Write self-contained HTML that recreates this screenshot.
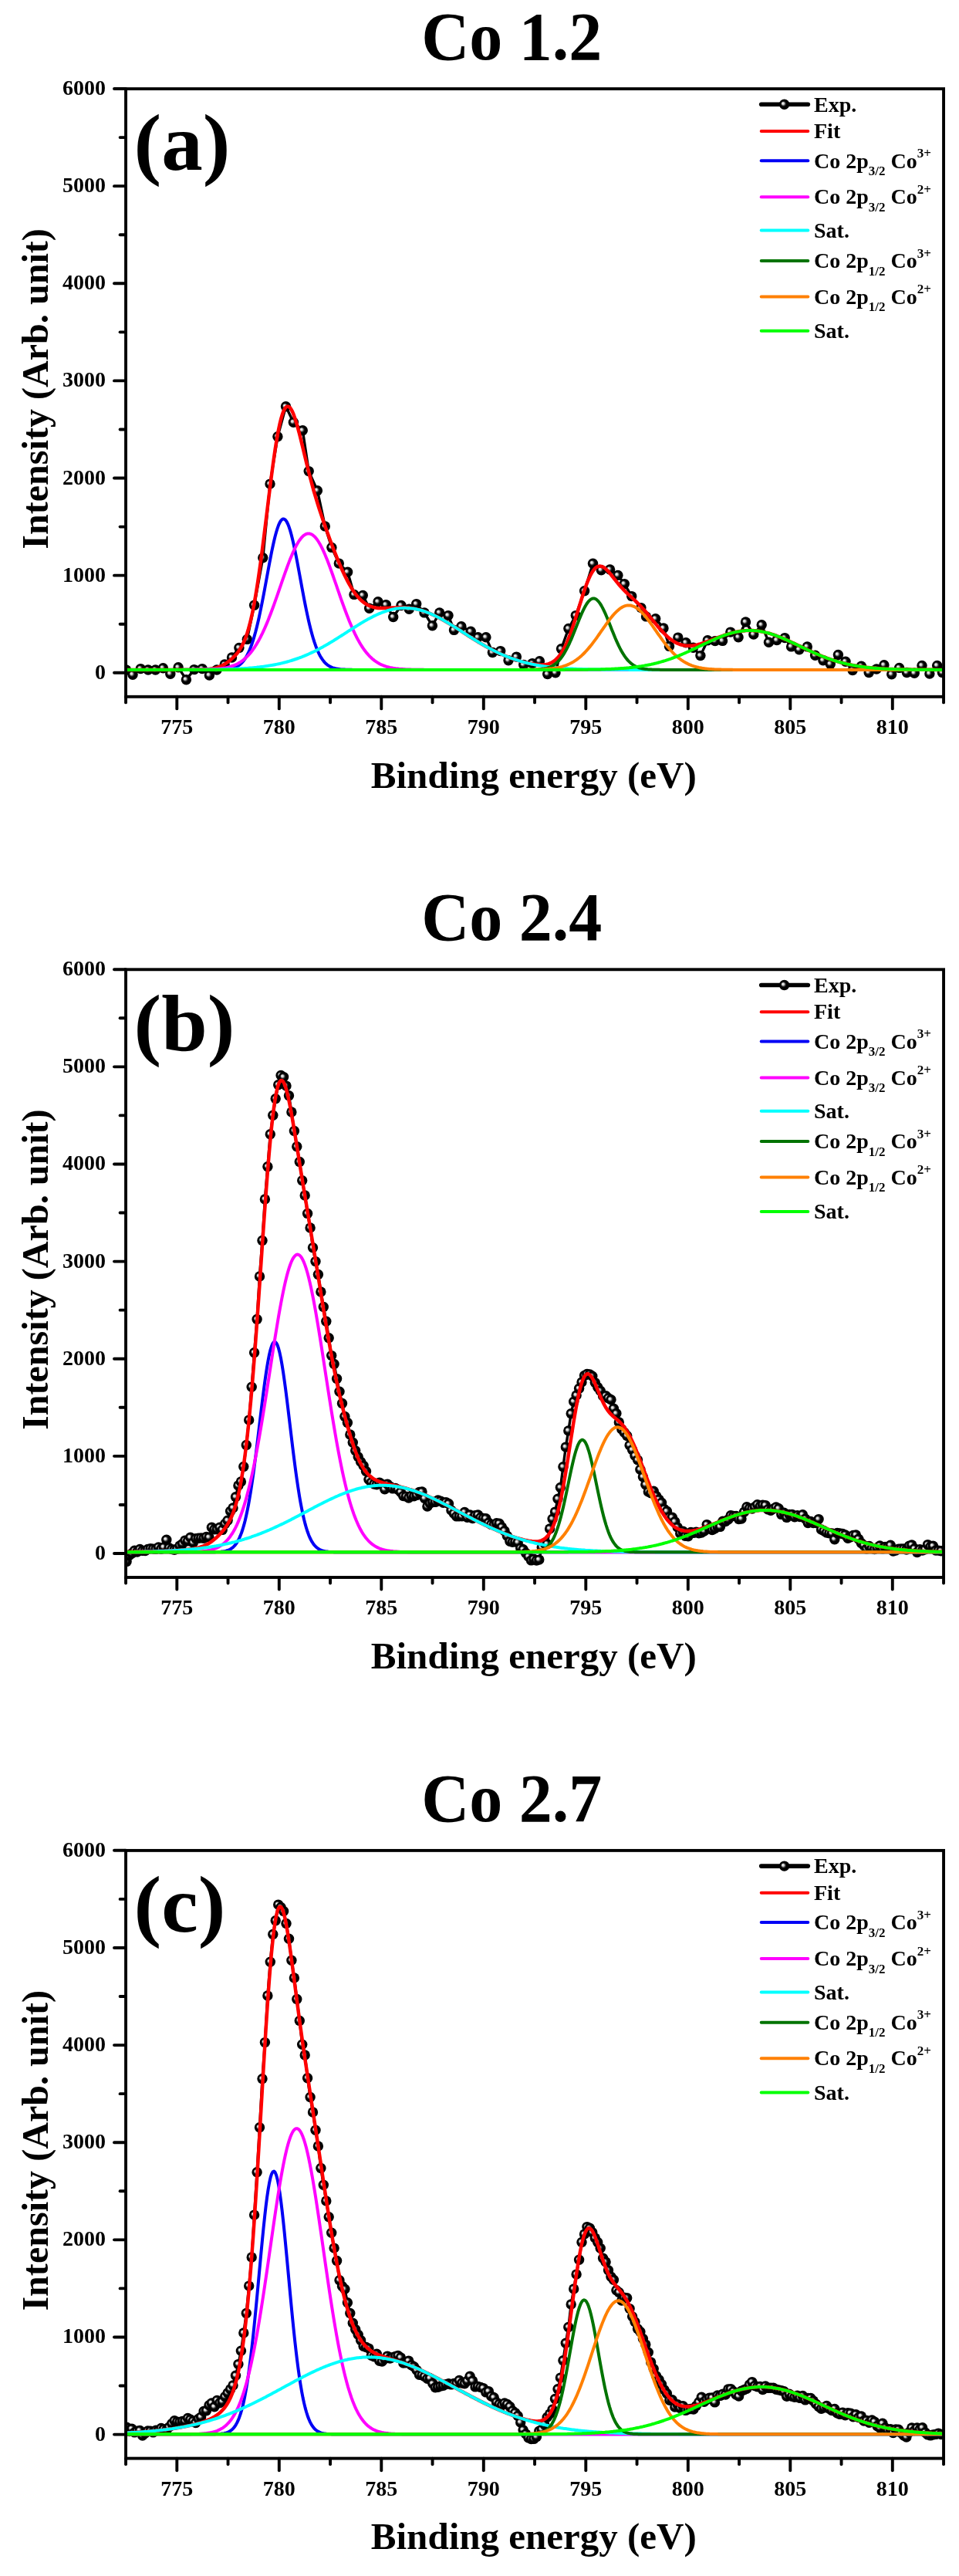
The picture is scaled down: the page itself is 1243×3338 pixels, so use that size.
<!DOCTYPE html><html><head><meta charset="utf-8"><style>html,body{margin:0;padding:0;background:#fff;}svg{display:block;will-change:transform;}</style></head><body>
<svg width="1243" height="3338" viewBox="0 0 1243 3338">
<defs><radialGradient id="sg" cx="0.5" cy="0.5" r="0.5" fx="0.34" fy="0.38"><stop offset="0" stop-color="#ffffff"/><stop offset="0.23" stop-color="#c8c8c8"/><stop offset="0.43" stop-color="#2a2a2a"/><stop offset="0.58" stop-color="#000"/><stop offset="1" stop-color="#000"/></radialGradient>
<circle id="dot" cx="0" cy="0" r="6.7" fill="url(#sg)"/>
<clipPath id="cp"><rect x="163.05" y="115.10" width="1060.00" height="787.70"/></clipPath></defs>
<rect width="1243" height="3338" fill="#fff"/>
<g transform="translate(0,0.0)">
<g clip-path="url(#cp)">
<path d="M163.5,868.0 L172.0,874.2 L182.3,866.6 L192.0,868.0 L201.5,868.0 L211.4,865.7 L220.8,873.2 L231.1,864.8 L241.4,880.7 L251.7,867.6 L262.1,866.6 L271.4,875.1 L281.0,868.0 L291.2,861.0 L300.5,852.0 L309.9,839.4 L320.3,828.4 L329.6,784.2 L340.8,722.8 L350.0,627.1 L359.9,565.7 L370.5,526.8 L380.4,547.2 L392.3,557.8 L400.2,610.6 L411.4,635.7 L421.3,681.9 L429.9,709.4 L439.3,730.1 L450.6,741.3 L459.0,770.4 L470.3,771.4 L478.7,788.3 L490.0,779.8 L500.3,783.6 L509.7,799.5 L520.0,784.5 L530.3,789.2 L539.7,782.6 L550.0,793.9 L560.4,810.8 L569.7,793.9 L581.0,797.6 L588.5,816.4 L597.9,811.7 L610.2,818.3 L619.6,825.8 L629.9,825.8 L638.4,845.5 L648.7,843.6 L659.0,855.8 L669.4,851.1 L678.7,861.4 L690.0,859.6 L699.4,856.7 L709.7,873.6 L720.0,871.8 L727.5,840.8 L736.9,814.5 L746.3,797.6 L757.6,765.7 L768.5,730.2 L779.3,738.8 L790.6,737.9 L800.9,745.4 L809.3,756.6 L818.7,772.6 L830.9,787.6 L837.5,798.9 L849.7,801.7 L860.0,813.9 L867.5,837.4 L878.8,826.1 L889.1,832.7 L898.5,839.2 L907.9,849.6 L917.2,829.8 L926.9,830.6 L936.5,830.4 L946.8,819.1 L957.1,825.7 L966.5,806.0 L976.8,822.0 L987.2,809.8 L996.5,832.3 L1006.9,829.5 L1017.2,826.6 L1025.6,837.9 L1035.9,841.7 L1046.3,837.9 L1056.6,849.2 L1066.9,855.7 L1076.3,860.4 L1086.4,848.5 L1096.0,857.3 L1105.1,868.5 L1116.4,863.2 L1126.2,871.5 L1136.1,867.0 L1145.9,861.7 L1155.7,873.8 L1165.6,865.4 L1175.4,871.5 L1185.2,872.3 L1195.0,862.4 L1204.9,873.0 L1214.7,862.4 L1221.4,871.5" fill="none" stroke="#000" stroke-width="3.4" stroke-linejoin="round"/>
<g><use href="#dot" x="163.5" y="868.0"/><use href="#dot" x="172.0" y="874.2"/><use href="#dot" x="182.3" y="866.6"/><use href="#dot" x="192.0" y="868.0"/><use href="#dot" x="201.5" y="868.0"/><use href="#dot" x="211.4" y="865.7"/><use href="#dot" x="220.8" y="873.2"/><use href="#dot" x="231.1" y="864.8"/><use href="#dot" x="241.4" y="880.7"/><use href="#dot" x="251.7" y="867.6"/><use href="#dot" x="262.1" y="866.6"/><use href="#dot" x="271.4" y="875.1"/><use href="#dot" x="281.0" y="868.0"/><use href="#dot" x="291.2" y="861.0"/><use href="#dot" x="300.5" y="852.0"/><use href="#dot" x="309.9" y="839.4"/><use href="#dot" x="320.3" y="828.4"/><use href="#dot" x="329.6" y="784.2"/><use href="#dot" x="340.8" y="722.8"/><use href="#dot" x="350.0" y="627.1"/><use href="#dot" x="359.9" y="565.7"/><use href="#dot" x="370.5" y="526.8"/><use href="#dot" x="380.4" y="547.2"/><use href="#dot" x="392.3" y="557.8"/><use href="#dot" x="400.2" y="610.6"/><use href="#dot" x="411.4" y="635.7"/><use href="#dot" x="421.3" y="681.9"/><use href="#dot" x="429.9" y="709.4"/><use href="#dot" x="439.3" y="730.1"/><use href="#dot" x="450.6" y="741.3"/><use href="#dot" x="459.0" y="770.4"/><use href="#dot" x="470.3" y="771.4"/><use href="#dot" x="478.7" y="788.3"/><use href="#dot" x="490.0" y="779.8"/><use href="#dot" x="500.3" y="783.6"/><use href="#dot" x="509.7" y="799.5"/><use href="#dot" x="520.0" y="784.5"/><use href="#dot" x="530.3" y="789.2"/><use href="#dot" x="539.7" y="782.6"/><use href="#dot" x="550.0" y="793.9"/><use href="#dot" x="560.4" y="810.8"/><use href="#dot" x="569.7" y="793.9"/><use href="#dot" x="581.0" y="797.6"/><use href="#dot" x="588.5" y="816.4"/><use href="#dot" x="597.9" y="811.7"/><use href="#dot" x="610.2" y="818.3"/><use href="#dot" x="619.6" y="825.8"/><use href="#dot" x="629.9" y="825.8"/><use href="#dot" x="638.4" y="845.5"/><use href="#dot" x="648.7" y="843.6"/><use href="#dot" x="659.0" y="855.8"/><use href="#dot" x="669.4" y="851.1"/><use href="#dot" x="678.7" y="861.4"/><use href="#dot" x="690.0" y="859.6"/><use href="#dot" x="699.4" y="856.7"/><use href="#dot" x="709.7" y="873.6"/><use href="#dot" x="720.0" y="871.8"/><use href="#dot" x="727.5" y="840.8"/><use href="#dot" x="736.9" y="814.5"/><use href="#dot" x="746.3" y="797.6"/><use href="#dot" x="757.6" y="765.7"/><use href="#dot" x="768.5" y="730.2"/><use href="#dot" x="779.3" y="738.8"/><use href="#dot" x="790.6" y="737.9"/><use href="#dot" x="800.9" y="745.4"/><use href="#dot" x="809.3" y="756.6"/><use href="#dot" x="818.7" y="772.6"/><use href="#dot" x="830.9" y="787.6"/><use href="#dot" x="837.5" y="798.9"/><use href="#dot" x="849.7" y="801.7"/><use href="#dot" x="860.0" y="813.9"/><use href="#dot" x="867.5" y="837.4"/><use href="#dot" x="878.8" y="826.1"/><use href="#dot" x="889.1" y="832.7"/><use href="#dot" x="898.5" y="839.2"/><use href="#dot" x="907.9" y="849.6"/><use href="#dot" x="917.2" y="829.8"/><use href="#dot" x="926.9" y="830.6"/><use href="#dot" x="936.5" y="830.4"/><use href="#dot" x="946.8" y="819.1"/><use href="#dot" x="957.1" y="825.7"/><use href="#dot" x="966.5" y="806.0"/><use href="#dot" x="976.8" y="822.0"/><use href="#dot" x="987.2" y="809.8"/><use href="#dot" x="996.5" y="832.3"/><use href="#dot" x="1006.9" y="829.5"/><use href="#dot" x="1017.2" y="826.6"/><use href="#dot" x="1025.6" y="837.9"/><use href="#dot" x="1035.9" y="841.7"/><use href="#dot" x="1046.3" y="837.9"/><use href="#dot" x="1056.6" y="849.2"/><use href="#dot" x="1066.9" y="855.7"/><use href="#dot" x="1076.3" y="860.4"/><use href="#dot" x="1086.4" y="848.5"/><use href="#dot" x="1096.0" y="857.3"/><use href="#dot" x="1105.1" y="868.5"/><use href="#dot" x="1116.4" y="863.2"/><use href="#dot" x="1126.2" y="871.5"/><use href="#dot" x="1136.1" y="867.0"/><use href="#dot" x="1145.9" y="861.7"/><use href="#dot" x="1155.7" y="873.8"/><use href="#dot" x="1165.6" y="865.4"/><use href="#dot" x="1175.4" y="871.5"/><use href="#dot" x="1185.2" y="872.3"/><use href="#dot" x="1195.0" y="862.4"/><use href="#dot" x="1204.9" y="873.0"/><use href="#dot" x="1214.7" y="862.4"/><use href="#dot" x="1221.4" y="871.5"/></g>
<path d="M163.1,867.9 L164.6,867.9 L166.1,867.9 L167.6,867.9 L169.1,867.9 L170.6,867.9 L172.1,867.9 L173.6,867.9 L175.1,867.9 L176.6,867.9 L178.1,867.9 L179.6,867.9 L181.1,867.9 L182.6,867.9 L184.1,867.9 L185.6,867.9 L187.1,867.9 L188.6,867.9 L190.1,867.9 L191.6,867.9 L193.1,867.9 L194.6,867.9 L196.1,867.9 L197.6,867.9 L199.1,867.9 L200.6,867.9 L202.1,867.9 L203.6,867.9 L205.1,867.9 L206.6,867.9 L208.1,867.9 L209.6,867.9 L211.1,867.9 L212.6,867.9 L214.1,867.9 L215.6,867.9 L217.1,867.9 L218.6,867.9 L220.1,867.9 L221.6,867.9 L223.1,867.9 L224.6,867.9 L226.1,867.9 L227.6,867.9 L229.1,867.9 L230.6,867.9 L232.1,867.9 L233.6,867.8 L235.1,867.8 L236.6,867.8 L238.1,867.8 L239.6,867.8 L241.1,867.8 L242.6,867.8 L244.1,867.8 L245.6,867.8 L247.1,867.8 L248.6,867.8 L250.1,867.7 L251.6,867.7 L253.1,867.7 L254.6,867.7 L256.1,867.6 L257.6,867.6 L259.1,867.6 L260.6,867.5 L262.1,867.5 L263.6,867.4 L265.1,867.4 L266.6,867.3 L268.1,867.2 L269.6,867.1 L271.1,867.0 L272.6,866.8 L274.1,866.6 L275.6,866.4 L277.1,866.1 L278.6,865.8 L280.1,865.4 L281.6,865.0 L283.1,864.5 L284.6,864.0 L286.1,863.3 L287.6,862.6 L289.1,861.9 L290.6,861.0 L292.1,860.1 L293.6,859.1 L295.1,858.0 L296.6,856.9 L298.1,855.7 L299.6,854.4 L301.1,853.1 L302.6,851.7 L304.1,850.2 L305.6,848.5 L307.1,846.8 L308.6,844.9 L310.1,842.8 L311.6,840.5 L313.1,837.9 L314.6,835.1 L316.1,831.8 L317.6,828.2 L319.1,824.2 L320.6,819.7 L322.1,814.7 L323.6,809.2 L325.1,803.1 L326.6,796.4 L328.1,789.2 L329.6,781.3 L331.1,772.9 L332.6,763.9 L334.1,754.3 L335.6,744.2 L337.1,733.6 L338.6,722.6 L340.1,711.1 L341.6,699.4 L343.1,687.4 L344.6,675.2 L346.1,663.0 L347.6,650.7 L349.1,638.6 L350.6,626.6 L352.1,615.0 L353.6,603.7 L355.1,592.9 L356.6,582.7 L358.1,573.2 L359.6,564.4 L361.1,556.5 L362.6,549.4 L364.1,543.2 L365.6,538.0 L367.1,533.7 L368.6,530.5 L370.1,528.2 L371.6,526.9 L373.1,526.6 L374.6,527.1 L376.1,528.5 L377.6,530.7 L379.1,533.6 L380.6,537.2 L382.1,541.4 L383.6,546.0 L385.1,551.1 L386.6,556.6 L388.1,562.3 L389.6,568.3 L391.1,574.4 L392.6,580.5 L394.1,586.8 L395.6,593.0 L397.1,599.1 L398.6,605.2 L400.1,611.2 L401.6,617.1 L403.1,622.8 L404.6,628.4 L406.1,633.8 L407.6,639.1 L409.1,644.2 L410.6,649.2 L412.1,654.0 L413.6,658.8 L415.1,663.4 L416.6,667.9 L418.1,672.4 L419.6,676.8 L421.1,681.1 L422.6,685.3 L424.1,689.5 L425.6,693.6 L427.1,697.7 L428.6,701.7 L430.1,705.7 L431.6,709.6 L433.1,713.5 L434.6,717.3 L436.1,721.1 L437.6,724.8 L439.1,728.4 L440.6,731.9 L442.1,735.4 L443.6,738.8 L445.1,742.1 L446.6,745.3 L448.1,748.3 L449.6,751.3 L451.1,754.2 L452.6,756.9 L454.1,759.5 L455.6,762.0 L457.1,764.4 L458.6,766.6 L460.1,768.8 L461.6,770.7 L463.1,772.6 L464.6,774.3 L466.1,775.9 L467.6,777.4 L469.1,778.8 L470.6,780.0 L472.1,781.2 L473.6,782.2 L475.1,783.1 L476.6,784.0 L478.1,784.7 L479.6,785.4 L481.1,785.9 L482.6,786.4 L484.1,786.8 L485.6,787.2 L487.1,787.5 L488.6,787.7 L490.1,787.9 L491.6,788.0 L493.1,788.1 L494.6,788.1 L496.1,788.1 L497.6,788.1 L499.1,788.1 L500.6,788.0 L502.1,788.0 L503.6,787.9 L505.1,787.8 L506.6,787.7 L508.1,787.6 L509.6,787.6 L511.1,787.5 L512.5,787.4 L514.0,787.3 L515.5,787.3 L517.0,787.2 L518.5,787.2 L520.0,787.2 L521.5,787.2 L523.0,787.2 L524.5,787.3 L526.0,787.4 L527.5,787.5 L529.0,787.6 L530.5,787.8 L532.0,787.9 L533.5,788.1 L535.0,788.4 L536.5,788.6 L538.0,788.9 L539.5,789.2 L541.0,789.6 L542.5,789.9 L544.0,790.3 L545.5,790.7 L547.0,791.2 L548.5,791.7 L550.0,792.2 L551.5,792.7 L553.0,793.2 L554.5,793.8 L556.0,794.4 L557.5,795.0 L559.0,795.7 L560.5,796.4 L562.0,797.0 L563.5,797.8 L565.0,798.5 L566.5,799.2 L568.0,800.0 L569.5,800.8 L571.0,801.6 L572.5,802.4 L574.0,803.3 L575.5,804.1 L577.0,805.0 L578.5,805.8 L580.0,806.7 L581.5,807.6 L583.0,808.5 L584.5,809.5 L586.0,810.4 L587.5,811.3 L589.0,812.3 L590.5,813.2 L592.0,814.2 L593.5,815.1 L595.0,816.1 L596.5,817.0 L598.0,818.0 L599.5,819.0 L601.0,819.9 L602.5,820.9 L604.0,821.9 L605.5,822.8 L607.0,823.8 L608.5,824.8 L610.0,825.7 L611.5,826.7 L613.0,827.6 L614.5,828.5 L616.0,829.5 L617.5,830.4 L619.0,831.3 L620.5,832.2 L622.0,833.1 L623.5,834.0 L625.0,834.9 L626.5,835.8 L628.0,836.6 L629.5,837.5 L631.0,838.3 L632.5,839.1 L634.0,839.9 L635.5,840.7 L637.0,841.5 L638.5,842.3 L640.0,843.1 L641.5,843.8 L643.0,844.5 L644.5,845.3 L646.0,846.0 L647.5,846.7 L649.0,847.4 L650.5,848.0 L652.0,848.7 L653.5,849.3 L655.0,849.9 L656.5,850.5 L658.0,851.1 L659.5,851.7 L661.0,852.3 L662.5,852.8 L664.0,853.4 L665.5,853.9 L667.0,854.4 L668.5,854.9 L670.0,855.4 L671.5,855.9 L673.0,856.3 L674.5,856.8 L676.0,857.2 L677.5,857.6 L679.0,858.0 L680.5,858.4 L682.0,858.7 L683.5,859.1 L685.0,859.4 L686.5,859.7 L688.0,860.0 L689.5,860.3 L691.0,860.5 L692.5,860.8 L694.0,861.0 L695.5,861.1 L697.0,861.3 L698.5,861.4 L700.0,861.4 L701.5,861.5 L703.0,861.4 L704.5,861.4 L706.0,861.2 L707.5,861.0 L709.0,860.7 L710.5,860.3 L712.0,859.8 L713.5,859.2 L715.0,858.5 L716.5,857.7 L718.0,856.7 L719.5,855.5 L721.0,854.2 L722.5,852.7 L724.0,851.0 L725.5,849.1 L727.0,847.0 L728.5,844.7 L730.0,842.1 L731.5,839.4 L733.0,836.3 L734.5,833.1 L736.0,829.6 L737.5,825.9 L739.0,822.0 L740.5,817.8 L742.0,813.5 L743.5,809.0 L745.0,804.4 L746.5,799.7 L748.0,794.9 L749.5,790.0 L751.0,785.1 L752.5,780.3 L754.0,775.5 L755.5,770.8 L757.0,766.3 L758.5,761.9 L760.0,757.8 L761.5,753.9 L763.0,750.3 L764.5,747.1 L766.0,744.1 L767.5,741.5 L769.0,739.3 L770.5,737.4 L772.0,735.9 L773.5,734.8 L775.0,734.0 L776.5,733.7 L778.0,733.6 L779.5,733.9 L781.0,734.4 L782.5,735.2 L784.0,736.3 L785.5,737.6 L787.0,739.0 L788.5,740.6 L790.0,742.3 L791.5,744.1 L793.0,746.0 L794.5,747.9 L796.0,749.8 L797.5,751.7 L799.0,753.6 L800.5,755.4 L802.0,757.2 L803.5,759.0 L805.0,760.7 L806.5,762.3 L808.0,763.9 L809.5,765.5 L811.0,767.0 L812.5,768.4 L814.0,769.8 L815.5,771.2 L817.0,772.6 L818.5,774.0 L820.0,775.4 L821.5,776.8 L823.0,778.2 L824.5,779.6 L826.0,781.0 L827.5,782.5 L829.0,784.0 L830.5,785.6 L832.0,787.2 L833.5,788.8 L835.0,790.5 L836.5,792.2 L838.0,794.0 L839.5,795.8 L841.0,797.6 L842.5,799.4 L844.0,801.2 L845.5,803.1 L847.0,804.9 L848.5,806.7 L850.0,808.6 L851.5,810.4 L853.0,812.2 L854.5,813.9 L856.0,815.6 L857.5,817.3 L859.0,818.9 L860.5,820.5 L862.0,822.0 L863.5,823.5 L865.0,824.9 L866.5,826.2 L868.0,827.4 L869.5,828.6 L871.0,829.7 L872.5,830.7 L874.0,831.6 L875.5,832.4 L877.0,833.2 L878.5,833.9 L880.0,834.5 L881.5,835.1 L883.0,835.5 L884.5,835.9 L886.0,836.2 L887.5,836.5 L889.0,836.7 L890.5,836.8 L892.0,836.8 L893.5,836.8 L895.0,836.8 L896.5,836.7 L898.0,836.5 L899.5,836.3 L901.0,836.0 L902.5,835.7 L904.0,835.4 L905.5,835.0 L907.0,834.6 L908.5,834.2 L910.0,833.7 L911.5,833.2 L913.0,832.7 L914.5,832.2 L916.0,831.7 L917.5,831.1 L919.0,830.6 L920.5,830.0 L922.0,829.4 L923.5,828.8 L925.0,828.3 L926.5,827.7 L928.0,827.1 L929.5,826.5 L931.0,825.9 L932.5,825.4 L934.0,824.8 L935.5,824.3 L937.0,823.8 L938.5,823.2 L940.0,822.7 L941.5,822.2 L943.0,821.8 L944.5,821.3 L946.0,820.9 L947.5,820.5 L949.0,820.1 L950.5,819.7 L952.0,819.3 L953.5,819.0 L955.0,818.7 L956.5,818.4 L958.0,818.1 L959.5,817.9 L961.0,817.7 L962.5,817.5 L964.0,817.4 L965.5,817.2 L967.0,817.1 L968.5,817.1 L970.0,817.0 L971.5,817.0 L973.0,817.0 L974.5,817.0 L976.0,817.1 L977.5,817.2 L979.0,817.3 L980.5,817.5 L982.0,817.6 L983.5,817.8 L985.0,818.1 L986.5,818.3 L988.0,818.6 L989.5,818.9 L991.0,819.2 L992.5,819.6 L994.0,819.9 L995.5,820.3 L997.0,820.7 L998.5,821.2 L1000.0,821.7 L1001.5,822.1 L1003.0,822.6 L1004.5,823.2 L1006.0,823.7 L1007.5,824.3 L1009.0,824.8 L1010.5,825.4 L1012.0,826.0 L1013.5,826.6 L1015.0,827.3 L1016.5,827.9 L1018.0,828.6 L1019.5,829.2 L1021.0,829.9 L1022.5,830.6 L1024.0,831.3 L1025.5,832.0 L1027.0,832.7 L1028.5,833.4 L1030.0,834.1 L1031.5,834.8 L1033.0,835.5 L1034.5,836.2 L1036.0,837.0 L1037.5,837.7 L1039.0,838.4 L1040.5,839.1 L1042.0,839.8 L1043.5,840.5 L1045.0,841.3 L1046.5,842.0 L1048.0,842.7 L1049.5,843.4 L1051.0,844.0 L1052.5,844.7 L1054.0,845.4 L1055.5,846.1 L1057.0,846.7 L1058.5,847.4 L1060.0,848.0 L1061.5,848.6 L1063.0,849.3 L1064.5,849.9 L1066.0,850.5 L1067.5,851.1 L1069.0,851.6 L1070.5,852.2 L1072.0,852.8 L1073.5,853.3 L1075.0,853.8 L1076.5,854.4 L1078.0,854.9 L1079.5,855.4 L1081.0,855.9 L1082.5,856.3 L1084.0,856.8 L1085.5,857.2 L1087.0,857.7 L1088.5,858.1 L1090.0,858.5 L1091.5,858.9 L1093.0,859.3 L1094.5,859.6 L1096.0,860.0 L1097.5,860.4 L1099.0,860.7 L1100.5,861.0 L1102.0,861.3 L1103.5,861.6 L1105.0,861.9 L1106.5,862.2 L1108.0,862.5 L1109.5,862.8 L1111.0,863.0 L1112.5,863.2 L1114.0,863.5 L1115.5,863.7 L1117.0,863.9 L1118.5,864.1 L1120.0,864.3 L1121.5,864.5 L1123.0,864.7 L1124.5,864.9 L1126.0,865.0 L1127.5,865.2 L1129.0,865.3 L1130.5,865.5 L1132.0,865.6 L1133.5,865.7 L1135.0,865.9 L1136.5,866.0 L1138.0,866.1 L1139.5,866.2 L1141.0,866.3 L1142.5,866.4 L1144.0,866.5 L1145.5,866.6 L1147.0,866.7 L1148.5,866.7 L1150.0,866.8 L1151.5,866.9 L1153.0,866.9 L1154.5,867.0 L1156.0,867.1 L1157.5,867.1 L1159.0,867.2 L1160.5,867.2 L1162.0,867.3 L1163.5,867.3 L1165.0,867.3 L1166.5,867.4 L1168.0,867.4 L1169.5,867.4 L1171.0,867.5 L1172.5,867.5 L1174.0,867.5 L1175.5,867.6 L1177.0,867.6 L1178.5,867.6 L1180.0,867.6 L1181.5,867.7 L1183.0,867.7 L1184.5,867.7 L1186.0,867.7 L1187.5,867.7 L1189.0,867.7 L1190.5,867.7 L1192.0,867.8 L1193.5,867.8 L1195.0,867.8 L1196.5,867.8 L1198.0,867.8 L1199.5,867.8 L1201.0,867.8 L1202.5,867.8 L1204.0,867.8 L1205.5,867.8 L1207.0,867.8 L1208.5,867.8 L1210.0,867.8 L1211.5,867.9 L1213.0,867.9 L1214.5,867.9 L1216.0,867.9 L1217.5,867.9 L1219.0,867.9 L1220.5,867.9 L1222.0,867.9 L1223.0,867.9" fill="none" stroke="#ff0000" stroke-width="4.5" stroke-linejoin="round"/>
<path d="M163.1,867.9 L164.6,867.9 L166.1,867.9 L167.6,867.9 L169.1,867.9 L170.6,867.9 L172.1,867.9 L173.6,867.9 L175.1,867.9 L176.6,867.9 L178.1,867.9 L179.6,867.9 L181.1,867.9 L182.6,867.9 L184.1,867.9 L185.6,867.9 L187.1,867.9 L188.6,867.9 L190.1,867.9 L191.6,867.9 L193.1,867.9 L194.6,867.9 L196.1,867.9 L197.6,867.9 L199.1,867.9 L200.6,867.9 L202.1,867.9 L203.6,867.9 L205.1,867.9 L206.6,867.9 L208.1,867.9 L209.6,867.9 L211.1,867.9 L212.6,867.9 L214.1,867.9 L215.6,867.9 L217.1,867.9 L218.6,867.9 L220.1,867.9 L221.6,867.9 L223.1,867.9 L224.6,867.9 L226.1,867.9 L227.6,867.9 L229.1,867.9 L230.6,867.9 L232.1,867.9 L233.6,867.9 L235.1,867.9 L236.6,867.9 L238.1,867.9 L239.6,867.9 L241.1,867.9 L242.6,867.9 L244.1,867.9 L245.6,867.9 L247.1,867.9 L248.6,867.9 L250.1,867.9 L251.6,867.9 L253.1,867.9 L254.6,867.9 L256.1,867.9 L257.6,867.9 L259.1,867.9 L260.6,867.9 L262.1,867.9 L263.6,867.9 L265.1,867.9 L266.6,867.9 L268.1,867.9 L269.6,867.9 L271.1,867.9 L272.6,867.9 L274.1,867.9 L275.6,867.9 L277.1,867.9 L278.6,867.9 L280.1,867.8 L281.6,867.8 L283.1,867.8 L284.6,867.8 L286.1,867.7 L287.6,867.7 L289.1,867.6 L290.6,867.5 L292.1,867.4 L293.6,867.3 L295.1,867.1 L296.6,866.9 L298.1,866.7 L299.6,866.4 L301.1,866.0 L302.6,865.6 L304.1,865.1 L305.6,864.4 L307.1,863.7 L308.6,862.8 L310.1,861.8 L311.6,860.6 L313.1,859.2 L314.6,857.6 L316.1,855.7 L317.6,853.6 L319.1,851.2 L320.6,848.5 L322.1,845.5 L323.6,842.1 L325.1,838.3 L326.6,834.2 L328.1,829.6 L329.6,824.6 L331.1,819.3 L332.6,813.5 L334.1,807.3 L335.6,800.7 L337.1,793.7 L338.6,786.4 L340.1,778.9 L341.6,771.1 L343.1,763.1 L344.6,755.0 L346.1,746.8 L347.6,738.7 L349.1,730.6 L350.6,722.8 L352.1,715.2 L353.6,708.0 L355.1,701.3 L356.6,695.0 L358.1,689.5 L359.6,684.6 L361.1,680.4 L362.6,677.1 L364.1,674.6 L365.6,673.1 L367.1,672.4 L368.6,672.7 L370.1,673.9 L371.6,676.0 L373.1,679.0 L374.6,682.8 L376.1,687.4 L377.6,692.7 L379.1,698.7 L380.6,705.2 L382.1,712.3 L383.6,719.7 L385.1,727.4 L386.6,735.4 L388.1,743.5 L389.6,751.7 L391.1,759.8 L392.6,767.9 L394.1,775.8 L395.6,783.5 L397.1,790.9 L398.6,797.9 L400.1,804.7 L401.6,811.0 L403.1,817.0 L404.6,822.5 L406.1,827.7 L407.6,832.4 L409.1,836.7 L410.6,840.6 L412.1,844.2 L413.6,847.4 L415.1,850.2 L416.6,852.7 L418.1,854.9 L419.6,856.9 L421.1,858.6 L422.6,860.1 L424.1,861.3 L425.6,862.4 L427.1,863.4 L428.6,864.1 L430.1,864.8 L431.6,865.4 L433.1,865.8 L434.6,866.2 L436.1,866.6 L437.6,866.8 L439.1,867.0 L440.6,867.2 L442.1,867.4 L443.6,867.5 L445.1,867.6 L446.6,867.6 L448.1,867.7 L449.6,867.7 L451.1,867.8 L452.6,867.8 L454.1,867.8 L455.6,867.8 L457.1,867.9 L458.6,867.9 L460.1,867.9 L461.6,867.9 L463.1,867.9 L464.6,867.9 L466.1,867.9 L467.6,867.9 L469.1,867.9 L470.6,867.9 L472.1,867.9 L473.6,867.9 L475.1,867.9 L476.6,867.9 L478.1,867.9 L479.6,867.9 L481.1,867.9 L482.6,867.9 L484.1,867.9 L485.6,867.9 L487.1,867.9 L488.6,867.9 L490.1,867.9 L491.6,867.9 L493.1,867.9 L494.6,867.9 L496.1,867.9 L497.6,867.9 L499.1,867.9 L500.6,867.9 L502.1,867.9 L503.6,867.9 L505.1,867.9 L506.6,867.9 L508.1,867.9 L509.6,867.9 L511.1,867.9 L512.5,867.9 L514.0,867.9 L515.5,867.9 L517.0,867.9 L518.5,867.9 L520.0,867.9 L521.5,867.9 L523.0,867.9 L524.5,867.9 L526.0,867.9 L527.5,867.9 L529.0,867.9 L530.5,867.9 L532.0,867.9 L533.5,867.9 L535.0,867.9 L536.5,867.9 L538.0,867.9 L539.5,867.9 L541.0,867.9 L542.5,867.9 L544.0,867.9 L545.5,867.9 L547.0,867.9 L548.5,867.9 L550.0,867.9 L551.5,867.9 L553.0,867.9 L554.5,867.9 L556.0,867.9 L557.5,867.9 L559.0,867.9 L560.5,867.9 L562.0,867.9 L563.5,867.9 L565.0,867.9 L566.5,867.9 L568.0,867.9 L569.5,867.9 L571.0,867.9 L572.5,867.9 L574.0,867.9 L575.5,867.9 L577.0,867.9 L578.5,867.9 L580.0,867.9 L581.5,867.9 L583.0,867.9 L584.5,867.9 L586.0,867.9 L587.5,867.9 L589.0,867.9 L590.5,867.9 L592.0,867.9 L593.5,867.9 L595.0,867.9 L596.5,867.9 L598.0,867.9 L599.5,867.9 L601.0,867.9 L602.5,867.9 L604.0,867.9 L605.5,867.9 L607.0,867.9 L608.5,867.9 L610.0,867.9 L611.5,867.9 L613.0,867.9 L614.5,867.9 L616.0,867.9 L617.5,867.9 L619.0,867.9 L620.5,867.9 L622.0,867.9 L623.5,867.9 L625.0,867.9 L626.5,867.9 L628.0,867.9 L629.5,867.9 L631.0,867.9 L632.5,867.9 L634.0,867.9 L635.5,867.9 L637.0,867.9 L638.5,867.9 L640.0,867.9 L641.5,867.9 L643.0,867.9 L644.5,867.9 L646.0,867.9 L647.5,867.9 L649.0,867.9 L650.5,867.9 L652.0,867.9 L653.5,867.9 L655.0,867.9 L656.5,867.9 L658.0,867.9 L659.5,867.9 L661.0,867.9 L662.5,867.9 L664.0,867.9 L665.5,867.9 L667.0,867.9 L668.5,867.9 L670.0,867.9 L671.5,867.9 L673.0,867.9 L674.5,867.9 L676.0,867.9 L677.5,867.9 L679.0,867.9 L680.5,867.9 L682.0,867.9 L683.5,867.9 L685.0,867.9 L686.5,867.9 L688.0,867.9 L689.5,867.9 L691.0,867.9 L692.5,867.9 L694.0,867.9 L695.5,867.9 L697.0,867.9 L698.5,867.9 L700.0,867.9 L701.5,867.9 L703.0,867.9 L704.5,867.9 L706.0,867.9 L707.5,867.9 L709.0,867.9 L710.5,867.9 L712.0,867.9 L713.5,867.9 L715.0,867.9 L716.5,867.9 L718.0,867.9 L719.5,867.9 L721.0,867.9 L722.5,867.9 L724.0,867.9 L725.5,867.9 L727.0,867.9 L728.5,867.9 L730.0,867.9 L731.5,867.9 L733.0,867.9 L734.5,867.9 L736.0,867.9 L737.5,867.9 L739.0,867.9 L740.5,867.9 L742.0,867.9 L743.5,867.9 L745.0,867.9 L746.5,867.9 L748.0,867.9 L749.5,867.9 L751.0,867.9 L752.5,867.9 L754.0,867.9 L755.5,867.9 L757.0,867.9 L758.5,867.9 L760.0,867.9 L761.5,867.9 L763.0,867.9 L764.5,867.9 L766.0,867.9 L767.5,867.9 L769.0,867.9 L770.5,867.9 L772.0,867.9 L773.5,867.9 L775.0,867.9 L776.5,867.9 L778.0,867.9 L779.5,867.9 L781.0,867.9 L782.5,867.9 L784.0,867.9 L785.5,867.9 L787.0,867.9 L788.5,867.9 L790.0,867.9 L791.5,867.9 L793.0,867.9 L794.5,867.9 L796.0,867.9 L797.5,867.9 L799.0,867.9 L800.5,867.9 L802.0,867.9 L803.5,867.9 L805.0,867.9 L806.5,867.9 L808.0,867.9 L809.5,867.9 L811.0,867.9 L812.5,867.9 L814.0,867.9 L815.5,867.9 L817.0,867.9 L818.5,867.9 L820.0,867.9 L821.5,867.9 L823.0,867.9 L824.5,867.9 L826.0,867.9 L827.5,867.9 L829.0,867.9 L830.5,867.9 L832.0,867.9 L833.5,867.9 L835.0,867.9 L836.5,867.9 L838.0,867.9 L839.5,867.9 L841.0,867.9 L842.5,867.9 L844.0,867.9 L845.5,867.9 L847.0,867.9 L848.5,867.9 L850.0,867.9 L851.5,867.9 L853.0,867.9 L854.5,867.9 L856.0,867.9 L857.5,867.9 L859.0,867.9 L860.5,867.9 L862.0,867.9 L863.5,867.9 L865.0,867.9 L866.5,867.9 L868.0,867.9 L869.5,867.9 L871.0,867.9 L872.5,867.9 L874.0,867.9 L875.5,867.9 L877.0,867.9 L878.5,867.9 L880.0,867.9 L881.5,867.9 L883.0,867.9 L884.5,867.9 L886.0,867.9 L887.5,867.9 L889.0,867.9 L890.5,867.9 L892.0,867.9 L893.5,867.9 L895.0,867.9 L896.5,867.9 L898.0,867.9 L899.5,867.9 L901.0,867.9 L902.5,867.9 L904.0,867.9 L905.5,867.9 L907.0,867.9 L908.5,867.9 L910.0,867.9 L911.5,867.9 L913.0,867.9 L914.5,867.9 L916.0,867.9 L917.5,867.9 L919.0,867.9 L920.5,867.9 L922.0,867.9 L923.5,867.9 L925.0,867.9 L926.5,867.9 L928.0,867.9 L929.5,867.9 L931.0,867.9 L932.5,867.9 L934.0,867.9 L935.5,867.9 L937.0,867.9 L938.5,867.9 L940.0,867.9 L941.5,867.9 L943.0,867.9 L944.5,867.9 L946.0,867.9 L947.5,867.9 L949.0,867.9 L950.5,867.9 L952.0,867.9 L953.5,867.9 L955.0,867.9 L956.5,867.9 L958.0,867.9 L959.5,867.9 L961.0,867.9 L962.5,867.9 L964.0,867.9 L965.5,867.9 L967.0,867.9 L968.5,867.9 L970.0,867.9 L971.5,867.9 L973.0,867.9 L974.5,867.9 L976.0,867.9 L977.5,867.9 L979.0,867.9 L980.5,867.9 L982.0,867.9 L983.5,867.9 L985.0,867.9 L986.5,867.9 L988.0,867.9 L989.5,867.9 L991.0,867.9 L992.5,867.9 L994.0,867.9 L995.5,867.9 L997.0,867.9 L998.5,867.9 L1000.0,867.9 L1001.5,867.9 L1003.0,867.9 L1004.5,867.9 L1006.0,867.9 L1007.5,867.9 L1009.0,867.9 L1010.5,867.9 L1012.0,867.9 L1013.5,867.9 L1015.0,867.9 L1016.5,867.9 L1018.0,867.9 L1019.5,867.9 L1021.0,867.9 L1022.5,867.9 L1024.0,867.9 L1025.5,867.9 L1027.0,867.9 L1028.5,867.9 L1030.0,867.9 L1031.5,867.9 L1033.0,867.9 L1034.5,867.9 L1036.0,867.9 L1037.5,867.9 L1039.0,867.9 L1040.5,867.9 L1042.0,867.9 L1043.5,867.9 L1045.0,867.9 L1046.5,867.9 L1048.0,867.9 L1049.5,867.9 L1051.0,867.9 L1052.5,867.9 L1054.0,867.9 L1055.5,867.9 L1057.0,867.9 L1058.5,867.9 L1060.0,867.9 L1061.5,867.9 L1063.0,867.9 L1064.5,867.9 L1066.0,867.9 L1067.5,867.9 L1069.0,867.9 L1070.5,867.9 L1072.0,867.9 L1073.5,867.9 L1075.0,867.9 L1076.5,867.9 L1078.0,867.9 L1079.5,867.9 L1081.0,867.9 L1082.5,867.9 L1084.0,867.9 L1085.5,867.9 L1087.0,867.9 L1088.5,867.9 L1090.0,867.9 L1091.5,867.9 L1093.0,867.9 L1094.5,867.9 L1096.0,867.9 L1097.5,867.9 L1099.0,867.9 L1100.5,867.9 L1102.0,867.9 L1103.5,867.9 L1105.0,867.9 L1106.5,867.9 L1108.0,867.9 L1109.5,867.9 L1111.0,867.9 L1112.5,867.9 L1114.0,867.9 L1115.5,867.9 L1117.0,867.9 L1118.5,867.9 L1120.0,867.9 L1121.5,867.9 L1123.0,867.9 L1124.5,867.9 L1126.0,867.9 L1127.5,867.9 L1129.0,867.9 L1130.5,867.9 L1132.0,867.9 L1133.5,867.9 L1135.0,867.9 L1136.5,867.9 L1138.0,867.9 L1139.5,867.9 L1141.0,867.9 L1142.5,867.9 L1144.0,867.9 L1145.5,867.9 L1147.0,867.9 L1148.5,867.9 L1150.0,867.9 L1151.5,867.9 L1153.0,867.9 L1154.5,867.9 L1156.0,867.9 L1157.5,867.9 L1159.0,867.9 L1160.5,867.9 L1162.0,867.9 L1163.5,867.9 L1165.0,867.9 L1166.5,867.9 L1168.0,867.9 L1169.5,867.9 L1171.0,867.9 L1172.5,867.9 L1174.0,867.9 L1175.5,867.9 L1177.0,867.9 L1178.5,867.9 L1180.0,867.9 L1181.5,867.9 L1183.0,867.9 L1184.5,867.9 L1186.0,867.9 L1187.5,867.9 L1189.0,867.9 L1190.5,867.9 L1192.0,867.9 L1193.5,867.9 L1195.0,867.9 L1196.5,867.9 L1198.0,867.9 L1199.5,867.9 L1201.0,867.9 L1202.5,867.9 L1204.0,867.9 L1205.5,867.9 L1207.0,867.9 L1208.5,867.9 L1210.0,867.9 L1211.5,867.9 L1213.0,867.9 L1214.5,867.9 L1216.0,867.9 L1217.5,867.9 L1219.0,867.9 L1220.5,867.9 L1222.0,867.9 L1223.0,867.9" fill="none" stroke="#0000f5" stroke-width="4" stroke-linejoin="round"/>
<path d="M163.1,867.9 L164.6,867.9 L166.1,867.9 L167.6,867.9 L169.1,867.9 L170.6,867.9 L172.1,867.9 L173.6,867.9 L175.1,867.9 L176.6,867.9 L178.1,867.9 L179.6,867.9 L181.1,867.9 L182.6,867.9 L184.1,867.9 L185.6,867.9 L187.1,867.9 L188.6,867.9 L190.1,867.9 L191.6,867.9 L193.1,867.9 L194.6,867.9 L196.1,867.9 L197.6,867.9 L199.1,867.9 L200.6,867.9 L202.1,867.9 L203.6,867.9 L205.1,867.9 L206.6,867.9 L208.1,867.9 L209.6,867.9 L211.1,867.9 L212.6,867.9 L214.1,867.9 L215.6,867.9 L217.1,867.9 L218.6,867.9 L220.1,867.9 L221.6,867.9 L223.1,867.9 L224.6,867.9 L226.1,867.9 L227.6,867.9 L229.1,867.9 L230.6,867.9 L232.1,867.9 L233.6,867.9 L235.1,867.9 L236.6,867.9 L238.1,867.9 L239.6,867.9 L241.1,867.9 L242.6,867.9 L244.1,867.9 L245.6,867.9 L247.1,867.9 L248.6,867.9 L250.1,867.9 L251.6,867.8 L253.1,867.8 L254.6,867.8 L256.1,867.8 L257.6,867.8 L259.1,867.8 L260.6,867.8 L262.1,867.7 L263.6,867.7 L265.1,867.7 L266.6,867.6 L268.1,867.6 L269.6,867.6 L271.1,867.5 L272.6,867.4 L274.1,867.4 L275.6,867.3 L277.1,867.2 L278.6,867.1 L280.1,867.0 L281.6,866.9 L283.1,866.7 L284.6,866.6 L286.1,866.4 L287.6,866.2 L289.1,866.0 L290.6,865.7 L292.1,865.4 L293.6,865.1 L295.1,864.8 L296.6,864.4 L298.1,864.0 L299.6,863.5 L301.1,863.0 L302.6,862.5 L304.1,861.9 L305.6,861.2 L307.1,860.5 L308.6,859.7 L310.1,858.8 L311.6,857.9 L313.1,856.9 L314.6,855.8 L316.1,854.6 L317.6,853.3 L319.1,851.9 L320.6,850.5 L322.1,848.9 L323.6,847.2 L325.1,845.4 L326.6,843.5 L328.1,841.4 L329.6,839.3 L331.1,837.0 L332.6,834.6 L334.1,832.0 L335.6,829.4 L337.1,826.6 L338.6,823.6 L340.1,820.6 L341.6,817.4 L343.1,814.1 L344.6,810.6 L346.1,807.1 L347.6,803.4 L349.1,799.6 L350.6,795.7 L352.1,791.8 L353.6,787.7 L355.1,783.6 L356.6,779.4 L358.1,775.1 L359.6,770.8 L361.1,766.5 L362.6,762.1 L364.1,757.8 L365.6,753.4 L367.1,749.1 L368.6,744.8 L370.1,740.6 L371.6,736.5 L373.1,732.4 L374.6,728.4 L376.1,724.6 L377.6,720.9 L379.1,717.4 L380.6,714.0 L382.1,710.8 L383.6,707.8 L385.1,705.1 L386.6,702.5 L388.1,700.2 L389.6,698.2 L391.1,696.4 L392.6,694.8 L394.1,693.6 L395.6,692.6 L397.1,691.9 L398.6,691.5 L400.1,691.4 L401.6,691.6 L403.1,692.1 L404.6,692.8 L406.1,693.9 L407.6,695.2 L409.1,696.8 L410.6,698.7 L412.1,700.8 L413.6,703.2 L415.1,705.8 L416.6,708.6 L418.1,711.7 L419.6,714.9 L421.1,718.3 L422.6,721.9 L424.1,725.6 L425.6,729.5 L427.1,733.5 L428.6,737.6 L430.1,741.7 L431.6,746.0 L433.1,750.3 L434.6,754.6 L436.1,758.9 L437.6,763.3 L439.1,767.6 L440.6,772.0 L442.1,776.3 L443.6,780.5 L445.1,784.7 L446.6,788.8 L448.1,792.8 L449.6,796.8 L451.1,800.6 L452.6,804.4 L454.1,808.0 L455.6,811.5 L457.1,815.0 L458.6,818.2 L460.1,821.4 L461.6,824.4 L463.1,827.3 L464.6,830.1 L466.1,832.7 L467.6,835.2 L469.1,837.6 L470.6,839.9 L472.1,842.0 L473.6,844.0 L475.1,845.9 L476.6,847.6 L478.1,849.3 L479.6,850.9 L481.1,852.3 L482.6,853.7 L484.1,854.9 L485.6,856.1 L487.1,857.1 L488.6,858.1 L490.1,859.1 L491.6,859.9 L493.1,860.7 L494.6,861.4 L496.1,862.0 L497.6,862.6 L499.1,863.2 L500.6,863.7 L502.1,864.1 L503.6,864.5 L505.1,864.9 L506.6,865.2 L508.1,865.5 L509.6,865.8 L511.1,866.0 L512.5,866.3 L514.0,866.4 L515.5,866.6 L517.0,866.8 L518.5,866.9 L520.0,867.0 L521.5,867.1 L523.0,867.2 L524.5,867.3 L526.0,867.4 L527.5,867.5 L529.0,867.5 L530.5,867.6 L532.0,867.6 L533.5,867.7 L535.0,867.7 L536.5,867.7 L538.0,867.7 L539.5,867.8 L541.0,867.8 L542.5,867.8 L544.0,867.8 L545.5,867.8 L547.0,867.8 L548.5,867.8 L550.0,867.9 L551.5,867.9 L553.0,867.9 L554.5,867.9 L556.0,867.9 L557.5,867.9 L559.0,867.9 L560.5,867.9 L562.0,867.9 L563.5,867.9 L565.0,867.9 L566.5,867.9 L568.0,867.9 L569.5,867.9 L571.0,867.9 L572.5,867.9 L574.0,867.9 L575.5,867.9 L577.0,867.9 L578.5,867.9 L580.0,867.9 L581.5,867.9 L583.0,867.9 L584.5,867.9 L586.0,867.9 L587.5,867.9 L589.0,867.9 L590.5,867.9 L592.0,867.9 L593.5,867.9 L595.0,867.9 L596.5,867.9 L598.0,867.9 L599.5,867.9 L601.0,867.9 L602.5,867.9 L604.0,867.9 L605.5,867.9 L607.0,867.9 L608.5,867.9 L610.0,867.9 L611.5,867.9 L613.0,867.9 L614.5,867.9 L616.0,867.9 L617.5,867.9 L619.0,867.9 L620.5,867.9 L622.0,867.9 L623.5,867.9 L625.0,867.9 L626.5,867.9 L628.0,867.9 L629.5,867.9 L631.0,867.9 L632.5,867.9 L634.0,867.9 L635.5,867.9 L637.0,867.9 L638.5,867.9 L640.0,867.9 L641.5,867.9 L643.0,867.9 L644.5,867.9 L646.0,867.9 L647.5,867.9 L649.0,867.9 L650.5,867.9 L652.0,867.9 L653.5,867.9 L655.0,867.9 L656.5,867.9 L658.0,867.9 L659.5,867.9 L661.0,867.9 L662.5,867.9 L664.0,867.9 L665.5,867.9 L667.0,867.9 L668.5,867.9 L670.0,867.9 L671.5,867.9 L673.0,867.9 L674.5,867.9 L676.0,867.9 L677.5,867.9 L679.0,867.9 L680.5,867.9 L682.0,867.9 L683.5,867.9 L685.0,867.9 L686.5,867.9 L688.0,867.9 L689.5,867.9 L691.0,867.9 L692.5,867.9 L694.0,867.9 L695.5,867.9 L697.0,867.9 L698.5,867.9 L700.0,867.9 L701.5,867.9 L703.0,867.9 L704.5,867.9 L706.0,867.9 L707.5,867.9 L709.0,867.9 L710.5,867.9 L712.0,867.9 L713.5,867.9 L715.0,867.9 L716.5,867.9 L718.0,867.9 L719.5,867.9 L721.0,867.9 L722.5,867.9 L724.0,867.9 L725.5,867.9 L727.0,867.9 L728.5,867.9 L730.0,867.9 L731.5,867.9 L733.0,867.9 L734.5,867.9 L736.0,867.9 L737.5,867.9 L739.0,867.9 L740.5,867.9 L742.0,867.9 L743.5,867.9 L745.0,867.9 L746.5,867.9 L748.0,867.9 L749.5,867.9 L751.0,867.9 L752.5,867.9 L754.0,867.9 L755.5,867.9 L757.0,867.9 L758.5,867.9 L760.0,867.9 L761.5,867.9 L763.0,867.9 L764.5,867.9 L766.0,867.9 L767.5,867.9 L769.0,867.9 L770.5,867.9 L772.0,867.9 L773.5,867.9 L775.0,867.9 L776.5,867.9 L778.0,867.9 L779.5,867.9 L781.0,867.9 L782.5,867.9 L784.0,867.9 L785.5,867.9 L787.0,867.9 L788.5,867.9 L790.0,867.9 L791.5,867.9 L793.0,867.9 L794.5,867.9 L796.0,867.9 L797.5,867.9 L799.0,867.9 L800.5,867.9 L802.0,867.9 L803.5,867.9 L805.0,867.9 L806.5,867.9 L808.0,867.9 L809.5,867.9 L811.0,867.9 L812.5,867.9 L814.0,867.9 L815.5,867.9 L817.0,867.9 L818.5,867.9 L820.0,867.9 L821.5,867.9 L823.0,867.9 L824.5,867.9 L826.0,867.9 L827.5,867.9 L829.0,867.9 L830.5,867.9 L832.0,867.9 L833.5,867.9 L835.0,867.9 L836.5,867.9 L838.0,867.9 L839.5,867.9 L841.0,867.9 L842.5,867.9 L844.0,867.9 L845.5,867.9 L847.0,867.9 L848.5,867.9 L850.0,867.9 L851.5,867.9 L853.0,867.9 L854.5,867.9 L856.0,867.9 L857.5,867.9 L859.0,867.9 L860.5,867.9 L862.0,867.9 L863.5,867.9 L865.0,867.9 L866.5,867.9 L868.0,867.9 L869.5,867.9 L871.0,867.9 L872.5,867.9 L874.0,867.9 L875.5,867.9 L877.0,867.9 L878.5,867.9 L880.0,867.9 L881.5,867.9 L883.0,867.9 L884.5,867.9 L886.0,867.9 L887.5,867.9 L889.0,867.9 L890.5,867.9 L892.0,867.9 L893.5,867.9 L895.0,867.9 L896.5,867.9 L898.0,867.9 L899.5,867.9 L901.0,867.9 L902.5,867.9 L904.0,867.9 L905.5,867.9 L907.0,867.9 L908.5,867.9 L910.0,867.9 L911.5,867.9 L913.0,867.9 L914.5,867.9 L916.0,867.9 L917.5,867.9 L919.0,867.9 L920.5,867.9 L922.0,867.9 L923.5,867.9 L925.0,867.9 L926.5,867.9 L928.0,867.9 L929.5,867.9 L931.0,867.9 L932.5,867.9 L934.0,867.9 L935.5,867.9 L937.0,867.9 L938.5,867.9 L940.0,867.9 L941.5,867.9 L943.0,867.9 L944.5,867.9 L946.0,867.9 L947.5,867.9 L949.0,867.9 L950.5,867.9 L952.0,867.9 L953.5,867.9 L955.0,867.9 L956.5,867.9 L958.0,867.9 L959.5,867.9 L961.0,867.9 L962.5,867.9 L964.0,867.9 L965.5,867.9 L967.0,867.9 L968.5,867.9 L970.0,867.9 L971.5,867.9 L973.0,867.9 L974.5,867.9 L976.0,867.9 L977.5,867.9 L979.0,867.9 L980.5,867.9 L982.0,867.9 L983.5,867.9 L985.0,867.9 L986.5,867.9 L988.0,867.9 L989.5,867.9 L991.0,867.9 L992.5,867.9 L994.0,867.9 L995.5,867.9 L997.0,867.9 L998.5,867.9 L1000.0,867.9 L1001.5,867.9 L1003.0,867.9 L1004.5,867.9 L1006.0,867.9 L1007.5,867.9 L1009.0,867.9 L1010.5,867.9 L1012.0,867.9 L1013.5,867.9 L1015.0,867.9 L1016.5,867.9 L1018.0,867.9 L1019.5,867.9 L1021.0,867.9 L1022.5,867.9 L1024.0,867.9 L1025.5,867.9 L1027.0,867.9 L1028.5,867.9 L1030.0,867.9 L1031.5,867.9 L1033.0,867.9 L1034.5,867.9 L1036.0,867.9 L1037.5,867.9 L1039.0,867.9 L1040.5,867.9 L1042.0,867.9 L1043.5,867.9 L1045.0,867.9 L1046.5,867.9 L1048.0,867.9 L1049.5,867.9 L1051.0,867.9 L1052.5,867.9 L1054.0,867.9 L1055.5,867.9 L1057.0,867.9 L1058.5,867.9 L1060.0,867.9 L1061.5,867.9 L1063.0,867.9 L1064.5,867.9 L1066.0,867.9 L1067.5,867.9 L1069.0,867.9 L1070.5,867.9 L1072.0,867.9 L1073.5,867.9 L1075.0,867.9 L1076.5,867.9 L1078.0,867.9 L1079.5,867.9 L1081.0,867.9 L1082.5,867.9 L1084.0,867.9 L1085.5,867.9 L1087.0,867.9 L1088.5,867.9 L1090.0,867.9 L1091.5,867.9 L1093.0,867.9 L1094.5,867.9 L1096.0,867.9 L1097.5,867.9 L1099.0,867.9 L1100.5,867.9 L1102.0,867.9 L1103.5,867.9 L1105.0,867.9 L1106.5,867.9 L1108.0,867.9 L1109.5,867.9 L1111.0,867.9 L1112.5,867.9 L1114.0,867.9 L1115.5,867.9 L1117.0,867.9 L1118.5,867.9 L1120.0,867.9 L1121.5,867.9 L1123.0,867.9 L1124.5,867.9 L1126.0,867.9 L1127.5,867.9 L1129.0,867.9 L1130.5,867.9 L1132.0,867.9 L1133.5,867.9 L1135.0,867.9 L1136.5,867.9 L1138.0,867.9 L1139.5,867.9 L1141.0,867.9 L1142.5,867.9 L1144.0,867.9 L1145.5,867.9 L1147.0,867.9 L1148.5,867.9 L1150.0,867.9 L1151.5,867.9 L1153.0,867.9 L1154.5,867.9 L1156.0,867.9 L1157.5,867.9 L1159.0,867.9 L1160.5,867.9 L1162.0,867.9 L1163.5,867.9 L1165.0,867.9 L1166.5,867.9 L1168.0,867.9 L1169.5,867.9 L1171.0,867.9 L1172.5,867.9 L1174.0,867.9 L1175.5,867.9 L1177.0,867.9 L1178.5,867.9 L1180.0,867.9 L1181.5,867.9 L1183.0,867.9 L1184.5,867.9 L1186.0,867.9 L1187.5,867.9 L1189.0,867.9 L1190.5,867.9 L1192.0,867.9 L1193.5,867.9 L1195.0,867.9 L1196.5,867.9 L1198.0,867.9 L1199.5,867.9 L1201.0,867.9 L1202.5,867.9 L1204.0,867.9 L1205.5,867.9 L1207.0,867.9 L1208.5,867.9 L1210.0,867.9 L1211.5,867.9 L1213.0,867.9 L1214.5,867.9 L1216.0,867.9 L1217.5,867.9 L1219.0,867.9 L1220.5,867.9 L1222.0,867.9 L1223.0,867.9" fill="none" stroke="#ff00ff" stroke-width="4" stroke-linejoin="round"/>
<path d="M163.1,867.9 L164.6,867.9 L166.1,867.9 L167.6,867.9 L169.1,867.9 L170.6,867.9 L172.1,867.9 L173.6,867.9 L175.1,867.9 L176.6,867.9 L178.1,867.9 L179.6,867.9 L181.1,867.9 L182.6,867.9 L184.1,867.9 L185.6,867.9 L187.1,867.9 L188.6,867.9 L190.1,867.9 L191.6,867.9 L193.1,867.9 L194.6,867.9 L196.1,867.9 L197.6,867.9 L199.1,867.9 L200.6,867.9 L202.1,867.9 L203.6,867.9 L205.1,867.9 L206.6,867.9 L208.1,867.9 L209.6,867.9 L211.1,867.9 L212.6,867.9 L214.1,867.9 L215.6,867.9 L217.1,867.9 L218.6,867.9 L220.1,867.9 L221.6,867.9 L223.1,867.9 L224.6,867.9 L226.1,867.9 L227.6,867.9 L229.1,867.9 L230.6,867.9 L232.1,867.9 L233.6,867.9 L235.1,867.9 L236.6,867.8 L238.1,867.8 L239.6,867.8 L241.1,867.8 L242.6,867.8 L244.1,867.8 L245.6,867.8 L247.1,867.8 L248.6,867.8 L250.1,867.8 L251.6,867.8 L253.1,867.8 L254.6,867.8 L256.1,867.8 L257.6,867.8 L259.1,867.7 L260.6,867.7 L262.1,867.7 L263.6,867.7 L265.1,867.7 L266.6,867.7 L268.1,867.7 L269.6,867.6 L271.1,867.6 L272.6,867.6 L274.1,867.6 L275.6,867.6 L277.1,867.5 L278.6,867.5 L280.1,867.5 L281.6,867.5 L283.1,867.4 L284.6,867.4 L286.1,867.4 L287.6,867.3 L289.1,867.3 L290.6,867.3 L292.1,867.2 L293.6,867.2 L295.1,867.1 L296.6,867.1 L298.1,867.0 L299.6,867.0 L301.1,866.9 L302.6,866.9 L304.1,866.8 L305.6,866.7 L307.1,866.7 L308.6,866.6 L310.1,866.5 L311.6,866.4 L313.1,866.3 L314.6,866.3 L316.1,866.2 L317.6,866.1 L319.1,866.0 L320.6,865.9 L322.1,865.7 L323.6,865.6 L325.1,865.5 L326.6,865.4 L328.1,865.2 L329.6,865.1 L331.1,864.9 L332.6,864.8 L334.1,864.6 L335.6,864.5 L337.1,864.3 L338.6,864.1 L340.1,863.9 L341.6,863.7 L343.1,863.5 L344.6,863.3 L346.1,863.1 L347.6,862.8 L349.1,862.6 L350.6,862.3 L352.1,862.1 L353.6,861.8 L355.1,861.5 L356.6,861.2 L358.1,860.9 L359.6,860.6 L361.1,860.3 L362.6,860.0 L364.1,859.6 L365.6,859.3 L367.1,858.9 L368.6,858.5 L370.1,858.1 L371.6,857.7 L373.1,857.3 L374.6,856.9 L376.1,856.4 L377.6,856.0 L379.1,855.5 L380.6,855.0 L382.1,854.5 L383.6,854.0 L385.1,853.5 L386.6,853.0 L388.1,852.4 L389.6,851.8 L391.1,851.3 L392.6,850.7 L394.1,850.1 L395.6,849.4 L397.1,848.8 L398.6,848.2 L400.1,847.5 L401.6,846.8 L403.1,846.1 L404.6,845.4 L406.1,844.7 L407.6,844.0 L409.1,843.2 L410.6,842.5 L412.1,841.7 L413.6,840.9 L415.1,840.1 L416.6,839.3 L418.1,838.5 L419.6,837.6 L421.1,836.8 L422.6,835.9 L424.1,835.1 L425.6,834.2 L427.1,833.3 L428.6,832.4 L430.1,831.5 L431.6,830.6 L433.1,829.7 L434.6,828.7 L436.1,827.8 L437.6,826.8 L439.1,825.9 L440.6,824.9 L442.1,824.0 L443.6,823.0 L445.1,822.1 L446.6,821.1 L448.1,820.1 L449.6,819.2 L451.1,818.2 L452.6,817.2 L454.1,816.3 L455.6,815.3 L457.1,814.4 L458.6,813.4 L460.1,812.5 L461.6,811.5 L463.1,810.6 L464.6,809.6 L466.1,808.7 L467.6,807.8 L469.1,806.9 L470.6,806.0 L472.1,805.1 L473.6,804.3 L475.1,803.4 L476.6,802.6 L478.1,801.8 L479.6,801.0 L481.1,800.2 L482.6,799.4 L484.1,798.6 L485.6,797.9 L487.1,797.2 L488.6,796.5 L490.1,795.8 L491.6,795.2 L493.1,794.6 L494.6,794.0 L496.1,793.4 L497.6,792.8 L499.1,792.3 L500.6,791.8 L502.1,791.3 L503.6,790.9 L505.1,790.5 L506.6,790.1 L508.1,789.7 L509.6,789.4 L511.1,789.1 L512.5,788.8 L514.0,788.6 L515.5,788.4 L517.0,788.2 L518.5,788.1 L520.0,788.0 L521.5,787.9 L523.0,787.8 L524.5,787.8 L526.0,787.8 L527.5,787.9 L529.0,787.9 L530.5,788.0 L532.0,788.2 L533.5,788.4 L535.0,788.6 L536.5,788.8 L538.0,789.0 L539.5,789.3 L541.0,789.7 L542.5,790.0 L544.0,790.4 L545.5,790.8 L547.0,791.2 L548.5,791.7 L550.0,792.2 L551.5,792.7 L553.0,793.3 L554.5,793.8 L556.0,794.4 L557.5,795.1 L559.0,795.7 L560.5,796.4 L562.0,797.1 L563.5,797.8 L565.0,798.5 L566.5,799.2 L568.0,800.0 L569.5,800.8 L571.0,801.6 L572.5,802.4 L574.0,803.3 L575.5,804.1 L577.0,805.0 L578.5,805.8 L580.0,806.7 L581.5,807.6 L583.0,808.5 L584.5,809.5 L586.0,810.4 L587.5,811.3 L589.0,812.3 L590.5,813.2 L592.0,814.2 L593.5,815.1 L595.0,816.1 L596.5,817.0 L598.0,818.0 L599.5,819.0 L601.0,819.9 L602.5,820.9 L604.0,821.9 L605.5,822.8 L607.0,823.8 L608.5,824.8 L610.0,825.7 L611.5,826.7 L613.0,827.6 L614.5,828.5 L616.0,829.5 L617.5,830.4 L619.0,831.3 L620.5,832.2 L622.0,833.1 L623.5,834.0 L625.0,834.9 L626.5,835.8 L628.0,836.6 L629.5,837.5 L631.0,838.3 L632.5,839.1 L634.0,839.9 L635.5,840.7 L637.0,841.5 L638.5,842.3 L640.0,843.1 L641.5,843.8 L643.0,844.5 L644.5,845.3 L646.0,846.0 L647.5,846.7 L649.0,847.4 L650.5,848.0 L652.0,848.7 L653.5,849.3 L655.0,849.9 L656.5,850.6 L658.0,851.1 L659.5,851.7 L661.0,852.3 L662.5,852.9 L664.0,853.4 L665.5,853.9 L667.0,854.4 L668.5,854.9 L670.0,855.4 L671.5,855.9 L673.0,856.4 L674.5,856.8 L676.0,857.2 L677.5,857.6 L679.0,858.1 L680.5,858.5 L682.0,858.8 L683.5,859.2 L685.0,859.6 L686.5,859.9 L688.0,860.2 L689.5,860.6 L691.0,860.9 L692.5,861.2 L694.0,861.5 L695.5,861.8 L697.0,862.0 L698.5,862.3 L700.0,862.5 L701.5,862.8 L703.0,863.0 L704.5,863.3 L706.0,863.5 L707.5,863.7 L709.0,863.9 L710.5,864.1 L712.0,864.3 L713.5,864.4 L715.0,864.6 L716.5,864.8 L718.0,864.9 L719.5,865.1 L721.0,865.2 L722.5,865.3 L724.0,865.5 L725.5,865.6 L727.0,865.7 L728.5,865.8 L730.0,865.9 L731.5,866.0 L733.0,866.1 L734.5,866.2 L736.0,866.3 L737.5,866.4 L739.0,866.5 L740.5,866.6 L742.0,866.6 L743.5,866.7 L745.0,866.8 L746.5,866.8 L748.0,866.9 L749.5,867.0 L751.0,867.0 L752.5,867.1 L754.0,867.1 L755.5,867.2 L757.0,867.2 L758.5,867.2 L760.0,867.3 L761.5,867.3 L763.0,867.4 L764.5,867.4 L766.0,867.4 L767.5,867.5 L769.0,867.5 L770.5,867.5 L772.0,867.5 L773.5,867.6 L775.0,867.6 L776.5,867.6 L778.0,867.6 L779.5,867.6 L781.0,867.7 L782.5,867.7 L784.0,867.7 L785.5,867.7 L787.0,867.7 L788.5,867.7 L790.0,867.7 L791.5,867.7 L793.0,867.8 L794.5,867.8 L796.0,867.8 L797.5,867.8 L799.0,867.8 L800.5,867.8 L802.0,867.8 L803.5,867.8 L805.0,867.8 L806.5,867.8 L808.0,867.8 L809.5,867.8 L811.0,867.8 L812.5,867.8 L814.0,867.8 L815.5,867.9 L817.0,867.9 L818.5,867.9 L820.0,867.9 L821.5,867.9 L823.0,867.9 L824.5,867.9 L826.0,867.9 L827.5,867.9 L829.0,867.9 L830.5,867.9 L832.0,867.9 L833.5,867.9 L835.0,867.9 L836.5,867.9 L838.0,867.9 L839.5,867.9 L841.0,867.9 L842.5,867.9 L844.0,867.9 L845.5,867.9 L847.0,867.9 L848.5,867.9 L850.0,867.9 L851.5,867.9 L853.0,867.9 L854.5,867.9 L856.0,867.9 L857.5,867.9 L859.0,867.9 L860.5,867.9 L862.0,867.9 L863.5,867.9 L865.0,867.9 L866.5,867.9 L868.0,867.9 L869.5,867.9 L871.0,867.9 L872.5,867.9 L874.0,867.9 L875.5,867.9 L877.0,867.9 L878.5,867.9 L880.0,867.9 L881.5,867.9 L883.0,867.9 L884.5,867.9 L886.0,867.9 L887.5,867.9 L889.0,867.9 L890.5,867.9 L892.0,867.9 L893.5,867.9 L895.0,867.9 L896.5,867.9 L898.0,867.9 L899.5,867.9 L901.0,867.9 L902.5,867.9 L904.0,867.9 L905.5,867.9 L907.0,867.9 L908.5,867.9 L910.0,867.9 L911.5,867.9 L913.0,867.9 L914.5,867.9 L916.0,867.9 L917.5,867.9 L919.0,867.9 L920.5,867.9 L922.0,867.9 L923.5,867.9 L925.0,867.9 L926.5,867.9 L928.0,867.9 L929.5,867.9 L931.0,867.9 L932.5,867.9 L934.0,867.9 L935.5,867.9 L937.0,867.9 L938.5,867.9 L940.0,867.9 L941.5,867.9 L943.0,867.9 L944.5,867.9 L946.0,867.9 L947.5,867.9 L949.0,867.9 L950.5,867.9 L952.0,867.9 L953.5,867.9 L955.0,867.9 L956.5,867.9 L958.0,867.9 L959.5,867.9 L961.0,867.9 L962.5,867.9 L964.0,867.9 L965.5,867.9 L967.0,867.9 L968.5,867.9 L970.0,867.9 L971.5,867.9 L973.0,867.9 L974.5,867.9 L976.0,867.9 L977.5,867.9 L979.0,867.9 L980.5,867.9 L982.0,867.9 L983.5,867.9 L985.0,867.9 L986.5,867.9 L988.0,867.9 L989.5,867.9 L991.0,867.9 L992.5,867.9 L994.0,867.9 L995.5,867.9 L997.0,867.9 L998.5,867.9 L1000.0,867.9 L1001.5,867.9 L1003.0,867.9 L1004.5,867.9 L1006.0,867.9 L1007.5,867.9 L1009.0,867.9 L1010.5,867.9 L1012.0,867.9 L1013.5,867.9 L1015.0,867.9 L1016.5,867.9 L1018.0,867.9 L1019.5,867.9 L1021.0,867.9 L1022.5,867.9 L1024.0,867.9 L1025.5,867.9 L1027.0,867.9 L1028.5,867.9 L1030.0,867.9 L1031.5,867.9 L1033.0,867.9 L1034.5,867.9 L1036.0,867.9 L1037.5,867.9 L1039.0,867.9 L1040.5,867.9 L1042.0,867.9 L1043.5,867.9 L1045.0,867.9 L1046.5,867.9 L1048.0,867.9 L1049.5,867.9 L1051.0,867.9 L1052.5,867.9 L1054.0,867.9 L1055.5,867.9 L1057.0,867.9 L1058.5,867.9 L1060.0,867.9 L1061.5,867.9 L1063.0,867.9 L1064.5,867.9 L1066.0,867.9 L1067.5,867.9 L1069.0,867.9 L1070.5,867.9 L1072.0,867.9 L1073.5,867.9 L1075.0,867.9 L1076.5,867.9 L1078.0,867.9 L1079.5,867.9 L1081.0,867.9 L1082.5,867.9 L1084.0,867.9 L1085.5,867.9 L1087.0,867.9 L1088.5,867.9 L1090.0,867.9 L1091.5,867.9 L1093.0,867.9 L1094.5,867.9 L1096.0,867.9 L1097.5,867.9 L1099.0,867.9 L1100.5,867.9 L1102.0,867.9 L1103.5,867.9 L1105.0,867.9 L1106.5,867.9 L1108.0,867.9 L1109.5,867.9 L1111.0,867.9 L1112.5,867.9 L1114.0,867.9 L1115.5,867.9 L1117.0,867.9 L1118.5,867.9 L1120.0,867.9 L1121.5,867.9 L1123.0,867.9 L1124.5,867.9 L1126.0,867.9 L1127.5,867.9 L1129.0,867.9 L1130.5,867.9 L1132.0,867.9 L1133.5,867.9 L1135.0,867.9 L1136.5,867.9 L1138.0,867.9 L1139.5,867.9 L1141.0,867.9 L1142.5,867.9 L1144.0,867.9 L1145.5,867.9 L1147.0,867.9 L1148.5,867.9 L1150.0,867.9 L1151.5,867.9 L1153.0,867.9 L1154.5,867.9 L1156.0,867.9 L1157.5,867.9 L1159.0,867.9 L1160.5,867.9 L1162.0,867.9 L1163.5,867.9 L1165.0,867.9 L1166.5,867.9 L1168.0,867.9 L1169.5,867.9 L1171.0,867.9 L1172.5,867.9 L1174.0,867.9 L1175.5,867.9 L1177.0,867.9 L1178.5,867.9 L1180.0,867.9 L1181.5,867.9 L1183.0,867.9 L1184.5,867.9 L1186.0,867.9 L1187.5,867.9 L1189.0,867.9 L1190.5,867.9 L1192.0,867.9 L1193.5,867.9 L1195.0,867.9 L1196.5,867.9 L1198.0,867.9 L1199.5,867.9 L1201.0,867.9 L1202.5,867.9 L1204.0,867.9 L1205.5,867.9 L1207.0,867.9 L1208.5,867.9 L1210.0,867.9 L1211.5,867.9 L1213.0,867.9 L1214.5,867.9 L1216.0,867.9 L1217.5,867.9 L1219.0,867.9 L1220.5,867.9 L1222.0,867.9 L1223.0,867.9" fill="none" stroke="#00ffff" stroke-width="4" stroke-linejoin="round"/>
<path d="M163.1,867.9 L164.6,867.9 L166.1,867.9 L167.6,867.9 L169.1,867.9 L170.6,867.9 L172.1,867.9 L173.6,867.9 L175.1,867.9 L176.6,867.9 L178.1,867.9 L179.6,867.9 L181.1,867.9 L182.6,867.9 L184.1,867.9 L185.6,867.9 L187.1,867.9 L188.6,867.9 L190.1,867.9 L191.6,867.9 L193.1,867.9 L194.6,867.9 L196.1,867.9 L197.6,867.9 L199.1,867.9 L200.6,867.9 L202.1,867.9 L203.6,867.9 L205.1,867.9 L206.6,867.9 L208.1,867.9 L209.6,867.9 L211.1,867.9 L212.6,867.9 L214.1,867.9 L215.6,867.9 L217.1,867.9 L218.6,867.9 L220.1,867.9 L221.6,867.9 L223.1,867.9 L224.6,867.9 L226.1,867.9 L227.6,867.9 L229.1,867.9 L230.6,867.9 L232.1,867.9 L233.6,867.9 L235.1,867.9 L236.6,867.9 L238.1,867.9 L239.6,867.9 L241.1,867.9 L242.6,867.9 L244.1,867.9 L245.6,867.9 L247.1,867.9 L248.6,867.9 L250.1,867.9 L251.6,867.9 L253.1,867.9 L254.6,867.9 L256.1,867.9 L257.6,867.9 L259.1,867.9 L260.6,867.9 L262.1,867.9 L263.6,867.9 L265.1,867.9 L266.6,867.9 L268.1,867.9 L269.6,867.9 L271.1,867.9 L272.6,867.9 L274.1,867.9 L275.6,867.9 L277.1,867.9 L278.6,867.9 L280.1,867.9 L281.6,867.9 L283.1,867.9 L284.6,867.9 L286.1,867.9 L287.6,867.9 L289.1,867.9 L290.6,867.9 L292.1,867.9 L293.6,867.9 L295.1,867.9 L296.6,867.9 L298.1,867.9 L299.6,867.9 L301.1,867.9 L302.6,867.9 L304.1,867.9 L305.6,867.9 L307.1,867.9 L308.6,867.9 L310.1,867.9 L311.6,867.9 L313.1,867.9 L314.6,867.9 L316.1,867.9 L317.6,867.9 L319.1,867.9 L320.6,867.9 L322.1,867.9 L323.6,867.9 L325.1,867.9 L326.6,867.9 L328.1,867.9 L329.6,867.9 L331.1,867.9 L332.6,867.9 L334.1,867.9 L335.6,867.9 L337.1,867.9 L338.6,867.9 L340.1,867.9 L341.6,867.9 L343.1,867.9 L344.6,867.9 L346.1,867.9 L347.6,867.9 L349.1,867.9 L350.6,867.9 L352.1,867.9 L353.6,867.9 L355.1,867.9 L356.6,867.9 L358.1,867.9 L359.6,867.9 L361.1,867.9 L362.6,867.9 L364.1,867.9 L365.6,867.9 L367.1,867.9 L368.6,867.9 L370.1,867.9 L371.6,867.9 L373.1,867.9 L374.6,867.9 L376.1,867.9 L377.6,867.9 L379.1,867.9 L380.6,867.9 L382.1,867.9 L383.6,867.9 L385.1,867.9 L386.6,867.9 L388.1,867.9 L389.6,867.9 L391.1,867.9 L392.6,867.9 L394.1,867.9 L395.6,867.9 L397.1,867.9 L398.6,867.9 L400.1,867.9 L401.6,867.9 L403.1,867.9 L404.6,867.9 L406.1,867.9 L407.6,867.9 L409.1,867.9 L410.6,867.9 L412.1,867.9 L413.6,867.9 L415.1,867.9 L416.6,867.9 L418.1,867.9 L419.6,867.9 L421.1,867.9 L422.6,867.9 L424.1,867.9 L425.6,867.9 L427.1,867.9 L428.6,867.9 L430.1,867.9 L431.6,867.9 L433.1,867.9 L434.6,867.9 L436.1,867.9 L437.6,867.9 L439.1,867.9 L440.6,867.9 L442.1,867.9 L443.6,867.9 L445.1,867.9 L446.6,867.9 L448.1,867.9 L449.6,867.9 L451.1,867.9 L452.6,867.9 L454.1,867.9 L455.6,867.9 L457.1,867.9 L458.6,867.9 L460.1,867.9 L461.6,867.9 L463.1,867.9 L464.6,867.9 L466.1,867.9 L467.6,867.9 L469.1,867.9 L470.6,867.9 L472.1,867.9 L473.6,867.9 L475.1,867.9 L476.6,867.9 L478.1,867.9 L479.6,867.9 L481.1,867.9 L482.6,867.9 L484.1,867.9 L485.6,867.9 L487.1,867.9 L488.6,867.9 L490.1,867.9 L491.6,867.9 L493.1,867.9 L494.6,867.9 L496.1,867.9 L497.6,867.9 L499.1,867.9 L500.6,867.9 L502.1,867.9 L503.6,867.9 L505.1,867.9 L506.6,867.9 L508.1,867.9 L509.6,867.9 L511.1,867.9 L512.5,867.9 L514.0,867.9 L515.5,867.9 L517.0,867.9 L518.5,867.9 L520.0,867.9 L521.5,867.9 L523.0,867.9 L524.5,867.9 L526.0,867.9 L527.5,867.9 L529.0,867.9 L530.5,867.9 L532.0,867.9 L533.5,867.9 L535.0,867.9 L536.5,867.9 L538.0,867.9 L539.5,867.9 L541.0,867.9 L542.5,867.9 L544.0,867.9 L545.5,867.9 L547.0,867.9 L548.5,867.9 L550.0,867.9 L551.5,867.9 L553.0,867.9 L554.5,867.9 L556.0,867.9 L557.5,867.9 L559.0,867.9 L560.5,867.9 L562.0,867.9 L563.5,867.9 L565.0,867.9 L566.5,867.9 L568.0,867.9 L569.5,867.9 L571.0,867.9 L572.5,867.9 L574.0,867.9 L575.5,867.9 L577.0,867.9 L578.5,867.9 L580.0,867.9 L581.5,867.9 L583.0,867.9 L584.5,867.9 L586.0,867.9 L587.5,867.9 L589.0,867.9 L590.5,867.9 L592.0,867.9 L593.5,867.9 L595.0,867.9 L596.5,867.9 L598.0,867.9 L599.5,867.9 L601.0,867.9 L602.5,867.9 L604.0,867.9 L605.5,867.9 L607.0,867.9 L608.5,867.9 L610.0,867.9 L611.5,867.9 L613.0,867.9 L614.5,867.9 L616.0,867.9 L617.5,867.9 L619.0,867.9 L620.5,867.9 L622.0,867.9 L623.5,867.9 L625.0,867.9 L626.5,867.9 L628.0,867.9 L629.5,867.9 L631.0,867.9 L632.5,867.9 L634.0,867.9 L635.5,867.9 L637.0,867.9 L638.5,867.9 L640.0,867.9 L641.5,867.9 L643.0,867.9 L644.5,867.9 L646.0,867.9 L647.5,867.9 L649.0,867.9 L650.5,867.9 L652.0,867.9 L653.5,867.9 L655.0,867.9 L656.5,867.9 L658.0,867.9 L659.5,867.9 L661.0,867.9 L662.5,867.9 L664.0,867.9 L665.5,867.9 L667.0,867.9 L668.5,867.9 L670.0,867.9 L671.5,867.9 L673.0,867.9 L674.5,867.9 L676.0,867.9 L677.5,867.9 L679.0,867.9 L680.5,867.9 L682.0,867.9 L683.5,867.8 L685.0,867.8 L686.5,867.8 L688.0,867.8 L689.5,867.8 L691.0,867.7 L692.5,867.7 L694.0,867.6 L695.5,867.5 L697.0,867.4 L698.5,867.3 L700.0,867.2 L701.5,867.0 L703.0,866.8 L704.5,866.6 L706.0,866.3 L707.5,866.0 L709.0,865.6 L710.5,865.1 L712.0,864.6 L713.5,864.0 L715.0,863.3 L716.5,862.5 L718.0,861.5 L719.5,860.5 L721.0,859.3 L722.5,857.9 L724.0,856.4 L725.5,854.7 L727.0,852.9 L728.5,850.8 L730.0,848.6 L731.5,846.2 L733.0,843.6 L734.5,840.9 L736.0,837.9 L737.5,834.8 L739.0,831.5 L740.5,828.1 L742.0,824.5 L743.5,820.8 L745.0,817.1 L746.5,813.3 L748.0,809.5 L749.5,805.8 L751.0,802.1 L752.5,798.4 L754.0,795.0 L755.5,791.7 L757.0,788.6 L758.5,785.8 L760.0,783.2 L761.5,781.0 L763.0,779.1 L764.5,777.6 L766.0,776.5 L767.5,775.8 L769.0,775.5 L770.5,775.6 L772.0,776.2 L773.5,777.2 L775.0,778.6 L776.5,780.3 L778.0,782.4 L779.5,784.9 L781.0,787.6 L782.5,790.6 L784.0,793.8 L785.5,797.3 L787.0,800.8 L788.5,804.5 L790.0,808.3 L791.5,812.1 L793.0,815.9 L794.5,819.6 L796.0,823.3 L797.5,826.9 L799.0,830.4 L800.5,833.7 L802.0,836.9 L803.5,839.9 L805.0,842.7 L806.5,845.4 L808.0,847.8 L809.5,850.1 L811.0,852.2 L812.5,854.1 L814.0,855.9 L815.5,857.4 L817.0,858.8 L818.5,860.1 L820.0,861.2 L821.5,862.2 L823.0,863.0 L824.5,863.8 L826.0,864.4 L827.5,865.0 L829.0,865.5 L830.5,865.9 L832.0,866.2 L833.5,866.5 L835.0,866.8 L836.5,867.0 L838.0,867.1 L839.5,867.3 L841.0,867.4 L842.5,867.5 L844.0,867.6 L845.5,867.7 L847.0,867.7 L848.5,867.7 L850.0,867.8 L851.5,867.8 L853.0,867.8 L854.5,867.8 L856.0,867.9 L857.5,867.9 L859.0,867.9 L860.5,867.9 L862.0,867.9 L863.5,867.9 L865.0,867.9 L866.5,867.9 L868.0,867.9 L869.5,867.9 L871.0,867.9 L872.5,867.9 L874.0,867.9 L875.5,867.9 L877.0,867.9 L878.5,867.9 L880.0,867.9 L881.5,867.9 L883.0,867.9 L884.5,867.9 L886.0,867.9 L887.5,867.9 L889.0,867.9 L890.5,867.9 L892.0,867.9 L893.5,867.9 L895.0,867.9 L896.5,867.9 L898.0,867.9 L899.5,867.9 L901.0,867.9 L902.5,867.9 L904.0,867.9 L905.5,867.9 L907.0,867.9 L908.5,867.9 L910.0,867.9 L911.5,867.9 L913.0,867.9 L914.5,867.9 L916.0,867.9 L917.5,867.9 L919.0,867.9 L920.5,867.9 L922.0,867.9 L923.5,867.9 L925.0,867.9 L926.5,867.9 L928.0,867.9 L929.5,867.9 L931.0,867.9 L932.5,867.9 L934.0,867.9 L935.5,867.9 L937.0,867.9 L938.5,867.9 L940.0,867.9 L941.5,867.9 L943.0,867.9 L944.5,867.9 L946.0,867.9 L947.5,867.9 L949.0,867.9 L950.5,867.9 L952.0,867.9 L953.5,867.9 L955.0,867.9 L956.5,867.9 L958.0,867.9 L959.5,867.9 L961.0,867.9 L962.5,867.9 L964.0,867.9 L965.5,867.9 L967.0,867.9 L968.5,867.9 L970.0,867.9 L971.5,867.9 L973.0,867.9 L974.5,867.9 L976.0,867.9 L977.5,867.9 L979.0,867.9 L980.5,867.9 L982.0,867.9 L983.5,867.9 L985.0,867.9 L986.5,867.9 L988.0,867.9 L989.5,867.9 L991.0,867.9 L992.5,867.9 L994.0,867.9 L995.5,867.9 L997.0,867.9 L998.5,867.9 L1000.0,867.9 L1001.5,867.9 L1003.0,867.9 L1004.5,867.9 L1006.0,867.9 L1007.5,867.9 L1009.0,867.9 L1010.5,867.9 L1012.0,867.9 L1013.5,867.9 L1015.0,867.9 L1016.5,867.9 L1018.0,867.9 L1019.5,867.9 L1021.0,867.9 L1022.5,867.9 L1024.0,867.9 L1025.5,867.9 L1027.0,867.9 L1028.5,867.9 L1030.0,867.9 L1031.5,867.9 L1033.0,867.9 L1034.5,867.9 L1036.0,867.9 L1037.5,867.9 L1039.0,867.9 L1040.5,867.9 L1042.0,867.9 L1043.5,867.9 L1045.0,867.9 L1046.5,867.9 L1048.0,867.9 L1049.5,867.9 L1051.0,867.9 L1052.5,867.9 L1054.0,867.9 L1055.5,867.9 L1057.0,867.9 L1058.5,867.9 L1060.0,867.9 L1061.5,867.9 L1063.0,867.9 L1064.5,867.9 L1066.0,867.9 L1067.5,867.9 L1069.0,867.9 L1070.5,867.9 L1072.0,867.9 L1073.5,867.9 L1075.0,867.9 L1076.5,867.9 L1078.0,867.9 L1079.5,867.9 L1081.0,867.9 L1082.5,867.9 L1084.0,867.9 L1085.5,867.9 L1087.0,867.9 L1088.5,867.9 L1090.0,867.9 L1091.5,867.9 L1093.0,867.9 L1094.5,867.9 L1096.0,867.9 L1097.5,867.9 L1099.0,867.9 L1100.5,867.9 L1102.0,867.9 L1103.5,867.9 L1105.0,867.9 L1106.5,867.9 L1108.0,867.9 L1109.5,867.9 L1111.0,867.9 L1112.5,867.9 L1114.0,867.9 L1115.5,867.9 L1117.0,867.9 L1118.5,867.9 L1120.0,867.9 L1121.5,867.9 L1123.0,867.9 L1124.5,867.9 L1126.0,867.9 L1127.5,867.9 L1129.0,867.9 L1130.5,867.9 L1132.0,867.9 L1133.5,867.9 L1135.0,867.9 L1136.5,867.9 L1138.0,867.9 L1139.5,867.9 L1141.0,867.9 L1142.5,867.9 L1144.0,867.9 L1145.5,867.9 L1147.0,867.9 L1148.5,867.9 L1150.0,867.9 L1151.5,867.9 L1153.0,867.9 L1154.5,867.9 L1156.0,867.9 L1157.5,867.9 L1159.0,867.9 L1160.5,867.9 L1162.0,867.9 L1163.5,867.9 L1165.0,867.9 L1166.5,867.9 L1168.0,867.9 L1169.5,867.9 L1171.0,867.9 L1172.5,867.9 L1174.0,867.9 L1175.5,867.9 L1177.0,867.9 L1178.5,867.9 L1180.0,867.9 L1181.5,867.9 L1183.0,867.9 L1184.5,867.9 L1186.0,867.9 L1187.5,867.9 L1189.0,867.9 L1190.5,867.9 L1192.0,867.9 L1193.5,867.9 L1195.0,867.9 L1196.5,867.9 L1198.0,867.9 L1199.5,867.9 L1201.0,867.9 L1202.5,867.9 L1204.0,867.9 L1205.5,867.9 L1207.0,867.9 L1208.5,867.9 L1210.0,867.9 L1211.5,867.9 L1213.0,867.9 L1214.5,867.9 L1216.0,867.9 L1217.5,867.9 L1219.0,867.9 L1220.5,867.9 L1222.0,867.9 L1223.0,867.9" fill="none" stroke="#007300" stroke-width="4" stroke-linejoin="round"/>
<path d="M163.1,867.9 L164.6,867.9 L166.1,867.9 L167.6,867.9 L169.1,867.9 L170.6,867.9 L172.1,867.9 L173.6,867.9 L175.1,867.9 L176.6,867.9 L178.1,867.9 L179.6,867.9 L181.1,867.9 L182.6,867.9 L184.1,867.9 L185.6,867.9 L187.1,867.9 L188.6,867.9 L190.1,867.9 L191.6,867.9 L193.1,867.9 L194.6,867.9 L196.1,867.9 L197.6,867.9 L199.1,867.9 L200.6,867.9 L202.1,867.9 L203.6,867.9 L205.1,867.9 L206.6,867.9 L208.1,867.9 L209.6,867.9 L211.1,867.9 L212.6,867.9 L214.1,867.9 L215.6,867.9 L217.1,867.9 L218.6,867.9 L220.1,867.9 L221.6,867.9 L223.1,867.9 L224.6,867.9 L226.1,867.9 L227.6,867.9 L229.1,867.9 L230.6,867.9 L232.1,867.9 L233.6,867.9 L235.1,867.9 L236.6,867.9 L238.1,867.9 L239.6,867.9 L241.1,867.9 L242.6,867.9 L244.1,867.9 L245.6,867.9 L247.1,867.9 L248.6,867.9 L250.1,867.9 L251.6,867.9 L253.1,867.9 L254.6,867.9 L256.1,867.9 L257.6,867.9 L259.1,867.9 L260.6,867.9 L262.1,867.9 L263.6,867.9 L265.1,867.9 L266.6,867.9 L268.1,867.9 L269.6,867.9 L271.1,867.9 L272.6,867.9 L274.1,867.9 L275.6,867.9 L277.1,867.9 L278.6,867.9 L280.1,867.9 L281.6,867.9 L283.1,867.9 L284.6,867.9 L286.1,867.9 L287.6,867.9 L289.1,867.9 L290.6,867.9 L292.1,867.9 L293.6,867.9 L295.1,867.9 L296.6,867.9 L298.1,867.9 L299.6,867.9 L301.1,867.9 L302.6,867.9 L304.1,867.9 L305.6,867.9 L307.1,867.9 L308.6,867.9 L310.1,867.9 L311.6,867.9 L313.1,867.9 L314.6,867.9 L316.1,867.9 L317.6,867.9 L319.1,867.9 L320.6,867.9 L322.1,867.9 L323.6,867.9 L325.1,867.9 L326.6,867.9 L328.1,867.9 L329.6,867.9 L331.1,867.9 L332.6,867.9 L334.1,867.9 L335.6,867.9 L337.1,867.9 L338.6,867.9 L340.1,867.9 L341.6,867.9 L343.1,867.9 L344.6,867.9 L346.1,867.9 L347.6,867.9 L349.1,867.9 L350.6,867.9 L352.1,867.9 L353.6,867.9 L355.1,867.9 L356.6,867.9 L358.1,867.9 L359.6,867.9 L361.1,867.9 L362.6,867.9 L364.1,867.9 L365.6,867.9 L367.1,867.9 L368.6,867.9 L370.1,867.9 L371.6,867.9 L373.1,867.9 L374.6,867.9 L376.1,867.9 L377.6,867.9 L379.1,867.9 L380.6,867.9 L382.1,867.9 L383.6,867.9 L385.1,867.9 L386.6,867.9 L388.1,867.9 L389.6,867.9 L391.1,867.9 L392.6,867.9 L394.1,867.9 L395.6,867.9 L397.1,867.9 L398.6,867.9 L400.1,867.9 L401.6,867.9 L403.1,867.9 L404.6,867.9 L406.1,867.9 L407.6,867.9 L409.1,867.9 L410.6,867.9 L412.1,867.9 L413.6,867.9 L415.1,867.9 L416.6,867.9 L418.1,867.9 L419.6,867.9 L421.1,867.9 L422.6,867.9 L424.1,867.9 L425.6,867.9 L427.1,867.9 L428.6,867.9 L430.1,867.9 L431.6,867.9 L433.1,867.9 L434.6,867.9 L436.1,867.9 L437.6,867.9 L439.1,867.9 L440.6,867.9 L442.1,867.9 L443.6,867.9 L445.1,867.9 L446.6,867.9 L448.1,867.9 L449.6,867.9 L451.1,867.9 L452.6,867.9 L454.1,867.9 L455.6,867.9 L457.1,867.9 L458.6,867.9 L460.1,867.9 L461.6,867.9 L463.1,867.9 L464.6,867.9 L466.1,867.9 L467.6,867.9 L469.1,867.9 L470.6,867.9 L472.1,867.9 L473.6,867.9 L475.1,867.9 L476.6,867.9 L478.1,867.9 L479.6,867.9 L481.1,867.9 L482.6,867.9 L484.1,867.9 L485.6,867.9 L487.1,867.9 L488.6,867.9 L490.1,867.9 L491.6,867.9 L493.1,867.9 L494.6,867.9 L496.1,867.9 L497.6,867.9 L499.1,867.9 L500.6,867.9 L502.1,867.9 L503.6,867.9 L505.1,867.9 L506.6,867.9 L508.1,867.9 L509.6,867.9 L511.1,867.9 L512.5,867.9 L514.0,867.9 L515.5,867.9 L517.0,867.9 L518.5,867.9 L520.0,867.9 L521.5,867.9 L523.0,867.9 L524.5,867.9 L526.0,867.9 L527.5,867.9 L529.0,867.9 L530.5,867.9 L532.0,867.9 L533.5,867.9 L535.0,867.9 L536.5,867.9 L538.0,867.9 L539.5,867.9 L541.0,867.9 L542.5,867.9 L544.0,867.9 L545.5,867.9 L547.0,867.9 L548.5,867.9 L550.0,867.9 L551.5,867.9 L553.0,867.9 L554.5,867.9 L556.0,867.9 L557.5,867.9 L559.0,867.9 L560.5,867.9 L562.0,867.9 L563.5,867.9 L565.0,867.9 L566.5,867.9 L568.0,867.9 L569.5,867.9 L571.0,867.9 L572.5,867.9 L574.0,867.9 L575.5,867.9 L577.0,867.9 L578.5,867.9 L580.0,867.9 L581.5,867.9 L583.0,867.9 L584.5,867.9 L586.0,867.9 L587.5,867.9 L589.0,867.9 L590.5,867.9 L592.0,867.9 L593.5,867.9 L595.0,867.9 L596.5,867.9 L598.0,867.9 L599.5,867.9 L601.0,867.9 L602.5,867.9 L604.0,867.9 L605.5,867.9 L607.0,867.9 L608.5,867.9 L610.0,867.9 L611.5,867.9 L613.0,867.9 L614.5,867.9 L616.0,867.9 L617.5,867.9 L619.0,867.9 L620.5,867.9 L622.0,867.9 L623.5,867.9 L625.0,867.9 L626.5,867.9 L628.0,867.9 L629.5,867.9 L631.0,867.9 L632.5,867.9 L634.0,867.9 L635.5,867.9 L637.0,867.9 L638.5,867.9 L640.0,867.9 L641.5,867.9 L643.0,867.9 L644.5,867.9 L646.0,867.9 L647.5,867.9 L649.0,867.9 L650.5,867.9 L652.0,867.9 L653.5,867.9 L655.0,867.9 L656.5,867.9 L658.0,867.9 L659.5,867.9 L661.0,867.9 L662.5,867.9 L664.0,867.9 L665.5,867.9 L667.0,867.9 L668.5,867.9 L670.0,867.9 L671.5,867.9 L673.0,867.9 L674.5,867.9 L676.0,867.9 L677.5,867.9 L679.0,867.9 L680.5,867.8 L682.0,867.8 L683.5,867.8 L685.0,867.8 L686.5,867.8 L688.0,867.8 L689.5,867.8 L691.0,867.7 L692.5,867.7 L694.0,867.7 L695.5,867.6 L697.0,867.6 L698.5,867.6 L700.0,867.5 L701.5,867.4 L703.0,867.4 L704.5,867.3 L706.0,867.2 L707.5,867.1 L709.0,867.0 L710.5,866.9 L712.0,866.8 L713.5,866.6 L715.0,866.4 L716.5,866.3 L718.0,866.1 L719.5,865.8 L721.0,865.6 L722.5,865.3 L724.0,865.0 L725.5,864.6 L727.0,864.3 L728.5,863.9 L730.0,863.4 L731.5,862.9 L733.0,862.4 L734.5,861.8 L736.0,861.2 L737.5,860.6 L739.0,859.8 L740.5,859.1 L742.0,858.2 L743.5,857.4 L745.0,856.4 L746.5,855.4 L748.0,854.3 L749.5,853.2 L751.0,852.0 L752.5,850.7 L754.0,849.4 L755.5,848.0 L757.0,846.5 L758.5,845.0 L760.0,843.3 L761.5,841.7 L763.0,839.9 L764.5,838.1 L766.0,836.3 L767.5,834.4 L769.0,832.4 L770.5,830.4 L772.0,828.4 L773.5,826.3 L775.0,824.2 L776.5,822.0 L778.0,819.9 L779.5,817.7 L781.0,815.6 L782.5,813.4 L784.0,811.3 L785.5,809.2 L787.0,807.1 L788.5,805.0 L790.0,803.0 L791.5,801.1 L793.0,799.2 L794.5,797.4 L796.0,795.7 L797.5,794.1 L799.0,792.6 L800.5,791.2 L802.0,789.9 L803.5,788.7 L805.0,787.7 L806.5,786.8 L808.0,786.0 L809.5,785.4 L811.0,784.9 L812.5,784.6 L814.0,784.4 L815.5,784.4 L817.0,784.5 L818.5,784.8 L820.0,785.3 L821.5,785.8 L823.0,786.6 L824.5,787.4 L826.0,788.4 L827.5,789.6 L829.0,790.8 L830.5,792.2 L832.0,793.7 L833.5,795.3 L835.0,797.0 L836.5,798.7 L838.0,800.6 L839.5,802.5 L841.0,804.5 L842.5,806.5 L844.0,808.6 L845.5,810.7 L847.0,812.8 L848.5,815.0 L850.0,817.2 L851.5,819.3 L853.0,821.5 L854.5,823.6 L856.0,825.7 L857.5,827.8 L859.0,829.9 L860.5,831.9 L862.0,833.9 L863.5,835.8 L865.0,837.7 L866.5,839.5 L868.0,841.2 L869.5,842.9 L871.0,844.5 L872.5,846.1 L874.0,847.6 L875.5,849.0 L877.0,850.4 L878.5,851.7 L880.0,852.9 L881.5,854.0 L883.0,855.1 L884.5,856.1 L886.0,857.1 L887.5,858.0 L889.0,858.9 L890.5,859.6 L892.0,860.4 L893.5,861.1 L895.0,861.7 L896.5,862.3 L898.0,862.8 L899.5,863.3 L901.0,863.8 L902.5,864.2 L904.0,864.5 L905.5,864.9 L907.0,865.2 L908.5,865.5 L910.0,865.8 L911.5,866.0 L913.0,866.2 L914.5,866.4 L916.0,866.6 L917.5,866.7 L919.0,866.9 L920.5,867.0 L922.0,867.1 L923.5,867.2 L925.0,867.3 L926.5,867.4 L928.0,867.4 L929.5,867.5 L931.0,867.5 L932.5,867.6 L934.0,867.6 L935.5,867.7 L937.0,867.7 L938.5,867.7 L940.0,867.8 L941.5,867.8 L943.0,867.8 L944.5,867.8 L946.0,867.8 L947.5,867.8 L949.0,867.8 L950.5,867.9 L952.0,867.9 L953.5,867.9 L955.0,867.9 L956.5,867.9 L958.0,867.9 L959.5,867.9 L961.0,867.9 L962.5,867.9 L964.0,867.9 L965.5,867.9 L967.0,867.9 L968.5,867.9 L970.0,867.9 L971.5,867.9 L973.0,867.9 L974.5,867.9 L976.0,867.9 L977.5,867.9 L979.0,867.9 L980.5,867.9 L982.0,867.9 L983.5,867.9 L985.0,867.9 L986.5,867.9 L988.0,867.9 L989.5,867.9 L991.0,867.9 L992.5,867.9 L994.0,867.9 L995.5,867.9 L997.0,867.9 L998.5,867.9 L1000.0,867.9 L1001.5,867.9 L1003.0,867.9 L1004.5,867.9 L1006.0,867.9 L1007.5,867.9 L1009.0,867.9 L1010.5,867.9 L1012.0,867.9 L1013.5,867.9 L1015.0,867.9 L1016.5,867.9 L1018.0,867.9 L1019.5,867.9 L1021.0,867.9 L1022.5,867.9 L1024.0,867.9 L1025.5,867.9 L1027.0,867.9 L1028.5,867.9 L1030.0,867.9 L1031.5,867.9 L1033.0,867.9 L1034.5,867.9 L1036.0,867.9 L1037.5,867.9 L1039.0,867.9 L1040.5,867.9 L1042.0,867.9 L1043.5,867.9 L1045.0,867.9 L1046.5,867.9 L1048.0,867.9 L1049.5,867.9 L1051.0,867.9 L1052.5,867.9 L1054.0,867.9 L1055.5,867.9 L1057.0,867.9 L1058.5,867.9 L1060.0,867.9 L1061.5,867.9 L1063.0,867.9 L1064.5,867.9 L1066.0,867.9 L1067.5,867.9 L1069.0,867.9 L1070.5,867.9 L1072.0,867.9 L1073.5,867.9 L1075.0,867.9 L1076.5,867.9 L1078.0,867.9 L1079.5,867.9 L1081.0,867.9 L1082.5,867.9 L1084.0,867.9 L1085.5,867.9 L1087.0,867.9 L1088.5,867.9 L1090.0,867.9 L1091.5,867.9 L1093.0,867.9 L1094.5,867.9 L1096.0,867.9 L1097.5,867.9 L1099.0,867.9 L1100.5,867.9 L1102.0,867.9 L1103.5,867.9 L1105.0,867.9 L1106.5,867.9 L1108.0,867.9 L1109.5,867.9 L1111.0,867.9 L1112.5,867.9 L1114.0,867.9 L1115.5,867.9 L1117.0,867.9 L1118.5,867.9 L1120.0,867.9 L1121.5,867.9 L1123.0,867.9 L1124.5,867.9 L1126.0,867.9 L1127.5,867.9 L1129.0,867.9 L1130.5,867.9 L1132.0,867.9 L1133.5,867.9 L1135.0,867.9 L1136.5,867.9 L1138.0,867.9 L1139.5,867.9 L1141.0,867.9 L1142.5,867.9 L1144.0,867.9 L1145.5,867.9 L1147.0,867.9 L1148.5,867.9 L1150.0,867.9 L1151.5,867.9 L1153.0,867.9 L1154.5,867.9 L1156.0,867.9 L1157.5,867.9 L1159.0,867.9 L1160.5,867.9 L1162.0,867.9 L1163.5,867.9 L1165.0,867.9 L1166.5,867.9 L1168.0,867.9 L1169.5,867.9 L1171.0,867.9 L1172.5,867.9 L1174.0,867.9 L1175.5,867.9 L1177.0,867.9 L1178.5,867.9 L1180.0,867.9 L1181.5,867.9 L1183.0,867.9 L1184.5,867.9 L1186.0,867.9 L1187.5,867.9 L1189.0,867.9 L1190.5,867.9 L1192.0,867.9 L1193.5,867.9 L1195.0,867.9 L1196.5,867.9 L1198.0,867.9 L1199.5,867.9 L1201.0,867.9 L1202.5,867.9 L1204.0,867.9 L1205.5,867.9 L1207.0,867.9 L1208.5,867.9 L1210.0,867.9 L1211.5,867.9 L1213.0,867.9 L1214.5,867.9 L1216.0,867.9 L1217.5,867.9 L1219.0,867.9 L1220.5,867.9 L1222.0,867.9 L1223.0,867.9" fill="none" stroke="#ff8000" stroke-width="4" stroke-linejoin="round"/>
<path d="M163.1,867.9 L164.6,867.9 L166.1,867.9 L167.6,867.9 L169.1,867.9 L170.6,867.9 L172.1,867.9 L173.6,867.9 L175.1,867.9 L176.6,867.9 L178.1,867.9 L179.6,867.9 L181.1,867.9 L182.6,867.9 L184.1,867.9 L185.6,867.9 L187.1,867.9 L188.6,867.9 L190.1,867.9 L191.6,867.9 L193.1,867.9 L194.6,867.9 L196.1,867.9 L197.6,867.9 L199.1,867.9 L200.6,867.9 L202.1,867.9 L203.6,867.9 L205.1,867.9 L206.6,867.9 L208.1,867.9 L209.6,867.9 L211.1,867.9 L212.6,867.9 L214.1,867.9 L215.6,867.9 L217.1,867.9 L218.6,867.9 L220.1,867.9 L221.6,867.9 L223.1,867.9 L224.6,867.9 L226.1,867.9 L227.6,867.9 L229.1,867.9 L230.6,867.9 L232.1,867.9 L233.6,867.9 L235.1,867.9 L236.6,867.9 L238.1,867.9 L239.6,867.9 L241.1,867.9 L242.6,867.9 L244.1,867.9 L245.6,867.9 L247.1,867.9 L248.6,867.9 L250.1,867.9 L251.6,867.9 L253.1,867.9 L254.6,867.9 L256.1,867.9 L257.6,867.9 L259.1,867.9 L260.6,867.9 L262.1,867.9 L263.6,867.9 L265.1,867.9 L266.6,867.9 L268.1,867.9 L269.6,867.9 L271.1,867.9 L272.6,867.9 L274.1,867.9 L275.6,867.9 L277.1,867.9 L278.6,867.9 L280.1,867.9 L281.6,867.9 L283.1,867.9 L284.6,867.9 L286.1,867.9 L287.6,867.9 L289.1,867.9 L290.6,867.9 L292.1,867.9 L293.6,867.9 L295.1,867.9 L296.6,867.9 L298.1,867.9 L299.6,867.9 L301.1,867.9 L302.6,867.9 L304.1,867.9 L305.6,867.9 L307.1,867.9 L308.6,867.9 L310.1,867.9 L311.6,867.9 L313.1,867.9 L314.6,867.9 L316.1,867.9 L317.6,867.9 L319.1,867.9 L320.6,867.9 L322.1,867.9 L323.6,867.9 L325.1,867.9 L326.6,867.9 L328.1,867.9 L329.6,867.9 L331.1,867.9 L332.6,867.9 L334.1,867.9 L335.6,867.9 L337.1,867.9 L338.6,867.9 L340.1,867.9 L341.6,867.9 L343.1,867.9 L344.6,867.9 L346.1,867.9 L347.6,867.9 L349.1,867.9 L350.6,867.9 L352.1,867.9 L353.6,867.9 L355.1,867.9 L356.6,867.9 L358.1,867.9 L359.6,867.9 L361.1,867.9 L362.6,867.9 L364.1,867.9 L365.6,867.9 L367.1,867.9 L368.6,867.9 L370.1,867.9 L371.6,867.9 L373.1,867.9 L374.6,867.9 L376.1,867.9 L377.6,867.9 L379.1,867.9 L380.6,867.9 L382.1,867.9 L383.6,867.9 L385.1,867.9 L386.6,867.9 L388.1,867.9 L389.6,867.9 L391.1,867.9 L392.6,867.9 L394.1,867.9 L395.6,867.9 L397.1,867.9 L398.6,867.9 L400.1,867.9 L401.6,867.9 L403.1,867.9 L404.6,867.9 L406.1,867.9 L407.6,867.9 L409.1,867.9 L410.6,867.9 L412.1,867.9 L413.6,867.9 L415.1,867.9 L416.6,867.9 L418.1,867.9 L419.6,867.9 L421.1,867.9 L422.6,867.9 L424.1,867.9 L425.6,867.9 L427.1,867.9 L428.6,867.9 L430.1,867.9 L431.6,867.9 L433.1,867.9 L434.6,867.9 L436.1,867.9 L437.6,867.9 L439.1,867.9 L440.6,867.9 L442.1,867.9 L443.6,867.9 L445.1,867.9 L446.6,867.9 L448.1,867.9 L449.6,867.9 L451.1,867.9 L452.6,867.9 L454.1,867.9 L455.6,867.9 L457.1,867.9 L458.6,867.9 L460.1,867.9 L461.6,867.9 L463.1,867.9 L464.6,867.9 L466.1,867.9 L467.6,867.9 L469.1,867.9 L470.6,867.9 L472.1,867.9 L473.6,867.9 L475.1,867.9 L476.6,867.9 L478.1,867.9 L479.6,867.9 L481.1,867.9 L482.6,867.9 L484.1,867.9 L485.6,867.9 L487.1,867.9 L488.6,867.9 L490.1,867.9 L491.6,867.9 L493.1,867.9 L494.6,867.9 L496.1,867.9 L497.6,867.9 L499.1,867.9 L500.6,867.9 L502.1,867.9 L503.6,867.9 L505.1,867.9 L506.6,867.9 L508.1,867.9 L509.6,867.9 L511.1,867.9 L512.5,867.9 L514.0,867.9 L515.5,867.9 L517.0,867.9 L518.5,867.9 L520.0,867.9 L521.5,867.9 L523.0,867.9 L524.5,867.9 L526.0,867.9 L527.5,867.9 L529.0,867.9 L530.5,867.9 L532.0,867.9 L533.5,867.9 L535.0,867.9 L536.5,867.9 L538.0,867.9 L539.5,867.9 L541.0,867.9 L542.5,867.9 L544.0,867.9 L545.5,867.9 L547.0,867.9 L548.5,867.9 L550.0,867.9 L551.5,867.9 L553.0,867.9 L554.5,867.9 L556.0,867.9 L557.5,867.9 L559.0,867.9 L560.5,867.9 L562.0,867.9 L563.5,867.9 L565.0,867.9 L566.5,867.9 L568.0,867.9 L569.5,867.9 L571.0,867.9 L572.5,867.9 L574.0,867.9 L575.5,867.9 L577.0,867.9 L578.5,867.9 L580.0,867.9 L581.5,867.9 L583.0,867.9 L584.5,867.9 L586.0,867.9 L587.5,867.9 L589.0,867.9 L590.5,867.9 L592.0,867.9 L593.5,867.9 L595.0,867.9 L596.5,867.9 L598.0,867.9 L599.5,867.9 L601.0,867.9 L602.5,867.9 L604.0,867.9 L605.5,867.9 L607.0,867.9 L608.5,867.9 L610.0,867.9 L611.5,867.9 L613.0,867.9 L614.5,867.9 L616.0,867.9 L617.5,867.9 L619.0,867.9 L620.5,867.9 L622.0,867.9 L623.5,867.9 L625.0,867.9 L626.5,867.9 L628.0,867.9 L629.5,867.9 L631.0,867.9 L632.5,867.9 L634.0,867.9 L635.5,867.9 L637.0,867.9 L638.5,867.9 L640.0,867.9 L641.5,867.9 L643.0,867.9 L644.5,867.9 L646.0,867.9 L647.5,867.9 L649.0,867.9 L650.5,867.9 L652.0,867.9 L653.5,867.9 L655.0,867.9 L656.5,867.9 L658.0,867.9 L659.5,867.9 L661.0,867.9 L662.5,867.9 L664.0,867.9 L665.5,867.9 L667.0,867.9 L668.5,867.9 L670.0,867.9 L671.5,867.9 L673.0,867.9 L674.5,867.9 L676.0,867.9 L677.5,867.9 L679.0,867.9 L680.5,867.9 L682.0,867.9 L683.5,867.9 L685.0,867.9 L686.5,867.9 L688.0,867.9 L689.5,867.9 L691.0,867.9 L692.5,867.9 L694.0,867.9 L695.5,867.9 L697.0,867.9 L698.5,867.9 L700.0,867.9 L701.5,867.9 L703.0,867.9 L704.5,867.9 L706.0,867.9 L707.5,867.9 L709.0,867.9 L710.5,867.9 L712.0,867.9 L713.5,867.9 L715.0,867.9 L716.5,867.9 L718.0,867.9 L719.5,867.9 L721.0,867.9 L722.5,867.9 L724.0,867.9 L725.5,867.9 L727.0,867.9 L728.5,867.9 L730.0,867.9 L731.5,867.9 L733.0,867.8 L734.5,867.8 L736.0,867.8 L737.5,867.8 L739.0,867.8 L740.5,867.8 L742.0,867.8 L743.5,867.8 L745.0,867.8 L746.5,867.8 L748.0,867.8 L749.5,867.8 L751.0,867.8 L752.5,867.7 L754.0,867.7 L755.5,867.7 L757.0,867.7 L758.5,867.7 L760.0,867.7 L761.5,867.7 L763.0,867.6 L764.5,867.6 L766.0,867.6 L767.5,867.6 L769.0,867.5 L770.5,867.5 L772.0,867.5 L773.5,867.5 L775.0,867.4 L776.5,867.4 L778.0,867.4 L779.5,867.3 L781.0,867.3 L782.5,867.2 L784.0,867.2 L785.5,867.1 L787.0,867.1 L788.5,867.0 L790.0,867.0 L791.5,866.9 L793.0,866.8 L794.5,866.8 L796.0,866.7 L797.5,866.6 L799.0,866.5 L800.5,866.4 L802.0,866.3 L803.5,866.2 L805.0,866.1 L806.5,866.0 L808.0,865.9 L809.5,865.8 L811.0,865.7 L812.5,865.5 L814.0,865.4 L815.5,865.3 L817.0,865.1 L818.5,864.9 L820.0,864.8 L821.5,864.6 L823.0,864.4 L824.5,864.2 L826.0,864.0 L827.5,863.8 L829.0,863.6 L830.5,863.4 L832.0,863.1 L833.5,862.9 L835.0,862.6 L836.5,862.3 L838.0,862.1 L839.5,861.8 L841.0,861.5 L842.5,861.2 L844.0,860.9 L845.5,860.5 L847.0,860.2 L848.5,859.8 L850.0,859.5 L851.5,859.1 L853.0,858.7 L854.5,858.3 L856.0,857.9 L857.5,857.4 L859.0,857.0 L860.5,856.5 L862.0,856.1 L863.5,855.6 L865.0,855.1 L866.5,854.6 L868.0,854.1 L869.5,853.6 L871.0,853.0 L872.5,852.5 L874.0,851.9 L875.5,851.3 L877.0,850.8 L878.5,850.2 L880.0,849.6 L881.5,848.9 L883.0,848.3 L884.5,847.7 L886.0,847.0 L887.5,846.4 L889.0,845.7 L890.5,845.0 L892.0,844.4 L893.5,843.7 L895.0,843.0 L896.5,842.3 L898.0,841.6 L899.5,840.9 L901.0,840.2 L902.5,839.5 L904.0,838.7 L905.5,838.0 L907.0,837.3 L908.5,836.6 L910.0,835.9 L911.5,835.1 L913.0,834.4 L914.5,833.7 L916.0,833.0 L917.5,832.3 L919.0,831.6 L920.5,830.9 L922.0,830.2 L923.5,829.5 L925.0,828.9 L926.5,828.2 L928.0,827.6 L929.5,826.9 L931.0,826.3 L932.5,825.7 L934.0,825.1 L935.5,824.5 L937.0,824.0 L938.5,823.4 L940.0,822.9 L941.5,822.4 L943.0,821.9 L944.5,821.4 L946.0,821.0 L947.5,820.5 L949.0,820.1 L950.5,819.7 L952.0,819.4 L953.5,819.0 L955.0,818.7 L956.5,818.4 L958.0,818.2 L959.5,817.9 L961.0,817.7 L962.5,817.5 L964.0,817.4 L965.5,817.2 L967.0,817.1 L968.5,817.1 L970.0,817.0 L971.5,817.0 L973.0,817.0 L974.5,817.0 L976.0,817.1 L977.5,817.2 L979.0,817.3 L980.5,817.5 L982.0,817.6 L983.5,817.8 L985.0,818.1 L986.5,818.3 L988.0,818.6 L989.5,818.9 L991.0,819.2 L992.5,819.6 L994.0,819.9 L995.5,820.3 L997.0,820.7 L998.5,821.2 L1000.0,821.7 L1001.5,822.1 L1003.0,822.6 L1004.5,823.2 L1006.0,823.7 L1007.5,824.3 L1009.0,824.8 L1010.5,825.4 L1012.0,826.0 L1013.5,826.6 L1015.0,827.3 L1016.5,827.9 L1018.0,828.6 L1019.5,829.2 L1021.0,829.9 L1022.5,830.6 L1024.0,831.3 L1025.5,832.0 L1027.0,832.7 L1028.5,833.4 L1030.0,834.1 L1031.5,834.8 L1033.0,835.5 L1034.5,836.2 L1036.0,837.0 L1037.5,837.7 L1039.0,838.4 L1040.5,839.1 L1042.0,839.8 L1043.5,840.5 L1045.0,841.3 L1046.5,842.0 L1048.0,842.7 L1049.5,843.4 L1051.0,844.0 L1052.5,844.7 L1054.0,845.4 L1055.5,846.1 L1057.0,846.7 L1058.5,847.4 L1060.0,848.0 L1061.5,848.6 L1063.0,849.3 L1064.5,849.9 L1066.0,850.5 L1067.5,851.1 L1069.0,851.6 L1070.5,852.2 L1072.0,852.8 L1073.5,853.3 L1075.0,853.8 L1076.5,854.4 L1078.0,854.9 L1079.5,855.4 L1081.0,855.9 L1082.5,856.3 L1084.0,856.8 L1085.5,857.2 L1087.0,857.7 L1088.5,858.1 L1090.0,858.5 L1091.5,858.9 L1093.0,859.3 L1094.5,859.6 L1096.0,860.0 L1097.5,860.4 L1099.0,860.7 L1100.5,861.0 L1102.0,861.3 L1103.5,861.6 L1105.0,861.9 L1106.5,862.2 L1108.0,862.5 L1109.5,862.8 L1111.0,863.0 L1112.5,863.2 L1114.0,863.5 L1115.5,863.7 L1117.0,863.9 L1118.5,864.1 L1120.0,864.3 L1121.5,864.5 L1123.0,864.7 L1124.5,864.9 L1126.0,865.0 L1127.5,865.2 L1129.0,865.3 L1130.5,865.5 L1132.0,865.6 L1133.5,865.7 L1135.0,865.9 L1136.5,866.0 L1138.0,866.1 L1139.5,866.2 L1141.0,866.3 L1142.5,866.4 L1144.0,866.5 L1145.5,866.6 L1147.0,866.7 L1148.5,866.7 L1150.0,866.8 L1151.5,866.9 L1153.0,866.9 L1154.5,867.0 L1156.0,867.1 L1157.5,867.1 L1159.0,867.2 L1160.5,867.2 L1162.0,867.3 L1163.5,867.3 L1165.0,867.3 L1166.5,867.4 L1168.0,867.4 L1169.5,867.4 L1171.0,867.5 L1172.5,867.5 L1174.0,867.5 L1175.5,867.6 L1177.0,867.6 L1178.5,867.6 L1180.0,867.6 L1181.5,867.7 L1183.0,867.7 L1184.5,867.7 L1186.0,867.7 L1187.5,867.7 L1189.0,867.7 L1190.5,867.7 L1192.0,867.8 L1193.5,867.8 L1195.0,867.8 L1196.5,867.8 L1198.0,867.8 L1199.5,867.8 L1201.0,867.8 L1202.5,867.8 L1204.0,867.8 L1205.5,867.8 L1207.0,867.8 L1208.5,867.8 L1210.0,867.8 L1211.5,867.9 L1213.0,867.9 L1214.5,867.9 L1216.0,867.9 L1217.5,867.9 L1219.0,867.9 L1220.5,867.9 L1222.0,867.9 L1223.0,867.9" fill="none" stroke="#00ff00" stroke-width="4" stroke-linejoin="round"/>
</g>
<rect x="163.05" y="115.10" width="1060.00" height="787.70" fill="none" stroke="#000" stroke-width="3.9"/>
<line x1="148.0" y1="871.80" x2="163.05" y2="871.80" stroke="#000" stroke-width="3.9" stroke-linecap="round"/>
<text x="137.0" y="879.8" text-anchor="end" style="font-family:'Liberation Serif',serif;font-weight:bold;font-size:28px">0</text>
<line x1="155.6" y1="808.73" x2="163.05" y2="808.73" stroke="#000" stroke-width="3.9" stroke-linecap="round"/>
<line x1="148.0" y1="745.67" x2="163.05" y2="745.67" stroke="#000" stroke-width="3.9" stroke-linecap="round"/>
<text x="137.0" y="753.7" text-anchor="end" style="font-family:'Liberation Serif',serif;font-weight:bold;font-size:28px">1000</text>
<line x1="155.6" y1="682.61" x2="163.05" y2="682.61" stroke="#000" stroke-width="3.9" stroke-linecap="round"/>
<line x1="148.0" y1="619.54" x2="163.05" y2="619.54" stroke="#000" stroke-width="3.9" stroke-linecap="round"/>
<text x="137.0" y="627.5" text-anchor="end" style="font-family:'Liberation Serif',serif;font-weight:bold;font-size:28px">2000</text>
<line x1="155.6" y1="556.47" x2="163.05" y2="556.47" stroke="#000" stroke-width="3.9" stroke-linecap="round"/>
<line x1="148.0" y1="493.41" x2="163.05" y2="493.41" stroke="#000" stroke-width="3.9" stroke-linecap="round"/>
<text x="137.0" y="501.4" text-anchor="end" style="font-family:'Liberation Serif',serif;font-weight:bold;font-size:28px">3000</text>
<line x1="155.6" y1="430.34" x2="163.05" y2="430.34" stroke="#000" stroke-width="3.9" stroke-linecap="round"/>
<line x1="148.0" y1="367.28" x2="163.05" y2="367.28" stroke="#000" stroke-width="3.9" stroke-linecap="round"/>
<text x="137.0" y="375.3" text-anchor="end" style="font-family:'Liberation Serif',serif;font-weight:bold;font-size:28px">4000</text>
<line x1="155.6" y1="304.22" x2="163.05" y2="304.22" stroke="#000" stroke-width="3.9" stroke-linecap="round"/>
<line x1="148.0" y1="241.15" x2="163.05" y2="241.15" stroke="#000" stroke-width="3.9" stroke-linecap="round"/>
<text x="137.0" y="249.1" text-anchor="end" style="font-family:'Liberation Serif',serif;font-weight:bold;font-size:28px">5000</text>
<line x1="155.6" y1="178.09" x2="163.05" y2="178.09" stroke="#000" stroke-width="3.9" stroke-linecap="round"/>
<line x1="148.0" y1="115.02" x2="163.05" y2="115.02" stroke="#000" stroke-width="3.9" stroke-linecap="round"/>
<text x="137.0" y="123.0" text-anchor="end" style="font-family:'Liberation Serif',serif;font-weight:bold;font-size:28px">6000</text>
<line x1="163.05" y1="902.8" x2="163.05" y2="910.4" stroke="#000" stroke-width="3.9" stroke-linecap="round"/>
<line x1="229.30" y1="902.8" x2="229.30" y2="918.4" stroke="#000" stroke-width="3.9" stroke-linecap="round"/>
<text x="229.30" y="951.0" text-anchor="middle" style="font-family:'Liberation Serif',serif;font-weight:bold;font-size:28px">775</text>
<line x1="295.55" y1="902.8" x2="295.55" y2="910.4" stroke="#000" stroke-width="3.9" stroke-linecap="round"/>
<line x1="361.80" y1="902.8" x2="361.80" y2="918.4" stroke="#000" stroke-width="3.9" stroke-linecap="round"/>
<text x="361.80" y="951.0" text-anchor="middle" style="font-family:'Liberation Serif',serif;font-weight:bold;font-size:28px">780</text>
<line x1="428.05" y1="902.8" x2="428.05" y2="910.4" stroke="#000" stroke-width="3.9" stroke-linecap="round"/>
<line x1="494.30" y1="902.8" x2="494.30" y2="918.4" stroke="#000" stroke-width="3.9" stroke-linecap="round"/>
<text x="494.30" y="951.0" text-anchor="middle" style="font-family:'Liberation Serif',serif;font-weight:bold;font-size:28px">785</text>
<line x1="560.55" y1="902.8" x2="560.55" y2="910.4" stroke="#000" stroke-width="3.9" stroke-linecap="round"/>
<line x1="626.80" y1="902.8" x2="626.80" y2="918.4" stroke="#000" stroke-width="3.9" stroke-linecap="round"/>
<text x="626.80" y="951.0" text-anchor="middle" style="font-family:'Liberation Serif',serif;font-weight:bold;font-size:28px">790</text>
<line x1="693.05" y1="902.8" x2="693.05" y2="910.4" stroke="#000" stroke-width="3.9" stroke-linecap="round"/>
<line x1="759.30" y1="902.8" x2="759.30" y2="918.4" stroke="#000" stroke-width="3.9" stroke-linecap="round"/>
<text x="759.30" y="951.0" text-anchor="middle" style="font-family:'Liberation Serif',serif;font-weight:bold;font-size:28px">795</text>
<line x1="825.55" y1="902.8" x2="825.55" y2="910.4" stroke="#000" stroke-width="3.9" stroke-linecap="round"/>
<line x1="891.80" y1="902.8" x2="891.80" y2="918.4" stroke="#000" stroke-width="3.9" stroke-linecap="round"/>
<text x="891.80" y="951.0" text-anchor="middle" style="font-family:'Liberation Serif',serif;font-weight:bold;font-size:28px">800</text>
<line x1="958.05" y1="902.8" x2="958.05" y2="910.4" stroke="#000" stroke-width="3.9" stroke-linecap="round"/>
<line x1="1024.30" y1="902.8" x2="1024.30" y2="918.4" stroke="#000" stroke-width="3.9" stroke-linecap="round"/>
<text x="1024.30" y="951.0" text-anchor="middle" style="font-family:'Liberation Serif',serif;font-weight:bold;font-size:28px">805</text>
<line x1="1090.55" y1="902.8" x2="1090.55" y2="910.4" stroke="#000" stroke-width="3.9" stroke-linecap="round"/>
<line x1="1156.80" y1="902.8" x2="1156.80" y2="918.4" stroke="#000" stroke-width="3.9" stroke-linecap="round"/>
<text x="1156.80" y="951.0" text-anchor="middle" style="font-family:'Liberation Serif',serif;font-weight:bold;font-size:28px">810</text>
<line x1="1223.05" y1="902.8" x2="1223.05" y2="910.4" stroke="#000" stroke-width="3.9" stroke-linecap="round"/>
<text x="691.8" y="1020.6" text-anchor="middle" style="font-family:'Liberation Serif',serif;font-weight:bold;font-size:49px">Binding energy (eV)</text>
<text transform="translate(61.6,504.0) rotate(-90) scale(0.982,1)" text-anchor="middle" style="font-family:'Liberation Serif',serif;font-weight:bold;font-size:49px">Intensity (Arb. unit)</text>
<text transform="translate(546.2,76.8) scale(1,1.03)" style="font-family:'Liberation Serif',serif;font-weight:bold;font-size:86px">Co 1.2</text>
<text transform="translate(173.6,220.0) scale(1.04,1.005)" style="font-family:'Liberation Serif',serif;font-weight:bold;font-size:103px">(a)</text>
<line x1="986.7" y1="135.3" x2="1047.3" y2="135.3" stroke="#000" stroke-width="5.6" stroke-linecap="round"/>
<use href="#dot" x="1016.6" y="135.3"/>
<text x="1055.0" y="144.5" style="font-family:'Liberation Serif',serif;font-weight:bold;font-size:28px">Exp.</text>
<line x1="986.7" y1="170.0" x2="1047.3" y2="170.0" stroke="#ff0000" stroke-width="4" stroke-linecap="round"/>
<text x="1055.0" y="179.2" style="font-family:'Liberation Serif',serif;font-weight:bold;font-size:28px">Fit</text>
<line x1="986.7" y1="208.3" x2="1047.3" y2="208.3" stroke="#0000f5" stroke-width="4" stroke-linecap="round"/>
<text x="1055.0" y="217.5" style="font-family:'Liberation Serif',serif;font-weight:bold;font-size:28px">Co 2p<tspan dy="9.4" style="font-size:17px">3/2</tspan><tspan dy="-9.4"> Co</tspan><tspan dy="-13.5" style="font-size:17px">3+</tspan></text>
<line x1="986.7" y1="255.2" x2="1047.3" y2="255.2" stroke="#ff00ff" stroke-width="4" stroke-linecap="round"/>
<text x="1055.0" y="264.4" style="font-family:'Liberation Serif',serif;font-weight:bold;font-size:28px">Co 2p<tspan dy="9.4" style="font-size:17px">3/2</tspan><tspan dy="-9.4"> Co</tspan><tspan dy="-13.5" style="font-size:17px">2+</tspan></text>
<line x1="986.7" y1="298.6" x2="1047.3" y2="298.6" stroke="#00ffff" stroke-width="4" stroke-linecap="round"/>
<text x="1055.0" y="307.8" style="font-family:'Liberation Serif',serif;font-weight:bold;font-size:28px">Sat.</text>
<line x1="986.7" y1="337.9" x2="1047.3" y2="337.9" stroke="#007300" stroke-width="4" stroke-linecap="round"/>
<text x="1055.0" y="347.1" style="font-family:'Liberation Serif',serif;font-weight:bold;font-size:28px">Co 2p<tspan dy="9.4" style="font-size:17px">1/2</tspan><tspan dy="-9.4"> Co</tspan><tspan dy="-13.5" style="font-size:17px">3+</tspan></text>
<line x1="986.7" y1="384.4" x2="1047.3" y2="384.4" stroke="#ff8000" stroke-width="4" stroke-linecap="round"/>
<text x="1055.0" y="393.6" style="font-family:'Liberation Serif',serif;font-weight:bold;font-size:28px">Co 2p<tspan dy="9.4" style="font-size:17px">1/2</tspan><tspan dy="-9.4"> Co</tspan><tspan dy="-13.5" style="font-size:17px">2+</tspan></text>
<line x1="986.7" y1="428.8" x2="1047.3" y2="428.8" stroke="#00ff00" stroke-width="4" stroke-linecap="round"/>
<text x="1055.0" y="438.0" style="font-family:'Liberation Serif',serif;font-weight:bold;font-size:28px">Sat.</text>
</g>
<g transform="translate(0,1141.2)">
<g clip-path="url(#cp)">
<path d="M164.1,882.4 L167.5,874.3 L170.9,871.7 L174.4,868.1 L177.8,869.9 L181.3,866.3 L184.7,868.2 L188.2,868.3 L191.6,866.2 L195.1,865.4 L198.5,865.9 L202.0,866.2 L205.4,863.7 L208.9,866.0 L212.3,863.7 L215.8,854.0 L219.2,864.5 L222.7,866.4 L226.1,867.1 L229.6,865.9 L233.0,861.7 L236.5,859.3 L239.9,854.9 L243.4,855.7 L246.8,851.1 L250.3,857.8 L253.7,852.4 L257.2,852.0 L260.6,851.7 L264.1,852.1 L267.5,850.2 L271.0,850.9 L274.4,838.1 L277.9,840.6 L281.3,840.5 L284.8,838.0 L288.2,841.2 L291.7,833.3 L295.1,829.0 L298.6,817.0 L302.0,812.7 L305.5,798.6 L308.9,783.8 L312.4,778.7 L315.8,759.2 L319.3,731.2 L322.7,698.9 L326.2,656.0 L329.6,611.5 L333.1,568.3 L336.5,512.7 L340.0,466.2 L343.4,412.8 L346.9,370.5 L350.3,328.5 L353.8,304.0 L357.2,282.6 L360.7,264.5 L364.1,252.3 L367.6,254.4 L371.0,265.9 L374.5,278.6 L377.9,299.8 L381.4,324.2 L384.8,344.6 L388.3,364.3 L391.7,388.5 L395.2,407.8 L398.6,431.2 L402.1,449.8 L405.5,475.6 L409.0,493.4 L412.4,510.3 L415.9,532.7 L419.3,552.2 L422.8,571.0 L426.2,592.6 L429.7,615.4 L433.1,626.2 L436.6,645.4 L440.0,662.1 L443.5,677.3 L446.9,694.3 L450.4,702.3 L453.8,717.8 L457.3,728.1 L460.7,738.6 L464.2,746.6 L467.6,753.1 L471.1,758.0 L474.5,765.2 L478.0,776.0 L481.4,779.7 L484.9,781.8 L488.3,782.5 L491.8,779.9 L495.2,782.2 L498.7,788.6 L502.1,781.9 L505.6,785.0 L509.0,787.7 L512.5,787.3 L515.9,789.0 L519.4,792.3 L522.8,797.4 L526.3,797.9 L529.7,799.8 L533.2,797.1 L536.6,797.6 L540.1,796.2 L543.5,792.2 L547.0,791.8 L550.4,800.4 L553.9,810.9 L557.3,806.9 L560.8,805.3 L564.2,805.2 L567.7,802.7 L571.1,803.9 L574.6,806.1 L578.0,805.4 L581.5,807.3 L584.9,815.9 L588.4,820.0 L591.8,823.7 L595.3,823.6 L598.8,823.6 L602.2,818.3 L605.7,825.0 L609.1,821.7 L612.6,826.4 L616.0,822.4 L619.5,821.8 L622.9,825.3 L626.4,826.2 L629.8,826.6 L633.3,832.1 L636.7,834.2 L640.2,834.7 L643.6,832.6 L647.1,833.0 L650.5,837.7 L654.0,842.5 L657.4,849.1 L660.9,856.0 L664.3,857.1 L667.8,856.5 L671.2,857.5 L674.7,864.9 L678.1,866.6 L681.6,871.2 L685.0,875.9 L688.5,880.7 L691.9,879.1 L695.4,880.9 L698.8,879.9 L702.3,864.0 L705.7,858.4 L709.2,859.5 L712.6,839.8 L716.1,827.1 L719.5,817.9 L723.0,801.0 L726.4,786.3 L729.9,759.5 L733.3,733.9 L736.8,712.7 L740.2,690.5 L743.7,675.0 L747.1,666.9 L750.6,658.1 L754.0,649.9 L757.5,641.3 L760.9,639.2 L764.4,639.7 L767.8,642.1 L771.3,650.4 L774.7,656.3 L778.2,661.0 L781.6,667.9 L785.1,667.4 L788.5,670.5 L792.0,672.6 L795.4,684.0 L798.9,690.4 L802.3,701.8 L805.8,710.9 L809.2,715.0 L812.7,719.3 L816.1,731.6 L819.6,737.5 L823.0,745.1 L826.5,750.6 L829.9,763.0 L833.4,772.6 L836.8,782.6 L840.3,791.7 L843.7,793.5 L847.2,791.1 L850.6,797.3 L854.1,801.9 L857.5,806.0 L861.0,814.2 L864.4,817.1 L867.9,824.6 L871.3,825.1 L874.8,830.6 L878.2,837.9 L881.7,845.7 L885.1,842.9 L888.6,849.2 L892.0,849.5 L895.5,844.2 L898.9,845.2 L902.4,844.0 L905.8,845.6 L909.3,844.8 L912.7,842.7 L916.2,834.4 L919.6,839.5 L923.1,841.3 L926.5,839.5 L930.0,836.9 L933.4,837.2 L936.9,830.1 L940.3,830.4 L943.8,827.9 L947.2,822.6 L950.7,823.3 L954.1,823.3 L957.6,827.3 L961.0,826.8 L964.5,818.1 L967.9,811.5 L971.4,813.3 L974.8,813.8 L978.3,811.6 L981.7,808.5 L985.2,810.7 L988.6,808.9 L992.1,809.4 L995.5,814.7 L999.0,816.1 L1002.4,813.9 L1005.9,811.7 L1009.3,813.6 L1012.8,821.2 L1016.2,819.0 L1019.7,825.2 L1023.1,821.3 L1026.6,821.3 L1030.0,824.6 L1033.5,822.5 L1036.9,824.4 L1040.4,821.5 L1043.8,826.9 L1047.3,832.3 L1050.7,830.3 L1054.2,832.4 L1057.6,832.4 L1061.1,827.4 L1064.5,840.7 L1068.0,842.5 L1071.4,844.9 L1074.9,845.5 L1078.3,845.8 L1081.8,853.5 L1085.2,845.3 L1088.7,845.8 L1092.1,846.3 L1095.6,847.7 L1099.0,852.0 L1102.5,850.5 L1105.9,848.2 L1109.4,847.8 L1112.8,853.1 L1116.3,858.2 L1119.7,861.2 L1123.2,865.9 L1126.6,862.3 L1130.1,865.3 L1133.5,866.3 L1137.0,864.5 L1140.4,861.8 L1143.9,865.7 L1147.3,863.2 L1150.8,863.2 L1154.2,861.1 L1157.7,868.8 L1161.1,867.8 L1164.6,865.9 L1168.0,865.7 L1171.5,865.8 L1174.9,866.9 L1178.4,862.0 L1181.8,860.8 L1185.3,865.6 L1188.7,870.3 L1192.2,866.5 L1195.6,867.9 L1199.1,866.6 L1202.5,860.4 L1206.0,863.0 L1209.4,862.1 L1212.9,867.9 L1216.3,867.9 L1219.8,868.5" fill="none" stroke="#000" stroke-width="3.4" stroke-linejoin="round"/>
<g><use href="#dot" x="164.1" y="882.4"/><use href="#dot" x="167.5" y="874.3"/><use href="#dot" x="170.9" y="871.7"/><use href="#dot" x="174.4" y="868.1"/><use href="#dot" x="177.8" y="869.9"/><use href="#dot" x="181.3" y="866.3"/><use href="#dot" x="184.7" y="868.2"/><use href="#dot" x="188.2" y="868.3"/><use href="#dot" x="191.6" y="866.2"/><use href="#dot" x="195.1" y="865.4"/><use href="#dot" x="198.5" y="865.9"/><use href="#dot" x="202.0" y="866.2"/><use href="#dot" x="205.4" y="863.7"/><use href="#dot" x="208.9" y="866.0"/><use href="#dot" x="212.3" y="863.7"/><use href="#dot" x="215.8" y="854.0"/><use href="#dot" x="219.2" y="864.5"/><use href="#dot" x="222.7" y="866.4"/><use href="#dot" x="226.1" y="867.1"/><use href="#dot" x="229.6" y="865.9"/><use href="#dot" x="233.0" y="861.7"/><use href="#dot" x="236.5" y="859.3"/><use href="#dot" x="239.9" y="854.9"/><use href="#dot" x="243.4" y="855.7"/><use href="#dot" x="246.8" y="851.1"/><use href="#dot" x="250.3" y="857.8"/><use href="#dot" x="253.7" y="852.4"/><use href="#dot" x="257.2" y="852.0"/><use href="#dot" x="260.6" y="851.7"/><use href="#dot" x="264.1" y="852.1"/><use href="#dot" x="267.5" y="850.2"/><use href="#dot" x="271.0" y="850.9"/><use href="#dot" x="274.4" y="838.1"/><use href="#dot" x="277.9" y="840.6"/><use href="#dot" x="281.3" y="840.5"/><use href="#dot" x="284.8" y="838.0"/><use href="#dot" x="288.2" y="841.2"/><use href="#dot" x="291.7" y="833.3"/><use href="#dot" x="295.1" y="829.0"/><use href="#dot" x="298.6" y="817.0"/><use href="#dot" x="302.0" y="812.7"/><use href="#dot" x="305.5" y="798.6"/><use href="#dot" x="308.9" y="783.8"/><use href="#dot" x="312.4" y="778.7"/><use href="#dot" x="315.8" y="759.2"/><use href="#dot" x="319.3" y="731.2"/><use href="#dot" x="322.7" y="698.9"/><use href="#dot" x="326.2" y="656.0"/><use href="#dot" x="329.6" y="611.5"/><use href="#dot" x="333.1" y="568.3"/><use href="#dot" x="336.5" y="512.7"/><use href="#dot" x="340.0" y="466.2"/><use href="#dot" x="343.4" y="412.8"/><use href="#dot" x="346.9" y="370.5"/><use href="#dot" x="350.3" y="328.5"/><use href="#dot" x="353.8" y="304.0"/><use href="#dot" x="357.2" y="282.6"/><use href="#dot" x="360.7" y="264.5"/><use href="#dot" x="364.1" y="252.3"/><use href="#dot" x="367.6" y="254.4"/><use href="#dot" x="371.0" y="265.9"/><use href="#dot" x="374.5" y="278.6"/><use href="#dot" x="377.9" y="299.8"/><use href="#dot" x="381.4" y="324.2"/><use href="#dot" x="384.8" y="344.6"/><use href="#dot" x="388.3" y="364.3"/><use href="#dot" x="391.7" y="388.5"/><use href="#dot" x="395.2" y="407.8"/><use href="#dot" x="398.6" y="431.2"/><use href="#dot" x="402.1" y="449.8"/><use href="#dot" x="405.5" y="475.6"/><use href="#dot" x="409.0" y="493.4"/><use href="#dot" x="412.4" y="510.3"/><use href="#dot" x="415.9" y="532.7"/><use href="#dot" x="419.3" y="552.2"/><use href="#dot" x="422.8" y="571.0"/><use href="#dot" x="426.2" y="592.6"/><use href="#dot" x="429.7" y="615.4"/><use href="#dot" x="433.1" y="626.2"/><use href="#dot" x="436.6" y="645.4"/><use href="#dot" x="440.0" y="662.1"/><use href="#dot" x="443.5" y="677.3"/><use href="#dot" x="446.9" y="694.3"/><use href="#dot" x="450.4" y="702.3"/><use href="#dot" x="453.8" y="717.8"/><use href="#dot" x="457.3" y="728.1"/><use href="#dot" x="460.7" y="738.6"/><use href="#dot" x="464.2" y="746.6"/><use href="#dot" x="467.6" y="753.1"/><use href="#dot" x="471.1" y="758.0"/><use href="#dot" x="474.5" y="765.2"/><use href="#dot" x="478.0" y="776.0"/><use href="#dot" x="481.4" y="779.7"/><use href="#dot" x="484.9" y="781.8"/><use href="#dot" x="488.3" y="782.5"/><use href="#dot" x="491.8" y="779.9"/><use href="#dot" x="495.2" y="782.2"/><use href="#dot" x="498.7" y="788.6"/><use href="#dot" x="502.1" y="781.9"/><use href="#dot" x="505.6" y="785.0"/><use href="#dot" x="509.0" y="787.7"/><use href="#dot" x="512.5" y="787.3"/><use href="#dot" x="515.9" y="789.0"/><use href="#dot" x="519.4" y="792.3"/><use href="#dot" x="522.8" y="797.4"/><use href="#dot" x="526.3" y="797.9"/><use href="#dot" x="529.7" y="799.8"/><use href="#dot" x="533.2" y="797.1"/><use href="#dot" x="536.6" y="797.6"/><use href="#dot" x="540.1" y="796.2"/><use href="#dot" x="543.5" y="792.2"/><use href="#dot" x="547.0" y="791.8"/><use href="#dot" x="550.4" y="800.4"/><use href="#dot" x="553.9" y="810.9"/><use href="#dot" x="557.3" y="806.9"/><use href="#dot" x="560.8" y="805.3"/><use href="#dot" x="564.2" y="805.2"/><use href="#dot" x="567.7" y="802.7"/><use href="#dot" x="571.1" y="803.9"/><use href="#dot" x="574.6" y="806.1"/><use href="#dot" x="578.0" y="805.4"/><use href="#dot" x="581.5" y="807.3"/><use href="#dot" x="584.9" y="815.9"/><use href="#dot" x="588.4" y="820.0"/><use href="#dot" x="591.8" y="823.7"/><use href="#dot" x="595.3" y="823.6"/><use href="#dot" x="598.8" y="823.6"/><use href="#dot" x="602.2" y="818.3"/><use href="#dot" x="605.7" y="825.0"/><use href="#dot" x="609.1" y="821.7"/><use href="#dot" x="612.6" y="826.4"/><use href="#dot" x="616.0" y="822.4"/><use href="#dot" x="619.5" y="821.8"/><use href="#dot" x="622.9" y="825.3"/><use href="#dot" x="626.4" y="826.2"/><use href="#dot" x="629.8" y="826.6"/><use href="#dot" x="633.3" y="832.1"/><use href="#dot" x="636.7" y="834.2"/><use href="#dot" x="640.2" y="834.7"/><use href="#dot" x="643.6" y="832.6"/><use href="#dot" x="647.1" y="833.0"/><use href="#dot" x="650.5" y="837.7"/><use href="#dot" x="654.0" y="842.5"/><use href="#dot" x="657.4" y="849.1"/><use href="#dot" x="660.9" y="856.0"/><use href="#dot" x="664.3" y="857.1"/><use href="#dot" x="667.8" y="856.5"/><use href="#dot" x="671.2" y="857.5"/><use href="#dot" x="674.7" y="864.9"/><use href="#dot" x="678.1" y="866.6"/><use href="#dot" x="681.6" y="871.2"/><use href="#dot" x="685.0" y="875.9"/><use href="#dot" x="688.5" y="880.7"/><use href="#dot" x="691.9" y="879.1"/><use href="#dot" x="695.4" y="880.9"/><use href="#dot" x="698.8" y="879.9"/><use href="#dot" x="702.3" y="864.0"/><use href="#dot" x="705.7" y="858.4"/><use href="#dot" x="709.2" y="859.5"/><use href="#dot" x="712.6" y="839.8"/><use href="#dot" x="716.1" y="827.1"/><use href="#dot" x="719.5" y="817.9"/><use href="#dot" x="723.0" y="801.0"/><use href="#dot" x="726.4" y="786.3"/><use href="#dot" x="729.9" y="759.5"/><use href="#dot" x="733.3" y="733.9"/><use href="#dot" x="736.8" y="712.7"/><use href="#dot" x="740.2" y="690.5"/><use href="#dot" x="743.7" y="675.0"/><use href="#dot" x="747.1" y="666.9"/><use href="#dot" x="750.6" y="658.1"/><use href="#dot" x="754.0" y="649.9"/><use href="#dot" x="757.5" y="641.3"/><use href="#dot" x="760.9" y="639.2"/><use href="#dot" x="764.4" y="639.7"/><use href="#dot" x="767.8" y="642.1"/><use href="#dot" x="771.3" y="650.4"/><use href="#dot" x="774.7" y="656.3"/><use href="#dot" x="778.2" y="661.0"/><use href="#dot" x="781.6" y="667.9"/><use href="#dot" x="785.1" y="667.4"/><use href="#dot" x="788.5" y="670.5"/><use href="#dot" x="792.0" y="672.6"/><use href="#dot" x="795.4" y="684.0"/><use href="#dot" x="798.9" y="690.4"/><use href="#dot" x="802.3" y="701.8"/><use href="#dot" x="805.8" y="710.9"/><use href="#dot" x="809.2" y="715.0"/><use href="#dot" x="812.7" y="719.3"/><use href="#dot" x="816.1" y="731.6"/><use href="#dot" x="819.6" y="737.5"/><use href="#dot" x="823.0" y="745.1"/><use href="#dot" x="826.5" y="750.6"/><use href="#dot" x="829.9" y="763.0"/><use href="#dot" x="833.4" y="772.6"/><use href="#dot" x="836.8" y="782.6"/><use href="#dot" x="840.3" y="791.7"/><use href="#dot" x="843.7" y="793.5"/><use href="#dot" x="847.2" y="791.1"/><use href="#dot" x="850.6" y="797.3"/><use href="#dot" x="854.1" y="801.9"/><use href="#dot" x="857.5" y="806.0"/><use href="#dot" x="861.0" y="814.2"/><use href="#dot" x="864.4" y="817.1"/><use href="#dot" x="867.9" y="824.6"/><use href="#dot" x="871.3" y="825.1"/><use href="#dot" x="874.8" y="830.6"/><use href="#dot" x="878.2" y="837.9"/><use href="#dot" x="881.7" y="845.7"/><use href="#dot" x="885.1" y="842.9"/><use href="#dot" x="888.6" y="849.2"/><use href="#dot" x="892.0" y="849.5"/><use href="#dot" x="895.5" y="844.2"/><use href="#dot" x="898.9" y="845.2"/><use href="#dot" x="902.4" y="844.0"/><use href="#dot" x="905.8" y="845.6"/><use href="#dot" x="909.3" y="844.8"/><use href="#dot" x="912.7" y="842.7"/><use href="#dot" x="916.2" y="834.4"/><use href="#dot" x="919.6" y="839.5"/><use href="#dot" x="923.1" y="841.3"/><use href="#dot" x="926.5" y="839.5"/><use href="#dot" x="930.0" y="836.9"/><use href="#dot" x="933.4" y="837.2"/><use href="#dot" x="936.9" y="830.1"/><use href="#dot" x="940.3" y="830.4"/><use href="#dot" x="943.8" y="827.9"/><use href="#dot" x="947.2" y="822.6"/><use href="#dot" x="950.7" y="823.3"/><use href="#dot" x="954.1" y="823.3"/><use href="#dot" x="957.6" y="827.3"/><use href="#dot" x="961.0" y="826.8"/><use href="#dot" x="964.5" y="818.1"/><use href="#dot" x="967.9" y="811.5"/><use href="#dot" x="971.4" y="813.3"/><use href="#dot" x="974.8" y="813.8"/><use href="#dot" x="978.3" y="811.6"/><use href="#dot" x="981.7" y="808.5"/><use href="#dot" x="985.2" y="810.7"/><use href="#dot" x="988.6" y="808.9"/><use href="#dot" x="992.1" y="809.4"/><use href="#dot" x="995.5" y="814.7"/><use href="#dot" x="999.0" y="816.1"/><use href="#dot" x="1002.4" y="813.9"/><use href="#dot" x="1005.9" y="811.7"/><use href="#dot" x="1009.3" y="813.6"/><use href="#dot" x="1012.8" y="821.2"/><use href="#dot" x="1016.2" y="819.0"/><use href="#dot" x="1019.7" y="825.2"/><use href="#dot" x="1023.1" y="821.3"/><use href="#dot" x="1026.6" y="821.3"/><use href="#dot" x="1030.0" y="824.6"/><use href="#dot" x="1033.5" y="822.5"/><use href="#dot" x="1036.9" y="824.4"/><use href="#dot" x="1040.4" y="821.5"/><use href="#dot" x="1043.8" y="826.9"/><use href="#dot" x="1047.3" y="832.3"/><use href="#dot" x="1050.7" y="830.3"/><use href="#dot" x="1054.2" y="832.4"/><use href="#dot" x="1057.6" y="832.4"/><use href="#dot" x="1061.1" y="827.4"/><use href="#dot" x="1064.5" y="840.7"/><use href="#dot" x="1068.0" y="842.5"/><use href="#dot" x="1071.4" y="844.9"/><use href="#dot" x="1074.9" y="845.5"/><use href="#dot" x="1078.3" y="845.8"/><use href="#dot" x="1081.8" y="853.5"/><use href="#dot" x="1085.2" y="845.3"/><use href="#dot" x="1088.7" y="845.8"/><use href="#dot" x="1092.1" y="846.3"/><use href="#dot" x="1095.6" y="847.7"/><use href="#dot" x="1099.0" y="852.0"/><use href="#dot" x="1102.5" y="850.5"/><use href="#dot" x="1105.9" y="848.2"/><use href="#dot" x="1109.4" y="847.8"/><use href="#dot" x="1112.8" y="853.1"/><use href="#dot" x="1116.3" y="858.2"/><use href="#dot" x="1119.7" y="861.2"/><use href="#dot" x="1123.2" y="865.9"/><use href="#dot" x="1126.6" y="862.3"/><use href="#dot" x="1130.1" y="865.3"/><use href="#dot" x="1133.5" y="866.3"/><use href="#dot" x="1137.0" y="864.5"/><use href="#dot" x="1140.4" y="861.8"/><use href="#dot" x="1143.9" y="865.7"/><use href="#dot" x="1147.3" y="863.2"/><use href="#dot" x="1150.8" y="863.2"/><use href="#dot" x="1154.2" y="861.1"/><use href="#dot" x="1157.7" y="868.8"/><use href="#dot" x="1161.1" y="867.8"/><use href="#dot" x="1164.6" y="865.9"/><use href="#dot" x="1168.0" y="865.7"/><use href="#dot" x="1171.5" y="865.8"/><use href="#dot" x="1174.9" y="866.9"/><use href="#dot" x="1178.4" y="862.0"/><use href="#dot" x="1181.8" y="860.8"/><use href="#dot" x="1185.3" y="865.6"/><use href="#dot" x="1188.7" y="870.3"/><use href="#dot" x="1192.2" y="866.5"/><use href="#dot" x="1195.6" y="867.9"/><use href="#dot" x="1199.1" y="866.6"/><use href="#dot" x="1202.5" y="860.4"/><use href="#dot" x="1206.0" y="863.0"/><use href="#dot" x="1209.4" y="862.1"/><use href="#dot" x="1212.9" y="867.9"/><use href="#dot" x="1216.3" y="867.9"/><use href="#dot" x="1219.8" y="868.5"/></g>
<path d="M163.1,869.8 L164.6,869.8 L166.1,869.8 L167.6,869.7 L169.1,869.7 L170.6,869.7 L172.1,869.7 L173.6,869.7 L175.1,869.6 L176.6,869.6 L178.1,869.6 L179.6,869.6 L181.1,869.6 L182.6,869.5 L184.1,869.5 L185.6,869.5 L187.1,869.4 L188.6,869.4 L190.1,869.4 L191.6,869.3 L193.1,869.3 L194.6,869.3 L196.1,869.2 L197.6,869.2 L199.1,869.1 L200.6,869.1 L202.1,869.0 L203.6,869.0 L205.1,868.9 L206.6,868.9 L208.1,868.8 L209.6,868.8 L211.1,868.7 L212.6,868.7 L214.1,868.6 L215.6,868.5 L217.1,868.5 L218.6,868.4 L220.1,868.3 L221.6,868.2 L223.1,868.1 L224.6,868.1 L226.1,868.0 L227.6,867.9 L229.1,867.8 L230.6,867.7 L232.1,867.6 L233.6,867.5 L235.1,867.3 L236.6,867.2 L238.1,867.1 L239.6,867.0 L241.1,866.8 L242.6,866.6 L244.1,866.5 L245.6,866.3 L247.1,866.1 L248.6,865.9 L250.1,865.7 L251.6,865.4 L253.1,865.1 L254.6,864.8 L256.1,864.5 L257.6,864.1 L259.1,863.7 L260.6,863.2 L262.1,862.7 L263.6,862.2 L265.1,861.5 L266.6,860.8 L268.1,860.1 L269.6,859.3 L271.1,858.4 L272.6,857.4 L274.1,856.4 L275.6,855.3 L277.1,854.1 L278.6,852.9 L280.1,851.6 L281.6,850.2 L283.1,848.8 L284.6,847.3 L286.1,845.7 L287.6,844.0 L289.1,842.3 L290.6,840.4 L292.1,838.4 L293.6,836.2 L295.1,833.8 L296.6,831.2 L298.1,828.4 L299.6,825.3 L301.1,821.8 L302.6,817.9 L304.1,813.6 L305.6,808.7 L307.1,803.3 L308.6,797.2 L310.1,790.5 L311.6,783.0 L313.1,774.7 L314.6,765.5 L316.1,755.4 L317.6,744.3 L319.1,732.3 L320.6,719.2 L322.1,705.1 L323.6,689.9 L325.1,673.8 L326.6,656.6 L328.1,638.4 L329.6,619.4 L331.1,599.6 L332.6,579.0 L334.1,557.9 L335.6,536.3 L337.1,514.4 L338.6,492.4 L340.1,470.5 L341.6,448.7 L343.1,427.4 L344.6,406.7 L346.1,386.8 L347.6,367.9 L349.1,350.1 L350.6,333.7 L352.1,318.7 L353.6,305.2 L355.1,293.4 L356.6,283.3 L358.1,275.0 L359.6,268.4 L361.1,263.5 L362.6,260.4 L364.1,258.9 L365.6,259.0 L367.1,260.5 L368.6,263.3 L370.1,267.3 L371.6,272.5 L373.1,278.5 L374.6,285.4 L376.1,292.9 L377.6,301.0 L379.1,309.5 L380.6,318.3 L382.1,327.4 L383.6,336.6 L385.1,346.0 L386.6,355.3 L388.1,364.6 L389.6,374.0 L391.1,383.2 L392.6,392.4 L394.1,401.6 L395.6,410.7 L397.1,419.7 L398.6,428.8 L400.1,437.8 L401.6,446.8 L403.1,455.8 L404.6,464.9 L406.1,474.0 L407.6,483.1 L409.1,492.3 L410.6,501.5 L412.1,510.8 L413.6,520.1 L415.1,529.3 L416.6,538.6 L418.1,547.9 L419.6,557.1 L421.1,566.2 L422.6,575.2 L424.1,584.1 L425.6,592.8 L427.1,601.3 L428.6,609.7 L430.1,617.8 L431.6,625.7 L433.1,633.4 L434.6,640.8 L436.1,648.0 L437.6,655.0 L439.1,661.7 L440.6,668.3 L442.1,674.6 L443.6,680.8 L445.1,686.8 L446.6,692.6 L448.1,698.3 L449.6,703.8 L451.1,709.2 L452.6,714.4 L454.1,719.5 L455.6,724.3 L457.1,729.0 L458.6,733.5 L460.1,737.8 L461.6,741.8 L463.1,745.6 L464.6,749.1 L466.1,752.4 L467.6,755.4 L469.1,758.2 L470.6,760.8 L472.1,763.1 L473.6,765.2 L475.1,767.1 L476.6,768.8 L478.1,770.3 L479.6,771.6 L481.1,772.9 L482.6,774.0 L484.1,775.0 L485.6,775.8 L487.1,776.6 L488.6,777.4 L490.1,778.0 L491.6,778.6 L493.1,779.1 L494.6,779.6 L496.1,780.1 L497.6,780.5 L499.1,780.9 L500.6,781.3 L502.1,781.7 L503.6,782.0 L505.1,782.4 L506.6,782.7 L508.1,783.0 L509.6,783.3 L511.1,783.7 L512.5,784.0 L514.0,784.3 L515.5,784.7 L517.0,785.0 L518.5,785.4 L520.0,785.7 L521.5,786.1 L523.0,786.5 L524.5,786.9 L526.0,787.3 L527.5,787.7 L529.0,788.1 L530.5,788.6 L532.0,789.0 L533.5,789.5 L535.0,790.0 L536.5,790.5 L538.0,791.0 L539.5,791.5 L541.0,792.1 L542.5,792.6 L544.0,793.2 L545.5,793.8 L547.0,794.4 L548.5,795.0 L550.0,795.6 L551.5,796.2 L553.0,796.8 L554.5,797.5 L556.0,798.1 L557.5,798.8 L559.0,799.5 L560.5,800.2 L562.0,800.9 L563.5,801.6 L565.0,802.3 L566.5,803.0 L568.0,803.8 L569.5,804.5 L571.0,805.2 L572.5,806.0 L574.0,806.8 L575.5,807.5 L577.0,808.3 L578.5,809.1 L580.0,809.8 L581.5,810.6 L583.0,811.4 L584.5,812.2 L586.0,813.0 L587.5,813.8 L589.0,814.6 L590.5,815.3 L592.0,816.1 L593.5,816.9 L595.0,817.7 L596.5,818.5 L598.0,819.3 L599.5,820.1 L601.0,820.9 L602.5,821.7 L604.0,822.5 L605.5,823.3 L607.0,824.1 L608.5,824.9 L610.0,825.6 L611.5,826.4 L613.0,827.2 L614.5,828.0 L616.0,828.7 L617.5,829.5 L619.0,830.2 L620.5,831.0 L622.0,831.7 L623.5,832.5 L625.0,833.2 L626.5,833.9 L628.0,834.7 L629.5,835.4 L631.0,836.1 L632.5,836.8 L634.0,837.5 L635.5,838.2 L637.0,838.8 L638.5,839.5 L640.0,840.2 L641.5,840.8 L643.0,841.5 L644.5,842.1 L646.0,842.7 L647.5,843.4 L649.0,844.0 L650.5,844.6 L652.0,845.2 L653.5,845.8 L655.0,846.4 L656.5,846.9 L658.0,847.5 L659.5,848.0 L661.0,848.6 L662.5,849.1 L664.0,849.6 L665.5,850.1 L667.0,850.6 L668.5,851.1 L670.0,851.6 L671.5,852.0 L673.0,852.5 L674.5,852.9 L676.0,853.3 L677.5,853.7 L679.0,854.1 L680.5,854.5 L682.0,854.8 L683.5,855.1 L685.0,855.4 L686.5,855.7 L688.0,855.9 L689.5,856.1 L691.0,856.2 L692.5,856.3 L694.0,856.3 L695.5,856.3 L697.0,856.2 L698.5,855.9 L700.0,855.6 L701.5,855.1 L703.0,854.5 L704.5,853.7 L706.0,852.7 L707.5,851.5 L709.0,850.0 L710.5,848.3 L712.0,846.2 L713.5,843.7 L715.0,840.9 L716.5,837.6 L718.0,833.9 L719.5,829.7 L721.0,825.0 L722.5,819.7 L724.0,813.9 L725.5,807.6 L727.0,800.7 L728.5,793.3 L730.0,785.3 L731.5,777.0 L733.0,768.2 L734.5,759.0 L736.0,749.6 L737.5,739.9 L739.0,730.2 L740.5,720.5 L742.0,710.9 L743.5,701.5 L745.0,692.5 L746.5,683.9 L748.0,675.8 L749.5,668.4 L751.0,661.7 L752.5,655.8 L754.0,650.7 L755.5,646.6 L757.0,643.3 L758.5,641.0 L760.0,639.6 L761.5,639.0 L763.0,639.3 L764.5,640.3 L766.0,642.0 L767.5,644.2 L769.0,646.9 L770.5,650.0 L772.0,653.4 L773.5,657.0 L775.0,660.7 L776.5,664.3 L778.0,667.9 L779.5,671.4 L781.0,674.6 L782.5,677.7 L784.0,680.5 L785.5,683.1 L787.0,685.4 L788.5,687.4 L790.0,689.3 L791.5,691.0 L793.0,692.5 L794.5,693.9 L796.0,695.2 L797.5,696.4 L799.0,697.7 L800.5,698.9 L802.0,700.3 L803.5,701.7 L805.0,703.2 L806.5,704.9 L808.0,706.7 L809.5,708.7 L811.0,710.8 L812.5,713.2 L814.0,715.7 L815.5,718.4 L817.0,721.2 L818.5,724.3 L820.0,727.5 L821.5,730.8 L823.0,734.3 L824.5,737.9 L826.0,741.6 L827.5,745.4 L829.0,749.2 L830.5,753.1 L832.0,757.1 L833.5,761.1 L835.0,765.1 L836.5,769.1 L838.0,773.0 L839.5,777.0 L841.0,780.8 L842.5,784.6 L844.0,788.4 L845.5,792.0 L847.0,795.6 L848.5,799.0 L850.0,802.3 L851.5,805.6 L853.0,808.6 L854.5,811.6 L856.0,814.4 L857.5,817.1 L859.0,819.6 L860.5,822.0 L862.0,824.2 L863.5,826.3 L865.0,828.3 L866.5,830.1 L868.0,831.7 L869.5,833.3 L871.0,834.7 L872.5,836.0 L874.0,837.1 L875.5,838.1 L877.0,839.0 L878.5,839.8 L880.0,840.5 L881.5,841.1 L883.0,841.6 L884.5,842.0 L886.0,842.3 L887.5,842.6 L889.0,842.7 L890.5,842.8 L892.0,842.8 L893.5,842.8 L895.0,842.7 L896.5,842.5 L898.0,842.3 L899.5,842.0 L901.0,841.7 L902.5,841.4 L904.0,841.0 L905.5,840.6 L907.0,840.1 L908.5,839.7 L910.0,839.2 L911.5,838.7 L913.0,838.1 L914.5,837.6 L916.0,837.0 L917.5,836.4 L919.0,835.9 L920.5,835.3 L922.0,834.7 L923.5,834.0 L925.0,833.4 L926.5,832.8 L928.0,832.2 L929.5,831.6 L931.0,831.0 L932.5,830.3 L934.0,829.7 L935.5,829.1 L937.0,828.5 L938.5,827.9 L940.0,827.3 L941.5,826.7 L943.0,826.2 L944.5,825.6 L946.0,825.0 L947.5,824.5 L949.0,823.9 L950.5,823.4 L952.0,822.9 L953.5,822.4 L955.0,821.9 L956.5,821.4 L958.0,821.0 L959.5,820.6 L961.0,820.1 L962.5,819.7 L964.0,819.3 L965.5,819.0 L967.0,818.6 L968.5,818.3 L970.0,818.0 L971.5,817.7 L973.0,817.4 L974.5,817.1 L976.0,816.9 L977.5,816.7 L979.0,816.5 L980.5,816.3 L982.0,816.2 L983.5,816.0 L985.0,815.9 L986.5,815.8 L988.0,815.8 L989.5,815.7 L991.0,815.7 L992.5,815.7 L994.0,815.7 L995.5,815.8 L997.0,815.8 L998.5,815.9 L1000.0,816.0 L1001.5,816.2 L1003.0,816.3 L1004.5,816.5 L1006.0,816.7 L1007.5,816.9 L1009.0,817.2 L1010.5,817.4 L1012.0,817.7 L1013.5,818.0 L1015.0,818.3 L1016.5,818.7 L1018.0,819.0 L1019.5,819.4 L1021.0,819.8 L1022.5,820.2 L1024.0,820.6 L1025.5,821.1 L1027.0,821.5 L1028.5,822.0 L1030.0,822.5 L1031.5,823.0 L1033.0,823.5 L1034.5,824.0 L1036.0,824.6 L1037.5,825.1 L1039.0,825.7 L1040.5,826.3 L1042.0,826.9 L1043.5,827.5 L1045.0,828.1 L1046.5,828.7 L1048.0,829.3 L1049.5,829.9 L1051.0,830.6 L1052.5,831.2 L1054.0,831.8 L1055.5,832.5 L1057.0,833.1 L1058.5,833.8 L1060.0,834.5 L1061.5,835.1 L1063.0,835.8 L1064.5,836.5 L1066.0,837.1 L1067.5,837.8 L1069.0,838.5 L1070.5,839.1 L1072.0,839.8 L1073.5,840.4 L1075.0,841.1 L1076.5,841.8 L1078.0,842.4 L1079.5,843.1 L1081.0,843.7 L1082.5,844.3 L1084.0,845.0 L1085.5,845.6 L1087.0,846.2 L1088.5,846.8 L1090.0,847.4 L1091.5,848.0 L1093.0,848.6 L1094.5,849.2 L1096.0,849.8 L1097.5,850.4 L1099.0,850.9 L1100.5,851.5 L1102.0,852.0 L1103.5,852.6 L1105.0,853.1 L1106.5,853.6 L1108.0,854.1 L1109.5,854.6 L1111.0,855.1 L1112.5,855.6 L1114.0,856.1 L1115.5,856.5 L1117.0,857.0 L1118.5,857.4 L1120.0,857.9 L1121.5,858.3 L1123.0,858.7 L1124.5,859.1 L1126.0,859.5 L1127.5,859.9 L1129.0,860.2 L1130.5,860.6 L1132.0,861.0 L1133.5,861.3 L1135.0,861.6 L1136.5,862.0 L1138.0,862.3 L1139.5,862.6 L1141.0,862.9 L1142.5,863.2 L1144.0,863.4 L1145.5,863.7 L1147.0,864.0 L1148.5,864.2 L1150.0,864.5 L1151.5,864.7 L1153.0,864.9 L1154.5,865.2 L1156.0,865.4 L1157.5,865.6 L1159.0,865.8 L1160.5,866.0 L1162.0,866.2 L1163.5,866.3 L1165.0,866.5 L1166.5,866.7 L1168.0,866.8 L1169.5,867.0 L1171.0,867.1 L1172.5,867.3 L1174.0,867.4 L1175.5,867.5 L1177.0,867.7 L1178.5,867.8 L1180.0,867.9 L1181.5,868.0 L1183.0,868.1 L1184.5,868.2 L1186.0,868.3 L1187.5,868.4 L1189.0,868.5 L1190.5,868.6 L1192.0,868.7 L1193.5,868.7 L1195.0,868.8 L1196.5,868.9 L1198.0,868.9 L1199.5,869.0 L1201.0,869.1 L1202.5,869.1 L1204.0,869.2 L1205.5,869.2 L1207.0,869.3 L1208.5,869.3 L1210.0,869.4 L1211.5,869.4 L1213.0,869.5 L1214.5,869.5 L1216.0,869.5 L1217.5,869.6 L1219.0,869.6 L1220.5,869.6 L1222.0,869.7 L1223.0,869.7" fill="none" stroke="#ff0000" stroke-width="4.5" stroke-linejoin="round"/>
<path d="M163.1,870.1 L164.6,870.1 L166.1,870.1 L167.6,870.1 L169.1,870.1 L170.6,870.1 L172.1,870.1 L173.6,870.1 L175.1,870.1 L176.6,870.1 L178.1,870.1 L179.6,870.1 L181.1,870.1 L182.6,870.1 L184.1,870.1 L185.6,870.1 L187.1,870.1 L188.6,870.1 L190.1,870.1 L191.6,870.1 L193.1,870.1 L194.6,870.1 L196.1,870.1 L197.6,870.1 L199.1,870.1 L200.6,870.1 L202.1,870.1 L203.6,870.1 L205.1,870.1 L206.6,870.1 L208.1,870.1 L209.6,870.1 L211.1,870.1 L212.6,870.1 L214.1,870.1 L215.6,870.1 L217.1,870.1 L218.6,870.1 L220.1,870.1 L221.6,870.1 L223.1,870.1 L224.6,870.1 L226.1,870.1 L227.6,870.1 L229.1,870.1 L230.6,870.1 L232.1,870.1 L233.6,870.1 L235.1,870.1 L236.6,870.1 L238.1,870.1 L239.6,870.1 L241.1,870.1 L242.6,870.1 L244.1,870.1 L245.6,870.1 L247.1,870.1 L248.6,870.1 L250.1,870.1 L251.6,870.1 L253.1,870.1 L254.6,870.1 L256.1,870.1 L257.6,870.1 L259.1,870.1 L260.6,870.1 L262.1,870.1 L263.6,870.1 L265.1,870.1 L266.6,870.1 L268.1,870.1 L269.6,870.1 L271.1,870.1 L272.6,870.1 L274.1,870.1 L275.6,870.0 L277.1,870.0 L278.6,870.0 L280.1,869.9 L281.6,869.9 L283.1,869.8 L284.6,869.7 L286.1,869.6 L287.6,869.4 L289.1,869.3 L290.6,869.0 L292.1,868.7 L293.6,868.3 L295.1,867.8 L296.6,867.2 L298.1,866.5 L299.6,865.6 L301.1,864.5 L302.6,863.2 L304.1,861.7 L305.6,859.8 L307.1,857.6 L308.6,855.1 L310.1,852.1 L311.6,848.7 L313.1,844.8 L314.6,840.3 L316.1,835.2 L317.6,829.5 L319.1,823.1 L320.6,816.0 L322.1,808.3 L323.6,799.8 L325.1,790.7 L326.6,780.8 L328.1,770.4 L329.6,759.3 L331.1,747.8 L332.6,735.8 L334.1,723.5 L335.6,711.0 L337.1,698.4 L338.6,685.9 L340.1,673.6 L341.6,661.7 L343.1,650.4 L344.6,639.8 L346.1,630.0 L347.6,621.4 L349.1,613.8 L350.6,607.6 L352.1,602.8 L353.6,599.5 L355.1,597.7 L356.6,597.5 L358.1,598.9 L359.6,601.8 L361.1,606.2 L362.6,612.1 L364.1,619.2 L365.6,627.6 L367.1,637.1 L368.6,647.5 L370.1,658.6 L371.6,670.4 L373.1,682.6 L374.6,695.0 L376.1,707.6 L377.6,720.1 L379.1,732.5 L380.6,744.6 L382.1,756.3 L383.6,767.5 L385.1,778.1 L386.6,788.1 L388.1,797.5 L389.6,806.1 L391.1,814.0 L392.6,821.3 L394.1,827.8 L395.6,833.7 L397.1,839.0 L398.6,843.6 L400.1,847.7 L401.6,851.3 L403.1,854.3 L404.6,857.0 L406.1,859.3 L407.6,861.2 L409.1,862.8 L410.6,864.2 L412.1,865.3 L413.6,866.3 L415.1,867.0 L416.6,867.7 L418.1,868.2 L419.6,868.6 L421.1,868.9 L422.6,869.2 L424.1,869.4 L425.6,869.6 L427.1,869.7 L428.6,869.8 L430.1,869.9 L431.6,869.9 L433.1,870.0 L434.6,870.0 L436.1,870.0 L437.6,870.0 L439.1,870.1 L440.6,870.1 L442.1,870.1 L443.6,870.1 L445.1,870.1 L446.6,870.1 L448.1,870.1 L449.6,870.1 L451.1,870.1 L452.6,870.1 L454.1,870.1 L455.6,870.1 L457.1,870.1 L458.6,870.1 L460.1,870.1 L461.6,870.1 L463.1,870.1 L464.6,870.1 L466.1,870.1 L467.6,870.1 L469.1,870.1 L470.6,870.1 L472.1,870.1 L473.6,870.1 L475.1,870.1 L476.6,870.1 L478.1,870.1 L479.6,870.1 L481.1,870.1 L482.6,870.1 L484.1,870.1 L485.6,870.1 L487.1,870.1 L488.6,870.1 L490.1,870.1 L491.6,870.1 L493.1,870.1 L494.6,870.1 L496.1,870.1 L497.6,870.1 L499.1,870.1 L500.6,870.1 L502.1,870.1 L503.6,870.1 L505.1,870.1 L506.6,870.1 L508.1,870.1 L509.6,870.1 L511.1,870.1 L512.5,870.1 L514.0,870.1 L515.5,870.1 L517.0,870.1 L518.5,870.1 L520.0,870.1 L521.5,870.1 L523.0,870.1 L524.5,870.1 L526.0,870.1 L527.5,870.1 L529.0,870.1 L530.5,870.1 L532.0,870.1 L533.5,870.1 L535.0,870.1 L536.5,870.1 L538.0,870.1 L539.5,870.1 L541.0,870.1 L542.5,870.1 L544.0,870.1 L545.5,870.1 L547.0,870.1 L548.5,870.1 L550.0,870.1 L551.5,870.1 L553.0,870.1 L554.5,870.1 L556.0,870.1 L557.5,870.1 L559.0,870.1 L560.5,870.1 L562.0,870.1 L563.5,870.1 L565.0,870.1 L566.5,870.1 L568.0,870.1 L569.5,870.1 L571.0,870.1 L572.5,870.1 L574.0,870.1 L575.5,870.1 L577.0,870.1 L578.5,870.1 L580.0,870.1 L581.5,870.1 L583.0,870.1 L584.5,870.1 L586.0,870.1 L587.5,870.1 L589.0,870.1 L590.5,870.1 L592.0,870.1 L593.5,870.1 L595.0,870.1 L596.5,870.1 L598.0,870.1 L599.5,870.1 L601.0,870.1 L602.5,870.1 L604.0,870.1 L605.5,870.1 L607.0,870.1 L608.5,870.1 L610.0,870.1 L611.5,870.1 L613.0,870.1 L614.5,870.1 L616.0,870.1 L617.5,870.1 L619.0,870.1 L620.5,870.1 L622.0,870.1 L623.5,870.1 L625.0,870.1 L626.5,870.1 L628.0,870.1 L629.5,870.1 L631.0,870.1 L632.5,870.1 L634.0,870.1 L635.5,870.1 L637.0,870.1 L638.5,870.1 L640.0,870.1 L641.5,870.1 L643.0,870.1 L644.5,870.1 L646.0,870.1 L647.5,870.1 L649.0,870.1 L650.5,870.1 L652.0,870.1 L653.5,870.1 L655.0,870.1 L656.5,870.1 L658.0,870.1 L659.5,870.1 L661.0,870.1 L662.5,870.1 L664.0,870.1 L665.5,870.1 L667.0,870.1 L668.5,870.1 L670.0,870.1 L671.5,870.1 L673.0,870.1 L674.5,870.1 L676.0,870.1 L677.5,870.1 L679.0,870.1 L680.5,870.1 L682.0,870.1 L683.5,870.1 L685.0,870.1 L686.5,870.1 L688.0,870.1 L689.5,870.1 L691.0,870.1 L692.5,870.1 L694.0,870.1 L695.5,870.1 L697.0,870.1 L698.5,870.1 L700.0,870.1 L701.5,870.1 L703.0,870.1 L704.5,870.1 L706.0,870.1 L707.5,870.1 L709.0,870.1 L710.5,870.1 L712.0,870.1 L713.5,870.1 L715.0,870.1 L716.5,870.1 L718.0,870.1 L719.5,870.1 L721.0,870.1 L722.5,870.1 L724.0,870.1 L725.5,870.1 L727.0,870.1 L728.5,870.1 L730.0,870.1 L731.5,870.1 L733.0,870.1 L734.5,870.1 L736.0,870.1 L737.5,870.1 L739.0,870.1 L740.5,870.1 L742.0,870.1 L743.5,870.1 L745.0,870.1 L746.5,870.1 L748.0,870.1 L749.5,870.1 L751.0,870.1 L752.5,870.1 L754.0,870.1 L755.5,870.1 L757.0,870.1 L758.5,870.1 L760.0,870.1 L761.5,870.1 L763.0,870.1 L764.5,870.1 L766.0,870.1 L767.5,870.1 L769.0,870.1 L770.5,870.1 L772.0,870.1 L773.5,870.1 L775.0,870.1 L776.5,870.1 L778.0,870.1 L779.5,870.1 L781.0,870.1 L782.5,870.1 L784.0,870.1 L785.5,870.1 L787.0,870.1 L788.5,870.1 L790.0,870.1 L791.5,870.1 L793.0,870.1 L794.5,870.1 L796.0,870.1 L797.5,870.1 L799.0,870.1 L800.5,870.1 L802.0,870.1 L803.5,870.1 L805.0,870.1 L806.5,870.1 L808.0,870.1 L809.5,870.1 L811.0,870.1 L812.5,870.1 L814.0,870.1 L815.5,870.1 L817.0,870.1 L818.5,870.1 L820.0,870.1 L821.5,870.1 L823.0,870.1 L824.5,870.1 L826.0,870.1 L827.5,870.1 L829.0,870.1 L830.5,870.1 L832.0,870.1 L833.5,870.1 L835.0,870.1 L836.5,870.1 L838.0,870.1 L839.5,870.1 L841.0,870.1 L842.5,870.1 L844.0,870.1 L845.5,870.1 L847.0,870.1 L848.5,870.1 L850.0,870.1 L851.5,870.1 L853.0,870.1 L854.5,870.1 L856.0,870.1 L857.5,870.1 L859.0,870.1 L860.5,870.1 L862.0,870.1 L863.5,870.1 L865.0,870.1 L866.5,870.1 L868.0,870.1 L869.5,870.1 L871.0,870.1 L872.5,870.1 L874.0,870.1 L875.5,870.1 L877.0,870.1 L878.5,870.1 L880.0,870.1 L881.5,870.1 L883.0,870.1 L884.5,870.1 L886.0,870.1 L887.5,870.1 L889.0,870.1 L890.5,870.1 L892.0,870.1 L893.5,870.1 L895.0,870.1 L896.5,870.1 L898.0,870.1 L899.5,870.1 L901.0,870.1 L902.5,870.1 L904.0,870.1 L905.5,870.1 L907.0,870.1 L908.5,870.1 L910.0,870.1 L911.5,870.1 L913.0,870.1 L914.5,870.1 L916.0,870.1 L917.5,870.1 L919.0,870.1 L920.5,870.1 L922.0,870.1 L923.5,870.1 L925.0,870.1 L926.5,870.1 L928.0,870.1 L929.5,870.1 L931.0,870.1 L932.5,870.1 L934.0,870.1 L935.5,870.1 L937.0,870.1 L938.5,870.1 L940.0,870.1 L941.5,870.1 L943.0,870.1 L944.5,870.1 L946.0,870.1 L947.5,870.1 L949.0,870.1 L950.5,870.1 L952.0,870.1 L953.5,870.1 L955.0,870.1 L956.5,870.1 L958.0,870.1 L959.5,870.1 L961.0,870.1 L962.5,870.1 L964.0,870.1 L965.5,870.1 L967.0,870.1 L968.5,870.1 L970.0,870.1 L971.5,870.1 L973.0,870.1 L974.5,870.1 L976.0,870.1 L977.5,870.1 L979.0,870.1 L980.5,870.1 L982.0,870.1 L983.5,870.1 L985.0,870.1 L986.5,870.1 L988.0,870.1 L989.5,870.1 L991.0,870.1 L992.5,870.1 L994.0,870.1 L995.5,870.1 L997.0,870.1 L998.5,870.1 L1000.0,870.1 L1001.5,870.1 L1003.0,870.1 L1004.5,870.1 L1006.0,870.1 L1007.5,870.1 L1009.0,870.1 L1010.5,870.1 L1012.0,870.1 L1013.5,870.1 L1015.0,870.1 L1016.5,870.1 L1018.0,870.1 L1019.5,870.1 L1021.0,870.1 L1022.5,870.1 L1024.0,870.1 L1025.5,870.1 L1027.0,870.1 L1028.5,870.1 L1030.0,870.1 L1031.5,870.1 L1033.0,870.1 L1034.5,870.1 L1036.0,870.1 L1037.5,870.1 L1039.0,870.1 L1040.5,870.1 L1042.0,870.1 L1043.5,870.1 L1045.0,870.1 L1046.5,870.1 L1048.0,870.1 L1049.5,870.1 L1051.0,870.1 L1052.5,870.1 L1054.0,870.1 L1055.5,870.1 L1057.0,870.1 L1058.5,870.1 L1060.0,870.1 L1061.5,870.1 L1063.0,870.1 L1064.5,870.1 L1066.0,870.1 L1067.5,870.1 L1069.0,870.1 L1070.5,870.1 L1072.0,870.1 L1073.5,870.1 L1075.0,870.1 L1076.5,870.1 L1078.0,870.1 L1079.5,870.1 L1081.0,870.1 L1082.5,870.1 L1084.0,870.1 L1085.5,870.1 L1087.0,870.1 L1088.5,870.1 L1090.0,870.1 L1091.5,870.1 L1093.0,870.1 L1094.5,870.1 L1096.0,870.1 L1097.5,870.1 L1099.0,870.1 L1100.5,870.1 L1102.0,870.1 L1103.5,870.1 L1105.0,870.1 L1106.5,870.1 L1108.0,870.1 L1109.5,870.1 L1111.0,870.1 L1112.5,870.1 L1114.0,870.1 L1115.5,870.1 L1117.0,870.1 L1118.5,870.1 L1120.0,870.1 L1121.5,870.1 L1123.0,870.1 L1124.5,870.1 L1126.0,870.1 L1127.5,870.1 L1129.0,870.1 L1130.5,870.1 L1132.0,870.1 L1133.5,870.1 L1135.0,870.1 L1136.5,870.1 L1138.0,870.1 L1139.5,870.1 L1141.0,870.1 L1142.5,870.1 L1144.0,870.1 L1145.5,870.1 L1147.0,870.1 L1148.5,870.1 L1150.0,870.1 L1151.5,870.1 L1153.0,870.1 L1154.5,870.1 L1156.0,870.1 L1157.5,870.1 L1159.0,870.1 L1160.5,870.1 L1162.0,870.1 L1163.5,870.1 L1165.0,870.1 L1166.5,870.1 L1168.0,870.1 L1169.5,870.1 L1171.0,870.1 L1172.5,870.1 L1174.0,870.1 L1175.5,870.1 L1177.0,870.1 L1178.5,870.1 L1180.0,870.1 L1181.5,870.1 L1183.0,870.1 L1184.5,870.1 L1186.0,870.1 L1187.5,870.1 L1189.0,870.1 L1190.5,870.1 L1192.0,870.1 L1193.5,870.1 L1195.0,870.1 L1196.5,870.1 L1198.0,870.1 L1199.5,870.1 L1201.0,870.1 L1202.5,870.1 L1204.0,870.1 L1205.5,870.1 L1207.0,870.1 L1208.5,870.1 L1210.0,870.1 L1211.5,870.1 L1213.0,870.1 L1214.5,870.1 L1216.0,870.1 L1217.5,870.1 L1219.0,870.1 L1220.5,870.1 L1222.0,870.1 L1223.0,870.1" fill="none" stroke="#0000f5" stroke-width="4" stroke-linejoin="round"/>
<path d="M163.1,870.1 L164.6,870.1 L166.1,870.1 L167.6,870.1 L169.1,870.1 L170.6,870.1 L172.1,870.1 L173.6,870.1 L175.1,870.1 L176.6,870.1 L178.1,870.1 L179.6,870.1 L181.1,870.1 L182.6,870.1 L184.1,870.1 L185.6,870.1 L187.1,870.1 L188.6,870.1 L190.1,870.1 L191.6,870.1 L193.1,870.1 L194.6,870.1 L196.1,870.1 L197.6,870.1 L199.1,870.1 L200.6,870.1 L202.1,870.1 L203.6,870.1 L205.1,870.1 L206.6,870.1 L208.1,870.1 L209.6,870.1 L211.1,870.1 L212.6,870.1 L214.1,870.1 L215.6,870.1 L217.1,870.1 L218.6,870.1 L220.1,870.1 L221.6,870.1 L223.1,870.1 L224.6,870.1 L226.1,870.1 L227.6,870.1 L229.1,870.1 L230.6,870.1 L232.1,870.1 L233.6,870.0 L235.1,870.0 L236.6,870.0 L238.1,870.0 L239.6,870.0 L241.1,870.0 L242.6,870.0 L244.1,869.9 L245.6,869.9 L247.1,869.9 L248.6,869.8 L250.1,869.8 L251.6,869.7 L253.1,869.7 L254.6,869.6 L256.1,869.5 L257.6,869.4 L259.1,869.3 L260.6,869.2 L262.1,869.0 L263.6,868.9 L265.1,868.7 L266.6,868.5 L268.1,868.3 L269.6,868.0 L271.1,867.7 L272.6,867.3 L274.1,867.0 L275.6,866.5 L277.1,866.0 L278.6,865.5 L280.1,864.9 L281.6,864.2 L283.1,863.5 L284.6,862.6 L286.1,861.7 L287.6,860.7 L289.1,859.6 L290.6,858.4 L292.1,857.0 L293.6,855.5 L295.1,853.9 L296.6,852.1 L298.1,850.2 L299.6,848.0 L301.1,845.8 L302.6,843.3 L304.1,840.6 L305.6,837.7 L307.1,834.6 L308.6,831.2 L310.1,827.6 L311.6,823.8 L313.1,819.7 L314.6,815.3 L316.1,810.6 L317.6,805.7 L319.1,800.5 L320.6,794.9 L322.1,789.1 L323.6,783.0 L325.1,776.6 L326.6,769.9 L328.1,762.9 L329.6,755.6 L331.1,748.0 L332.6,740.1 L334.1,732.0 L335.6,723.6 L337.1,715.0 L338.6,706.2 L340.1,697.1 L341.6,687.9 L343.1,678.5 L344.6,669.0 L346.1,659.4 L347.6,649.7 L349.1,639.9 L350.6,630.2 L352.1,620.5 L353.6,610.8 L355.1,601.2 L356.6,591.7 L358.1,582.5 L359.6,573.4 L361.1,564.5 L362.6,556.0 L364.1,547.8 L365.6,539.9 L367.1,532.4 L368.6,525.4 L370.1,518.8 L371.6,512.7 L373.1,507.2 L374.6,502.2 L376.1,497.8 L377.6,493.9 L379.1,490.7 L380.6,488.2 L382.1,486.3 L383.6,485.0 L385.1,484.4 L386.6,484.5 L388.1,485.3 L389.6,486.7 L391.1,488.8 L392.6,491.5 L394.1,494.9 L395.6,498.9 L397.1,503.5 L398.6,508.6 L400.1,514.3 L401.6,520.5 L403.1,527.2 L404.6,534.4 L406.1,542.0 L407.6,549.9 L409.1,558.2 L410.6,566.9 L412.1,575.8 L413.6,584.9 L415.1,594.2 L416.6,603.7 L418.1,613.3 L419.6,623.0 L421.1,632.8 L422.6,642.5 L424.1,652.3 L425.6,662.0 L427.1,671.5 L428.6,681.0 L430.1,690.4 L431.6,699.5 L433.1,708.5 L434.6,717.3 L436.1,725.9 L437.6,734.2 L439.1,742.2 L440.6,750.0 L442.1,757.5 L443.6,764.8 L445.1,771.7 L446.6,778.3 L448.1,784.7 L449.6,790.7 L451.1,796.4 L452.6,801.9 L454.1,807.0 L455.6,811.9 L457.1,816.5 L458.6,820.8 L460.1,824.8 L461.6,828.6 L463.1,832.1 L464.6,835.4 L466.1,838.5 L467.6,841.3 L469.1,844.0 L470.6,846.4 L472.1,848.6 L473.6,850.7 L475.1,852.6 L476.6,854.3 L478.1,855.9 L479.6,857.4 L481.1,858.7 L482.6,859.9 L484.1,861.0 L485.6,862.0 L487.1,862.9 L488.6,863.7 L490.1,864.4 L491.6,865.1 L493.1,865.6 L494.6,866.2 L496.1,866.6 L497.6,867.1 L499.1,867.4 L500.6,867.8 L502.1,868.1 L503.6,868.3 L505.1,868.5 L506.6,868.7 L508.1,868.9 L509.6,869.1 L511.1,869.2 L512.5,869.3 L514.0,869.4 L515.5,869.5 L517.0,869.6 L518.5,869.7 L520.0,869.7 L521.5,869.8 L523.0,869.8 L524.5,869.9 L526.0,869.9 L527.5,869.9 L529.0,870.0 L530.5,870.0 L532.0,870.0 L533.5,870.0 L535.0,870.0 L536.5,870.0 L538.0,870.1 L539.5,870.1 L541.0,870.1 L542.5,870.1 L544.0,870.1 L545.5,870.1 L547.0,870.1 L548.5,870.1 L550.0,870.1 L551.5,870.1 L553.0,870.1 L554.5,870.1 L556.0,870.1 L557.5,870.1 L559.0,870.1 L560.5,870.1 L562.0,870.1 L563.5,870.1 L565.0,870.1 L566.5,870.1 L568.0,870.1 L569.5,870.1 L571.0,870.1 L572.5,870.1 L574.0,870.1 L575.5,870.1 L577.0,870.1 L578.5,870.1 L580.0,870.1 L581.5,870.1 L583.0,870.1 L584.5,870.1 L586.0,870.1 L587.5,870.1 L589.0,870.1 L590.5,870.1 L592.0,870.1 L593.5,870.1 L595.0,870.1 L596.5,870.1 L598.0,870.1 L599.5,870.1 L601.0,870.1 L602.5,870.1 L604.0,870.1 L605.5,870.1 L607.0,870.1 L608.5,870.1 L610.0,870.1 L611.5,870.1 L613.0,870.1 L614.5,870.1 L616.0,870.1 L617.5,870.1 L619.0,870.1 L620.5,870.1 L622.0,870.1 L623.5,870.1 L625.0,870.1 L626.5,870.1 L628.0,870.1 L629.5,870.1 L631.0,870.1 L632.5,870.1 L634.0,870.1 L635.5,870.1 L637.0,870.1 L638.5,870.1 L640.0,870.1 L641.5,870.1 L643.0,870.1 L644.5,870.1 L646.0,870.1 L647.5,870.1 L649.0,870.1 L650.5,870.1 L652.0,870.1 L653.5,870.1 L655.0,870.1 L656.5,870.1 L658.0,870.1 L659.5,870.1 L661.0,870.1 L662.5,870.1 L664.0,870.1 L665.5,870.1 L667.0,870.1 L668.5,870.1 L670.0,870.1 L671.5,870.1 L673.0,870.1 L674.5,870.1 L676.0,870.1 L677.5,870.1 L679.0,870.1 L680.5,870.1 L682.0,870.1 L683.5,870.1 L685.0,870.1 L686.5,870.1 L688.0,870.1 L689.5,870.1 L691.0,870.1 L692.5,870.1 L694.0,870.1 L695.5,870.1 L697.0,870.1 L698.5,870.1 L700.0,870.1 L701.5,870.1 L703.0,870.1 L704.5,870.1 L706.0,870.1 L707.5,870.1 L709.0,870.1 L710.5,870.1 L712.0,870.1 L713.5,870.1 L715.0,870.1 L716.5,870.1 L718.0,870.1 L719.5,870.1 L721.0,870.1 L722.5,870.1 L724.0,870.1 L725.5,870.1 L727.0,870.1 L728.5,870.1 L730.0,870.1 L731.5,870.1 L733.0,870.1 L734.5,870.1 L736.0,870.1 L737.5,870.1 L739.0,870.1 L740.5,870.1 L742.0,870.1 L743.5,870.1 L745.0,870.1 L746.5,870.1 L748.0,870.1 L749.5,870.1 L751.0,870.1 L752.5,870.1 L754.0,870.1 L755.5,870.1 L757.0,870.1 L758.5,870.1 L760.0,870.1 L761.5,870.1 L763.0,870.1 L764.5,870.1 L766.0,870.1 L767.5,870.1 L769.0,870.1 L770.5,870.1 L772.0,870.1 L773.5,870.1 L775.0,870.1 L776.5,870.1 L778.0,870.1 L779.5,870.1 L781.0,870.1 L782.5,870.1 L784.0,870.1 L785.5,870.1 L787.0,870.1 L788.5,870.1 L790.0,870.1 L791.5,870.1 L793.0,870.1 L794.5,870.1 L796.0,870.1 L797.5,870.1 L799.0,870.1 L800.5,870.1 L802.0,870.1 L803.5,870.1 L805.0,870.1 L806.5,870.1 L808.0,870.1 L809.5,870.1 L811.0,870.1 L812.5,870.1 L814.0,870.1 L815.5,870.1 L817.0,870.1 L818.5,870.1 L820.0,870.1 L821.5,870.1 L823.0,870.1 L824.5,870.1 L826.0,870.1 L827.5,870.1 L829.0,870.1 L830.5,870.1 L832.0,870.1 L833.5,870.1 L835.0,870.1 L836.5,870.1 L838.0,870.1 L839.5,870.1 L841.0,870.1 L842.5,870.1 L844.0,870.1 L845.5,870.1 L847.0,870.1 L848.5,870.1 L850.0,870.1 L851.5,870.1 L853.0,870.1 L854.5,870.1 L856.0,870.1 L857.5,870.1 L859.0,870.1 L860.5,870.1 L862.0,870.1 L863.5,870.1 L865.0,870.1 L866.5,870.1 L868.0,870.1 L869.5,870.1 L871.0,870.1 L872.5,870.1 L874.0,870.1 L875.5,870.1 L877.0,870.1 L878.5,870.1 L880.0,870.1 L881.5,870.1 L883.0,870.1 L884.5,870.1 L886.0,870.1 L887.5,870.1 L889.0,870.1 L890.5,870.1 L892.0,870.1 L893.5,870.1 L895.0,870.1 L896.5,870.1 L898.0,870.1 L899.5,870.1 L901.0,870.1 L902.5,870.1 L904.0,870.1 L905.5,870.1 L907.0,870.1 L908.5,870.1 L910.0,870.1 L911.5,870.1 L913.0,870.1 L914.5,870.1 L916.0,870.1 L917.5,870.1 L919.0,870.1 L920.5,870.1 L922.0,870.1 L923.5,870.1 L925.0,870.1 L926.5,870.1 L928.0,870.1 L929.5,870.1 L931.0,870.1 L932.5,870.1 L934.0,870.1 L935.5,870.1 L937.0,870.1 L938.5,870.1 L940.0,870.1 L941.5,870.1 L943.0,870.1 L944.5,870.1 L946.0,870.1 L947.5,870.1 L949.0,870.1 L950.5,870.1 L952.0,870.1 L953.5,870.1 L955.0,870.1 L956.5,870.1 L958.0,870.1 L959.5,870.1 L961.0,870.1 L962.5,870.1 L964.0,870.1 L965.5,870.1 L967.0,870.1 L968.5,870.1 L970.0,870.1 L971.5,870.1 L973.0,870.1 L974.5,870.1 L976.0,870.1 L977.5,870.1 L979.0,870.1 L980.5,870.1 L982.0,870.1 L983.5,870.1 L985.0,870.1 L986.5,870.1 L988.0,870.1 L989.5,870.1 L991.0,870.1 L992.5,870.1 L994.0,870.1 L995.5,870.1 L997.0,870.1 L998.5,870.1 L1000.0,870.1 L1001.5,870.1 L1003.0,870.1 L1004.5,870.1 L1006.0,870.1 L1007.5,870.1 L1009.0,870.1 L1010.5,870.1 L1012.0,870.1 L1013.5,870.1 L1015.0,870.1 L1016.5,870.1 L1018.0,870.1 L1019.5,870.1 L1021.0,870.1 L1022.5,870.1 L1024.0,870.1 L1025.5,870.1 L1027.0,870.1 L1028.5,870.1 L1030.0,870.1 L1031.5,870.1 L1033.0,870.1 L1034.5,870.1 L1036.0,870.1 L1037.5,870.1 L1039.0,870.1 L1040.5,870.1 L1042.0,870.1 L1043.5,870.1 L1045.0,870.1 L1046.5,870.1 L1048.0,870.1 L1049.5,870.1 L1051.0,870.1 L1052.5,870.1 L1054.0,870.1 L1055.5,870.1 L1057.0,870.1 L1058.5,870.1 L1060.0,870.1 L1061.5,870.1 L1063.0,870.1 L1064.5,870.1 L1066.0,870.1 L1067.5,870.1 L1069.0,870.1 L1070.5,870.1 L1072.0,870.1 L1073.5,870.1 L1075.0,870.1 L1076.5,870.1 L1078.0,870.1 L1079.5,870.1 L1081.0,870.1 L1082.5,870.1 L1084.0,870.1 L1085.5,870.1 L1087.0,870.1 L1088.5,870.1 L1090.0,870.1 L1091.5,870.1 L1093.0,870.1 L1094.5,870.1 L1096.0,870.1 L1097.5,870.1 L1099.0,870.1 L1100.5,870.1 L1102.0,870.1 L1103.5,870.1 L1105.0,870.1 L1106.5,870.1 L1108.0,870.1 L1109.5,870.1 L1111.0,870.1 L1112.5,870.1 L1114.0,870.1 L1115.5,870.1 L1117.0,870.1 L1118.5,870.1 L1120.0,870.1 L1121.5,870.1 L1123.0,870.1 L1124.5,870.1 L1126.0,870.1 L1127.5,870.1 L1129.0,870.1 L1130.5,870.1 L1132.0,870.1 L1133.5,870.1 L1135.0,870.1 L1136.5,870.1 L1138.0,870.1 L1139.5,870.1 L1141.0,870.1 L1142.5,870.1 L1144.0,870.1 L1145.5,870.1 L1147.0,870.1 L1148.5,870.1 L1150.0,870.1 L1151.5,870.1 L1153.0,870.1 L1154.5,870.1 L1156.0,870.1 L1157.5,870.1 L1159.0,870.1 L1160.5,870.1 L1162.0,870.1 L1163.5,870.1 L1165.0,870.1 L1166.5,870.1 L1168.0,870.1 L1169.5,870.1 L1171.0,870.1 L1172.5,870.1 L1174.0,870.1 L1175.5,870.1 L1177.0,870.1 L1178.5,870.1 L1180.0,870.1 L1181.5,870.1 L1183.0,870.1 L1184.5,870.1 L1186.0,870.1 L1187.5,870.1 L1189.0,870.1 L1190.5,870.1 L1192.0,870.1 L1193.5,870.1 L1195.0,870.1 L1196.5,870.1 L1198.0,870.1 L1199.5,870.1 L1201.0,870.1 L1202.5,870.1 L1204.0,870.1 L1205.5,870.1 L1207.0,870.1 L1208.5,870.1 L1210.0,870.1 L1211.5,870.1 L1213.0,870.1 L1214.5,870.1 L1216.0,870.1 L1217.5,870.1 L1219.0,870.1 L1220.5,870.1 L1222.0,870.1 L1223.0,870.1" fill="none" stroke="#ff00ff" stroke-width="4" stroke-linejoin="round"/>
<path d="M163.1,869.8 L164.6,869.8 L166.1,869.8 L167.6,869.7 L169.1,869.7 L170.6,869.7 L172.1,869.7 L173.6,869.7 L175.1,869.6 L176.6,869.6 L178.1,869.6 L179.6,869.6 L181.1,869.6 L182.6,869.5 L184.1,869.5 L185.6,869.5 L187.1,869.4 L188.6,869.4 L190.1,869.4 L191.6,869.3 L193.1,869.3 L194.6,869.3 L196.1,869.2 L197.6,869.2 L199.1,869.1 L200.6,869.1 L202.1,869.0 L203.6,869.0 L205.1,868.9 L206.6,868.9 L208.1,868.8 L209.6,868.8 L211.1,868.7 L212.6,868.7 L214.1,868.6 L215.6,868.5 L217.1,868.5 L218.6,868.4 L220.1,868.3 L221.6,868.2 L223.1,868.2 L224.6,868.1 L226.1,868.0 L227.6,867.9 L229.1,867.8 L230.6,867.7 L232.1,867.6 L233.6,867.5 L235.1,867.4 L236.6,867.3 L238.1,867.2 L239.6,867.1 L241.1,867.0 L242.6,866.8 L244.1,866.7 L245.6,866.6 L247.1,866.4 L248.6,866.3 L250.1,866.1 L251.6,866.0 L253.1,865.8 L254.6,865.7 L256.1,865.5 L257.6,865.3 L259.1,865.2 L260.6,865.0 L262.1,864.8 L263.6,864.6 L265.1,864.4 L266.6,864.2 L268.1,864.0 L269.6,863.8 L271.1,863.5 L272.6,863.3 L274.1,863.1 L275.6,862.8 L277.1,862.6 L278.6,862.3 L280.1,862.1 L281.6,861.8 L283.1,861.5 L284.6,861.2 L286.1,860.9 L287.6,860.6 L289.1,860.3 L290.6,860.0 L292.1,859.7 L293.6,859.4 L295.1,859.0 L296.6,858.7 L298.1,858.3 L299.6,858.0 L301.1,857.6 L302.6,857.2 L304.1,856.9 L305.6,856.5 L307.1,856.1 L308.6,855.7 L310.1,855.2 L311.6,854.8 L313.1,854.4 L314.6,853.9 L316.1,853.5 L317.6,853.0 L319.1,852.5 L320.6,852.1 L322.1,851.6 L323.6,851.1 L325.1,850.6 L326.6,850.0 L328.1,849.5 L329.6,849.0 L331.1,848.4 L332.6,847.9 L334.1,847.3 L335.6,846.8 L337.1,846.2 L338.6,845.6 L340.1,845.0 L341.6,844.4 L343.1,843.8 L344.6,843.2 L346.1,842.5 L347.6,841.9 L349.1,841.3 L350.6,840.6 L352.1,840.0 L353.6,839.3 L355.1,838.6 L356.6,837.9 L358.1,837.2 L359.6,836.5 L361.1,835.8 L362.6,835.1 L364.1,834.4 L365.6,833.7 L367.1,833.0 L368.6,832.2 L370.1,831.5 L371.6,830.7 L373.1,830.0 L374.6,829.2 L376.1,828.5 L377.6,827.7 L379.1,826.9 L380.6,826.2 L382.1,825.4 L383.6,824.6 L385.1,823.8 L386.6,823.0 L388.1,822.2 L389.6,821.4 L391.1,820.7 L392.6,819.9 L394.1,819.1 L395.6,818.3 L397.1,817.5 L398.6,816.7 L400.1,815.9 L401.6,815.1 L403.1,814.3 L404.6,813.5 L406.1,812.7 L407.6,811.9 L409.1,811.1 L410.6,810.4 L412.1,809.6 L413.6,808.8 L415.1,808.0 L416.6,807.3 L418.1,806.5 L419.6,805.7 L421.1,805.0 L422.6,804.3 L424.1,803.5 L425.6,802.8 L427.1,802.1 L428.6,801.4 L430.1,800.7 L431.6,800.0 L433.1,799.3 L434.6,798.6 L436.1,797.9 L437.6,797.3 L439.1,796.6 L440.6,796.0 L442.1,795.4 L443.6,794.8 L445.1,794.2 L446.6,793.6 L448.1,793.0 L449.6,792.5 L451.1,791.9 L452.6,791.4 L454.1,790.9 L455.6,790.4 L457.1,789.9 L458.6,789.4 L460.1,789.0 L461.6,788.5 L463.1,788.1 L464.6,787.7 L466.1,787.3 L467.6,787.0 L469.1,786.6 L470.6,786.3 L472.1,786.0 L473.6,785.7 L475.1,785.4 L476.6,785.1 L478.1,784.9 L479.6,784.7 L481.1,784.5 L482.6,784.3 L484.1,784.1 L485.6,784.0 L487.1,783.8 L488.6,783.7 L490.1,783.6 L491.6,783.6 L493.1,783.5 L494.6,783.5 L496.1,783.5 L497.6,783.5 L499.1,783.5 L500.6,783.6 L502.1,783.7 L503.6,783.8 L505.1,783.9 L506.6,784.0 L508.1,784.2 L509.6,784.3 L511.1,784.5 L512.5,784.7 L514.0,785.0 L515.5,785.2 L517.0,785.5 L518.5,785.8 L520.0,786.1 L521.5,786.4 L523.0,786.7 L524.5,787.1 L526.0,787.5 L527.5,787.8 L529.0,788.3 L530.5,788.7 L532.0,789.1 L533.5,789.6 L535.0,790.1 L536.5,790.5 L538.0,791.0 L539.5,791.6 L541.0,792.1 L542.5,792.6 L544.0,793.2 L545.5,793.8 L547.0,794.4 L548.5,795.0 L550.0,795.6 L551.5,796.2 L553.0,796.8 L554.5,797.5 L556.0,798.2 L557.5,798.8 L559.0,799.5 L560.5,800.2 L562.0,800.9 L563.5,801.6 L565.0,802.3 L566.5,803.0 L568.0,803.8 L569.5,804.5 L571.0,805.2 L572.5,806.0 L574.0,806.8 L575.5,807.5 L577.0,808.3 L578.5,809.1 L580.0,809.8 L581.5,810.6 L583.0,811.4 L584.5,812.2 L586.0,813.0 L587.5,813.8 L589.0,814.6 L590.5,815.3 L592.0,816.1 L593.5,816.9 L595.0,817.7 L596.5,818.5 L598.0,819.3 L599.5,820.1 L601.0,820.9 L602.5,821.7 L604.0,822.5 L605.5,823.3 L607.0,824.1 L608.5,824.9 L610.0,825.6 L611.5,826.4 L613.0,827.2 L614.5,828.0 L616.0,828.7 L617.5,829.5 L619.0,830.2 L620.5,831.0 L622.0,831.7 L623.5,832.5 L625.0,833.2 L626.5,833.9 L628.0,834.7 L629.5,835.4 L631.0,836.1 L632.5,836.8 L634.0,837.5 L635.5,838.2 L637.0,838.8 L638.5,839.5 L640.0,840.2 L641.5,840.8 L643.0,841.5 L644.5,842.1 L646.0,842.8 L647.5,843.4 L649.0,844.0 L650.5,844.6 L652.0,845.2 L653.5,845.8 L655.0,846.4 L656.5,847.0 L658.0,847.5 L659.5,848.1 L661.0,848.6 L662.5,849.2 L664.0,849.7 L665.5,850.2 L667.0,850.7 L668.5,851.2 L670.0,851.7 L671.5,852.2 L673.0,852.7 L674.5,853.2 L676.0,853.6 L677.5,854.1 L679.0,854.5 L680.5,854.9 L682.0,855.4 L683.5,855.8 L685.0,856.2 L686.5,856.6 L688.0,857.0 L689.5,857.4 L691.0,857.7 L692.5,858.1 L694.0,858.5 L695.5,858.8 L697.0,859.2 L698.5,859.5 L700.0,859.8 L701.5,860.1 L703.0,860.4 L704.5,860.7 L706.0,861.0 L707.5,861.3 L709.0,861.6 L710.5,861.9 L712.0,862.2 L713.5,862.4 L715.0,862.7 L716.5,862.9 L718.0,863.2 L719.5,863.4 L721.0,863.6 L722.5,863.8 L724.0,864.0 L725.5,864.3 L727.0,864.5 L728.5,864.7 L730.0,864.8 L731.5,865.0 L733.0,865.2 L734.5,865.4 L736.0,865.6 L737.5,865.7 L739.0,865.9 L740.5,866.0 L742.0,866.2 L743.5,866.3 L745.0,866.5 L746.5,866.6 L748.0,866.7 L749.5,866.9 L751.0,867.0 L752.5,867.1 L754.0,867.2 L755.5,867.3 L757.0,867.4 L758.5,867.6 L760.0,867.7 L761.5,867.7 L763.0,867.8 L764.5,867.9 L766.0,868.0 L767.5,868.1 L769.0,868.2 L770.5,868.3 L772.0,868.3 L773.5,868.4 L775.0,868.5 L776.5,868.6 L778.0,868.6 L779.5,868.7 L781.0,868.7 L782.5,868.8 L784.0,868.9 L785.5,868.9 L787.0,869.0 L788.5,869.0 L790.0,869.1 L791.5,869.1 L793.0,869.1 L794.5,869.2 L796.0,869.2 L797.5,869.3 L799.0,869.3 L800.5,869.3 L802.0,869.4 L803.5,869.4 L805.0,869.4 L806.5,869.5 L808.0,869.5 L809.5,869.5 L811.0,869.6 L812.5,869.6 L814.0,869.6 L815.5,869.6 L817.0,869.7 L818.5,869.7 L820.0,869.7 L821.5,869.7 L823.0,869.7 L824.5,869.8 L826.0,869.8 L827.5,869.8 L829.0,869.8 L830.5,869.8 L832.0,869.8 L833.5,869.8 L835.0,869.9 L836.5,869.9 L838.0,869.9 L839.5,869.9 L841.0,869.9 L842.5,869.9 L844.0,869.9 L845.5,869.9 L847.0,869.9 L848.5,869.9 L850.0,870.0 L851.5,870.0 L853.0,870.0 L854.5,870.0 L856.0,870.0 L857.5,870.0 L859.0,870.0 L860.5,870.0 L862.0,870.0 L863.5,870.0 L865.0,870.0 L866.5,870.0 L868.0,870.0 L869.5,870.0 L871.0,870.0 L872.5,870.0 L874.0,870.0 L875.5,870.0 L877.0,870.0 L878.5,870.1 L880.0,870.1 L881.5,870.1 L883.0,870.1 L884.5,870.1 L886.0,870.1 L887.5,870.1 L889.0,870.1 L890.5,870.1 L892.0,870.1 L893.5,870.1 L895.0,870.1 L896.5,870.1 L898.0,870.1 L899.5,870.1 L901.0,870.1 L902.5,870.1 L904.0,870.1 L905.5,870.1 L907.0,870.1 L908.5,870.1 L910.0,870.1 L911.5,870.1 L913.0,870.1 L914.5,870.1 L916.0,870.1 L917.5,870.1 L919.0,870.1 L920.5,870.1 L922.0,870.1 L923.5,870.1 L925.0,870.1 L926.5,870.1 L928.0,870.1 L929.5,870.1 L931.0,870.1 L932.5,870.1 L934.0,870.1 L935.5,870.1 L937.0,870.1 L938.5,870.1 L940.0,870.1 L941.5,870.1 L943.0,870.1 L944.5,870.1 L946.0,870.1 L947.5,870.1 L949.0,870.1 L950.5,870.1 L952.0,870.1 L953.5,870.1 L955.0,870.1 L956.5,870.1 L958.0,870.1 L959.5,870.1 L961.0,870.1 L962.5,870.1 L964.0,870.1 L965.5,870.1 L967.0,870.1 L968.5,870.1 L970.0,870.1 L971.5,870.1 L973.0,870.1 L974.5,870.1 L976.0,870.1 L977.5,870.1 L979.0,870.1 L980.5,870.1 L982.0,870.1 L983.5,870.1 L985.0,870.1 L986.5,870.1 L988.0,870.1 L989.5,870.1 L991.0,870.1 L992.5,870.1 L994.0,870.1 L995.5,870.1 L997.0,870.1 L998.5,870.1 L1000.0,870.1 L1001.5,870.1 L1003.0,870.1 L1004.5,870.1 L1006.0,870.1 L1007.5,870.1 L1009.0,870.1 L1010.5,870.1 L1012.0,870.1 L1013.5,870.1 L1015.0,870.1 L1016.5,870.1 L1018.0,870.1 L1019.5,870.1 L1021.0,870.1 L1022.5,870.1 L1024.0,870.1 L1025.5,870.1 L1027.0,870.1 L1028.5,870.1 L1030.0,870.1 L1031.5,870.1 L1033.0,870.1 L1034.5,870.1 L1036.0,870.1 L1037.5,870.1 L1039.0,870.1 L1040.5,870.1 L1042.0,870.1 L1043.5,870.1 L1045.0,870.1 L1046.5,870.1 L1048.0,870.1 L1049.5,870.1 L1051.0,870.1 L1052.5,870.1 L1054.0,870.1 L1055.5,870.1 L1057.0,870.1 L1058.5,870.1 L1060.0,870.1 L1061.5,870.1 L1063.0,870.1 L1064.5,870.1 L1066.0,870.1 L1067.5,870.1 L1069.0,870.1 L1070.5,870.1 L1072.0,870.1 L1073.5,870.1 L1075.0,870.1 L1076.5,870.1 L1078.0,870.1 L1079.5,870.1 L1081.0,870.1 L1082.5,870.1 L1084.0,870.1 L1085.5,870.1 L1087.0,870.1 L1088.5,870.1 L1090.0,870.1 L1091.5,870.1 L1093.0,870.1 L1094.5,870.1 L1096.0,870.1 L1097.5,870.1 L1099.0,870.1 L1100.5,870.1 L1102.0,870.1 L1103.5,870.1 L1105.0,870.1 L1106.5,870.1 L1108.0,870.1 L1109.5,870.1 L1111.0,870.1 L1112.5,870.1 L1114.0,870.1 L1115.5,870.1 L1117.0,870.1 L1118.5,870.1 L1120.0,870.1 L1121.5,870.1 L1123.0,870.1 L1124.5,870.1 L1126.0,870.1 L1127.5,870.1 L1129.0,870.1 L1130.5,870.1 L1132.0,870.1 L1133.5,870.1 L1135.0,870.1 L1136.5,870.1 L1138.0,870.1 L1139.5,870.1 L1141.0,870.1 L1142.5,870.1 L1144.0,870.1 L1145.5,870.1 L1147.0,870.1 L1148.5,870.1 L1150.0,870.1 L1151.5,870.1 L1153.0,870.1 L1154.5,870.1 L1156.0,870.1 L1157.5,870.1 L1159.0,870.1 L1160.5,870.1 L1162.0,870.1 L1163.5,870.1 L1165.0,870.1 L1166.5,870.1 L1168.0,870.1 L1169.5,870.1 L1171.0,870.1 L1172.5,870.1 L1174.0,870.1 L1175.5,870.1 L1177.0,870.1 L1178.5,870.1 L1180.0,870.1 L1181.5,870.1 L1183.0,870.1 L1184.5,870.1 L1186.0,870.1 L1187.5,870.1 L1189.0,870.1 L1190.5,870.1 L1192.0,870.1 L1193.5,870.1 L1195.0,870.1 L1196.5,870.1 L1198.0,870.1 L1199.5,870.1 L1201.0,870.1 L1202.5,870.1 L1204.0,870.1 L1205.5,870.1 L1207.0,870.1 L1208.5,870.1 L1210.0,870.1 L1211.5,870.1 L1213.0,870.1 L1214.5,870.1 L1216.0,870.1 L1217.5,870.1 L1219.0,870.1 L1220.5,870.1 L1222.0,870.1 L1223.0,870.1" fill="none" stroke="#00ffff" stroke-width="4" stroke-linejoin="round"/>
<path d="M163.1,870.1 L164.6,870.1 L166.1,870.1 L167.6,870.1 L169.1,870.1 L170.6,870.1 L172.1,870.1 L173.6,870.1 L175.1,870.1 L176.6,870.1 L178.1,870.1 L179.6,870.1 L181.1,870.1 L182.6,870.1 L184.1,870.1 L185.6,870.1 L187.1,870.1 L188.6,870.1 L190.1,870.1 L191.6,870.1 L193.1,870.1 L194.6,870.1 L196.1,870.1 L197.6,870.1 L199.1,870.1 L200.6,870.1 L202.1,870.1 L203.6,870.1 L205.1,870.1 L206.6,870.1 L208.1,870.1 L209.6,870.1 L211.1,870.1 L212.6,870.1 L214.1,870.1 L215.6,870.1 L217.1,870.1 L218.6,870.1 L220.1,870.1 L221.6,870.1 L223.1,870.1 L224.6,870.1 L226.1,870.1 L227.6,870.1 L229.1,870.1 L230.6,870.1 L232.1,870.1 L233.6,870.1 L235.1,870.1 L236.6,870.1 L238.1,870.1 L239.6,870.1 L241.1,870.1 L242.6,870.1 L244.1,870.1 L245.6,870.1 L247.1,870.1 L248.6,870.1 L250.1,870.1 L251.6,870.1 L253.1,870.1 L254.6,870.1 L256.1,870.1 L257.6,870.1 L259.1,870.1 L260.6,870.1 L262.1,870.1 L263.6,870.1 L265.1,870.1 L266.6,870.1 L268.1,870.1 L269.6,870.1 L271.1,870.1 L272.6,870.1 L274.1,870.1 L275.6,870.1 L277.1,870.1 L278.6,870.1 L280.1,870.1 L281.6,870.1 L283.1,870.1 L284.6,870.1 L286.1,870.1 L287.6,870.1 L289.1,870.1 L290.6,870.1 L292.1,870.1 L293.6,870.1 L295.1,870.1 L296.6,870.1 L298.1,870.1 L299.6,870.1 L301.1,870.1 L302.6,870.1 L304.1,870.1 L305.6,870.1 L307.1,870.1 L308.6,870.1 L310.1,870.1 L311.6,870.1 L313.1,870.1 L314.6,870.1 L316.1,870.1 L317.6,870.1 L319.1,870.1 L320.6,870.1 L322.1,870.1 L323.6,870.1 L325.1,870.1 L326.6,870.1 L328.1,870.1 L329.6,870.1 L331.1,870.1 L332.6,870.1 L334.1,870.1 L335.6,870.1 L337.1,870.1 L338.6,870.1 L340.1,870.1 L341.6,870.1 L343.1,870.1 L344.6,870.1 L346.1,870.1 L347.6,870.1 L349.1,870.1 L350.6,870.1 L352.1,870.1 L353.6,870.1 L355.1,870.1 L356.6,870.1 L358.1,870.1 L359.6,870.1 L361.1,870.1 L362.6,870.1 L364.1,870.1 L365.6,870.1 L367.1,870.1 L368.6,870.1 L370.1,870.1 L371.6,870.1 L373.1,870.1 L374.6,870.1 L376.1,870.1 L377.6,870.1 L379.1,870.1 L380.6,870.1 L382.1,870.1 L383.6,870.1 L385.1,870.1 L386.6,870.1 L388.1,870.1 L389.6,870.1 L391.1,870.1 L392.6,870.1 L394.1,870.1 L395.6,870.1 L397.1,870.1 L398.6,870.1 L400.1,870.1 L401.6,870.1 L403.1,870.1 L404.6,870.1 L406.1,870.1 L407.6,870.1 L409.1,870.1 L410.6,870.1 L412.1,870.1 L413.6,870.1 L415.1,870.1 L416.6,870.1 L418.1,870.1 L419.6,870.1 L421.1,870.1 L422.6,870.1 L424.1,870.1 L425.6,870.1 L427.1,870.1 L428.6,870.1 L430.1,870.1 L431.6,870.1 L433.1,870.1 L434.6,870.1 L436.1,870.1 L437.6,870.1 L439.1,870.1 L440.6,870.1 L442.1,870.1 L443.6,870.1 L445.1,870.1 L446.6,870.1 L448.1,870.1 L449.6,870.1 L451.1,870.1 L452.6,870.1 L454.1,870.1 L455.6,870.1 L457.1,870.1 L458.6,870.1 L460.1,870.1 L461.6,870.1 L463.1,870.1 L464.6,870.1 L466.1,870.1 L467.6,870.1 L469.1,870.1 L470.6,870.1 L472.1,870.1 L473.6,870.1 L475.1,870.1 L476.6,870.1 L478.1,870.1 L479.6,870.1 L481.1,870.1 L482.6,870.1 L484.1,870.1 L485.6,870.1 L487.1,870.1 L488.6,870.1 L490.1,870.1 L491.6,870.1 L493.1,870.1 L494.6,870.1 L496.1,870.1 L497.6,870.1 L499.1,870.1 L500.6,870.1 L502.1,870.1 L503.6,870.1 L505.1,870.1 L506.6,870.1 L508.1,870.1 L509.6,870.1 L511.1,870.1 L512.5,870.1 L514.0,870.1 L515.5,870.1 L517.0,870.1 L518.5,870.1 L520.0,870.1 L521.5,870.1 L523.0,870.1 L524.5,870.1 L526.0,870.1 L527.5,870.1 L529.0,870.1 L530.5,870.1 L532.0,870.1 L533.5,870.1 L535.0,870.1 L536.5,870.1 L538.0,870.1 L539.5,870.1 L541.0,870.1 L542.5,870.1 L544.0,870.1 L545.5,870.1 L547.0,870.1 L548.5,870.1 L550.0,870.1 L551.5,870.1 L553.0,870.1 L554.5,870.1 L556.0,870.1 L557.5,870.1 L559.0,870.1 L560.5,870.1 L562.0,870.1 L563.5,870.1 L565.0,870.1 L566.5,870.1 L568.0,870.1 L569.5,870.1 L571.0,870.1 L572.5,870.1 L574.0,870.1 L575.5,870.1 L577.0,870.1 L578.5,870.1 L580.0,870.1 L581.5,870.1 L583.0,870.1 L584.5,870.1 L586.0,870.1 L587.5,870.1 L589.0,870.1 L590.5,870.1 L592.0,870.1 L593.5,870.1 L595.0,870.1 L596.5,870.1 L598.0,870.1 L599.5,870.1 L601.0,870.1 L602.5,870.1 L604.0,870.1 L605.5,870.1 L607.0,870.1 L608.5,870.1 L610.0,870.1 L611.5,870.1 L613.0,870.1 L614.5,870.1 L616.0,870.1 L617.5,870.1 L619.0,870.1 L620.5,870.1 L622.0,870.1 L623.5,870.1 L625.0,870.1 L626.5,870.1 L628.0,870.1 L629.5,870.1 L631.0,870.1 L632.5,870.1 L634.0,870.1 L635.5,870.1 L637.0,870.1 L638.5,870.1 L640.0,870.1 L641.5,870.1 L643.0,870.1 L644.5,870.1 L646.0,870.1 L647.5,870.1 L649.0,870.1 L650.5,870.1 L652.0,870.1 L653.5,870.1 L655.0,870.1 L656.5,870.1 L658.0,870.1 L659.5,870.1 L661.0,870.1 L662.5,870.1 L664.0,870.1 L665.5,870.1 L667.0,870.1 L668.5,870.1 L670.0,870.1 L671.5,870.1 L673.0,870.1 L674.5,870.1 L676.0,870.1 L677.5,870.1 L679.0,870.1 L680.5,870.1 L682.0,870.0 L683.5,870.0 L685.0,870.0 L686.5,870.0 L688.0,869.9 L689.5,869.9 L691.0,869.8 L692.5,869.7 L694.0,869.5 L695.5,869.3 L697.0,869.1 L698.5,868.8 L700.0,868.5 L701.5,868.0 L703.0,867.5 L704.5,866.8 L706.0,866.0 L707.5,865.0 L709.0,863.8 L710.5,862.4 L712.0,860.7 L713.5,858.7 L715.0,856.5 L716.5,853.9 L718.0,850.9 L719.5,847.5 L721.0,843.7 L722.5,839.5 L724.0,834.8 L725.5,829.7 L727.0,824.2 L728.5,818.3 L730.0,812.0 L731.5,805.4 L733.0,798.5 L734.5,791.4 L736.0,784.2 L737.5,776.9 L739.0,769.7 L740.5,762.7 L742.0,756.0 L743.5,749.7 L745.0,743.8 L746.5,738.6 L748.0,734.1 L749.5,730.4 L751.0,727.5 L752.5,725.6 L754.0,724.6 L755.5,724.6 L757.0,725.6 L758.5,727.5 L760.0,730.4 L761.5,734.1 L763.0,738.6 L764.5,743.8 L766.0,749.7 L767.5,756.0 L769.0,762.7 L770.5,769.7 L772.0,776.9 L773.5,784.2 L775.0,791.4 L776.5,798.5 L778.0,805.4 L779.5,812.0 L781.0,818.3 L782.5,824.2 L784.0,829.7 L785.5,834.8 L787.0,839.5 L788.5,843.7 L790.0,847.5 L791.5,850.9 L793.0,853.9 L794.5,856.5 L796.0,858.7 L797.5,860.7 L799.0,862.4 L800.5,863.8 L802.0,865.0 L803.5,866.0 L805.0,866.8 L806.5,867.5 L808.0,868.0 L809.5,868.5 L811.0,868.8 L812.5,869.1 L814.0,869.3 L815.5,869.5 L817.0,869.7 L818.5,869.8 L820.0,869.9 L821.5,869.9 L823.0,870.0 L824.5,870.0 L826.0,870.0 L827.5,870.0 L829.0,870.1 L830.5,870.1 L832.0,870.1 L833.5,870.1 L835.0,870.1 L836.5,870.1 L838.0,870.1 L839.5,870.1 L841.0,870.1 L842.5,870.1 L844.0,870.1 L845.5,870.1 L847.0,870.1 L848.5,870.1 L850.0,870.1 L851.5,870.1 L853.0,870.1 L854.5,870.1 L856.0,870.1 L857.5,870.1 L859.0,870.1 L860.5,870.1 L862.0,870.1 L863.5,870.1 L865.0,870.1 L866.5,870.1 L868.0,870.1 L869.5,870.1 L871.0,870.1 L872.5,870.1 L874.0,870.1 L875.5,870.1 L877.0,870.1 L878.5,870.1 L880.0,870.1 L881.5,870.1 L883.0,870.1 L884.5,870.1 L886.0,870.1 L887.5,870.1 L889.0,870.1 L890.5,870.1 L892.0,870.1 L893.5,870.1 L895.0,870.1 L896.5,870.1 L898.0,870.1 L899.5,870.1 L901.0,870.1 L902.5,870.1 L904.0,870.1 L905.5,870.1 L907.0,870.1 L908.5,870.1 L910.0,870.1 L911.5,870.1 L913.0,870.1 L914.5,870.1 L916.0,870.1 L917.5,870.1 L919.0,870.1 L920.5,870.1 L922.0,870.1 L923.5,870.1 L925.0,870.1 L926.5,870.1 L928.0,870.1 L929.5,870.1 L931.0,870.1 L932.5,870.1 L934.0,870.1 L935.5,870.1 L937.0,870.1 L938.5,870.1 L940.0,870.1 L941.5,870.1 L943.0,870.1 L944.5,870.1 L946.0,870.1 L947.5,870.1 L949.0,870.1 L950.5,870.1 L952.0,870.1 L953.5,870.1 L955.0,870.1 L956.5,870.1 L958.0,870.1 L959.5,870.1 L961.0,870.1 L962.5,870.1 L964.0,870.1 L965.5,870.1 L967.0,870.1 L968.5,870.1 L970.0,870.1 L971.5,870.1 L973.0,870.1 L974.5,870.1 L976.0,870.1 L977.5,870.1 L979.0,870.1 L980.5,870.1 L982.0,870.1 L983.5,870.1 L985.0,870.1 L986.5,870.1 L988.0,870.1 L989.5,870.1 L991.0,870.1 L992.5,870.1 L994.0,870.1 L995.5,870.1 L997.0,870.1 L998.5,870.1 L1000.0,870.1 L1001.5,870.1 L1003.0,870.1 L1004.5,870.1 L1006.0,870.1 L1007.5,870.1 L1009.0,870.1 L1010.5,870.1 L1012.0,870.1 L1013.5,870.1 L1015.0,870.1 L1016.5,870.1 L1018.0,870.1 L1019.5,870.1 L1021.0,870.1 L1022.5,870.1 L1024.0,870.1 L1025.5,870.1 L1027.0,870.1 L1028.5,870.1 L1030.0,870.1 L1031.5,870.1 L1033.0,870.1 L1034.5,870.1 L1036.0,870.1 L1037.5,870.1 L1039.0,870.1 L1040.5,870.1 L1042.0,870.1 L1043.5,870.1 L1045.0,870.1 L1046.5,870.1 L1048.0,870.1 L1049.5,870.1 L1051.0,870.1 L1052.5,870.1 L1054.0,870.1 L1055.5,870.1 L1057.0,870.1 L1058.5,870.1 L1060.0,870.1 L1061.5,870.1 L1063.0,870.1 L1064.5,870.1 L1066.0,870.1 L1067.5,870.1 L1069.0,870.1 L1070.5,870.1 L1072.0,870.1 L1073.5,870.1 L1075.0,870.1 L1076.5,870.1 L1078.0,870.1 L1079.5,870.1 L1081.0,870.1 L1082.5,870.1 L1084.0,870.1 L1085.5,870.1 L1087.0,870.1 L1088.5,870.1 L1090.0,870.1 L1091.5,870.1 L1093.0,870.1 L1094.5,870.1 L1096.0,870.1 L1097.5,870.1 L1099.0,870.1 L1100.5,870.1 L1102.0,870.1 L1103.5,870.1 L1105.0,870.1 L1106.5,870.1 L1108.0,870.1 L1109.5,870.1 L1111.0,870.1 L1112.5,870.1 L1114.0,870.1 L1115.5,870.1 L1117.0,870.1 L1118.5,870.1 L1120.0,870.1 L1121.5,870.1 L1123.0,870.1 L1124.5,870.1 L1126.0,870.1 L1127.5,870.1 L1129.0,870.1 L1130.5,870.1 L1132.0,870.1 L1133.5,870.1 L1135.0,870.1 L1136.5,870.1 L1138.0,870.1 L1139.5,870.1 L1141.0,870.1 L1142.5,870.1 L1144.0,870.1 L1145.5,870.1 L1147.0,870.1 L1148.5,870.1 L1150.0,870.1 L1151.5,870.1 L1153.0,870.1 L1154.5,870.1 L1156.0,870.1 L1157.5,870.1 L1159.0,870.1 L1160.5,870.1 L1162.0,870.1 L1163.5,870.1 L1165.0,870.1 L1166.5,870.1 L1168.0,870.1 L1169.5,870.1 L1171.0,870.1 L1172.5,870.1 L1174.0,870.1 L1175.5,870.1 L1177.0,870.1 L1178.5,870.1 L1180.0,870.1 L1181.5,870.1 L1183.0,870.1 L1184.5,870.1 L1186.0,870.1 L1187.5,870.1 L1189.0,870.1 L1190.5,870.1 L1192.0,870.1 L1193.5,870.1 L1195.0,870.1 L1196.5,870.1 L1198.0,870.1 L1199.5,870.1 L1201.0,870.1 L1202.5,870.1 L1204.0,870.1 L1205.5,870.1 L1207.0,870.1 L1208.5,870.1 L1210.0,870.1 L1211.5,870.1 L1213.0,870.1 L1214.5,870.1 L1216.0,870.1 L1217.5,870.1 L1219.0,870.1 L1220.5,870.1 L1222.0,870.1 L1223.0,870.1" fill="none" stroke="#007300" stroke-width="4" stroke-linejoin="round"/>
<path d="M163.1,870.1 L164.6,870.1 L166.1,870.1 L167.6,870.1 L169.1,870.1 L170.6,870.1 L172.1,870.1 L173.6,870.1 L175.1,870.1 L176.6,870.1 L178.1,870.1 L179.6,870.1 L181.1,870.1 L182.6,870.1 L184.1,870.1 L185.6,870.1 L187.1,870.1 L188.6,870.1 L190.1,870.1 L191.6,870.1 L193.1,870.1 L194.6,870.1 L196.1,870.1 L197.6,870.1 L199.1,870.1 L200.6,870.1 L202.1,870.1 L203.6,870.1 L205.1,870.1 L206.6,870.1 L208.1,870.1 L209.6,870.1 L211.1,870.1 L212.6,870.1 L214.1,870.1 L215.6,870.1 L217.1,870.1 L218.6,870.1 L220.1,870.1 L221.6,870.1 L223.1,870.1 L224.6,870.1 L226.1,870.1 L227.6,870.1 L229.1,870.1 L230.6,870.1 L232.1,870.1 L233.6,870.1 L235.1,870.1 L236.6,870.1 L238.1,870.1 L239.6,870.1 L241.1,870.1 L242.6,870.1 L244.1,870.1 L245.6,870.1 L247.1,870.1 L248.6,870.1 L250.1,870.1 L251.6,870.1 L253.1,870.1 L254.6,870.1 L256.1,870.1 L257.6,870.1 L259.1,870.1 L260.6,870.1 L262.1,870.1 L263.6,870.1 L265.1,870.1 L266.6,870.1 L268.1,870.1 L269.6,870.1 L271.1,870.1 L272.6,870.1 L274.1,870.1 L275.6,870.1 L277.1,870.1 L278.6,870.1 L280.1,870.1 L281.6,870.1 L283.1,870.1 L284.6,870.1 L286.1,870.1 L287.6,870.1 L289.1,870.1 L290.6,870.1 L292.1,870.1 L293.6,870.1 L295.1,870.1 L296.6,870.1 L298.1,870.1 L299.6,870.1 L301.1,870.1 L302.6,870.1 L304.1,870.1 L305.6,870.1 L307.1,870.1 L308.6,870.1 L310.1,870.1 L311.6,870.1 L313.1,870.1 L314.6,870.1 L316.1,870.1 L317.6,870.1 L319.1,870.1 L320.6,870.1 L322.1,870.1 L323.6,870.1 L325.1,870.1 L326.6,870.1 L328.1,870.1 L329.6,870.1 L331.1,870.1 L332.6,870.1 L334.1,870.1 L335.6,870.1 L337.1,870.1 L338.6,870.1 L340.1,870.1 L341.6,870.1 L343.1,870.1 L344.6,870.1 L346.1,870.1 L347.6,870.1 L349.1,870.1 L350.6,870.1 L352.1,870.1 L353.6,870.1 L355.1,870.1 L356.6,870.1 L358.1,870.1 L359.6,870.1 L361.1,870.1 L362.6,870.1 L364.1,870.1 L365.6,870.1 L367.1,870.1 L368.6,870.1 L370.1,870.1 L371.6,870.1 L373.1,870.1 L374.6,870.1 L376.1,870.1 L377.6,870.1 L379.1,870.1 L380.6,870.1 L382.1,870.1 L383.6,870.1 L385.1,870.1 L386.6,870.1 L388.1,870.1 L389.6,870.1 L391.1,870.1 L392.6,870.1 L394.1,870.1 L395.6,870.1 L397.1,870.1 L398.6,870.1 L400.1,870.1 L401.6,870.1 L403.1,870.1 L404.6,870.1 L406.1,870.1 L407.6,870.1 L409.1,870.1 L410.6,870.1 L412.1,870.1 L413.6,870.1 L415.1,870.1 L416.6,870.1 L418.1,870.1 L419.6,870.1 L421.1,870.1 L422.6,870.1 L424.1,870.1 L425.6,870.1 L427.1,870.1 L428.6,870.1 L430.1,870.1 L431.6,870.1 L433.1,870.1 L434.6,870.1 L436.1,870.1 L437.6,870.1 L439.1,870.1 L440.6,870.1 L442.1,870.1 L443.6,870.1 L445.1,870.1 L446.6,870.1 L448.1,870.1 L449.6,870.1 L451.1,870.1 L452.6,870.1 L454.1,870.1 L455.6,870.1 L457.1,870.1 L458.6,870.1 L460.1,870.1 L461.6,870.1 L463.1,870.1 L464.6,870.1 L466.1,870.1 L467.6,870.1 L469.1,870.1 L470.6,870.1 L472.1,870.1 L473.6,870.1 L475.1,870.1 L476.6,870.1 L478.1,870.1 L479.6,870.1 L481.1,870.1 L482.6,870.1 L484.1,870.1 L485.6,870.1 L487.1,870.1 L488.6,870.1 L490.1,870.1 L491.6,870.1 L493.1,870.1 L494.6,870.1 L496.1,870.1 L497.6,870.1 L499.1,870.1 L500.6,870.1 L502.1,870.1 L503.6,870.1 L505.1,870.1 L506.6,870.1 L508.1,870.1 L509.6,870.1 L511.1,870.1 L512.5,870.1 L514.0,870.1 L515.5,870.1 L517.0,870.1 L518.5,870.1 L520.0,870.1 L521.5,870.1 L523.0,870.1 L524.5,870.1 L526.0,870.1 L527.5,870.1 L529.0,870.1 L530.5,870.1 L532.0,870.1 L533.5,870.1 L535.0,870.1 L536.5,870.1 L538.0,870.1 L539.5,870.1 L541.0,870.1 L542.5,870.1 L544.0,870.1 L545.5,870.1 L547.0,870.1 L548.5,870.1 L550.0,870.1 L551.5,870.1 L553.0,870.1 L554.5,870.1 L556.0,870.1 L557.5,870.1 L559.0,870.1 L560.5,870.1 L562.0,870.1 L563.5,870.1 L565.0,870.1 L566.5,870.1 L568.0,870.1 L569.5,870.1 L571.0,870.1 L572.5,870.1 L574.0,870.1 L575.5,870.1 L577.0,870.1 L578.5,870.1 L580.0,870.1 L581.5,870.1 L583.0,870.1 L584.5,870.1 L586.0,870.1 L587.5,870.1 L589.0,870.1 L590.5,870.1 L592.0,870.1 L593.5,870.1 L595.0,870.1 L596.5,870.1 L598.0,870.1 L599.5,870.1 L601.0,870.1 L602.5,870.1 L604.0,870.1 L605.5,870.1 L607.0,870.1 L608.5,870.1 L610.0,870.1 L611.5,870.1 L613.0,870.1 L614.5,870.1 L616.0,870.1 L617.5,870.1 L619.0,870.1 L620.5,870.1 L622.0,870.1 L623.5,870.1 L625.0,870.1 L626.5,870.1 L628.0,870.1 L629.5,870.1 L631.0,870.1 L632.5,870.1 L634.0,870.1 L635.5,870.1 L637.0,870.1 L638.5,870.1 L640.0,870.1 L641.5,870.1 L643.0,870.1 L644.5,870.1 L646.0,870.1 L647.5,870.1 L649.0,870.1 L650.5,870.1 L652.0,870.1 L653.5,870.1 L655.0,870.1 L656.5,870.1 L658.0,870.1 L659.5,870.1 L661.0,870.0 L662.5,870.0 L664.0,870.0 L665.5,870.0 L667.0,870.0 L668.5,870.0 L670.0,870.0 L671.5,869.9 L673.0,869.9 L674.5,869.9 L676.0,869.8 L677.5,869.8 L679.0,869.7 L680.5,869.7 L682.0,869.6 L683.5,869.5 L685.0,869.4 L686.5,869.3 L688.0,869.2 L689.5,869.1 L691.0,868.9 L692.5,868.7 L694.0,868.6 L695.5,868.3 L697.0,868.1 L698.5,867.8 L700.0,867.5 L701.5,867.2 L703.0,866.8 L704.5,866.4 L706.0,865.9 L707.5,865.4 L709.0,864.9 L710.5,864.2 L712.0,863.6 L713.5,862.8 L715.0,862.0 L716.5,861.1 L718.0,860.1 L719.5,859.1 L721.0,857.9 L722.5,856.7 L724.0,855.4 L725.5,853.9 L727.0,852.4 L728.5,850.7 L730.0,848.9 L731.5,847.0 L733.0,845.0 L734.5,842.9 L736.0,840.6 L737.5,838.2 L739.0,835.7 L740.5,833.0 L742.0,830.2 L743.5,827.2 L745.0,824.2 L746.5,821.0 L748.0,817.6 L749.5,814.2 L751.0,810.6 L752.5,806.9 L754.0,803.2 L755.5,799.3 L757.0,795.3 L758.5,791.3 L760.0,787.2 L761.5,783.0 L763.0,778.8 L764.5,774.6 L766.0,770.4 L767.5,766.2 L769.0,762.0 L770.5,757.8 L772.0,753.7 L773.5,749.7 L775.0,745.7 L776.5,741.9 L778.0,738.2 L779.5,734.6 L781.0,731.2 L782.5,728.0 L784.0,725.0 L785.5,722.1 L787.0,719.6 L788.5,717.2 L790.0,715.1 L791.5,713.2 L793.0,711.7 L794.5,710.4 L796.0,709.4 L797.5,708.6 L799.0,708.2 L800.5,708.1 L802.0,708.3 L803.5,708.8 L805.0,709.5 L806.5,710.6 L808.0,712.0 L809.5,713.6 L811.0,715.5 L812.5,717.6 L814.0,720.1 L815.5,722.7 L817.0,725.6 L818.5,728.6 L820.0,731.9 L821.5,735.3 L823.0,738.9 L824.5,742.7 L826.0,746.5 L827.5,750.5 L829.0,754.5 L830.5,758.6 L832.0,762.8 L833.5,767.0 L835.0,771.2 L836.5,775.5 L838.0,779.7 L839.5,783.9 L841.0,788.0 L842.5,792.1 L844.0,796.1 L845.5,800.1 L847.0,803.9 L848.5,807.7 L850.0,811.3 L851.5,814.9 L853.0,818.3 L854.5,821.6 L856.0,824.8 L857.5,827.8 L859.0,830.7 L860.5,833.5 L862.0,836.2 L863.5,838.7 L865.0,841.1 L866.5,843.3 L868.0,845.4 L869.5,847.4 L871.0,849.3 L872.5,851.1 L874.0,852.7 L875.5,854.2 L877.0,855.6 L878.5,857.0 L880.0,858.2 L881.5,859.3 L883.0,860.3 L884.5,861.3 L886.0,862.2 L887.5,863.0 L889.0,863.7 L890.5,864.4 L892.0,865.0 L893.5,865.5 L895.0,866.0 L896.5,866.5 L898.0,866.9 L899.5,867.3 L901.0,867.6 L902.5,867.9 L904.0,868.1 L905.5,868.4 L907.0,868.6 L908.5,868.8 L910.0,868.9 L911.5,869.1 L913.0,869.2 L914.5,869.3 L916.0,869.4 L917.5,869.5 L919.0,869.6 L920.5,869.7 L922.0,869.7 L923.5,869.8 L925.0,869.8 L926.5,869.9 L928.0,869.9 L929.5,869.9 L931.0,870.0 L932.5,870.0 L934.0,870.0 L935.5,870.0 L937.0,870.0 L938.5,870.0 L940.0,870.0 L941.5,870.1 L943.0,870.1 L944.5,870.1 L946.0,870.1 L947.5,870.1 L949.0,870.1 L950.5,870.1 L952.0,870.1 L953.5,870.1 L955.0,870.1 L956.5,870.1 L958.0,870.1 L959.5,870.1 L961.0,870.1 L962.5,870.1 L964.0,870.1 L965.5,870.1 L967.0,870.1 L968.5,870.1 L970.0,870.1 L971.5,870.1 L973.0,870.1 L974.5,870.1 L976.0,870.1 L977.5,870.1 L979.0,870.1 L980.5,870.1 L982.0,870.1 L983.5,870.1 L985.0,870.1 L986.5,870.1 L988.0,870.1 L989.5,870.1 L991.0,870.1 L992.5,870.1 L994.0,870.1 L995.5,870.1 L997.0,870.1 L998.5,870.1 L1000.0,870.1 L1001.5,870.1 L1003.0,870.1 L1004.5,870.1 L1006.0,870.1 L1007.5,870.1 L1009.0,870.1 L1010.5,870.1 L1012.0,870.1 L1013.5,870.1 L1015.0,870.1 L1016.5,870.1 L1018.0,870.1 L1019.5,870.1 L1021.0,870.1 L1022.5,870.1 L1024.0,870.1 L1025.5,870.1 L1027.0,870.1 L1028.5,870.1 L1030.0,870.1 L1031.5,870.1 L1033.0,870.1 L1034.5,870.1 L1036.0,870.1 L1037.5,870.1 L1039.0,870.1 L1040.5,870.1 L1042.0,870.1 L1043.5,870.1 L1045.0,870.1 L1046.5,870.1 L1048.0,870.1 L1049.5,870.1 L1051.0,870.1 L1052.5,870.1 L1054.0,870.1 L1055.5,870.1 L1057.0,870.1 L1058.5,870.1 L1060.0,870.1 L1061.5,870.1 L1063.0,870.1 L1064.5,870.1 L1066.0,870.1 L1067.5,870.1 L1069.0,870.1 L1070.5,870.1 L1072.0,870.1 L1073.5,870.1 L1075.0,870.1 L1076.5,870.1 L1078.0,870.1 L1079.5,870.1 L1081.0,870.1 L1082.5,870.1 L1084.0,870.1 L1085.5,870.1 L1087.0,870.1 L1088.5,870.1 L1090.0,870.1 L1091.5,870.1 L1093.0,870.1 L1094.5,870.1 L1096.0,870.1 L1097.5,870.1 L1099.0,870.1 L1100.5,870.1 L1102.0,870.1 L1103.5,870.1 L1105.0,870.1 L1106.5,870.1 L1108.0,870.1 L1109.5,870.1 L1111.0,870.1 L1112.5,870.1 L1114.0,870.1 L1115.5,870.1 L1117.0,870.1 L1118.5,870.1 L1120.0,870.1 L1121.5,870.1 L1123.0,870.1 L1124.5,870.1 L1126.0,870.1 L1127.5,870.1 L1129.0,870.1 L1130.5,870.1 L1132.0,870.1 L1133.5,870.1 L1135.0,870.1 L1136.5,870.1 L1138.0,870.1 L1139.5,870.1 L1141.0,870.1 L1142.5,870.1 L1144.0,870.1 L1145.5,870.1 L1147.0,870.1 L1148.5,870.1 L1150.0,870.1 L1151.5,870.1 L1153.0,870.1 L1154.5,870.1 L1156.0,870.1 L1157.5,870.1 L1159.0,870.1 L1160.5,870.1 L1162.0,870.1 L1163.5,870.1 L1165.0,870.1 L1166.5,870.1 L1168.0,870.1 L1169.5,870.1 L1171.0,870.1 L1172.5,870.1 L1174.0,870.1 L1175.5,870.1 L1177.0,870.1 L1178.5,870.1 L1180.0,870.1 L1181.5,870.1 L1183.0,870.1 L1184.5,870.1 L1186.0,870.1 L1187.5,870.1 L1189.0,870.1 L1190.5,870.1 L1192.0,870.1 L1193.5,870.1 L1195.0,870.1 L1196.5,870.1 L1198.0,870.1 L1199.5,870.1 L1201.0,870.1 L1202.5,870.1 L1204.0,870.1 L1205.5,870.1 L1207.0,870.1 L1208.5,870.1 L1210.0,870.1 L1211.5,870.1 L1213.0,870.1 L1214.5,870.1 L1216.0,870.1 L1217.5,870.1 L1219.0,870.1 L1220.5,870.1 L1222.0,870.1 L1223.0,870.1" fill="none" stroke="#ff8000" stroke-width="4" stroke-linejoin="round"/>
<path d="M163.1,870.1 L164.6,870.1 L166.1,870.1 L167.6,870.1 L169.1,870.1 L170.6,870.1 L172.1,870.1 L173.6,870.1 L175.1,870.1 L176.6,870.1 L178.1,870.1 L179.6,870.1 L181.1,870.1 L182.6,870.1 L184.1,870.1 L185.6,870.1 L187.1,870.1 L188.6,870.1 L190.1,870.1 L191.6,870.1 L193.1,870.1 L194.6,870.1 L196.1,870.1 L197.6,870.1 L199.1,870.1 L200.6,870.1 L202.1,870.1 L203.6,870.1 L205.1,870.1 L206.6,870.1 L208.1,870.1 L209.6,870.1 L211.1,870.1 L212.6,870.1 L214.1,870.1 L215.6,870.1 L217.1,870.1 L218.6,870.1 L220.1,870.1 L221.6,870.1 L223.1,870.1 L224.6,870.1 L226.1,870.1 L227.6,870.1 L229.1,870.1 L230.6,870.1 L232.1,870.1 L233.6,870.1 L235.1,870.1 L236.6,870.1 L238.1,870.1 L239.6,870.1 L241.1,870.1 L242.6,870.1 L244.1,870.1 L245.6,870.1 L247.1,870.1 L248.6,870.1 L250.1,870.1 L251.6,870.1 L253.1,870.1 L254.6,870.1 L256.1,870.1 L257.6,870.1 L259.1,870.1 L260.6,870.1 L262.1,870.1 L263.6,870.1 L265.1,870.1 L266.6,870.1 L268.1,870.1 L269.6,870.1 L271.1,870.1 L272.6,870.1 L274.1,870.1 L275.6,870.1 L277.1,870.1 L278.6,870.1 L280.1,870.1 L281.6,870.1 L283.1,870.1 L284.6,870.1 L286.1,870.1 L287.6,870.1 L289.1,870.1 L290.6,870.1 L292.1,870.1 L293.6,870.1 L295.1,870.1 L296.6,870.1 L298.1,870.1 L299.6,870.1 L301.1,870.1 L302.6,870.1 L304.1,870.1 L305.6,870.1 L307.1,870.1 L308.6,870.1 L310.1,870.1 L311.6,870.1 L313.1,870.1 L314.6,870.1 L316.1,870.1 L317.6,870.1 L319.1,870.1 L320.6,870.1 L322.1,870.1 L323.6,870.1 L325.1,870.1 L326.6,870.1 L328.1,870.1 L329.6,870.1 L331.1,870.1 L332.6,870.1 L334.1,870.1 L335.6,870.1 L337.1,870.1 L338.6,870.1 L340.1,870.1 L341.6,870.1 L343.1,870.1 L344.6,870.1 L346.1,870.1 L347.6,870.1 L349.1,870.1 L350.6,870.1 L352.1,870.1 L353.6,870.1 L355.1,870.1 L356.6,870.1 L358.1,870.1 L359.6,870.1 L361.1,870.1 L362.6,870.1 L364.1,870.1 L365.6,870.1 L367.1,870.1 L368.6,870.1 L370.1,870.1 L371.6,870.1 L373.1,870.1 L374.6,870.1 L376.1,870.1 L377.6,870.1 L379.1,870.1 L380.6,870.1 L382.1,870.1 L383.6,870.1 L385.1,870.1 L386.6,870.1 L388.1,870.1 L389.6,870.1 L391.1,870.1 L392.6,870.1 L394.1,870.1 L395.6,870.1 L397.1,870.1 L398.6,870.1 L400.1,870.1 L401.6,870.1 L403.1,870.1 L404.6,870.1 L406.1,870.1 L407.6,870.1 L409.1,870.1 L410.6,870.1 L412.1,870.1 L413.6,870.1 L415.1,870.1 L416.6,870.1 L418.1,870.1 L419.6,870.1 L421.1,870.1 L422.6,870.1 L424.1,870.1 L425.6,870.1 L427.1,870.1 L428.6,870.1 L430.1,870.1 L431.6,870.1 L433.1,870.1 L434.6,870.1 L436.1,870.1 L437.6,870.1 L439.1,870.1 L440.6,870.1 L442.1,870.1 L443.6,870.1 L445.1,870.1 L446.6,870.1 L448.1,870.1 L449.6,870.1 L451.1,870.1 L452.6,870.1 L454.1,870.1 L455.6,870.1 L457.1,870.1 L458.6,870.1 L460.1,870.1 L461.6,870.1 L463.1,870.1 L464.6,870.1 L466.1,870.1 L467.6,870.1 L469.1,870.1 L470.6,870.1 L472.1,870.1 L473.6,870.1 L475.1,870.1 L476.6,870.1 L478.1,870.1 L479.6,870.1 L481.1,870.1 L482.6,870.1 L484.1,870.1 L485.6,870.1 L487.1,870.1 L488.6,870.1 L490.1,870.1 L491.6,870.1 L493.1,870.1 L494.6,870.1 L496.1,870.1 L497.6,870.1 L499.1,870.1 L500.6,870.1 L502.1,870.1 L503.6,870.1 L505.1,870.1 L506.6,870.1 L508.1,870.1 L509.6,870.1 L511.1,870.1 L512.5,870.1 L514.0,870.1 L515.5,870.1 L517.0,870.1 L518.5,870.1 L520.0,870.1 L521.5,870.1 L523.0,870.1 L524.5,870.1 L526.0,870.1 L527.5,870.1 L529.0,870.1 L530.5,870.1 L532.0,870.1 L533.5,870.1 L535.0,870.1 L536.5,870.1 L538.0,870.1 L539.5,870.1 L541.0,870.1 L542.5,870.1 L544.0,870.1 L545.5,870.1 L547.0,870.1 L548.5,870.1 L550.0,870.1 L551.5,870.1 L553.0,870.1 L554.5,870.1 L556.0,870.1 L557.5,870.1 L559.0,870.1 L560.5,870.1 L562.0,870.1 L563.5,870.1 L565.0,870.1 L566.5,870.1 L568.0,870.1 L569.5,870.1 L571.0,870.1 L572.5,870.1 L574.0,870.1 L575.5,870.1 L577.0,870.1 L578.5,870.1 L580.0,870.1 L581.5,870.1 L583.0,870.1 L584.5,870.1 L586.0,870.1 L587.5,870.1 L589.0,870.1 L590.5,870.1 L592.0,870.1 L593.5,870.1 L595.0,870.1 L596.5,870.1 L598.0,870.1 L599.5,870.1 L601.0,870.1 L602.5,870.1 L604.0,870.1 L605.5,870.1 L607.0,870.1 L608.5,870.1 L610.0,870.1 L611.5,870.1 L613.0,870.1 L614.5,870.1 L616.0,870.1 L617.5,870.1 L619.0,870.1 L620.5,870.1 L622.0,870.1 L623.5,870.1 L625.0,870.1 L626.5,870.1 L628.0,870.1 L629.5,870.1 L631.0,870.1 L632.5,870.1 L634.0,870.1 L635.5,870.1 L637.0,870.1 L638.5,870.1 L640.0,870.1 L641.5,870.1 L643.0,870.1 L644.5,870.1 L646.0,870.1 L647.5,870.1 L649.0,870.1 L650.5,870.1 L652.0,870.1 L653.5,870.1 L655.0,870.1 L656.5,870.1 L658.0,870.1 L659.5,870.1 L661.0,870.1 L662.5,870.1 L664.0,870.1 L665.5,870.1 L667.0,870.1 L668.5,870.1 L670.0,870.1 L671.5,870.1 L673.0,870.1 L674.5,870.1 L676.0,870.1 L677.5,870.1 L679.0,870.1 L680.5,870.1 L682.0,870.1 L683.5,870.1 L685.0,870.1 L686.5,870.1 L688.0,870.1 L689.5,870.1 L691.0,870.1 L692.5,870.1 L694.0,870.1 L695.5,870.1 L697.0,870.1 L698.5,870.1 L700.0,870.1 L701.5,870.1 L703.0,870.1 L704.5,870.1 L706.0,870.1 L707.5,870.1 L709.0,870.1 L710.5,870.1 L712.0,870.1 L713.5,870.1 L715.0,870.0 L716.5,870.0 L718.0,870.0 L719.5,870.0 L721.0,870.0 L722.5,870.0 L724.0,870.0 L725.5,870.0 L727.0,870.0 L728.5,870.0 L730.0,870.0 L731.5,870.0 L733.0,870.0 L734.5,870.0 L736.0,870.0 L737.5,869.9 L739.0,869.9 L740.5,869.9 L742.0,869.9 L743.5,869.9 L745.0,869.9 L746.5,869.9 L748.0,869.8 L749.5,869.8 L751.0,869.8 L752.5,869.8 L754.0,869.8 L755.5,869.8 L757.0,869.7 L758.5,869.7 L760.0,869.7 L761.5,869.7 L763.0,869.6 L764.5,869.6 L766.0,869.6 L767.5,869.5 L769.0,869.5 L770.5,869.5 L772.0,869.4 L773.5,869.4 L775.0,869.3 L776.5,869.3 L778.0,869.2 L779.5,869.2 L781.0,869.1 L782.5,869.1 L784.0,869.0 L785.5,868.9 L787.0,868.9 L788.5,868.8 L790.0,868.7 L791.5,868.7 L793.0,868.6 L794.5,868.5 L796.0,868.4 L797.5,868.3 L799.0,868.2 L800.5,868.1 L802.0,868.0 L803.5,867.9 L805.0,867.8 L806.5,867.7 L808.0,867.5 L809.5,867.4 L811.0,867.3 L812.5,867.1 L814.0,867.0 L815.5,866.8 L817.0,866.7 L818.5,866.5 L820.0,866.3 L821.5,866.1 L823.0,866.0 L824.5,865.8 L826.0,865.6 L827.5,865.4 L829.0,865.1 L830.5,864.9 L832.0,864.7 L833.5,864.4 L835.0,864.2 L836.5,863.9 L838.0,863.7 L839.5,863.4 L841.0,863.1 L842.5,862.8 L844.0,862.5 L845.5,862.2 L847.0,861.9 L848.5,861.6 L850.0,861.3 L851.5,860.9 L853.0,860.6 L854.5,860.2 L856.0,859.8 L857.5,859.4 L859.0,859.0 L860.5,858.6 L862.0,858.2 L863.5,857.8 L865.0,857.4 L866.5,856.9 L868.0,856.5 L869.5,856.0 L871.0,855.5 L872.5,855.1 L874.0,854.6 L875.5,854.1 L877.0,853.6 L878.5,853.0 L880.0,852.5 L881.5,852.0 L883.0,851.4 L884.5,850.9 L886.0,850.3 L887.5,849.7 L889.0,849.1 L890.5,848.6 L892.0,848.0 L893.5,847.4 L895.0,846.7 L896.5,846.1 L898.0,845.5 L899.5,844.9 L901.0,844.2 L902.5,843.6 L904.0,843.0 L905.5,842.3 L907.0,841.7 L908.5,841.0 L910.0,840.4 L911.5,839.7 L913.0,839.0 L914.5,838.4 L916.0,837.7 L917.5,837.0 L919.0,836.4 L920.5,835.7 L922.0,835.0 L923.5,834.4 L925.0,833.7 L926.5,833.1 L928.0,832.4 L929.5,831.8 L931.0,831.1 L932.5,830.5 L934.0,829.8 L935.5,829.2 L937.0,828.6 L938.5,828.0 L940.0,827.4 L941.5,826.8 L943.0,826.2 L944.5,825.6 L946.0,825.1 L947.5,824.5 L949.0,824.0 L950.5,823.4 L952.0,822.9 L953.5,822.4 L955.0,821.9 L956.5,821.5 L958.0,821.0 L959.5,820.6 L961.0,820.1 L962.5,819.7 L964.0,819.3 L965.5,819.0 L967.0,818.6 L968.5,818.3 L970.0,818.0 L971.5,817.7 L973.0,817.4 L974.5,817.1 L976.0,816.9 L977.5,816.7 L979.0,816.5 L980.5,816.3 L982.0,816.2 L983.5,816.0 L985.0,815.9 L986.5,815.8 L988.0,815.8 L989.5,815.7 L991.0,815.7 L992.5,815.7 L994.0,815.7 L995.5,815.8 L997.0,815.8 L998.5,815.9 L1000.0,816.0 L1001.5,816.2 L1003.0,816.3 L1004.5,816.5 L1006.0,816.7 L1007.5,816.9 L1009.0,817.2 L1010.5,817.4 L1012.0,817.7 L1013.5,818.0 L1015.0,818.3 L1016.5,818.7 L1018.0,819.0 L1019.5,819.4 L1021.0,819.8 L1022.5,820.2 L1024.0,820.6 L1025.5,821.1 L1027.0,821.5 L1028.5,822.0 L1030.0,822.5 L1031.5,823.0 L1033.0,823.5 L1034.5,824.0 L1036.0,824.6 L1037.5,825.1 L1039.0,825.7 L1040.5,826.3 L1042.0,826.9 L1043.5,827.5 L1045.0,828.1 L1046.5,828.7 L1048.0,829.3 L1049.5,829.9 L1051.0,830.6 L1052.5,831.2 L1054.0,831.8 L1055.5,832.5 L1057.0,833.1 L1058.5,833.8 L1060.0,834.5 L1061.5,835.1 L1063.0,835.8 L1064.5,836.5 L1066.0,837.1 L1067.5,837.8 L1069.0,838.5 L1070.5,839.1 L1072.0,839.8 L1073.5,840.4 L1075.0,841.1 L1076.5,841.8 L1078.0,842.4 L1079.5,843.1 L1081.0,843.7 L1082.5,844.3 L1084.0,845.0 L1085.5,845.6 L1087.0,846.2 L1088.5,846.8 L1090.0,847.4 L1091.5,848.0 L1093.0,848.6 L1094.5,849.2 L1096.0,849.8 L1097.5,850.4 L1099.0,850.9 L1100.5,851.5 L1102.0,852.0 L1103.5,852.6 L1105.0,853.1 L1106.5,853.6 L1108.0,854.1 L1109.5,854.6 L1111.0,855.1 L1112.5,855.6 L1114.0,856.1 L1115.5,856.5 L1117.0,857.0 L1118.5,857.4 L1120.0,857.9 L1121.5,858.3 L1123.0,858.7 L1124.5,859.1 L1126.0,859.5 L1127.5,859.9 L1129.0,860.2 L1130.5,860.6 L1132.0,861.0 L1133.5,861.3 L1135.0,861.6 L1136.5,862.0 L1138.0,862.3 L1139.5,862.6 L1141.0,862.9 L1142.5,863.2 L1144.0,863.4 L1145.5,863.7 L1147.0,864.0 L1148.5,864.2 L1150.0,864.5 L1151.5,864.7 L1153.0,864.9 L1154.5,865.2 L1156.0,865.4 L1157.5,865.6 L1159.0,865.8 L1160.5,866.0 L1162.0,866.2 L1163.5,866.3 L1165.0,866.5 L1166.5,866.7 L1168.0,866.8 L1169.5,867.0 L1171.0,867.1 L1172.5,867.3 L1174.0,867.4 L1175.5,867.5 L1177.0,867.7 L1178.5,867.8 L1180.0,867.9 L1181.5,868.0 L1183.0,868.1 L1184.5,868.2 L1186.0,868.3 L1187.5,868.4 L1189.0,868.5 L1190.5,868.6 L1192.0,868.7 L1193.5,868.7 L1195.0,868.8 L1196.5,868.9 L1198.0,868.9 L1199.5,869.0 L1201.0,869.1 L1202.5,869.1 L1204.0,869.2 L1205.5,869.2 L1207.0,869.3 L1208.5,869.3 L1210.0,869.4 L1211.5,869.4 L1213.0,869.5 L1214.5,869.5 L1216.0,869.5 L1217.5,869.6 L1219.0,869.6 L1220.5,869.6 L1222.0,869.7 L1223.0,869.7" fill="none" stroke="#00ff00" stroke-width="4" stroke-linejoin="round"/>
</g>
<rect x="163.05" y="115.10" width="1060.00" height="787.70" fill="none" stroke="#000" stroke-width="3.9"/>
<line x1="148.0" y1="871.80" x2="163.05" y2="871.80" stroke="#000" stroke-width="3.9" stroke-linecap="round"/>
<text x="137.0" y="879.8" text-anchor="end" style="font-family:'Liberation Serif',serif;font-weight:bold;font-size:28px">0</text>
<line x1="155.6" y1="808.73" x2="163.05" y2="808.73" stroke="#000" stroke-width="3.9" stroke-linecap="round"/>
<line x1="148.0" y1="745.67" x2="163.05" y2="745.67" stroke="#000" stroke-width="3.9" stroke-linecap="round"/>
<text x="137.0" y="753.7" text-anchor="end" style="font-family:'Liberation Serif',serif;font-weight:bold;font-size:28px">1000</text>
<line x1="155.6" y1="682.61" x2="163.05" y2="682.61" stroke="#000" stroke-width="3.9" stroke-linecap="round"/>
<line x1="148.0" y1="619.54" x2="163.05" y2="619.54" stroke="#000" stroke-width="3.9" stroke-linecap="round"/>
<text x="137.0" y="627.5" text-anchor="end" style="font-family:'Liberation Serif',serif;font-weight:bold;font-size:28px">2000</text>
<line x1="155.6" y1="556.47" x2="163.05" y2="556.47" stroke="#000" stroke-width="3.9" stroke-linecap="round"/>
<line x1="148.0" y1="493.41" x2="163.05" y2="493.41" stroke="#000" stroke-width="3.9" stroke-linecap="round"/>
<text x="137.0" y="501.4" text-anchor="end" style="font-family:'Liberation Serif',serif;font-weight:bold;font-size:28px">3000</text>
<line x1="155.6" y1="430.34" x2="163.05" y2="430.34" stroke="#000" stroke-width="3.9" stroke-linecap="round"/>
<line x1="148.0" y1="367.28" x2="163.05" y2="367.28" stroke="#000" stroke-width="3.9" stroke-linecap="round"/>
<text x="137.0" y="375.3" text-anchor="end" style="font-family:'Liberation Serif',serif;font-weight:bold;font-size:28px">4000</text>
<line x1="155.6" y1="304.22" x2="163.05" y2="304.22" stroke="#000" stroke-width="3.9" stroke-linecap="round"/>
<line x1="148.0" y1="241.15" x2="163.05" y2="241.15" stroke="#000" stroke-width="3.9" stroke-linecap="round"/>
<text x="137.0" y="249.1" text-anchor="end" style="font-family:'Liberation Serif',serif;font-weight:bold;font-size:28px">5000</text>
<line x1="155.6" y1="178.09" x2="163.05" y2="178.09" stroke="#000" stroke-width="3.9" stroke-linecap="round"/>
<line x1="148.0" y1="115.02" x2="163.05" y2="115.02" stroke="#000" stroke-width="3.9" stroke-linecap="round"/>
<text x="137.0" y="123.0" text-anchor="end" style="font-family:'Liberation Serif',serif;font-weight:bold;font-size:28px">6000</text>
<line x1="163.05" y1="902.8" x2="163.05" y2="910.4" stroke="#000" stroke-width="3.9" stroke-linecap="round"/>
<line x1="229.30" y1="902.8" x2="229.30" y2="918.4" stroke="#000" stroke-width="3.9" stroke-linecap="round"/>
<text x="229.30" y="951.0" text-anchor="middle" style="font-family:'Liberation Serif',serif;font-weight:bold;font-size:28px">775</text>
<line x1="295.55" y1="902.8" x2="295.55" y2="910.4" stroke="#000" stroke-width="3.9" stroke-linecap="round"/>
<line x1="361.80" y1="902.8" x2="361.80" y2="918.4" stroke="#000" stroke-width="3.9" stroke-linecap="round"/>
<text x="361.80" y="951.0" text-anchor="middle" style="font-family:'Liberation Serif',serif;font-weight:bold;font-size:28px">780</text>
<line x1="428.05" y1="902.8" x2="428.05" y2="910.4" stroke="#000" stroke-width="3.9" stroke-linecap="round"/>
<line x1="494.30" y1="902.8" x2="494.30" y2="918.4" stroke="#000" stroke-width="3.9" stroke-linecap="round"/>
<text x="494.30" y="951.0" text-anchor="middle" style="font-family:'Liberation Serif',serif;font-weight:bold;font-size:28px">785</text>
<line x1="560.55" y1="902.8" x2="560.55" y2="910.4" stroke="#000" stroke-width="3.9" stroke-linecap="round"/>
<line x1="626.80" y1="902.8" x2="626.80" y2="918.4" stroke="#000" stroke-width="3.9" stroke-linecap="round"/>
<text x="626.80" y="951.0" text-anchor="middle" style="font-family:'Liberation Serif',serif;font-weight:bold;font-size:28px">790</text>
<line x1="693.05" y1="902.8" x2="693.05" y2="910.4" stroke="#000" stroke-width="3.9" stroke-linecap="round"/>
<line x1="759.30" y1="902.8" x2="759.30" y2="918.4" stroke="#000" stroke-width="3.9" stroke-linecap="round"/>
<text x="759.30" y="951.0" text-anchor="middle" style="font-family:'Liberation Serif',serif;font-weight:bold;font-size:28px">795</text>
<line x1="825.55" y1="902.8" x2="825.55" y2="910.4" stroke="#000" stroke-width="3.9" stroke-linecap="round"/>
<line x1="891.80" y1="902.8" x2="891.80" y2="918.4" stroke="#000" stroke-width="3.9" stroke-linecap="round"/>
<text x="891.80" y="951.0" text-anchor="middle" style="font-family:'Liberation Serif',serif;font-weight:bold;font-size:28px">800</text>
<line x1="958.05" y1="902.8" x2="958.05" y2="910.4" stroke="#000" stroke-width="3.9" stroke-linecap="round"/>
<line x1="1024.30" y1="902.8" x2="1024.30" y2="918.4" stroke="#000" stroke-width="3.9" stroke-linecap="round"/>
<text x="1024.30" y="951.0" text-anchor="middle" style="font-family:'Liberation Serif',serif;font-weight:bold;font-size:28px">805</text>
<line x1="1090.55" y1="902.8" x2="1090.55" y2="910.4" stroke="#000" stroke-width="3.9" stroke-linecap="round"/>
<line x1="1156.80" y1="902.8" x2="1156.80" y2="918.4" stroke="#000" stroke-width="3.9" stroke-linecap="round"/>
<text x="1156.80" y="951.0" text-anchor="middle" style="font-family:'Liberation Serif',serif;font-weight:bold;font-size:28px">810</text>
<line x1="1223.05" y1="902.8" x2="1223.05" y2="910.4" stroke="#000" stroke-width="3.9" stroke-linecap="round"/>
<text x="691.8" y="1020.6" text-anchor="middle" style="font-family:'Liberation Serif',serif;font-weight:bold;font-size:49px">Binding energy (eV)</text>
<text transform="translate(61.6,504.0) rotate(-90) scale(0.982,1)" text-anchor="middle" style="font-family:'Liberation Serif',serif;font-weight:bold;font-size:49px">Intensity (Arb. unit)</text>
<text transform="translate(546.2,76.8) scale(1,1.03)" style="font-family:'Liberation Serif',serif;font-weight:bold;font-size:86px">Co 2.4</text>
<text transform="translate(173.6,220.0) scale(1.04,1.005)" style="font-family:'Liberation Serif',serif;font-weight:bold;font-size:103px">(b)</text>
<line x1="986.7" y1="135.3" x2="1047.3" y2="135.3" stroke="#000" stroke-width="5.6" stroke-linecap="round"/>
<use href="#dot" x="1016.6" y="135.3"/>
<text x="1055.0" y="144.5" style="font-family:'Liberation Serif',serif;font-weight:bold;font-size:28px">Exp.</text>
<line x1="986.7" y1="170.0" x2="1047.3" y2="170.0" stroke="#ff0000" stroke-width="4" stroke-linecap="round"/>
<text x="1055.0" y="179.2" style="font-family:'Liberation Serif',serif;font-weight:bold;font-size:28px">Fit</text>
<line x1="986.7" y1="208.3" x2="1047.3" y2="208.3" stroke="#0000f5" stroke-width="4" stroke-linecap="round"/>
<text x="1055.0" y="217.5" style="font-family:'Liberation Serif',serif;font-weight:bold;font-size:28px">Co 2p<tspan dy="9.4" style="font-size:17px">3/2</tspan><tspan dy="-9.4"> Co</tspan><tspan dy="-13.5" style="font-size:17px">3+</tspan></text>
<line x1="986.7" y1="255.2" x2="1047.3" y2="255.2" stroke="#ff00ff" stroke-width="4" stroke-linecap="round"/>
<text x="1055.0" y="264.4" style="font-family:'Liberation Serif',serif;font-weight:bold;font-size:28px">Co 2p<tspan dy="9.4" style="font-size:17px">3/2</tspan><tspan dy="-9.4"> Co</tspan><tspan dy="-13.5" style="font-size:17px">2+</tspan></text>
<line x1="986.7" y1="298.6" x2="1047.3" y2="298.6" stroke="#00ffff" stroke-width="4" stroke-linecap="round"/>
<text x="1055.0" y="307.8" style="font-family:'Liberation Serif',serif;font-weight:bold;font-size:28px">Sat.</text>
<line x1="986.7" y1="337.9" x2="1047.3" y2="337.9" stroke="#007300" stroke-width="4" stroke-linecap="round"/>
<text x="1055.0" y="347.1" style="font-family:'Liberation Serif',serif;font-weight:bold;font-size:28px">Co 2p<tspan dy="9.4" style="font-size:17px">1/2</tspan><tspan dy="-9.4"> Co</tspan><tspan dy="-13.5" style="font-size:17px">3+</tspan></text>
<line x1="986.7" y1="384.4" x2="1047.3" y2="384.4" stroke="#ff8000" stroke-width="4" stroke-linecap="round"/>
<text x="1055.0" y="393.6" style="font-family:'Liberation Serif',serif;font-weight:bold;font-size:28px">Co 2p<tspan dy="9.4" style="font-size:17px">1/2</tspan><tspan dy="-9.4"> Co</tspan><tspan dy="-13.5" style="font-size:17px">2+</tspan></text>
<line x1="986.7" y1="428.8" x2="1047.3" y2="428.8" stroke="#00ff00" stroke-width="4" stroke-linecap="round"/>
<text x="1055.0" y="438.0" style="font-family:'Liberation Serif',serif;font-weight:bold;font-size:28px">Sat.</text>
</g>
<g transform="translate(0,2282.8)">
<g clip-path="url(#cp)">
<path d="M164.1,862.5 L167.5,867.7 L170.9,864.5 L174.4,869.1 L177.8,867.5 L181.3,866.7 L184.7,873.3 L188.2,870.3 L191.6,867.2 L195.1,867.3 L198.5,869.1 L202.0,866.4 L205.4,866.5 L208.9,863.6 L212.3,864.8 L215.8,866.1 L219.2,862.3 L222.7,857.8 L226.1,853.9 L229.6,855.3 L233.0,855.6 L236.5,854.6 L239.9,854.4 L243.4,850.7 L246.8,852.5 L250.3,854.4 L253.7,856.7 L257.2,851.6 L260.6,849.2 L264.1,841.7 L267.5,841.0 L271.0,834.0 L274.4,831.1 L277.9,836.0 L281.3,827.6 L284.8,830.9 L288.2,829.2 L291.7,822.8 L295.1,818.0 L298.6,813.2 L302.0,808.1 L305.5,795.5 L308.9,780.8 L312.4,763.4 L315.8,740.2 L319.3,714.7 L322.7,679.3 L326.2,642.2 L329.6,587.3 L333.1,532.0 L336.5,474.0 L340.0,411.0 L343.4,363.8 L346.9,303.1 L350.3,259.4 L353.8,223.7 L357.2,206.0 L360.7,185.3 L364.1,188.6 L367.6,193.8 L371.0,209.7 L374.5,229.5 L377.9,257.5 L381.4,280.1 L384.8,307.7 L388.3,335.6 L391.7,366.4 L395.2,380.2 L398.6,409.9 L402.1,434.7 L405.5,454.1 L409.0,477.4 L412.4,498.2 L415.9,526.7 L419.3,548.5 L422.8,569.1 L426.2,589.9 L429.7,610.5 L433.1,630.3 L436.6,646.7 L440.0,671.9 L443.5,679.7 L446.9,683.5 L450.4,701.0 L453.8,714.7 L457.3,727.4 L460.7,735.6 L464.2,742.5 L467.6,749.8 L471.1,757.5 L474.5,758.6 L478.0,760.3 L481.4,769.4 L484.9,770.9 L488.3,767.5 L491.8,776.5 L495.2,777.3 L498.7,773.8 L502.1,770.3 L505.6,773.2 L509.0,771.8 L512.5,770.7 L515.9,769.7 L519.4,772.1 L522.8,779.2 L526.3,779.0 L529.7,776.3 L533.2,781.9 L536.6,784.0 L540.1,788.4 L543.5,794.5 L547.0,795.0 L550.4,796.8 L553.9,799.5 L557.3,799.0 L560.8,805.8 L564.2,811.0 L567.7,810.4 L571.1,809.1 L574.6,808.5 L578.0,806.8 L581.5,806.0 L584.9,807.1 L588.4,805.7 L591.8,805.6 L595.3,801.7 L598.8,805.2 L602.2,806.0 L605.7,802.4 L609.1,796.4 L612.6,802.3 L616.0,810.1 L619.5,809.6 L622.9,810.7 L626.4,811.8 L629.8,817.1 L633.3,815.8 L636.7,822.1 L640.2,823.9 L643.6,830.2 L647.1,832.4 L650.5,833.9 L654.0,831.1 L657.4,832.6 L660.9,835.6 L664.3,841.1 L667.8,843.8 L671.2,847.6 L674.7,856.2 L678.1,865.9 L681.6,871.2 L685.0,876.1 L688.5,877.7 L691.9,877.6 L695.4,875.0 L698.8,867.5 L702.3,865.4 L705.7,858.9 L709.2,849.5 L712.6,845.2 L716.1,839.4 L719.5,825.7 L723.0,813.0 L726.4,798.3 L729.9,776.0 L733.3,753.5 L736.8,732.7 L740.2,703.2 L743.7,683.1 L747.1,664.3 L750.6,645.5 L754.0,622.6 L757.5,612.2 L760.9,602.8 L764.4,604.5 L767.8,610.0 L771.3,617.2 L774.7,622.6 L778.2,630.5 L781.6,643.4 L785.1,648.2 L788.5,659.0 L792.0,667.4 L795.4,671.5 L798.9,685.0 L802.3,687.6 L805.8,698.3 L809.2,694.5 L812.7,694.9 L816.1,708.8 L819.6,719.0 L823.0,725.9 L826.5,735.0 L829.9,738.7 L833.4,747.6 L836.8,755.1 L840.3,765.4 L843.7,778.1 L847.2,786.6 L850.6,796.0 L854.1,800.8 L857.5,806.8 L861.0,814.0 L864.4,818.6 L867.9,827.5 L871.3,827.0 L874.8,836.2 L878.2,832.9 L881.7,837.7 L885.1,834.8 L888.6,840.6 L892.0,839.1 L895.5,838.7 L898.9,839.2 L902.4,834.6 L905.8,830.0 L909.3,823.5 L912.7,829.5 L916.2,826.4 L919.6,824.3 L923.1,824.2 L926.5,830.1 L930.0,821.1 L933.4,821.6 L936.9,819.3 L940.3,820.3 L943.8,813.1 L947.2,812.8 L950.7,816.1 L954.1,820.1 L957.6,822.3 L961.0,815.5 L964.5,814.0 L967.9,812.4 L971.4,807.3 L974.8,803.8 L978.3,808.7 L981.7,810.0 L985.2,809.6 L988.6,813.7 L992.1,809.2 L995.5,811.6 L999.0,811.5 L1002.4,811.5 L1005.9,813.5 L1009.3,814.1 L1012.8,815.0 L1016.2,816.0 L1019.7,822.4 L1023.1,819.5 L1026.6,822.4 L1030.0,823.4 L1033.5,821.5 L1036.9,824.6 L1040.4,821.7 L1043.8,827.1 L1047.3,824.6 L1050.7,824.7 L1054.2,828.1 L1057.6,832.3 L1061.1,835.8 L1064.5,838.4 L1068.0,837.1 L1071.4,834.6 L1074.9,838.5 L1078.3,840.7 L1081.8,838.6 L1085.2,844.1 L1088.7,845.6 L1092.1,843.3 L1095.6,847.0 L1099.0,844.0 L1102.5,844.3 L1105.9,849.0 L1109.4,846.0 L1112.8,849.8 L1116.3,848.1 L1119.7,854.2 L1123.2,853.6 L1126.6,856.5 L1130.1,853.2 L1133.5,855.3 L1137.0,861.0 L1140.4,863.2 L1143.9,857.4 L1147.3,863.1 L1150.8,866.6 L1154.2,864.9 L1157.7,869.8 L1161.1,865.1 L1164.6,865.5 L1168.0,869.8 L1171.5,873.2 L1174.9,875.2 L1178.4,869.0 L1181.8,863.2 L1185.3,866.8 L1188.7,863.2 L1192.2,865.3 L1195.6,863.0 L1199.1,869.2 L1202.5,872.1 L1206.0,873.1 L1209.4,872.1 L1212.9,871.6 L1216.3,870.3 L1219.8,871.7" fill="none" stroke="#000" stroke-width="3.4" stroke-linejoin="round"/>
<g><use href="#dot" x="164.1" y="862.5"/><use href="#dot" x="167.5" y="867.7"/><use href="#dot" x="170.9" y="864.5"/><use href="#dot" x="174.4" y="869.1"/><use href="#dot" x="177.8" y="867.5"/><use href="#dot" x="181.3" y="866.7"/><use href="#dot" x="184.7" y="873.3"/><use href="#dot" x="188.2" y="870.3"/><use href="#dot" x="191.6" y="867.2"/><use href="#dot" x="195.1" y="867.3"/><use href="#dot" x="198.5" y="869.1"/><use href="#dot" x="202.0" y="866.4"/><use href="#dot" x="205.4" y="866.5"/><use href="#dot" x="208.9" y="863.6"/><use href="#dot" x="212.3" y="864.8"/><use href="#dot" x="215.8" y="866.1"/><use href="#dot" x="219.2" y="862.3"/><use href="#dot" x="222.7" y="857.8"/><use href="#dot" x="226.1" y="853.9"/><use href="#dot" x="229.6" y="855.3"/><use href="#dot" x="233.0" y="855.6"/><use href="#dot" x="236.5" y="854.6"/><use href="#dot" x="239.9" y="854.4"/><use href="#dot" x="243.4" y="850.7"/><use href="#dot" x="246.8" y="852.5"/><use href="#dot" x="250.3" y="854.4"/><use href="#dot" x="253.7" y="856.7"/><use href="#dot" x="257.2" y="851.6"/><use href="#dot" x="260.6" y="849.2"/><use href="#dot" x="264.1" y="841.7"/><use href="#dot" x="267.5" y="841.0"/><use href="#dot" x="271.0" y="834.0"/><use href="#dot" x="274.4" y="831.1"/><use href="#dot" x="277.9" y="836.0"/><use href="#dot" x="281.3" y="827.6"/><use href="#dot" x="284.8" y="830.9"/><use href="#dot" x="288.2" y="829.2"/><use href="#dot" x="291.7" y="822.8"/><use href="#dot" x="295.1" y="818.0"/><use href="#dot" x="298.6" y="813.2"/><use href="#dot" x="302.0" y="808.1"/><use href="#dot" x="305.5" y="795.5"/><use href="#dot" x="308.9" y="780.8"/><use href="#dot" x="312.4" y="763.4"/><use href="#dot" x="315.8" y="740.2"/><use href="#dot" x="319.3" y="714.7"/><use href="#dot" x="322.7" y="679.3"/><use href="#dot" x="326.2" y="642.2"/><use href="#dot" x="329.6" y="587.3"/><use href="#dot" x="333.1" y="532.0"/><use href="#dot" x="336.5" y="474.0"/><use href="#dot" x="340.0" y="411.0"/><use href="#dot" x="343.4" y="363.8"/><use href="#dot" x="346.9" y="303.1"/><use href="#dot" x="350.3" y="259.4"/><use href="#dot" x="353.8" y="223.7"/><use href="#dot" x="357.2" y="206.0"/><use href="#dot" x="360.7" y="185.3"/><use href="#dot" x="364.1" y="188.6"/><use href="#dot" x="367.6" y="193.8"/><use href="#dot" x="371.0" y="209.7"/><use href="#dot" x="374.5" y="229.5"/><use href="#dot" x="377.9" y="257.5"/><use href="#dot" x="381.4" y="280.1"/><use href="#dot" x="384.8" y="307.7"/><use href="#dot" x="388.3" y="335.6"/><use href="#dot" x="391.7" y="366.4"/><use href="#dot" x="395.2" y="380.2"/><use href="#dot" x="398.6" y="409.9"/><use href="#dot" x="402.1" y="434.7"/><use href="#dot" x="405.5" y="454.1"/><use href="#dot" x="409.0" y="477.4"/><use href="#dot" x="412.4" y="498.2"/><use href="#dot" x="415.9" y="526.7"/><use href="#dot" x="419.3" y="548.5"/><use href="#dot" x="422.8" y="569.1"/><use href="#dot" x="426.2" y="589.9"/><use href="#dot" x="429.7" y="610.5"/><use href="#dot" x="433.1" y="630.3"/><use href="#dot" x="436.6" y="646.7"/><use href="#dot" x="440.0" y="671.9"/><use href="#dot" x="443.5" y="679.7"/><use href="#dot" x="446.9" y="683.5"/><use href="#dot" x="450.4" y="701.0"/><use href="#dot" x="453.8" y="714.7"/><use href="#dot" x="457.3" y="727.4"/><use href="#dot" x="460.7" y="735.6"/><use href="#dot" x="464.2" y="742.5"/><use href="#dot" x="467.6" y="749.8"/><use href="#dot" x="471.1" y="757.5"/><use href="#dot" x="474.5" y="758.6"/><use href="#dot" x="478.0" y="760.3"/><use href="#dot" x="481.4" y="769.4"/><use href="#dot" x="484.9" y="770.9"/><use href="#dot" x="488.3" y="767.5"/><use href="#dot" x="491.8" y="776.5"/><use href="#dot" x="495.2" y="777.3"/><use href="#dot" x="498.7" y="773.8"/><use href="#dot" x="502.1" y="770.3"/><use href="#dot" x="505.6" y="773.2"/><use href="#dot" x="509.0" y="771.8"/><use href="#dot" x="512.5" y="770.7"/><use href="#dot" x="515.9" y="769.7"/><use href="#dot" x="519.4" y="772.1"/><use href="#dot" x="522.8" y="779.2"/><use href="#dot" x="526.3" y="779.0"/><use href="#dot" x="529.7" y="776.3"/><use href="#dot" x="533.2" y="781.9"/><use href="#dot" x="536.6" y="784.0"/><use href="#dot" x="540.1" y="788.4"/><use href="#dot" x="543.5" y="794.5"/><use href="#dot" x="547.0" y="795.0"/><use href="#dot" x="550.4" y="796.8"/><use href="#dot" x="553.9" y="799.5"/><use href="#dot" x="557.3" y="799.0"/><use href="#dot" x="560.8" y="805.8"/><use href="#dot" x="564.2" y="811.0"/><use href="#dot" x="567.7" y="810.4"/><use href="#dot" x="571.1" y="809.1"/><use href="#dot" x="574.6" y="808.5"/><use href="#dot" x="578.0" y="806.8"/><use href="#dot" x="581.5" y="806.0"/><use href="#dot" x="584.9" y="807.1"/><use href="#dot" x="588.4" y="805.7"/><use href="#dot" x="591.8" y="805.6"/><use href="#dot" x="595.3" y="801.7"/><use href="#dot" x="598.8" y="805.2"/><use href="#dot" x="602.2" y="806.0"/><use href="#dot" x="605.7" y="802.4"/><use href="#dot" x="609.1" y="796.4"/><use href="#dot" x="612.6" y="802.3"/><use href="#dot" x="616.0" y="810.1"/><use href="#dot" x="619.5" y="809.6"/><use href="#dot" x="622.9" y="810.7"/><use href="#dot" x="626.4" y="811.8"/><use href="#dot" x="629.8" y="817.1"/><use href="#dot" x="633.3" y="815.8"/><use href="#dot" x="636.7" y="822.1"/><use href="#dot" x="640.2" y="823.9"/><use href="#dot" x="643.6" y="830.2"/><use href="#dot" x="647.1" y="832.4"/><use href="#dot" x="650.5" y="833.9"/><use href="#dot" x="654.0" y="831.1"/><use href="#dot" x="657.4" y="832.6"/><use href="#dot" x="660.9" y="835.6"/><use href="#dot" x="664.3" y="841.1"/><use href="#dot" x="667.8" y="843.8"/><use href="#dot" x="671.2" y="847.6"/><use href="#dot" x="674.7" y="856.2"/><use href="#dot" x="678.1" y="865.9"/><use href="#dot" x="681.6" y="871.2"/><use href="#dot" x="685.0" y="876.1"/><use href="#dot" x="688.5" y="877.7"/><use href="#dot" x="691.9" y="877.6"/><use href="#dot" x="695.4" y="875.0"/><use href="#dot" x="698.8" y="867.5"/><use href="#dot" x="702.3" y="865.4"/><use href="#dot" x="705.7" y="858.9"/><use href="#dot" x="709.2" y="849.5"/><use href="#dot" x="712.6" y="845.2"/><use href="#dot" x="716.1" y="839.4"/><use href="#dot" x="719.5" y="825.7"/><use href="#dot" x="723.0" y="813.0"/><use href="#dot" x="726.4" y="798.3"/><use href="#dot" x="729.9" y="776.0"/><use href="#dot" x="733.3" y="753.5"/><use href="#dot" x="736.8" y="732.7"/><use href="#dot" x="740.2" y="703.2"/><use href="#dot" x="743.7" y="683.1"/><use href="#dot" x="747.1" y="664.3"/><use href="#dot" x="750.6" y="645.5"/><use href="#dot" x="754.0" y="622.6"/><use href="#dot" x="757.5" y="612.2"/><use href="#dot" x="760.9" y="602.8"/><use href="#dot" x="764.4" y="604.5"/><use href="#dot" x="767.8" y="610.0"/><use href="#dot" x="771.3" y="617.2"/><use href="#dot" x="774.7" y="622.6"/><use href="#dot" x="778.2" y="630.5"/><use href="#dot" x="781.6" y="643.4"/><use href="#dot" x="785.1" y="648.2"/><use href="#dot" x="788.5" y="659.0"/><use href="#dot" x="792.0" y="667.4"/><use href="#dot" x="795.4" y="671.5"/><use href="#dot" x="798.9" y="685.0"/><use href="#dot" x="802.3" y="687.6"/><use href="#dot" x="805.8" y="698.3"/><use href="#dot" x="809.2" y="694.5"/><use href="#dot" x="812.7" y="694.9"/><use href="#dot" x="816.1" y="708.8"/><use href="#dot" x="819.6" y="719.0"/><use href="#dot" x="823.0" y="725.9"/><use href="#dot" x="826.5" y="735.0"/><use href="#dot" x="829.9" y="738.7"/><use href="#dot" x="833.4" y="747.6"/><use href="#dot" x="836.8" y="755.1"/><use href="#dot" x="840.3" y="765.4"/><use href="#dot" x="843.7" y="778.1"/><use href="#dot" x="847.2" y="786.6"/><use href="#dot" x="850.6" y="796.0"/><use href="#dot" x="854.1" y="800.8"/><use href="#dot" x="857.5" y="806.8"/><use href="#dot" x="861.0" y="814.0"/><use href="#dot" x="864.4" y="818.6"/><use href="#dot" x="867.9" y="827.5"/><use href="#dot" x="871.3" y="827.0"/><use href="#dot" x="874.8" y="836.2"/><use href="#dot" x="878.2" y="832.9"/><use href="#dot" x="881.7" y="837.7"/><use href="#dot" x="885.1" y="834.8"/><use href="#dot" x="888.6" y="840.6"/><use href="#dot" x="892.0" y="839.1"/><use href="#dot" x="895.5" y="838.7"/><use href="#dot" x="898.9" y="839.2"/><use href="#dot" x="902.4" y="834.6"/><use href="#dot" x="905.8" y="830.0"/><use href="#dot" x="909.3" y="823.5"/><use href="#dot" x="912.7" y="829.5"/><use href="#dot" x="916.2" y="826.4"/><use href="#dot" x="919.6" y="824.3"/><use href="#dot" x="923.1" y="824.2"/><use href="#dot" x="926.5" y="830.1"/><use href="#dot" x="930.0" y="821.1"/><use href="#dot" x="933.4" y="821.6"/><use href="#dot" x="936.9" y="819.3"/><use href="#dot" x="940.3" y="820.3"/><use href="#dot" x="943.8" y="813.1"/><use href="#dot" x="947.2" y="812.8"/><use href="#dot" x="950.7" y="816.1"/><use href="#dot" x="954.1" y="820.1"/><use href="#dot" x="957.6" y="822.3"/><use href="#dot" x="961.0" y="815.5"/><use href="#dot" x="964.5" y="814.0"/><use href="#dot" x="967.9" y="812.4"/><use href="#dot" x="971.4" y="807.3"/><use href="#dot" x="974.8" y="803.8"/><use href="#dot" x="978.3" y="808.7"/><use href="#dot" x="981.7" y="810.0"/><use href="#dot" x="985.2" y="809.6"/><use href="#dot" x="988.6" y="813.7"/><use href="#dot" x="992.1" y="809.2"/><use href="#dot" x="995.5" y="811.6"/><use href="#dot" x="999.0" y="811.5"/><use href="#dot" x="1002.4" y="811.5"/><use href="#dot" x="1005.9" y="813.5"/><use href="#dot" x="1009.3" y="814.1"/><use href="#dot" x="1012.8" y="815.0"/><use href="#dot" x="1016.2" y="816.0"/><use href="#dot" x="1019.7" y="822.4"/><use href="#dot" x="1023.1" y="819.5"/><use href="#dot" x="1026.6" y="822.4"/><use href="#dot" x="1030.0" y="823.4"/><use href="#dot" x="1033.5" y="821.5"/><use href="#dot" x="1036.9" y="824.6"/><use href="#dot" x="1040.4" y="821.7"/><use href="#dot" x="1043.8" y="827.1"/><use href="#dot" x="1047.3" y="824.6"/><use href="#dot" x="1050.7" y="824.7"/><use href="#dot" x="1054.2" y="828.1"/><use href="#dot" x="1057.6" y="832.3"/><use href="#dot" x="1061.1" y="835.8"/><use href="#dot" x="1064.5" y="838.4"/><use href="#dot" x="1068.0" y="837.1"/><use href="#dot" x="1071.4" y="834.6"/><use href="#dot" x="1074.9" y="838.5"/><use href="#dot" x="1078.3" y="840.7"/><use href="#dot" x="1081.8" y="838.6"/><use href="#dot" x="1085.2" y="844.1"/><use href="#dot" x="1088.7" y="845.6"/><use href="#dot" x="1092.1" y="843.3"/><use href="#dot" x="1095.6" y="847.0"/><use href="#dot" x="1099.0" y="844.0"/><use href="#dot" x="1102.5" y="844.3"/><use href="#dot" x="1105.9" y="849.0"/><use href="#dot" x="1109.4" y="846.0"/><use href="#dot" x="1112.8" y="849.8"/><use href="#dot" x="1116.3" y="848.1"/><use href="#dot" x="1119.7" y="854.2"/><use href="#dot" x="1123.2" y="853.6"/><use href="#dot" x="1126.6" y="856.5"/><use href="#dot" x="1130.1" y="853.2"/><use href="#dot" x="1133.5" y="855.3"/><use href="#dot" x="1137.0" y="861.0"/><use href="#dot" x="1140.4" y="863.2"/><use href="#dot" x="1143.9" y="857.4"/><use href="#dot" x="1147.3" y="863.1"/><use href="#dot" x="1150.8" y="866.6"/><use href="#dot" x="1154.2" y="864.9"/><use href="#dot" x="1157.7" y="869.8"/><use href="#dot" x="1161.1" y="865.1"/><use href="#dot" x="1164.6" y="865.5"/><use href="#dot" x="1168.0" y="869.8"/><use href="#dot" x="1171.5" y="873.2"/><use href="#dot" x="1174.9" y="875.2"/><use href="#dot" x="1178.4" y="869.0"/><use href="#dot" x="1181.8" y="863.2"/><use href="#dot" x="1185.3" y="866.8"/><use href="#dot" x="1188.7" y="863.2"/><use href="#dot" x="1192.2" y="865.3"/><use href="#dot" x="1195.6" y="863.0"/><use href="#dot" x="1199.1" y="869.2"/><use href="#dot" x="1202.5" y="872.1"/><use href="#dot" x="1206.0" y="873.1"/><use href="#dot" x="1209.4" y="872.1"/><use href="#dot" x="1212.9" y="871.6"/><use href="#dot" x="1216.3" y="870.3"/><use href="#dot" x="1219.8" y="871.7"/></g>
<path d="M163.1,869.7 L164.6,869.6 L166.1,869.6 L167.6,869.5 L169.1,869.4 L170.6,869.3 L172.1,869.3 L173.6,869.2 L175.1,869.1 L176.6,869.0 L178.1,868.9 L179.6,868.8 L181.1,868.7 L182.6,868.6 L184.1,868.5 L185.6,868.4 L187.1,868.3 L188.6,868.2 L190.1,868.1 L191.6,867.9 L193.1,867.8 L194.6,867.7 L196.1,867.5 L197.6,867.4 L199.1,867.3 L200.6,867.1 L202.1,867.0 L203.6,866.8 L205.1,866.6 L206.6,866.5 L208.1,866.3 L209.6,866.1 L211.1,866.0 L212.6,865.8 L214.1,865.6 L215.6,865.4 L217.1,865.2 L218.6,865.0 L220.1,864.8 L221.6,864.6 L223.1,864.4 L224.6,864.1 L226.1,863.9 L227.6,863.7 L229.1,863.4 L230.6,863.2 L232.1,862.9 L233.6,862.7 L235.1,862.4 L236.6,862.1 L238.1,861.8 L239.6,861.5 L241.1,861.2 L242.6,860.9 L244.1,860.6 L245.6,860.3 L247.1,859.9 L248.6,859.6 L250.1,859.2 L251.6,858.8 L253.1,858.5 L254.6,858.1 L256.1,857.7 L257.6,857.2 L259.1,856.8 L260.6,856.3 L262.1,855.8 L263.6,855.3 L265.1,854.8 L266.6,854.2 L268.1,853.6 L269.6,853.0 L271.1,852.4 L272.6,851.7 L274.1,850.9 L275.6,850.1 L277.1,849.3 L278.6,848.4 L280.1,847.4 L281.6,846.3 L283.1,845.2 L284.6,844.0 L286.1,842.6 L287.6,841.1 L289.1,839.5 L290.6,837.7 L292.1,835.8 L293.6,833.6 L295.1,831.2 L296.6,828.5 L298.1,825.5 L299.6,822.2 L301.1,818.5 L302.6,814.3 L304.1,809.6 L305.6,804.4 L307.1,798.6 L308.6,792.1 L310.1,784.8 L311.6,776.7 L313.1,767.7 L314.6,757.8 L316.1,746.8 L317.6,734.7 L319.1,721.4 L320.6,707.0 L322.1,691.3 L323.6,674.3 L325.1,656.1 L326.6,636.6 L328.1,616.0 L329.6,594.2 L331.1,571.4 L332.6,547.7 L334.1,523.2 L335.6,498.1 L337.1,472.6 L338.6,446.8 L340.1,421.2 L341.6,395.7 L343.1,370.8 L344.6,346.7 L346.1,323.6 L347.6,301.8 L349.1,281.4 L350.6,262.7 L352.1,245.9 L353.6,231.1 L355.1,218.4 L356.6,207.9 L358.1,199.6 L359.6,193.5 L361.1,189.6 L362.6,187.9 L364.1,188.1 L365.6,190.2 L367.1,194.1 L368.6,199.5 L370.1,206.3 L371.6,214.3 L373.1,223.3 L374.6,233.1 L376.1,243.5 L377.6,254.4 L379.1,265.7 L380.6,277.1 L382.1,288.6 L383.6,300.2 L385.1,311.6 L386.6,322.9 L388.1,334.0 L389.6,345.0 L391.1,355.7 L392.6,366.3 L394.1,376.6 L395.6,386.9 L397.1,396.9 L398.6,406.9 L400.1,416.8 L401.6,426.7 L403.1,436.5 L404.6,446.4 L406.1,456.2 L407.6,466.1 L409.1,476.1 L410.6,486.0 L412.1,496.0 L413.6,506.0 L415.1,516.1 L416.6,526.1 L418.1,536.2 L419.6,546.2 L421.1,556.1 L422.6,565.9 L424.1,575.7 L425.6,585.3 L427.1,594.8 L428.6,604.1 L430.1,613.1 L431.6,622.0 L433.1,630.6 L434.6,639.0 L436.1,647.1 L437.6,655.0 L439.1,662.5 L440.6,669.7 L442.1,676.6 L443.6,683.3 L445.1,689.6 L446.6,695.6 L448.1,701.2 L449.6,706.6 L451.1,711.7 L452.6,716.4 L454.1,720.9 L455.6,725.1 L457.1,729.0 L458.6,732.6 L460.1,736.0 L461.6,739.2 L463.1,742.1 L464.6,744.8 L466.1,747.3 L467.6,749.6 L469.1,751.7 L470.6,753.7 L472.1,755.4 L473.6,757.1 L475.1,758.6 L476.6,760.0 L478.1,761.2 L479.6,762.4 L481.1,763.5 L482.6,764.5 L484.1,765.4 L485.6,766.2 L487.1,767.0 L488.6,767.7 L490.1,768.4 L491.6,769.0 L493.1,769.6 L494.6,770.1 L496.1,770.7 L497.6,771.2 L499.1,771.7 L500.6,772.2 L502.1,772.6 L503.6,773.1 L505.1,773.6 L506.6,774.0 L508.1,774.5 L509.6,774.9 L511.1,775.4 L512.5,775.8 L514.0,776.3 L515.5,776.8 L517.0,777.3 L518.5,777.8 L520.0,778.3 L521.5,778.8 L523.0,779.3 L524.5,779.8 L526.0,780.4 L527.5,780.9 L529.0,781.5 L530.5,782.1 L532.0,782.6 L533.5,783.2 L535.0,783.8 L536.5,784.5 L538.0,785.1 L539.5,785.7 L541.0,786.4 L542.5,787.0 L544.0,787.7 L545.5,788.4 L547.0,789.1 L548.5,789.8 L550.0,790.5 L551.5,791.2 L553.0,791.9 L554.5,792.6 L556.0,793.4 L557.5,794.1 L559.0,794.9 L560.5,795.6 L562.0,796.4 L563.5,797.1 L565.0,797.9 L566.5,798.7 L568.0,799.5 L569.5,800.3 L571.0,801.1 L572.5,801.9 L574.0,802.7 L575.5,803.5 L577.0,804.3 L578.5,805.1 L580.0,805.9 L581.5,806.7 L583.0,807.5 L584.5,808.3 L586.0,809.2 L587.5,810.0 L589.0,810.8 L590.5,811.6 L592.0,812.4 L593.5,813.3 L595.0,814.1 L596.5,814.9 L598.0,815.7 L599.5,816.5 L601.0,817.3 L602.5,818.1 L604.0,818.9 L605.5,819.7 L607.0,820.5 L608.5,821.3 L610.0,822.1 L611.5,822.9 L613.0,823.7 L614.5,824.5 L616.0,825.3 L617.5,826.0 L619.0,826.8 L620.5,827.6 L622.0,828.3 L623.5,829.1 L625.0,829.8 L626.5,830.6 L628.0,831.3 L629.5,832.0 L631.0,832.8 L632.5,833.5 L634.0,834.2 L635.5,834.9 L637.0,835.6 L638.5,836.3 L640.0,837.0 L641.5,837.6 L643.0,838.3 L644.5,839.0 L646.0,839.6 L647.5,840.3 L649.0,840.9 L650.5,841.5 L652.0,842.1 L653.5,842.8 L655.0,843.4 L656.5,844.0 L658.0,844.5 L659.5,845.1 L661.0,845.7 L662.5,846.3 L664.0,846.8 L665.5,847.3 L667.0,847.9 L668.5,848.4 L670.0,848.9 L671.5,849.4 L673.0,849.9 L674.5,850.4 L676.0,850.8 L677.5,851.3 L679.0,851.7 L680.5,852.1 L682.0,852.5 L683.5,852.9 L685.0,853.2 L686.5,853.5 L688.0,853.8 L689.5,854.1 L691.0,854.3 L692.5,854.4 L694.0,854.6 L695.5,854.6 L697.0,854.6 L698.5,854.4 L700.0,854.2 L701.5,853.9 L703.0,853.4 L704.5,852.7 L706.0,851.9 L707.5,850.8 L709.0,849.5 L710.5,847.9 L712.0,846.0 L713.5,843.7 L715.0,841.0 L716.5,837.9 L718.0,834.3 L719.5,830.2 L721.0,825.5 L722.5,820.3 L724.0,814.4 L725.5,807.9 L727.0,800.8 L728.5,793.1 L730.0,784.7 L731.5,775.8 L733.0,766.3 L734.5,756.2 L736.0,745.8 L737.5,735.0 L739.0,723.9 L740.5,712.7 L742.0,701.5 L743.5,690.3 L745.0,679.4 L746.5,668.8 L748.0,658.7 L749.5,649.1 L751.0,640.3 L752.5,632.3 L754.0,625.2 L755.5,619.1 L757.0,614.1 L758.5,610.1 L760.0,607.1 L761.5,605.3 L763.0,604.5 L764.5,604.7 L766.0,605.8 L767.5,607.7 L769.0,610.4 L770.5,613.7 L772.0,617.5 L773.5,621.6 L775.0,626.1 L776.5,630.6 L778.0,635.3 L779.5,639.9 L781.0,644.4 L782.5,648.7 L784.0,652.8 L785.5,656.6 L787.0,660.2 L788.5,663.5 L790.0,666.5 L791.5,669.2 L793.0,671.7 L794.5,674.0 L796.0,676.1 L797.5,678.0 L799.0,679.9 L800.5,681.7 L802.0,683.5 L803.5,685.4 L805.0,687.3 L806.5,689.2 L808.0,691.3 L809.5,693.5 L811.0,695.9 L812.5,698.4 L814.0,701.1 L815.5,704.0 L817.0,707.0 L818.5,710.2 L820.0,713.6 L821.5,717.1 L823.0,720.8 L824.5,724.6 L826.0,728.5 L827.5,732.6 L829.0,736.7 L830.5,740.8 L832.0,745.1 L833.5,749.3 L835.0,753.6 L836.5,757.9 L838.0,762.1 L839.5,766.3 L841.0,770.4 L842.5,774.5 L844.0,778.5 L845.5,782.4 L847.0,786.2 L848.5,789.9 L850.0,793.5 L851.5,796.9 L853.0,800.2 L854.5,803.3 L856.0,806.3 L857.5,809.1 L859.0,811.8 L860.5,814.3 L862.0,816.7 L863.5,818.9 L865.0,821.0 L866.5,822.9 L868.0,824.6 L869.5,826.2 L871.0,827.7 L872.5,829.0 L874.0,830.2 L875.5,831.2 L877.0,832.1 L878.5,832.9 L880.0,833.6 L881.5,834.2 L883.0,834.6 L884.5,835.0 L886.0,835.3 L887.5,835.5 L889.0,835.6 L890.5,835.7 L892.0,835.6 L893.5,835.5 L895.0,835.4 L896.5,835.2 L898.0,834.9 L899.5,834.6 L901.0,834.3 L902.5,833.9 L904.0,833.5 L905.5,833.0 L907.0,832.6 L908.5,832.1 L910.0,831.5 L911.5,831.0 L913.0,830.4 L914.5,829.9 L916.0,829.3 L917.5,828.7 L919.0,828.1 L920.5,827.5 L922.0,826.9 L923.5,826.3 L925.0,825.7 L926.5,825.1 L928.0,824.4 L929.5,823.8 L931.0,823.2 L932.5,822.6 L934.0,822.0 L935.5,821.5 L937.0,820.9 L938.5,820.3 L940.0,819.8 L941.5,819.2 L943.0,818.7 L944.5,818.1 L946.0,817.6 L947.5,817.1 L949.0,816.6 L950.5,816.2 L952.0,815.7 L953.5,815.3 L955.0,814.9 L956.5,814.4 L958.0,814.0 L959.5,813.7 L961.0,813.3 L962.5,813.0 L964.0,812.7 L965.5,812.3 L967.0,812.1 L968.5,811.8 L970.0,811.6 L971.5,811.3 L973.0,811.1 L974.5,810.9 L976.0,810.8 L977.5,810.6 L979.0,810.5 L980.5,810.4 L982.0,810.3 L983.5,810.3 L985.0,810.2 L986.5,810.2 L988.0,810.2 L989.5,810.2 L991.0,810.3 L992.5,810.3 L994.0,810.4 L995.5,810.5 L997.0,810.7 L998.5,810.8 L1000.0,811.0 L1001.5,811.2 L1003.0,811.4 L1004.5,811.6 L1006.0,811.9 L1007.5,812.1 L1009.0,812.4 L1010.5,812.7 L1012.0,813.1 L1013.5,813.4 L1015.0,813.8 L1016.5,814.2 L1018.0,814.6 L1019.5,815.0 L1021.0,815.4 L1022.5,815.9 L1024.0,816.3 L1025.5,816.8 L1027.0,817.3 L1028.5,817.8 L1030.0,818.3 L1031.5,818.9 L1033.0,819.4 L1034.5,820.0 L1036.0,820.5 L1037.5,821.1 L1039.0,821.7 L1040.5,822.3 L1042.0,822.9 L1043.5,823.6 L1045.0,824.2 L1046.5,824.8 L1048.0,825.5 L1049.5,826.1 L1051.0,826.8 L1052.5,827.4 L1054.0,828.1 L1055.5,828.8 L1057.0,829.5 L1058.5,830.2 L1060.0,830.8 L1061.5,831.5 L1063.0,832.2 L1064.5,832.9 L1066.0,833.6 L1067.5,834.3 L1069.0,835.0 L1070.5,835.7 L1072.0,836.4 L1073.5,837.1 L1075.0,837.7 L1076.5,838.4 L1078.0,839.1 L1079.5,839.8 L1081.0,840.5 L1082.5,841.1 L1084.0,841.8 L1085.5,842.5 L1087.0,843.1 L1088.5,843.8 L1090.0,844.4 L1091.5,845.1 L1093.0,845.7 L1094.5,846.3 L1096.0,847.0 L1097.5,847.6 L1099.0,848.2 L1100.5,848.8 L1102.0,849.4 L1103.5,850.0 L1105.0,850.5 L1106.5,851.1 L1108.0,851.7 L1109.5,852.2 L1111.0,852.8 L1112.5,853.3 L1114.0,853.8 L1115.5,854.3 L1117.0,854.8 L1118.5,855.3 L1120.0,855.8 L1121.5,856.3 L1123.0,856.8 L1124.5,857.2 L1126.0,857.7 L1127.5,858.1 L1129.0,858.5 L1130.5,859.0 L1132.0,859.4 L1133.5,859.8 L1135.0,860.2 L1136.5,860.6 L1138.0,860.9 L1139.5,861.3 L1141.0,861.6 L1142.5,862.0 L1144.0,862.3 L1145.5,862.7 L1147.0,863.0 L1148.5,863.3 L1150.0,863.6 L1151.5,863.9 L1153.0,864.2 L1154.5,864.4 L1156.0,864.7 L1157.5,865.0 L1159.0,865.2 L1160.5,865.5 L1162.0,865.7 L1163.5,865.9 L1165.0,866.2 L1166.5,866.4 L1168.0,866.6 L1169.5,866.8 L1171.0,867.0 L1172.5,867.2 L1174.0,867.4 L1175.5,867.5 L1177.0,867.7 L1178.5,867.9 L1180.0,868.0 L1181.5,868.2 L1183.0,868.3 L1184.5,868.5 L1186.0,868.6 L1187.5,868.7 L1189.0,868.9 L1190.5,869.0 L1192.0,869.1 L1193.5,869.2 L1195.0,869.3 L1196.5,869.4 L1198.0,869.5 L1199.5,869.6 L1201.0,869.7 L1202.5,869.8 L1204.0,869.9 L1205.5,870.0 L1207.0,870.0 L1208.5,870.1 L1210.0,870.2 L1211.5,870.2 L1213.0,870.3 L1214.5,870.4 L1216.0,870.4 L1217.5,870.5 L1219.0,870.5 L1220.5,870.6 L1222.0,870.6 L1223.0,870.7" fill="none" stroke="#ff0000" stroke-width="4.5" stroke-linejoin="round"/>
<path d="M163.1,871.5 L164.6,871.5 L166.1,871.5 L167.6,871.5 L169.1,871.5 L170.6,871.5 L172.1,871.5 L173.6,871.5 L175.1,871.5 L176.6,871.5 L178.1,871.5 L179.6,871.5 L181.1,871.5 L182.6,871.5 L184.1,871.5 L185.6,871.5 L187.1,871.5 L188.6,871.5 L190.1,871.5 L191.6,871.5 L193.1,871.5 L194.6,871.5 L196.1,871.5 L197.6,871.5 L199.1,871.5 L200.6,871.5 L202.1,871.5 L203.6,871.5 L205.1,871.5 L206.6,871.5 L208.1,871.5 L209.6,871.5 L211.1,871.5 L212.6,871.5 L214.1,871.5 L215.6,871.5 L217.1,871.5 L218.6,871.5 L220.1,871.5 L221.6,871.5 L223.1,871.5 L224.6,871.5 L226.1,871.5 L227.6,871.5 L229.1,871.5 L230.6,871.5 L232.1,871.5 L233.6,871.5 L235.1,871.5 L236.6,871.5 L238.1,871.5 L239.6,871.5 L241.1,871.5 L242.6,871.5 L244.1,871.5 L245.6,871.5 L247.1,871.5 L248.6,871.5 L250.1,871.5 L251.6,871.5 L253.1,871.5 L254.6,871.5 L256.1,871.5 L257.6,871.5 L259.1,871.5 L260.6,871.5 L262.1,871.5 L263.6,871.5 L265.1,871.5 L266.6,871.5 L268.1,871.5 L269.6,871.5 L271.1,871.5 L272.6,871.5 L274.1,871.5 L275.6,871.4 L277.1,871.4 L278.6,871.4 L280.1,871.3 L281.6,871.3 L283.1,871.2 L284.6,871.1 L286.1,871.0 L287.6,870.8 L289.1,870.6 L290.6,870.4 L292.1,870.0 L293.6,869.6 L295.1,869.0 L296.6,868.3 L298.1,867.5 L299.6,866.4 L301.1,865.2 L302.6,863.6 L304.1,861.7 L305.6,859.5 L307.1,856.8 L308.6,853.6 L310.1,849.9 L311.6,845.6 L313.1,840.6 L314.6,834.9 L316.1,828.5 L317.6,821.1 L319.1,812.9 L320.6,803.8 L322.1,793.7 L323.6,782.7 L325.1,770.7 L326.6,757.9 L328.1,744.2 L329.6,729.8 L331.1,714.6 L332.6,699.0 L334.1,682.9 L335.6,666.7 L337.1,650.4 L338.6,634.3 L340.1,618.7 L341.6,603.6 L343.1,589.4 L344.6,576.3 L346.1,564.5 L347.6,554.3 L349.1,545.7 L350.6,538.9 L352.1,534.1 L353.6,531.4 L355.1,530.7 L356.6,532.2 L358.1,535.8 L359.6,541.4 L361.1,548.9 L362.6,558.2 L364.1,569.1 L365.6,581.4 L367.1,595.0 L368.6,609.5 L370.1,624.9 L371.6,640.7 L373.1,656.9 L374.6,673.2 L376.1,689.4 L377.6,705.3 L379.1,720.8 L380.6,735.6 L382.1,749.8 L383.6,763.1 L385.1,775.6 L386.6,787.2 L388.1,797.8 L389.6,807.5 L391.1,816.3 L392.6,824.2 L394.1,831.1 L395.6,837.3 L397.1,842.7 L398.6,847.4 L400.1,851.5 L401.6,855.0 L403.1,857.9 L404.6,860.4 L406.1,862.5 L407.6,864.3 L409.1,865.7 L410.6,866.9 L412.1,867.8 L413.6,868.6 L415.1,869.3 L416.6,869.8 L418.1,870.2 L419.6,870.5 L421.1,870.7 L422.6,870.9 L424.1,871.1 L425.6,871.2 L427.1,871.3 L428.6,871.3 L430.1,871.4 L431.6,871.4 L433.1,871.4 L434.6,871.4 L436.1,871.5 L437.6,871.5 L439.1,871.5 L440.6,871.5 L442.1,871.5 L443.6,871.5 L445.1,871.5 L446.6,871.5 L448.1,871.5 L449.6,871.5 L451.1,871.5 L452.6,871.5 L454.1,871.5 L455.6,871.5 L457.1,871.5 L458.6,871.5 L460.1,871.5 L461.6,871.5 L463.1,871.5 L464.6,871.5 L466.1,871.5 L467.6,871.5 L469.1,871.5 L470.6,871.5 L472.1,871.5 L473.6,871.5 L475.1,871.5 L476.6,871.5 L478.1,871.5 L479.6,871.5 L481.1,871.5 L482.6,871.5 L484.1,871.5 L485.6,871.5 L487.1,871.5 L488.6,871.5 L490.1,871.5 L491.6,871.5 L493.1,871.5 L494.6,871.5 L496.1,871.5 L497.6,871.5 L499.1,871.5 L500.6,871.5 L502.1,871.5 L503.6,871.5 L505.1,871.5 L506.6,871.5 L508.1,871.5 L509.6,871.5 L511.1,871.5 L512.5,871.5 L514.0,871.5 L515.5,871.5 L517.0,871.5 L518.5,871.5 L520.0,871.5 L521.5,871.5 L523.0,871.5 L524.5,871.5 L526.0,871.5 L527.5,871.5 L529.0,871.5 L530.5,871.5 L532.0,871.5 L533.5,871.5 L535.0,871.5 L536.5,871.5 L538.0,871.5 L539.5,871.5 L541.0,871.5 L542.5,871.5 L544.0,871.5 L545.5,871.5 L547.0,871.5 L548.5,871.5 L550.0,871.5 L551.5,871.5 L553.0,871.5 L554.5,871.5 L556.0,871.5 L557.5,871.5 L559.0,871.5 L560.5,871.5 L562.0,871.5 L563.5,871.5 L565.0,871.5 L566.5,871.5 L568.0,871.5 L569.5,871.5 L571.0,871.5 L572.5,871.5 L574.0,871.5 L575.5,871.5 L577.0,871.5 L578.5,871.5 L580.0,871.5 L581.5,871.5 L583.0,871.5 L584.5,871.5 L586.0,871.5 L587.5,871.5 L589.0,871.5 L590.5,871.5 L592.0,871.5 L593.5,871.5 L595.0,871.5 L596.5,871.5 L598.0,871.5 L599.5,871.5 L601.0,871.5 L602.5,871.5 L604.0,871.5 L605.5,871.5 L607.0,871.5 L608.5,871.5 L610.0,871.5 L611.5,871.5 L613.0,871.5 L614.5,871.5 L616.0,871.5 L617.5,871.5 L619.0,871.5 L620.5,871.5 L622.0,871.5 L623.5,871.5 L625.0,871.5 L626.5,871.5 L628.0,871.5 L629.5,871.5 L631.0,871.5 L632.5,871.5 L634.0,871.5 L635.5,871.5 L637.0,871.5 L638.5,871.5 L640.0,871.5 L641.5,871.5 L643.0,871.5 L644.5,871.5 L646.0,871.5 L647.5,871.5 L649.0,871.5 L650.5,871.5 L652.0,871.5 L653.5,871.5 L655.0,871.5 L656.5,871.5 L658.0,871.5 L659.5,871.5 L661.0,871.5 L662.5,871.5 L664.0,871.5 L665.5,871.5 L667.0,871.5 L668.5,871.5 L670.0,871.5 L671.5,871.5 L673.0,871.5 L674.5,871.5 L676.0,871.5 L677.5,871.5 L679.0,871.5 L680.5,871.5 L682.0,871.5 L683.5,871.5 L685.0,871.5 L686.5,871.5 L688.0,871.5 L689.5,871.5 L691.0,871.5 L692.5,871.5 L694.0,871.5 L695.5,871.5 L697.0,871.5 L698.5,871.5 L700.0,871.5 L701.5,871.5 L703.0,871.5 L704.5,871.5 L706.0,871.5 L707.5,871.5 L709.0,871.5 L710.5,871.5 L712.0,871.5 L713.5,871.5 L715.0,871.5 L716.5,871.5 L718.0,871.5 L719.5,871.5 L721.0,871.5 L722.5,871.5 L724.0,871.5 L725.5,871.5 L727.0,871.5 L728.5,871.5 L730.0,871.5 L731.5,871.5 L733.0,871.5 L734.5,871.5 L736.0,871.5 L737.5,871.5 L739.0,871.5 L740.5,871.5 L742.0,871.5 L743.5,871.5 L745.0,871.5 L746.5,871.5 L748.0,871.5 L749.5,871.5 L751.0,871.5 L752.5,871.5 L754.0,871.5 L755.5,871.5 L757.0,871.5 L758.5,871.5 L760.0,871.5 L761.5,871.5 L763.0,871.5 L764.5,871.5 L766.0,871.5 L767.5,871.5 L769.0,871.5 L770.5,871.5 L772.0,871.5 L773.5,871.5 L775.0,871.5 L776.5,871.5 L778.0,871.5 L779.5,871.5 L781.0,871.5 L782.5,871.5 L784.0,871.5 L785.5,871.5 L787.0,871.5 L788.5,871.5 L790.0,871.5 L791.5,871.5 L793.0,871.5 L794.5,871.5 L796.0,871.5 L797.5,871.5 L799.0,871.5 L800.5,871.5 L802.0,871.5 L803.5,871.5 L805.0,871.5 L806.5,871.5 L808.0,871.5 L809.5,871.5 L811.0,871.5 L812.5,871.5 L814.0,871.5 L815.5,871.5 L817.0,871.5 L818.5,871.5 L820.0,871.5 L821.5,871.5 L823.0,871.5 L824.5,871.5 L826.0,871.5 L827.5,871.5 L829.0,871.5 L830.5,871.5 L832.0,871.5 L833.5,871.5 L835.0,871.5 L836.5,871.5 L838.0,871.5 L839.5,871.5 L841.0,871.5 L842.5,871.5 L844.0,871.5 L845.5,871.5 L847.0,871.5 L848.5,871.5 L850.0,871.5 L851.5,871.5 L853.0,871.5 L854.5,871.5 L856.0,871.5 L857.5,871.5 L859.0,871.5 L860.5,871.5 L862.0,871.5 L863.5,871.5 L865.0,871.5 L866.5,871.5 L868.0,871.5 L869.5,871.5 L871.0,871.5 L872.5,871.5 L874.0,871.5 L875.5,871.5 L877.0,871.5 L878.5,871.5 L880.0,871.5 L881.5,871.5 L883.0,871.5 L884.5,871.5 L886.0,871.5 L887.5,871.5 L889.0,871.5 L890.5,871.5 L892.0,871.5 L893.5,871.5 L895.0,871.5 L896.5,871.5 L898.0,871.5 L899.5,871.5 L901.0,871.5 L902.5,871.5 L904.0,871.5 L905.5,871.5 L907.0,871.5 L908.5,871.5 L910.0,871.5 L911.5,871.5 L913.0,871.5 L914.5,871.5 L916.0,871.5 L917.5,871.5 L919.0,871.5 L920.5,871.5 L922.0,871.5 L923.5,871.5 L925.0,871.5 L926.5,871.5 L928.0,871.5 L929.5,871.5 L931.0,871.5 L932.5,871.5 L934.0,871.5 L935.5,871.5 L937.0,871.5 L938.5,871.5 L940.0,871.5 L941.5,871.5 L943.0,871.5 L944.5,871.5 L946.0,871.5 L947.5,871.5 L949.0,871.5 L950.5,871.5 L952.0,871.5 L953.5,871.5 L955.0,871.5 L956.5,871.5 L958.0,871.5 L959.5,871.5 L961.0,871.5 L962.5,871.5 L964.0,871.5 L965.5,871.5 L967.0,871.5 L968.5,871.5 L970.0,871.5 L971.5,871.5 L973.0,871.5 L974.5,871.5 L976.0,871.5 L977.5,871.5 L979.0,871.5 L980.5,871.5 L982.0,871.5 L983.5,871.5 L985.0,871.5 L986.5,871.5 L988.0,871.5 L989.5,871.5 L991.0,871.5 L992.5,871.5 L994.0,871.5 L995.5,871.5 L997.0,871.5 L998.5,871.5 L1000.0,871.5 L1001.5,871.5 L1003.0,871.5 L1004.5,871.5 L1006.0,871.5 L1007.5,871.5 L1009.0,871.5 L1010.5,871.5 L1012.0,871.5 L1013.5,871.5 L1015.0,871.5 L1016.5,871.5 L1018.0,871.5 L1019.5,871.5 L1021.0,871.5 L1022.5,871.5 L1024.0,871.5 L1025.5,871.5 L1027.0,871.5 L1028.5,871.5 L1030.0,871.5 L1031.5,871.5 L1033.0,871.5 L1034.5,871.5 L1036.0,871.5 L1037.5,871.5 L1039.0,871.5 L1040.5,871.5 L1042.0,871.5 L1043.5,871.5 L1045.0,871.5 L1046.5,871.5 L1048.0,871.5 L1049.5,871.5 L1051.0,871.5 L1052.5,871.5 L1054.0,871.5 L1055.5,871.5 L1057.0,871.5 L1058.5,871.5 L1060.0,871.5 L1061.5,871.5 L1063.0,871.5 L1064.5,871.5 L1066.0,871.5 L1067.5,871.5 L1069.0,871.5 L1070.5,871.5 L1072.0,871.5 L1073.5,871.5 L1075.0,871.5 L1076.5,871.5 L1078.0,871.5 L1079.5,871.5 L1081.0,871.5 L1082.5,871.5 L1084.0,871.5 L1085.5,871.5 L1087.0,871.5 L1088.5,871.5 L1090.0,871.5 L1091.5,871.5 L1093.0,871.5 L1094.5,871.5 L1096.0,871.5 L1097.5,871.5 L1099.0,871.5 L1100.5,871.5 L1102.0,871.5 L1103.5,871.5 L1105.0,871.5 L1106.5,871.5 L1108.0,871.5 L1109.5,871.5 L1111.0,871.5 L1112.5,871.5 L1114.0,871.5 L1115.5,871.5 L1117.0,871.5 L1118.5,871.5 L1120.0,871.5 L1121.5,871.5 L1123.0,871.5 L1124.5,871.5 L1126.0,871.5 L1127.5,871.5 L1129.0,871.5 L1130.5,871.5 L1132.0,871.5 L1133.5,871.5 L1135.0,871.5 L1136.5,871.5 L1138.0,871.5 L1139.5,871.5 L1141.0,871.5 L1142.5,871.5 L1144.0,871.5 L1145.5,871.5 L1147.0,871.5 L1148.5,871.5 L1150.0,871.5 L1151.5,871.5 L1153.0,871.5 L1154.5,871.5 L1156.0,871.5 L1157.5,871.5 L1159.0,871.5 L1160.5,871.5 L1162.0,871.5 L1163.5,871.5 L1165.0,871.5 L1166.5,871.5 L1168.0,871.5 L1169.5,871.5 L1171.0,871.5 L1172.5,871.5 L1174.0,871.5 L1175.5,871.5 L1177.0,871.5 L1178.5,871.5 L1180.0,871.5 L1181.5,871.5 L1183.0,871.5 L1184.5,871.5 L1186.0,871.5 L1187.5,871.5 L1189.0,871.5 L1190.5,871.5 L1192.0,871.5 L1193.5,871.5 L1195.0,871.5 L1196.5,871.5 L1198.0,871.5 L1199.5,871.5 L1201.0,871.5 L1202.5,871.5 L1204.0,871.5 L1205.5,871.5 L1207.0,871.5 L1208.5,871.5 L1210.0,871.5 L1211.5,871.5 L1213.0,871.5 L1214.5,871.5 L1216.0,871.5 L1217.5,871.5 L1219.0,871.5 L1220.5,871.5 L1222.0,871.5 L1223.0,871.5" fill="none" stroke="#0000f5" stroke-width="4" stroke-linejoin="round"/>
<path d="M163.1,871.5 L164.6,871.5 L166.1,871.5 L167.6,871.5 L169.1,871.5 L170.6,871.5 L172.1,871.5 L173.6,871.5 L175.1,871.5 L176.6,871.5 L178.1,871.5 L179.6,871.5 L181.1,871.5 L182.6,871.5 L184.1,871.5 L185.6,871.5 L187.1,871.5 L188.6,871.5 L190.1,871.5 L191.6,871.5 L193.1,871.5 L194.6,871.5 L196.1,871.5 L197.6,871.5 L199.1,871.5 L200.6,871.5 L202.1,871.5 L203.6,871.5 L205.1,871.5 L206.6,871.5 L208.1,871.5 L209.6,871.5 L211.1,871.5 L212.6,871.5 L214.1,871.5 L215.6,871.5 L217.1,871.5 L218.6,871.5 L220.1,871.5 L221.6,871.5 L223.1,871.5 L224.6,871.5 L226.1,871.5 L227.6,871.5 L229.1,871.5 L230.6,871.5 L232.1,871.5 L233.6,871.5 L235.1,871.5 L236.6,871.5 L238.1,871.5 L239.6,871.4 L241.1,871.4 L242.6,871.4 L244.1,871.4 L245.6,871.4 L247.1,871.4 L248.6,871.3 L250.1,871.3 L251.6,871.3 L253.1,871.2 L254.6,871.2 L256.1,871.1 L257.6,871.1 L259.1,871.0 L260.6,870.9 L262.1,870.8 L263.6,870.7 L265.1,870.5 L266.6,870.4 L268.1,870.2 L269.6,870.0 L271.1,869.8 L272.6,869.5 L274.1,869.2 L275.6,868.8 L277.1,868.5 L278.6,868.0 L280.1,867.5 L281.6,867.0 L283.1,866.3 L284.6,865.6 L286.1,864.8 L287.6,864.0 L289.1,863.0 L290.6,861.9 L292.1,860.7 L293.6,859.4 L295.1,857.9 L296.6,856.3 L298.1,854.5 L299.6,852.6 L301.1,850.5 L302.6,848.1 L304.1,845.6 L305.6,842.9 L307.1,839.9 L308.6,836.7 L310.1,833.2 L311.6,829.5 L313.1,825.4 L314.6,821.1 L316.1,816.5 L317.6,811.6 L319.1,806.4 L320.6,800.8 L322.1,795.0 L323.6,788.7 L325.1,782.2 L326.6,775.3 L328.1,768.1 L329.6,760.6 L331.1,752.7 L332.6,744.5 L334.1,736.0 L335.6,727.2 L337.1,718.1 L338.6,708.8 L340.1,699.2 L341.6,689.4 L343.1,679.5 L344.6,669.3 L346.1,659.1 L347.6,648.7 L349.1,638.2 L350.6,627.8 L352.1,617.3 L353.6,606.9 L355.1,596.6 L356.6,586.5 L358.1,576.5 L359.6,566.7 L361.1,557.3 L362.6,548.1 L364.1,539.3 L365.6,531.0 L367.1,523.0 L368.6,515.6 L370.1,508.7 L371.6,502.3 L373.1,496.6 L374.6,491.5 L376.1,487.0 L377.6,483.3 L379.1,480.2 L380.6,477.9 L382.1,476.3 L383.6,475.5 L385.1,475.4 L386.6,476.0 L388.1,477.4 L389.6,479.5 L391.1,482.4 L392.6,486.0 L394.1,490.2 L395.6,495.2 L397.1,500.8 L398.6,506.9 L400.1,513.7 L401.6,521.0 L403.1,528.8 L404.6,537.1 L406.1,545.7 L407.6,554.8 L409.1,564.2 L410.6,573.9 L412.1,583.8 L413.6,593.9 L415.1,604.2 L416.6,614.5 L418.1,625.0 L419.6,635.4 L421.1,645.9 L422.6,656.3 L424.1,666.6 L425.6,676.8 L427.1,686.8 L428.6,696.6 L430.1,706.3 L431.6,715.7 L433.1,724.8 L434.6,733.7 L436.1,742.3 L437.6,750.5 L439.1,758.5 L440.6,766.1 L442.1,773.4 L443.6,780.4 L445.1,787.0 L446.6,793.3 L448.1,799.3 L449.6,804.9 L451.1,810.3 L452.6,815.2 L454.1,819.9 L455.6,824.3 L457.1,828.4 L458.6,832.2 L460.1,835.8 L461.6,839.1 L463.1,842.1 L464.6,844.9 L466.1,847.5 L467.6,849.9 L469.1,852.0 L470.6,854.0 L472.1,855.8 L473.6,857.5 L475.1,859.0 L476.6,860.4 L478.1,861.6 L479.6,862.7 L481.1,863.7 L482.6,864.6 L484.1,865.4 L485.6,866.1 L487.1,866.8 L488.6,867.4 L490.1,867.9 L491.6,868.3 L493.1,868.7 L494.6,869.1 L496.1,869.4 L497.6,869.7 L499.1,869.9 L500.6,870.1 L502.1,870.3 L503.6,870.5 L505.1,870.6 L506.6,870.8 L508.1,870.9 L509.6,871.0 L511.1,871.0 L512.5,871.1 L514.0,871.2 L515.5,871.2 L517.0,871.3 L518.5,871.3 L520.0,871.3 L521.5,871.4 L523.0,871.4 L524.5,871.4 L526.0,871.4 L527.5,871.4 L529.0,871.4 L530.5,871.5 L532.0,871.5 L533.5,871.5 L535.0,871.5 L536.5,871.5 L538.0,871.5 L539.5,871.5 L541.0,871.5 L542.5,871.5 L544.0,871.5 L545.5,871.5 L547.0,871.5 L548.5,871.5 L550.0,871.5 L551.5,871.5 L553.0,871.5 L554.5,871.5 L556.0,871.5 L557.5,871.5 L559.0,871.5 L560.5,871.5 L562.0,871.5 L563.5,871.5 L565.0,871.5 L566.5,871.5 L568.0,871.5 L569.5,871.5 L571.0,871.5 L572.5,871.5 L574.0,871.5 L575.5,871.5 L577.0,871.5 L578.5,871.5 L580.0,871.5 L581.5,871.5 L583.0,871.5 L584.5,871.5 L586.0,871.5 L587.5,871.5 L589.0,871.5 L590.5,871.5 L592.0,871.5 L593.5,871.5 L595.0,871.5 L596.5,871.5 L598.0,871.5 L599.5,871.5 L601.0,871.5 L602.5,871.5 L604.0,871.5 L605.5,871.5 L607.0,871.5 L608.5,871.5 L610.0,871.5 L611.5,871.5 L613.0,871.5 L614.5,871.5 L616.0,871.5 L617.5,871.5 L619.0,871.5 L620.5,871.5 L622.0,871.5 L623.5,871.5 L625.0,871.5 L626.5,871.5 L628.0,871.5 L629.5,871.5 L631.0,871.5 L632.5,871.5 L634.0,871.5 L635.5,871.5 L637.0,871.5 L638.5,871.5 L640.0,871.5 L641.5,871.5 L643.0,871.5 L644.5,871.5 L646.0,871.5 L647.5,871.5 L649.0,871.5 L650.5,871.5 L652.0,871.5 L653.5,871.5 L655.0,871.5 L656.5,871.5 L658.0,871.5 L659.5,871.5 L661.0,871.5 L662.5,871.5 L664.0,871.5 L665.5,871.5 L667.0,871.5 L668.5,871.5 L670.0,871.5 L671.5,871.5 L673.0,871.5 L674.5,871.5 L676.0,871.5 L677.5,871.5 L679.0,871.5 L680.5,871.5 L682.0,871.5 L683.5,871.5 L685.0,871.5 L686.5,871.5 L688.0,871.5 L689.5,871.5 L691.0,871.5 L692.5,871.5 L694.0,871.5 L695.5,871.5 L697.0,871.5 L698.5,871.5 L700.0,871.5 L701.5,871.5 L703.0,871.5 L704.5,871.5 L706.0,871.5 L707.5,871.5 L709.0,871.5 L710.5,871.5 L712.0,871.5 L713.5,871.5 L715.0,871.5 L716.5,871.5 L718.0,871.5 L719.5,871.5 L721.0,871.5 L722.5,871.5 L724.0,871.5 L725.5,871.5 L727.0,871.5 L728.5,871.5 L730.0,871.5 L731.5,871.5 L733.0,871.5 L734.5,871.5 L736.0,871.5 L737.5,871.5 L739.0,871.5 L740.5,871.5 L742.0,871.5 L743.5,871.5 L745.0,871.5 L746.5,871.5 L748.0,871.5 L749.5,871.5 L751.0,871.5 L752.5,871.5 L754.0,871.5 L755.5,871.5 L757.0,871.5 L758.5,871.5 L760.0,871.5 L761.5,871.5 L763.0,871.5 L764.5,871.5 L766.0,871.5 L767.5,871.5 L769.0,871.5 L770.5,871.5 L772.0,871.5 L773.5,871.5 L775.0,871.5 L776.5,871.5 L778.0,871.5 L779.5,871.5 L781.0,871.5 L782.5,871.5 L784.0,871.5 L785.5,871.5 L787.0,871.5 L788.5,871.5 L790.0,871.5 L791.5,871.5 L793.0,871.5 L794.5,871.5 L796.0,871.5 L797.5,871.5 L799.0,871.5 L800.5,871.5 L802.0,871.5 L803.5,871.5 L805.0,871.5 L806.5,871.5 L808.0,871.5 L809.5,871.5 L811.0,871.5 L812.5,871.5 L814.0,871.5 L815.5,871.5 L817.0,871.5 L818.5,871.5 L820.0,871.5 L821.5,871.5 L823.0,871.5 L824.5,871.5 L826.0,871.5 L827.5,871.5 L829.0,871.5 L830.5,871.5 L832.0,871.5 L833.5,871.5 L835.0,871.5 L836.5,871.5 L838.0,871.5 L839.5,871.5 L841.0,871.5 L842.5,871.5 L844.0,871.5 L845.5,871.5 L847.0,871.5 L848.5,871.5 L850.0,871.5 L851.5,871.5 L853.0,871.5 L854.5,871.5 L856.0,871.5 L857.5,871.5 L859.0,871.5 L860.5,871.5 L862.0,871.5 L863.5,871.5 L865.0,871.5 L866.5,871.5 L868.0,871.5 L869.5,871.5 L871.0,871.5 L872.5,871.5 L874.0,871.5 L875.5,871.5 L877.0,871.5 L878.5,871.5 L880.0,871.5 L881.5,871.5 L883.0,871.5 L884.5,871.5 L886.0,871.5 L887.5,871.5 L889.0,871.5 L890.5,871.5 L892.0,871.5 L893.5,871.5 L895.0,871.5 L896.5,871.5 L898.0,871.5 L899.5,871.5 L901.0,871.5 L902.5,871.5 L904.0,871.5 L905.5,871.5 L907.0,871.5 L908.5,871.5 L910.0,871.5 L911.5,871.5 L913.0,871.5 L914.5,871.5 L916.0,871.5 L917.5,871.5 L919.0,871.5 L920.5,871.5 L922.0,871.5 L923.5,871.5 L925.0,871.5 L926.5,871.5 L928.0,871.5 L929.5,871.5 L931.0,871.5 L932.5,871.5 L934.0,871.5 L935.5,871.5 L937.0,871.5 L938.5,871.5 L940.0,871.5 L941.5,871.5 L943.0,871.5 L944.5,871.5 L946.0,871.5 L947.5,871.5 L949.0,871.5 L950.5,871.5 L952.0,871.5 L953.5,871.5 L955.0,871.5 L956.5,871.5 L958.0,871.5 L959.5,871.5 L961.0,871.5 L962.5,871.5 L964.0,871.5 L965.5,871.5 L967.0,871.5 L968.5,871.5 L970.0,871.5 L971.5,871.5 L973.0,871.5 L974.5,871.5 L976.0,871.5 L977.5,871.5 L979.0,871.5 L980.5,871.5 L982.0,871.5 L983.5,871.5 L985.0,871.5 L986.5,871.5 L988.0,871.5 L989.5,871.5 L991.0,871.5 L992.5,871.5 L994.0,871.5 L995.5,871.5 L997.0,871.5 L998.5,871.5 L1000.0,871.5 L1001.5,871.5 L1003.0,871.5 L1004.5,871.5 L1006.0,871.5 L1007.5,871.5 L1009.0,871.5 L1010.5,871.5 L1012.0,871.5 L1013.5,871.5 L1015.0,871.5 L1016.5,871.5 L1018.0,871.5 L1019.5,871.5 L1021.0,871.5 L1022.5,871.5 L1024.0,871.5 L1025.5,871.5 L1027.0,871.5 L1028.5,871.5 L1030.0,871.5 L1031.5,871.5 L1033.0,871.5 L1034.5,871.5 L1036.0,871.5 L1037.5,871.5 L1039.0,871.5 L1040.5,871.5 L1042.0,871.5 L1043.5,871.5 L1045.0,871.5 L1046.5,871.5 L1048.0,871.5 L1049.5,871.5 L1051.0,871.5 L1052.5,871.5 L1054.0,871.5 L1055.5,871.5 L1057.0,871.5 L1058.5,871.5 L1060.0,871.5 L1061.5,871.5 L1063.0,871.5 L1064.5,871.5 L1066.0,871.5 L1067.5,871.5 L1069.0,871.5 L1070.5,871.5 L1072.0,871.5 L1073.5,871.5 L1075.0,871.5 L1076.5,871.5 L1078.0,871.5 L1079.5,871.5 L1081.0,871.5 L1082.5,871.5 L1084.0,871.5 L1085.5,871.5 L1087.0,871.5 L1088.5,871.5 L1090.0,871.5 L1091.5,871.5 L1093.0,871.5 L1094.5,871.5 L1096.0,871.5 L1097.5,871.5 L1099.0,871.5 L1100.5,871.5 L1102.0,871.5 L1103.5,871.5 L1105.0,871.5 L1106.5,871.5 L1108.0,871.5 L1109.5,871.5 L1111.0,871.5 L1112.5,871.5 L1114.0,871.5 L1115.5,871.5 L1117.0,871.5 L1118.5,871.5 L1120.0,871.5 L1121.5,871.5 L1123.0,871.5 L1124.5,871.5 L1126.0,871.5 L1127.5,871.5 L1129.0,871.5 L1130.5,871.5 L1132.0,871.5 L1133.5,871.5 L1135.0,871.5 L1136.5,871.5 L1138.0,871.5 L1139.5,871.5 L1141.0,871.5 L1142.5,871.5 L1144.0,871.5 L1145.5,871.5 L1147.0,871.5 L1148.5,871.5 L1150.0,871.5 L1151.5,871.5 L1153.0,871.5 L1154.5,871.5 L1156.0,871.5 L1157.5,871.5 L1159.0,871.5 L1160.5,871.5 L1162.0,871.5 L1163.5,871.5 L1165.0,871.5 L1166.5,871.5 L1168.0,871.5 L1169.5,871.5 L1171.0,871.5 L1172.5,871.5 L1174.0,871.5 L1175.5,871.5 L1177.0,871.5 L1178.5,871.5 L1180.0,871.5 L1181.5,871.5 L1183.0,871.5 L1184.5,871.5 L1186.0,871.5 L1187.5,871.5 L1189.0,871.5 L1190.5,871.5 L1192.0,871.5 L1193.5,871.5 L1195.0,871.5 L1196.5,871.5 L1198.0,871.5 L1199.5,871.5 L1201.0,871.5 L1202.5,871.5 L1204.0,871.5 L1205.5,871.5 L1207.0,871.5 L1208.5,871.5 L1210.0,871.5 L1211.5,871.5 L1213.0,871.5 L1214.5,871.5 L1216.0,871.5 L1217.5,871.5 L1219.0,871.5 L1220.5,871.5 L1222.0,871.5 L1223.0,871.5" fill="none" stroke="#ff00ff" stroke-width="4" stroke-linejoin="round"/>
<path d="M163.1,869.7 L164.6,869.6 L166.1,869.6 L167.6,869.5 L169.1,869.4 L170.6,869.3 L172.1,869.3 L173.6,869.2 L175.1,869.1 L176.6,869.0 L178.1,868.9 L179.6,868.8 L181.1,868.7 L182.6,868.6 L184.1,868.5 L185.6,868.4 L187.1,868.3 L188.6,868.2 L190.1,868.1 L191.6,867.9 L193.1,867.8 L194.6,867.7 L196.1,867.5 L197.6,867.4 L199.1,867.3 L200.6,867.1 L202.1,867.0 L203.6,866.8 L205.1,866.6 L206.6,866.5 L208.1,866.3 L209.6,866.1 L211.1,866.0 L212.6,865.8 L214.1,865.6 L215.6,865.4 L217.1,865.2 L218.6,865.0 L220.1,864.8 L221.6,864.6 L223.1,864.4 L224.6,864.1 L226.1,863.9 L227.6,863.7 L229.1,863.4 L230.6,863.2 L232.1,862.9 L233.6,862.7 L235.1,862.4 L236.6,862.1 L238.1,861.9 L239.6,861.6 L241.1,861.3 L242.6,861.0 L244.1,860.7 L245.6,860.4 L247.1,860.1 L248.6,859.7 L250.1,859.4 L251.6,859.1 L253.1,858.7 L254.6,858.4 L256.1,858.0 L257.6,857.6 L259.1,857.2 L260.6,856.9 L262.1,856.5 L263.6,856.1 L265.1,855.7 L266.6,855.3 L268.1,854.8 L269.6,854.4 L271.1,854.0 L272.6,853.5 L274.1,853.1 L275.6,852.6 L277.1,852.1 L278.6,851.7 L280.1,851.2 L281.6,850.7 L283.1,850.2 L284.6,849.7 L286.1,849.1 L287.6,848.6 L289.1,848.1 L290.6,847.5 L292.1,847.0 L293.6,846.4 L295.1,845.9 L296.6,845.3 L298.1,844.7 L299.6,844.1 L301.1,843.5 L302.6,842.9 L304.1,842.3 L305.6,841.7 L307.1,841.0 L308.6,840.4 L310.1,839.8 L311.6,839.1 L313.1,838.4 L314.6,837.8 L316.1,837.1 L317.6,836.4 L319.1,835.7 L320.6,835.0 L322.1,834.3 L323.6,833.6 L325.1,832.9 L326.6,832.2 L328.1,831.5 L329.6,830.7 L331.1,830.0 L332.6,829.2 L334.1,828.5 L335.6,827.7 L337.1,827.0 L338.6,826.2 L340.1,825.4 L341.6,824.6 L343.1,823.9 L344.6,823.1 L346.1,822.3 L347.6,821.5 L349.1,820.7 L350.6,819.9 L352.1,819.1 L353.6,818.3 L355.1,817.5 L356.6,816.7 L358.1,815.9 L359.6,815.0 L361.1,814.2 L362.6,813.4 L364.1,812.6 L365.6,811.8 L367.1,811.0 L368.6,810.1 L370.1,809.3 L371.6,808.5 L373.1,807.7 L374.6,806.9 L376.1,806.1 L377.6,805.3 L379.1,804.4 L380.6,803.6 L382.1,802.8 L383.6,802.0 L385.1,801.2 L386.6,800.4 L388.1,799.6 L389.6,798.9 L391.1,798.1 L392.6,797.3 L394.1,796.5 L395.6,795.8 L397.1,795.0 L398.6,794.3 L400.1,793.5 L401.6,792.8 L403.1,792.0 L404.6,791.3 L406.1,790.6 L407.6,789.9 L409.1,789.2 L410.6,788.5 L412.1,787.8 L413.6,787.2 L415.1,786.5 L416.6,785.9 L418.1,785.2 L419.6,784.6 L421.1,784.0 L422.6,783.4 L424.1,782.8 L425.6,782.2 L427.1,781.7 L428.6,781.1 L430.1,780.6 L431.6,780.0 L433.1,779.5 L434.6,779.0 L436.1,778.5 L437.6,778.1 L439.1,777.6 L440.6,777.2 L442.1,776.8 L443.6,776.3 L445.1,776.0 L446.6,775.6 L448.1,775.2 L449.6,774.9 L451.1,774.5 L452.6,774.2 L454.1,773.9 L455.6,773.7 L457.1,773.4 L458.6,773.2 L460.1,772.9 L461.6,772.7 L463.1,772.5 L464.6,772.4 L466.1,772.2 L467.6,772.1 L469.1,771.9 L470.6,771.8 L472.1,771.8 L473.6,771.7 L475.1,771.6 L476.6,771.6 L478.1,771.6 L479.6,771.6 L481.1,771.6 L482.6,771.7 L484.1,771.7 L485.6,771.8 L487.1,771.9 L488.6,772.0 L490.1,772.2 L491.6,772.3 L493.1,772.5 L494.6,772.7 L496.1,772.9 L497.6,773.1 L499.1,773.3 L500.6,773.6 L502.1,773.9 L503.6,774.2 L505.1,774.5 L506.6,774.8 L508.1,775.1 L509.6,775.5 L511.1,775.9 L512.5,776.3 L514.0,776.7 L515.5,777.1 L517.0,777.5 L518.5,778.0 L520.0,778.4 L521.5,778.9 L523.0,779.4 L524.5,779.9 L526.0,780.5 L527.5,781.0 L529.0,781.5 L530.5,782.1 L532.0,782.7 L533.5,783.3 L535.0,783.9 L536.5,784.5 L538.0,785.1 L539.5,785.7 L541.0,786.4 L542.5,787.0 L544.0,787.7 L545.5,788.4 L547.0,789.1 L548.5,789.8 L550.0,790.5 L551.5,791.2 L553.0,791.9 L554.5,792.6 L556.0,793.4 L557.5,794.1 L559.0,794.9 L560.5,795.6 L562.0,796.4 L563.5,797.1 L565.0,797.9 L566.5,798.7 L568.0,799.5 L569.5,800.3 L571.0,801.1 L572.5,801.9 L574.0,802.7 L575.5,803.5 L577.0,804.3 L578.5,805.1 L580.0,805.9 L581.5,806.7 L583.0,807.5 L584.5,808.3 L586.0,809.2 L587.5,810.0 L589.0,810.8 L590.5,811.6 L592.0,812.4 L593.5,813.3 L595.0,814.1 L596.5,814.9 L598.0,815.7 L599.5,816.5 L601.0,817.3 L602.5,818.1 L604.0,818.9 L605.5,819.7 L607.0,820.5 L608.5,821.3 L610.0,822.1 L611.5,822.9 L613.0,823.7 L614.5,824.5 L616.0,825.3 L617.5,826.0 L619.0,826.8 L620.5,827.6 L622.0,828.3 L623.5,829.1 L625.0,829.8 L626.5,830.6 L628.0,831.3 L629.5,832.0 L631.0,832.8 L632.5,833.5 L634.0,834.2 L635.5,834.9 L637.0,835.6 L638.5,836.3 L640.0,837.0 L641.5,837.6 L643.0,838.3 L644.5,839.0 L646.0,839.6 L647.5,840.3 L649.0,840.9 L650.5,841.5 L652.0,842.2 L653.5,842.8 L655.0,843.4 L656.5,844.0 L658.0,844.6 L659.5,845.2 L661.0,845.7 L662.5,846.3 L664.0,846.9 L665.5,847.4 L667.0,848.0 L668.5,848.5 L670.0,849.0 L671.5,849.6 L673.0,850.1 L674.5,850.6 L676.0,851.1 L677.5,851.6 L679.0,852.0 L680.5,852.5 L682.0,853.0 L683.5,853.4 L685.0,853.9 L686.5,854.3 L688.0,854.7 L689.5,855.2 L691.0,855.6 L692.5,856.0 L694.0,856.4 L695.5,856.8 L697.0,857.2 L698.5,857.5 L700.0,857.9 L701.5,858.3 L703.0,858.6 L704.5,859.0 L706.0,859.3 L707.5,859.7 L709.0,860.0 L710.5,860.3 L712.0,860.6 L713.5,860.9 L715.0,861.2 L716.5,861.5 L718.0,861.8 L719.5,862.1 L721.0,862.4 L722.5,862.6 L724.0,862.9 L725.5,863.1 L727.0,863.4 L728.5,863.6 L730.0,863.9 L731.5,864.1 L733.0,864.3 L734.5,864.5 L736.0,864.8 L737.5,865.0 L739.0,865.2 L740.5,865.4 L742.0,865.6 L743.5,865.7 L745.0,865.9 L746.5,866.1 L748.0,866.3 L749.5,866.5 L751.0,866.6 L752.5,866.8 L754.0,866.9 L755.5,867.1 L757.0,867.2 L758.5,867.4 L760.0,867.5 L761.5,867.6 L763.0,867.8 L764.5,867.9 L766.0,868.0 L767.5,868.1 L769.0,868.3 L770.5,868.4 L772.0,868.5 L773.5,868.6 L775.0,868.7 L776.5,868.8 L778.0,868.9 L779.5,869.0 L781.0,869.1 L782.5,869.2 L784.0,869.2 L785.5,869.3 L787.0,869.4 L788.5,869.5 L790.0,869.6 L791.5,869.6 L793.0,869.7 L794.5,869.8 L796.0,869.8 L797.5,869.9 L799.0,870.0 L800.5,870.0 L802.0,870.1 L803.5,870.1 L805.0,870.2 L806.5,870.2 L808.0,870.3 L809.5,870.3 L811.0,870.4 L812.5,870.4 L814.0,870.5 L815.5,870.5 L817.0,870.5 L818.5,870.6 L820.0,870.6 L821.5,870.7 L823.0,870.7 L824.5,870.7 L826.0,870.8 L827.5,870.8 L829.0,870.8 L830.5,870.8 L832.0,870.9 L833.5,870.9 L835.0,870.9 L836.5,871.0 L838.0,871.0 L839.5,871.0 L841.0,871.0 L842.5,871.0 L844.0,871.1 L845.5,871.1 L847.0,871.1 L848.5,871.1 L850.0,871.1 L851.5,871.1 L853.0,871.2 L854.5,871.2 L856.0,871.2 L857.5,871.2 L859.0,871.2 L860.5,871.2 L862.0,871.2 L863.5,871.3 L865.0,871.3 L866.5,871.3 L868.0,871.3 L869.5,871.3 L871.0,871.3 L872.5,871.3 L874.0,871.3 L875.5,871.3 L877.0,871.3 L878.5,871.3 L880.0,871.4 L881.5,871.4 L883.0,871.4 L884.5,871.4 L886.0,871.4 L887.5,871.4 L889.0,871.4 L890.5,871.4 L892.0,871.4 L893.5,871.4 L895.0,871.4 L896.5,871.4 L898.0,871.4 L899.5,871.4 L901.0,871.4 L902.5,871.4 L904.0,871.4 L905.5,871.4 L907.0,871.4 L908.5,871.4 L910.0,871.4 L911.5,871.5 L913.0,871.5 L914.5,871.5 L916.0,871.5 L917.5,871.5 L919.0,871.5 L920.5,871.5 L922.0,871.5 L923.5,871.5 L925.0,871.5 L926.5,871.5 L928.0,871.5 L929.5,871.5 L931.0,871.5 L932.5,871.5 L934.0,871.5 L935.5,871.5 L937.0,871.5 L938.5,871.5 L940.0,871.5 L941.5,871.5 L943.0,871.5 L944.5,871.5 L946.0,871.5 L947.5,871.5 L949.0,871.5 L950.5,871.5 L952.0,871.5 L953.5,871.5 L955.0,871.5 L956.5,871.5 L958.0,871.5 L959.5,871.5 L961.0,871.5 L962.5,871.5 L964.0,871.5 L965.5,871.5 L967.0,871.5 L968.5,871.5 L970.0,871.5 L971.5,871.5 L973.0,871.5 L974.5,871.5 L976.0,871.5 L977.5,871.5 L979.0,871.5 L980.5,871.5 L982.0,871.5 L983.5,871.5 L985.0,871.5 L986.5,871.5 L988.0,871.5 L989.5,871.5 L991.0,871.5 L992.5,871.5 L994.0,871.5 L995.5,871.5 L997.0,871.5 L998.5,871.5 L1000.0,871.5 L1001.5,871.5 L1003.0,871.5 L1004.5,871.5 L1006.0,871.5 L1007.5,871.5 L1009.0,871.5 L1010.5,871.5 L1012.0,871.5 L1013.5,871.5 L1015.0,871.5 L1016.5,871.5 L1018.0,871.5 L1019.5,871.5 L1021.0,871.5 L1022.5,871.5 L1024.0,871.5 L1025.5,871.5 L1027.0,871.5 L1028.5,871.5 L1030.0,871.5 L1031.5,871.5 L1033.0,871.5 L1034.5,871.5 L1036.0,871.5 L1037.5,871.5 L1039.0,871.5 L1040.5,871.5 L1042.0,871.5 L1043.5,871.5 L1045.0,871.5 L1046.5,871.5 L1048.0,871.5 L1049.5,871.5 L1051.0,871.5 L1052.5,871.5 L1054.0,871.5 L1055.5,871.5 L1057.0,871.5 L1058.5,871.5 L1060.0,871.5 L1061.5,871.5 L1063.0,871.5 L1064.5,871.5 L1066.0,871.5 L1067.5,871.5 L1069.0,871.5 L1070.5,871.5 L1072.0,871.5 L1073.5,871.5 L1075.0,871.5 L1076.5,871.5 L1078.0,871.5 L1079.5,871.5 L1081.0,871.5 L1082.5,871.5 L1084.0,871.5 L1085.5,871.5 L1087.0,871.5 L1088.5,871.5 L1090.0,871.5 L1091.5,871.5 L1093.0,871.5 L1094.5,871.5 L1096.0,871.5 L1097.5,871.5 L1099.0,871.5 L1100.5,871.5 L1102.0,871.5 L1103.5,871.5 L1105.0,871.5 L1106.5,871.5 L1108.0,871.5 L1109.5,871.5 L1111.0,871.5 L1112.5,871.5 L1114.0,871.5 L1115.5,871.5 L1117.0,871.5 L1118.5,871.5 L1120.0,871.5 L1121.5,871.5 L1123.0,871.5 L1124.5,871.5 L1126.0,871.5 L1127.5,871.5 L1129.0,871.5 L1130.5,871.5 L1132.0,871.5 L1133.5,871.5 L1135.0,871.5 L1136.5,871.5 L1138.0,871.5 L1139.5,871.5 L1141.0,871.5 L1142.5,871.5 L1144.0,871.5 L1145.5,871.5 L1147.0,871.5 L1148.5,871.5 L1150.0,871.5 L1151.5,871.5 L1153.0,871.5 L1154.5,871.5 L1156.0,871.5 L1157.5,871.5 L1159.0,871.5 L1160.5,871.5 L1162.0,871.5 L1163.5,871.5 L1165.0,871.5 L1166.5,871.5 L1168.0,871.5 L1169.5,871.5 L1171.0,871.5 L1172.5,871.5 L1174.0,871.5 L1175.5,871.5 L1177.0,871.5 L1178.5,871.5 L1180.0,871.5 L1181.5,871.5 L1183.0,871.5 L1184.5,871.5 L1186.0,871.5 L1187.5,871.5 L1189.0,871.5 L1190.5,871.5 L1192.0,871.5 L1193.5,871.5 L1195.0,871.5 L1196.5,871.5 L1198.0,871.5 L1199.5,871.5 L1201.0,871.5 L1202.5,871.5 L1204.0,871.5 L1205.5,871.5 L1207.0,871.5 L1208.5,871.5 L1210.0,871.5 L1211.5,871.5 L1213.0,871.5 L1214.5,871.5 L1216.0,871.5 L1217.5,871.5 L1219.0,871.5 L1220.5,871.5 L1222.0,871.5 L1223.0,871.5" fill="none" stroke="#00ffff" stroke-width="4" stroke-linejoin="round"/>
<path d="M163.1,871.5 L164.6,871.5 L166.1,871.5 L167.6,871.5 L169.1,871.5 L170.6,871.5 L172.1,871.5 L173.6,871.5 L175.1,871.5 L176.6,871.5 L178.1,871.5 L179.6,871.5 L181.1,871.5 L182.6,871.5 L184.1,871.5 L185.6,871.5 L187.1,871.5 L188.6,871.5 L190.1,871.5 L191.6,871.5 L193.1,871.5 L194.6,871.5 L196.1,871.5 L197.6,871.5 L199.1,871.5 L200.6,871.5 L202.1,871.5 L203.6,871.5 L205.1,871.5 L206.6,871.5 L208.1,871.5 L209.6,871.5 L211.1,871.5 L212.6,871.5 L214.1,871.5 L215.6,871.5 L217.1,871.5 L218.6,871.5 L220.1,871.5 L221.6,871.5 L223.1,871.5 L224.6,871.5 L226.1,871.5 L227.6,871.5 L229.1,871.5 L230.6,871.5 L232.1,871.5 L233.6,871.5 L235.1,871.5 L236.6,871.5 L238.1,871.5 L239.6,871.5 L241.1,871.5 L242.6,871.5 L244.1,871.5 L245.6,871.5 L247.1,871.5 L248.6,871.5 L250.1,871.5 L251.6,871.5 L253.1,871.5 L254.6,871.5 L256.1,871.5 L257.6,871.5 L259.1,871.5 L260.6,871.5 L262.1,871.5 L263.6,871.5 L265.1,871.5 L266.6,871.5 L268.1,871.5 L269.6,871.5 L271.1,871.5 L272.6,871.5 L274.1,871.5 L275.6,871.5 L277.1,871.5 L278.6,871.5 L280.1,871.5 L281.6,871.5 L283.1,871.5 L284.6,871.5 L286.1,871.5 L287.6,871.5 L289.1,871.5 L290.6,871.5 L292.1,871.5 L293.6,871.5 L295.1,871.5 L296.6,871.5 L298.1,871.5 L299.6,871.5 L301.1,871.5 L302.6,871.5 L304.1,871.5 L305.6,871.5 L307.1,871.5 L308.6,871.5 L310.1,871.5 L311.6,871.5 L313.1,871.5 L314.6,871.5 L316.1,871.5 L317.6,871.5 L319.1,871.5 L320.6,871.5 L322.1,871.5 L323.6,871.5 L325.1,871.5 L326.6,871.5 L328.1,871.5 L329.6,871.5 L331.1,871.5 L332.6,871.5 L334.1,871.5 L335.6,871.5 L337.1,871.5 L338.6,871.5 L340.1,871.5 L341.6,871.5 L343.1,871.5 L344.6,871.5 L346.1,871.5 L347.6,871.5 L349.1,871.5 L350.6,871.5 L352.1,871.5 L353.6,871.5 L355.1,871.5 L356.6,871.5 L358.1,871.5 L359.6,871.5 L361.1,871.5 L362.6,871.5 L364.1,871.5 L365.6,871.5 L367.1,871.5 L368.6,871.5 L370.1,871.5 L371.6,871.5 L373.1,871.5 L374.6,871.5 L376.1,871.5 L377.6,871.5 L379.1,871.5 L380.6,871.5 L382.1,871.5 L383.6,871.5 L385.1,871.5 L386.6,871.5 L388.1,871.5 L389.6,871.5 L391.1,871.5 L392.6,871.5 L394.1,871.5 L395.6,871.5 L397.1,871.5 L398.6,871.5 L400.1,871.5 L401.6,871.5 L403.1,871.5 L404.6,871.5 L406.1,871.5 L407.6,871.5 L409.1,871.5 L410.6,871.5 L412.1,871.5 L413.6,871.5 L415.1,871.5 L416.6,871.5 L418.1,871.5 L419.6,871.5 L421.1,871.5 L422.6,871.5 L424.1,871.5 L425.6,871.5 L427.1,871.5 L428.6,871.5 L430.1,871.5 L431.6,871.5 L433.1,871.5 L434.6,871.5 L436.1,871.5 L437.6,871.5 L439.1,871.5 L440.6,871.5 L442.1,871.5 L443.6,871.5 L445.1,871.5 L446.6,871.5 L448.1,871.5 L449.6,871.5 L451.1,871.5 L452.6,871.5 L454.1,871.5 L455.6,871.5 L457.1,871.5 L458.6,871.5 L460.1,871.5 L461.6,871.5 L463.1,871.5 L464.6,871.5 L466.1,871.5 L467.6,871.5 L469.1,871.5 L470.6,871.5 L472.1,871.5 L473.6,871.5 L475.1,871.5 L476.6,871.5 L478.1,871.5 L479.6,871.5 L481.1,871.5 L482.6,871.5 L484.1,871.5 L485.6,871.5 L487.1,871.5 L488.6,871.5 L490.1,871.5 L491.6,871.5 L493.1,871.5 L494.6,871.5 L496.1,871.5 L497.6,871.5 L499.1,871.5 L500.6,871.5 L502.1,871.5 L503.6,871.5 L505.1,871.5 L506.6,871.5 L508.1,871.5 L509.6,871.5 L511.1,871.5 L512.5,871.5 L514.0,871.5 L515.5,871.5 L517.0,871.5 L518.5,871.5 L520.0,871.5 L521.5,871.5 L523.0,871.5 L524.5,871.5 L526.0,871.5 L527.5,871.5 L529.0,871.5 L530.5,871.5 L532.0,871.5 L533.5,871.5 L535.0,871.5 L536.5,871.5 L538.0,871.5 L539.5,871.5 L541.0,871.5 L542.5,871.5 L544.0,871.5 L545.5,871.5 L547.0,871.5 L548.5,871.5 L550.0,871.5 L551.5,871.5 L553.0,871.5 L554.5,871.5 L556.0,871.5 L557.5,871.5 L559.0,871.5 L560.5,871.5 L562.0,871.5 L563.5,871.5 L565.0,871.5 L566.5,871.5 L568.0,871.5 L569.5,871.5 L571.0,871.5 L572.5,871.5 L574.0,871.5 L575.5,871.5 L577.0,871.5 L578.5,871.5 L580.0,871.5 L581.5,871.5 L583.0,871.5 L584.5,871.5 L586.0,871.5 L587.5,871.5 L589.0,871.5 L590.5,871.5 L592.0,871.5 L593.5,871.5 L595.0,871.5 L596.5,871.5 L598.0,871.5 L599.5,871.5 L601.0,871.5 L602.5,871.5 L604.0,871.5 L605.5,871.5 L607.0,871.5 L608.5,871.5 L610.0,871.5 L611.5,871.5 L613.0,871.5 L614.5,871.5 L616.0,871.5 L617.5,871.5 L619.0,871.5 L620.5,871.5 L622.0,871.5 L623.5,871.5 L625.0,871.5 L626.5,871.5 L628.0,871.5 L629.5,871.5 L631.0,871.5 L632.5,871.5 L634.0,871.5 L635.5,871.5 L637.0,871.5 L638.5,871.5 L640.0,871.5 L641.5,871.5 L643.0,871.5 L644.5,871.5 L646.0,871.5 L647.5,871.5 L649.0,871.5 L650.5,871.5 L652.0,871.5 L653.5,871.5 L655.0,871.5 L656.5,871.5 L658.0,871.5 L659.5,871.5 L661.0,871.5 L662.5,871.5 L664.0,871.5 L665.5,871.5 L667.0,871.5 L668.5,871.5 L670.0,871.5 L671.5,871.5 L673.0,871.5 L674.5,871.5 L676.0,871.5 L677.5,871.5 L679.0,871.5 L680.5,871.5 L682.0,871.5 L683.5,871.4 L685.0,871.4 L686.5,871.4 L688.0,871.3 L689.5,871.3 L691.0,871.2 L692.5,871.1 L694.0,871.0 L695.5,870.8 L697.0,870.6 L698.5,870.4 L700.0,870.0 L701.5,869.6 L703.0,869.1 L704.5,868.5 L706.0,867.7 L707.5,866.8 L709.0,865.7 L710.5,864.3 L712.0,862.7 L713.5,860.8 L715.0,858.6 L716.5,856.0 L718.0,853.1 L719.5,849.7 L721.0,845.9 L722.5,841.5 L724.0,836.7 L725.5,831.4 L727.0,825.6 L728.5,819.2 L730.0,812.4 L731.5,805.1 L733.0,797.5 L734.5,789.4 L736.0,781.2 L737.5,772.7 L739.0,764.1 L740.5,755.6 L742.0,747.2 L743.5,739.1 L745.0,731.3 L746.5,724.1 L748.0,717.6 L749.5,711.8 L751.0,706.9 L752.5,702.9 L754.0,700.0 L755.5,698.2 L757.0,697.5 L758.5,698.0 L760.0,699.6 L761.5,702.3 L763.0,706.0 L764.5,710.7 L766.0,716.4 L767.5,722.8 L769.0,729.9 L770.5,737.5 L772.0,745.5 L773.5,753.9 L775.0,762.4 L776.5,771.0 L778.0,779.5 L779.5,787.8 L781.0,795.9 L782.5,803.6 L784.0,811.0 L785.5,817.9 L787.0,824.3 L788.5,830.3 L790.0,835.7 L791.5,840.6 L793.0,845.0 L794.5,849.0 L796.0,852.4 L797.5,855.5 L799.0,858.1 L800.5,860.4 L802.0,862.4 L803.5,864.0 L805.0,865.4 L806.5,866.6 L808.0,867.6 L809.5,868.4 L811.0,869.0 L812.5,869.5 L814.0,870.0 L815.5,870.3 L817.0,870.6 L818.5,870.8 L820.0,871.0 L821.5,871.1 L823.0,871.2 L824.5,871.3 L826.0,871.3 L827.5,871.4 L829.0,871.4 L830.5,871.4 L832.0,871.5 L833.5,871.5 L835.0,871.5 L836.5,871.5 L838.0,871.5 L839.5,871.5 L841.0,871.5 L842.5,871.5 L844.0,871.5 L845.5,871.5 L847.0,871.5 L848.5,871.5 L850.0,871.5 L851.5,871.5 L853.0,871.5 L854.5,871.5 L856.0,871.5 L857.5,871.5 L859.0,871.5 L860.5,871.5 L862.0,871.5 L863.5,871.5 L865.0,871.5 L866.5,871.5 L868.0,871.5 L869.5,871.5 L871.0,871.5 L872.5,871.5 L874.0,871.5 L875.5,871.5 L877.0,871.5 L878.5,871.5 L880.0,871.5 L881.5,871.5 L883.0,871.5 L884.5,871.5 L886.0,871.5 L887.5,871.5 L889.0,871.5 L890.5,871.5 L892.0,871.5 L893.5,871.5 L895.0,871.5 L896.5,871.5 L898.0,871.5 L899.5,871.5 L901.0,871.5 L902.5,871.5 L904.0,871.5 L905.5,871.5 L907.0,871.5 L908.5,871.5 L910.0,871.5 L911.5,871.5 L913.0,871.5 L914.5,871.5 L916.0,871.5 L917.5,871.5 L919.0,871.5 L920.5,871.5 L922.0,871.5 L923.5,871.5 L925.0,871.5 L926.5,871.5 L928.0,871.5 L929.5,871.5 L931.0,871.5 L932.5,871.5 L934.0,871.5 L935.5,871.5 L937.0,871.5 L938.5,871.5 L940.0,871.5 L941.5,871.5 L943.0,871.5 L944.5,871.5 L946.0,871.5 L947.5,871.5 L949.0,871.5 L950.5,871.5 L952.0,871.5 L953.5,871.5 L955.0,871.5 L956.5,871.5 L958.0,871.5 L959.5,871.5 L961.0,871.5 L962.5,871.5 L964.0,871.5 L965.5,871.5 L967.0,871.5 L968.5,871.5 L970.0,871.5 L971.5,871.5 L973.0,871.5 L974.5,871.5 L976.0,871.5 L977.5,871.5 L979.0,871.5 L980.5,871.5 L982.0,871.5 L983.5,871.5 L985.0,871.5 L986.5,871.5 L988.0,871.5 L989.5,871.5 L991.0,871.5 L992.5,871.5 L994.0,871.5 L995.5,871.5 L997.0,871.5 L998.5,871.5 L1000.0,871.5 L1001.5,871.5 L1003.0,871.5 L1004.5,871.5 L1006.0,871.5 L1007.5,871.5 L1009.0,871.5 L1010.5,871.5 L1012.0,871.5 L1013.5,871.5 L1015.0,871.5 L1016.5,871.5 L1018.0,871.5 L1019.5,871.5 L1021.0,871.5 L1022.5,871.5 L1024.0,871.5 L1025.5,871.5 L1027.0,871.5 L1028.5,871.5 L1030.0,871.5 L1031.5,871.5 L1033.0,871.5 L1034.5,871.5 L1036.0,871.5 L1037.5,871.5 L1039.0,871.5 L1040.5,871.5 L1042.0,871.5 L1043.5,871.5 L1045.0,871.5 L1046.5,871.5 L1048.0,871.5 L1049.5,871.5 L1051.0,871.5 L1052.5,871.5 L1054.0,871.5 L1055.5,871.5 L1057.0,871.5 L1058.5,871.5 L1060.0,871.5 L1061.5,871.5 L1063.0,871.5 L1064.5,871.5 L1066.0,871.5 L1067.5,871.5 L1069.0,871.5 L1070.5,871.5 L1072.0,871.5 L1073.5,871.5 L1075.0,871.5 L1076.5,871.5 L1078.0,871.5 L1079.5,871.5 L1081.0,871.5 L1082.5,871.5 L1084.0,871.5 L1085.5,871.5 L1087.0,871.5 L1088.5,871.5 L1090.0,871.5 L1091.5,871.5 L1093.0,871.5 L1094.5,871.5 L1096.0,871.5 L1097.5,871.5 L1099.0,871.5 L1100.5,871.5 L1102.0,871.5 L1103.5,871.5 L1105.0,871.5 L1106.5,871.5 L1108.0,871.5 L1109.5,871.5 L1111.0,871.5 L1112.5,871.5 L1114.0,871.5 L1115.5,871.5 L1117.0,871.5 L1118.5,871.5 L1120.0,871.5 L1121.5,871.5 L1123.0,871.5 L1124.5,871.5 L1126.0,871.5 L1127.5,871.5 L1129.0,871.5 L1130.5,871.5 L1132.0,871.5 L1133.5,871.5 L1135.0,871.5 L1136.5,871.5 L1138.0,871.5 L1139.5,871.5 L1141.0,871.5 L1142.5,871.5 L1144.0,871.5 L1145.5,871.5 L1147.0,871.5 L1148.5,871.5 L1150.0,871.5 L1151.5,871.5 L1153.0,871.5 L1154.5,871.5 L1156.0,871.5 L1157.5,871.5 L1159.0,871.5 L1160.5,871.5 L1162.0,871.5 L1163.5,871.5 L1165.0,871.5 L1166.5,871.5 L1168.0,871.5 L1169.5,871.5 L1171.0,871.5 L1172.5,871.5 L1174.0,871.5 L1175.5,871.5 L1177.0,871.5 L1178.5,871.5 L1180.0,871.5 L1181.5,871.5 L1183.0,871.5 L1184.5,871.5 L1186.0,871.5 L1187.5,871.5 L1189.0,871.5 L1190.5,871.5 L1192.0,871.5 L1193.5,871.5 L1195.0,871.5 L1196.5,871.5 L1198.0,871.5 L1199.5,871.5 L1201.0,871.5 L1202.5,871.5 L1204.0,871.5 L1205.5,871.5 L1207.0,871.5 L1208.5,871.5 L1210.0,871.5 L1211.5,871.5 L1213.0,871.5 L1214.5,871.5 L1216.0,871.5 L1217.5,871.5 L1219.0,871.5 L1220.5,871.5 L1222.0,871.5 L1223.0,871.5" fill="none" stroke="#007300" stroke-width="4" stroke-linejoin="round"/>
<path d="M163.1,871.5 L164.6,871.5 L166.1,871.5 L167.6,871.5 L169.1,871.5 L170.6,871.5 L172.1,871.5 L173.6,871.5 L175.1,871.5 L176.6,871.5 L178.1,871.5 L179.6,871.5 L181.1,871.5 L182.6,871.5 L184.1,871.5 L185.6,871.5 L187.1,871.5 L188.6,871.5 L190.1,871.5 L191.6,871.5 L193.1,871.5 L194.6,871.5 L196.1,871.5 L197.6,871.5 L199.1,871.5 L200.6,871.5 L202.1,871.5 L203.6,871.5 L205.1,871.5 L206.6,871.5 L208.1,871.5 L209.6,871.5 L211.1,871.5 L212.6,871.5 L214.1,871.5 L215.6,871.5 L217.1,871.5 L218.6,871.5 L220.1,871.5 L221.6,871.5 L223.1,871.5 L224.6,871.5 L226.1,871.5 L227.6,871.5 L229.1,871.5 L230.6,871.5 L232.1,871.5 L233.6,871.5 L235.1,871.5 L236.6,871.5 L238.1,871.5 L239.6,871.5 L241.1,871.5 L242.6,871.5 L244.1,871.5 L245.6,871.5 L247.1,871.5 L248.6,871.5 L250.1,871.5 L251.6,871.5 L253.1,871.5 L254.6,871.5 L256.1,871.5 L257.6,871.5 L259.1,871.5 L260.6,871.5 L262.1,871.5 L263.6,871.5 L265.1,871.5 L266.6,871.5 L268.1,871.5 L269.6,871.5 L271.1,871.5 L272.6,871.5 L274.1,871.5 L275.6,871.5 L277.1,871.5 L278.6,871.5 L280.1,871.5 L281.6,871.5 L283.1,871.5 L284.6,871.5 L286.1,871.5 L287.6,871.5 L289.1,871.5 L290.6,871.5 L292.1,871.5 L293.6,871.5 L295.1,871.5 L296.6,871.5 L298.1,871.5 L299.6,871.5 L301.1,871.5 L302.6,871.5 L304.1,871.5 L305.6,871.5 L307.1,871.5 L308.6,871.5 L310.1,871.5 L311.6,871.5 L313.1,871.5 L314.6,871.5 L316.1,871.5 L317.6,871.5 L319.1,871.5 L320.6,871.5 L322.1,871.5 L323.6,871.5 L325.1,871.5 L326.6,871.5 L328.1,871.5 L329.6,871.5 L331.1,871.5 L332.6,871.5 L334.1,871.5 L335.6,871.5 L337.1,871.5 L338.6,871.5 L340.1,871.5 L341.6,871.5 L343.1,871.5 L344.6,871.5 L346.1,871.5 L347.6,871.5 L349.1,871.5 L350.6,871.5 L352.1,871.5 L353.6,871.5 L355.1,871.5 L356.6,871.5 L358.1,871.5 L359.6,871.5 L361.1,871.5 L362.6,871.5 L364.1,871.5 L365.6,871.5 L367.1,871.5 L368.6,871.5 L370.1,871.5 L371.6,871.5 L373.1,871.5 L374.6,871.5 L376.1,871.5 L377.6,871.5 L379.1,871.5 L380.6,871.5 L382.1,871.5 L383.6,871.5 L385.1,871.5 L386.6,871.5 L388.1,871.5 L389.6,871.5 L391.1,871.5 L392.6,871.5 L394.1,871.5 L395.6,871.5 L397.1,871.5 L398.6,871.5 L400.1,871.5 L401.6,871.5 L403.1,871.5 L404.6,871.5 L406.1,871.5 L407.6,871.5 L409.1,871.5 L410.6,871.5 L412.1,871.5 L413.6,871.5 L415.1,871.5 L416.6,871.5 L418.1,871.5 L419.6,871.5 L421.1,871.5 L422.6,871.5 L424.1,871.5 L425.6,871.5 L427.1,871.5 L428.6,871.5 L430.1,871.5 L431.6,871.5 L433.1,871.5 L434.6,871.5 L436.1,871.5 L437.6,871.5 L439.1,871.5 L440.6,871.5 L442.1,871.5 L443.6,871.5 L445.1,871.5 L446.6,871.5 L448.1,871.5 L449.6,871.5 L451.1,871.5 L452.6,871.5 L454.1,871.5 L455.6,871.5 L457.1,871.5 L458.6,871.5 L460.1,871.5 L461.6,871.5 L463.1,871.5 L464.6,871.5 L466.1,871.5 L467.6,871.5 L469.1,871.5 L470.6,871.5 L472.1,871.5 L473.6,871.5 L475.1,871.5 L476.6,871.5 L478.1,871.5 L479.6,871.5 L481.1,871.5 L482.6,871.5 L484.1,871.5 L485.6,871.5 L487.1,871.5 L488.6,871.5 L490.1,871.5 L491.6,871.5 L493.1,871.5 L494.6,871.5 L496.1,871.5 L497.6,871.5 L499.1,871.5 L500.6,871.5 L502.1,871.5 L503.6,871.5 L505.1,871.5 L506.6,871.5 L508.1,871.5 L509.6,871.5 L511.1,871.5 L512.5,871.5 L514.0,871.5 L515.5,871.5 L517.0,871.5 L518.5,871.5 L520.0,871.5 L521.5,871.5 L523.0,871.5 L524.5,871.5 L526.0,871.5 L527.5,871.5 L529.0,871.5 L530.5,871.5 L532.0,871.5 L533.5,871.5 L535.0,871.5 L536.5,871.5 L538.0,871.5 L539.5,871.5 L541.0,871.5 L542.5,871.5 L544.0,871.5 L545.5,871.5 L547.0,871.5 L548.5,871.5 L550.0,871.5 L551.5,871.5 L553.0,871.5 L554.5,871.5 L556.0,871.5 L557.5,871.5 L559.0,871.5 L560.5,871.5 L562.0,871.5 L563.5,871.5 L565.0,871.5 L566.5,871.5 L568.0,871.5 L569.5,871.5 L571.0,871.5 L572.5,871.5 L574.0,871.5 L575.5,871.5 L577.0,871.5 L578.5,871.5 L580.0,871.5 L581.5,871.5 L583.0,871.5 L584.5,871.5 L586.0,871.5 L587.5,871.5 L589.0,871.5 L590.5,871.5 L592.0,871.5 L593.5,871.5 L595.0,871.5 L596.5,871.5 L598.0,871.5 L599.5,871.5 L601.0,871.5 L602.5,871.5 L604.0,871.5 L605.5,871.5 L607.0,871.5 L608.5,871.5 L610.0,871.5 L611.5,871.5 L613.0,871.5 L614.5,871.5 L616.0,871.5 L617.5,871.5 L619.0,871.5 L620.5,871.5 L622.0,871.5 L623.5,871.5 L625.0,871.5 L626.5,871.5 L628.0,871.5 L629.5,871.5 L631.0,871.5 L632.5,871.5 L634.0,871.5 L635.5,871.5 L637.0,871.5 L638.5,871.5 L640.0,871.5 L641.5,871.5 L643.0,871.5 L644.5,871.5 L646.0,871.5 L647.5,871.5 L649.0,871.5 L650.5,871.5 L652.0,871.5 L653.5,871.5 L655.0,871.5 L656.5,871.5 L658.0,871.5 L659.5,871.5 L661.0,871.5 L662.5,871.5 L664.0,871.4 L665.5,871.4 L667.0,871.4 L668.5,871.4 L670.0,871.4 L671.5,871.4 L673.0,871.3 L674.5,871.3 L676.0,871.3 L677.5,871.3 L679.0,871.2 L680.5,871.2 L682.0,871.1 L683.5,871.0 L685.0,871.0 L686.5,870.9 L688.0,870.8 L689.5,870.7 L691.0,870.6 L692.5,870.4 L694.0,870.2 L695.5,870.1 L697.0,869.9 L698.5,869.6 L700.0,869.4 L701.5,869.1 L703.0,868.7 L704.5,868.4 L706.0,868.0 L707.5,867.5 L709.0,867.0 L710.5,866.4 L712.0,865.8 L713.5,865.1 L715.0,864.4 L716.5,863.5 L718.0,862.6 L719.5,861.7 L721.0,860.6 L722.5,859.4 L724.0,858.1 L725.5,856.7 L727.0,855.3 L728.5,853.6 L730.0,851.9 L731.5,850.1 L733.0,848.1 L734.5,846.0 L736.0,843.7 L737.5,841.3 L739.0,838.8 L740.5,836.1 L742.0,833.2 L743.5,830.2 L745.0,827.1 L746.5,823.8 L748.0,820.4 L749.5,816.8 L751.0,813.1 L752.5,809.3 L754.0,805.3 L755.5,801.2 L757.0,797.1 L758.5,792.8 L760.0,788.4 L761.5,784.0 L763.0,779.5 L764.5,774.9 L766.0,770.3 L767.5,765.7 L769.0,761.1 L770.5,756.6 L772.0,752.0 L773.5,747.5 L775.0,743.2 L776.5,738.9 L778.0,734.7 L779.5,730.7 L781.0,726.8 L782.5,723.1 L784.0,719.6 L785.5,716.3 L787.0,713.2 L788.5,710.4 L790.0,707.9 L791.5,705.7 L793.0,703.7 L794.5,702.0 L796.0,700.7 L797.5,699.6 L799.0,698.9 L800.5,698.6 L802.0,698.5 L803.5,698.8 L805.0,699.4 L806.5,700.4 L808.0,701.6 L809.5,703.2 L811.0,705.1 L812.5,707.3 L814.0,709.7 L815.5,712.5 L817.0,715.5 L818.5,718.7 L820.0,722.1 L821.5,725.8 L823.0,729.6 L824.5,733.6 L826.0,737.7 L827.5,742.0 L829.0,746.4 L830.5,750.8 L832.0,755.3 L833.5,759.9 L835.0,764.5 L836.5,769.1 L838.0,773.7 L839.5,778.2 L841.0,782.8 L842.5,787.2 L844.0,791.6 L845.5,795.9 L847.0,800.1 L848.5,804.2 L850.0,808.2 L851.5,812.1 L853.0,815.8 L854.5,819.5 L856.0,822.9 L857.5,826.2 L859.0,829.4 L860.5,832.4 L862.0,835.3 L863.5,838.0 L865.0,840.6 L866.5,843.1 L868.0,845.4 L869.5,847.5 L871.0,849.5 L872.5,851.4 L874.0,853.2 L875.5,854.8 L877.0,856.4 L878.5,857.8 L880.0,859.1 L881.5,860.3 L883.0,861.4 L884.5,862.4 L886.0,863.3 L887.5,864.2 L889.0,864.9 L890.5,865.6 L892.0,866.3 L893.5,866.8 L895.0,867.4 L896.5,867.8 L898.0,868.3 L899.5,868.6 L901.0,869.0 L902.5,869.3 L904.0,869.6 L905.5,869.8 L907.0,870.0 L908.5,870.2 L910.0,870.4 L911.5,870.5 L913.0,870.6 L914.5,870.8 L916.0,870.9 L917.5,870.9 L919.0,871.0 L920.5,871.1 L922.0,871.1 L923.5,871.2 L925.0,871.2 L926.5,871.3 L928.0,871.3 L929.5,871.3 L931.0,871.4 L932.5,871.4 L934.0,871.4 L935.5,871.4 L937.0,871.4 L938.5,871.4 L940.0,871.5 L941.5,871.5 L943.0,871.5 L944.5,871.5 L946.0,871.5 L947.5,871.5 L949.0,871.5 L950.5,871.5 L952.0,871.5 L953.5,871.5 L955.0,871.5 L956.5,871.5 L958.0,871.5 L959.5,871.5 L961.0,871.5 L962.5,871.5 L964.0,871.5 L965.5,871.5 L967.0,871.5 L968.5,871.5 L970.0,871.5 L971.5,871.5 L973.0,871.5 L974.5,871.5 L976.0,871.5 L977.5,871.5 L979.0,871.5 L980.5,871.5 L982.0,871.5 L983.5,871.5 L985.0,871.5 L986.5,871.5 L988.0,871.5 L989.5,871.5 L991.0,871.5 L992.5,871.5 L994.0,871.5 L995.5,871.5 L997.0,871.5 L998.5,871.5 L1000.0,871.5 L1001.5,871.5 L1003.0,871.5 L1004.5,871.5 L1006.0,871.5 L1007.5,871.5 L1009.0,871.5 L1010.5,871.5 L1012.0,871.5 L1013.5,871.5 L1015.0,871.5 L1016.5,871.5 L1018.0,871.5 L1019.5,871.5 L1021.0,871.5 L1022.5,871.5 L1024.0,871.5 L1025.5,871.5 L1027.0,871.5 L1028.5,871.5 L1030.0,871.5 L1031.5,871.5 L1033.0,871.5 L1034.5,871.5 L1036.0,871.5 L1037.5,871.5 L1039.0,871.5 L1040.5,871.5 L1042.0,871.5 L1043.5,871.5 L1045.0,871.5 L1046.5,871.5 L1048.0,871.5 L1049.5,871.5 L1051.0,871.5 L1052.5,871.5 L1054.0,871.5 L1055.5,871.5 L1057.0,871.5 L1058.5,871.5 L1060.0,871.5 L1061.5,871.5 L1063.0,871.5 L1064.5,871.5 L1066.0,871.5 L1067.5,871.5 L1069.0,871.5 L1070.5,871.5 L1072.0,871.5 L1073.5,871.5 L1075.0,871.5 L1076.5,871.5 L1078.0,871.5 L1079.5,871.5 L1081.0,871.5 L1082.5,871.5 L1084.0,871.5 L1085.5,871.5 L1087.0,871.5 L1088.5,871.5 L1090.0,871.5 L1091.5,871.5 L1093.0,871.5 L1094.5,871.5 L1096.0,871.5 L1097.5,871.5 L1099.0,871.5 L1100.5,871.5 L1102.0,871.5 L1103.5,871.5 L1105.0,871.5 L1106.5,871.5 L1108.0,871.5 L1109.5,871.5 L1111.0,871.5 L1112.5,871.5 L1114.0,871.5 L1115.5,871.5 L1117.0,871.5 L1118.5,871.5 L1120.0,871.5 L1121.5,871.5 L1123.0,871.5 L1124.5,871.5 L1126.0,871.5 L1127.5,871.5 L1129.0,871.5 L1130.5,871.5 L1132.0,871.5 L1133.5,871.5 L1135.0,871.5 L1136.5,871.5 L1138.0,871.5 L1139.5,871.5 L1141.0,871.5 L1142.5,871.5 L1144.0,871.5 L1145.5,871.5 L1147.0,871.5 L1148.5,871.5 L1150.0,871.5 L1151.5,871.5 L1153.0,871.5 L1154.5,871.5 L1156.0,871.5 L1157.5,871.5 L1159.0,871.5 L1160.5,871.5 L1162.0,871.5 L1163.5,871.5 L1165.0,871.5 L1166.5,871.5 L1168.0,871.5 L1169.5,871.5 L1171.0,871.5 L1172.5,871.5 L1174.0,871.5 L1175.5,871.5 L1177.0,871.5 L1178.5,871.5 L1180.0,871.5 L1181.5,871.5 L1183.0,871.5 L1184.5,871.5 L1186.0,871.5 L1187.5,871.5 L1189.0,871.5 L1190.5,871.5 L1192.0,871.5 L1193.5,871.5 L1195.0,871.5 L1196.5,871.5 L1198.0,871.5 L1199.5,871.5 L1201.0,871.5 L1202.5,871.5 L1204.0,871.5 L1205.5,871.5 L1207.0,871.5 L1208.5,871.5 L1210.0,871.5 L1211.5,871.5 L1213.0,871.5 L1214.5,871.5 L1216.0,871.5 L1217.5,871.5 L1219.0,871.5 L1220.5,871.5 L1222.0,871.5 L1223.0,871.5" fill="none" stroke="#ff8000" stroke-width="4" stroke-linejoin="round"/>
<path d="M163.1,871.5 L164.6,871.5 L166.1,871.5 L167.6,871.5 L169.1,871.5 L170.6,871.5 L172.1,871.5 L173.6,871.5 L175.1,871.5 L176.6,871.5 L178.1,871.5 L179.6,871.5 L181.1,871.5 L182.6,871.5 L184.1,871.5 L185.6,871.5 L187.1,871.5 L188.6,871.5 L190.1,871.5 L191.6,871.5 L193.1,871.5 L194.6,871.5 L196.1,871.5 L197.6,871.5 L199.1,871.5 L200.6,871.5 L202.1,871.5 L203.6,871.5 L205.1,871.5 L206.6,871.5 L208.1,871.5 L209.6,871.5 L211.1,871.5 L212.6,871.5 L214.1,871.5 L215.6,871.5 L217.1,871.5 L218.6,871.5 L220.1,871.5 L221.6,871.5 L223.1,871.5 L224.6,871.5 L226.1,871.5 L227.6,871.5 L229.1,871.5 L230.6,871.5 L232.1,871.5 L233.6,871.5 L235.1,871.5 L236.6,871.5 L238.1,871.5 L239.6,871.5 L241.1,871.5 L242.6,871.5 L244.1,871.5 L245.6,871.5 L247.1,871.5 L248.6,871.5 L250.1,871.5 L251.6,871.5 L253.1,871.5 L254.6,871.5 L256.1,871.5 L257.6,871.5 L259.1,871.5 L260.6,871.5 L262.1,871.5 L263.6,871.5 L265.1,871.5 L266.6,871.5 L268.1,871.5 L269.6,871.5 L271.1,871.5 L272.6,871.5 L274.1,871.5 L275.6,871.5 L277.1,871.5 L278.6,871.5 L280.1,871.5 L281.6,871.5 L283.1,871.5 L284.6,871.5 L286.1,871.5 L287.6,871.5 L289.1,871.5 L290.6,871.5 L292.1,871.5 L293.6,871.5 L295.1,871.5 L296.6,871.5 L298.1,871.5 L299.6,871.5 L301.1,871.5 L302.6,871.5 L304.1,871.5 L305.6,871.5 L307.1,871.5 L308.6,871.5 L310.1,871.5 L311.6,871.5 L313.1,871.5 L314.6,871.5 L316.1,871.5 L317.6,871.5 L319.1,871.5 L320.6,871.5 L322.1,871.5 L323.6,871.5 L325.1,871.5 L326.6,871.5 L328.1,871.5 L329.6,871.5 L331.1,871.5 L332.6,871.5 L334.1,871.5 L335.6,871.5 L337.1,871.5 L338.6,871.5 L340.1,871.5 L341.6,871.5 L343.1,871.5 L344.6,871.5 L346.1,871.5 L347.6,871.5 L349.1,871.5 L350.6,871.5 L352.1,871.5 L353.6,871.5 L355.1,871.5 L356.6,871.5 L358.1,871.5 L359.6,871.5 L361.1,871.5 L362.6,871.5 L364.1,871.5 L365.6,871.5 L367.1,871.5 L368.6,871.5 L370.1,871.5 L371.6,871.5 L373.1,871.5 L374.6,871.5 L376.1,871.5 L377.6,871.5 L379.1,871.5 L380.6,871.5 L382.1,871.5 L383.6,871.5 L385.1,871.5 L386.6,871.5 L388.1,871.5 L389.6,871.5 L391.1,871.5 L392.6,871.5 L394.1,871.5 L395.6,871.5 L397.1,871.5 L398.6,871.5 L400.1,871.5 L401.6,871.5 L403.1,871.5 L404.6,871.5 L406.1,871.5 L407.6,871.5 L409.1,871.5 L410.6,871.5 L412.1,871.5 L413.6,871.5 L415.1,871.5 L416.6,871.5 L418.1,871.5 L419.6,871.5 L421.1,871.5 L422.6,871.5 L424.1,871.5 L425.6,871.5 L427.1,871.5 L428.6,871.5 L430.1,871.5 L431.6,871.5 L433.1,871.5 L434.6,871.5 L436.1,871.5 L437.6,871.5 L439.1,871.5 L440.6,871.5 L442.1,871.5 L443.6,871.5 L445.1,871.5 L446.6,871.5 L448.1,871.5 L449.6,871.5 L451.1,871.5 L452.6,871.5 L454.1,871.5 L455.6,871.5 L457.1,871.5 L458.6,871.5 L460.1,871.5 L461.6,871.5 L463.1,871.5 L464.6,871.5 L466.1,871.5 L467.6,871.5 L469.1,871.5 L470.6,871.5 L472.1,871.5 L473.6,871.5 L475.1,871.5 L476.6,871.5 L478.1,871.5 L479.6,871.5 L481.1,871.5 L482.6,871.5 L484.1,871.5 L485.6,871.5 L487.1,871.5 L488.6,871.5 L490.1,871.5 L491.6,871.5 L493.1,871.5 L494.6,871.5 L496.1,871.5 L497.6,871.5 L499.1,871.5 L500.6,871.5 L502.1,871.5 L503.6,871.5 L505.1,871.5 L506.6,871.5 L508.1,871.5 L509.6,871.5 L511.1,871.5 L512.5,871.5 L514.0,871.5 L515.5,871.5 L517.0,871.5 L518.5,871.5 L520.0,871.5 L521.5,871.5 L523.0,871.5 L524.5,871.5 L526.0,871.5 L527.5,871.5 L529.0,871.5 L530.5,871.5 L532.0,871.5 L533.5,871.5 L535.0,871.5 L536.5,871.5 L538.0,871.5 L539.5,871.5 L541.0,871.5 L542.5,871.5 L544.0,871.5 L545.5,871.5 L547.0,871.5 L548.5,871.5 L550.0,871.5 L551.5,871.5 L553.0,871.5 L554.5,871.5 L556.0,871.5 L557.5,871.5 L559.0,871.5 L560.5,871.5 L562.0,871.5 L563.5,871.5 L565.0,871.5 L566.5,871.5 L568.0,871.5 L569.5,871.5 L571.0,871.5 L572.5,871.5 L574.0,871.5 L575.5,871.5 L577.0,871.5 L578.5,871.5 L580.0,871.5 L581.5,871.5 L583.0,871.5 L584.5,871.5 L586.0,871.5 L587.5,871.5 L589.0,871.5 L590.5,871.5 L592.0,871.5 L593.5,871.5 L595.0,871.5 L596.5,871.5 L598.0,871.5 L599.5,871.5 L601.0,871.5 L602.5,871.5 L604.0,871.5 L605.5,871.5 L607.0,871.5 L608.5,871.5 L610.0,871.5 L611.5,871.5 L613.0,871.5 L614.5,871.5 L616.0,871.5 L617.5,871.5 L619.0,871.5 L620.5,871.5 L622.0,871.5 L623.5,871.5 L625.0,871.5 L626.5,871.5 L628.0,871.5 L629.5,871.5 L631.0,871.5 L632.5,871.5 L634.0,871.5 L635.5,871.5 L637.0,871.5 L638.5,871.5 L640.0,871.5 L641.5,871.5 L643.0,871.5 L644.5,871.5 L646.0,871.5 L647.5,871.5 L649.0,871.5 L650.5,871.5 L652.0,871.5 L653.5,871.5 L655.0,871.5 L656.5,871.5 L658.0,871.5 L659.5,871.5 L661.0,871.5 L662.5,871.5 L664.0,871.5 L665.5,871.5 L667.0,871.5 L668.5,871.5 L670.0,871.5 L671.5,871.5 L673.0,871.5 L674.5,871.5 L676.0,871.5 L677.5,871.5 L679.0,871.5 L680.5,871.5 L682.0,871.5 L683.5,871.4 L685.0,871.4 L686.5,871.4 L688.0,871.4 L689.5,871.4 L691.0,871.4 L692.5,871.4 L694.0,871.4 L695.5,871.4 L697.0,871.4 L698.5,871.4 L700.0,871.4 L701.5,871.4 L703.0,871.4 L704.5,871.4 L706.0,871.4 L707.5,871.4 L709.0,871.3 L710.5,871.3 L712.0,871.3 L713.5,871.3 L715.0,871.3 L716.5,871.3 L718.0,871.3 L719.5,871.3 L721.0,871.2 L722.5,871.2 L724.0,871.2 L725.5,871.2 L727.0,871.2 L728.5,871.1 L730.0,871.1 L731.5,871.1 L733.0,871.1 L734.5,871.1 L736.0,871.0 L737.5,871.0 L739.0,871.0 L740.5,870.9 L742.0,870.9 L743.5,870.9 L745.0,870.8 L746.5,870.8 L748.0,870.8 L749.5,870.7 L751.0,870.7 L752.5,870.6 L754.0,870.6 L755.5,870.5 L757.0,870.5 L758.5,870.4 L760.0,870.4 L761.5,870.3 L763.0,870.2 L764.5,870.2 L766.0,870.1 L767.5,870.0 L769.0,869.9 L770.5,869.9 L772.0,869.8 L773.5,869.7 L775.0,869.6 L776.5,869.5 L778.0,869.4 L779.5,869.3 L781.0,869.2 L782.5,869.1 L784.0,869.0 L785.5,868.8 L787.0,868.7 L788.5,868.6 L790.0,868.4 L791.5,868.3 L793.0,868.1 L794.5,868.0 L796.0,867.8 L797.5,867.7 L799.0,867.5 L800.5,867.3 L802.0,867.1 L803.5,866.9 L805.0,866.7 L806.5,866.5 L808.0,866.3 L809.5,866.1 L811.0,865.9 L812.5,865.7 L814.0,865.4 L815.5,865.2 L817.0,864.9 L818.5,864.6 L820.0,864.4 L821.5,864.1 L823.0,863.8 L824.5,863.5 L826.0,863.2 L827.5,862.9 L829.0,862.6 L830.5,862.2 L832.0,861.9 L833.5,861.6 L835.0,861.2 L836.5,860.8 L838.0,860.5 L839.5,860.1 L841.0,859.7 L842.5,859.3 L844.0,858.9 L845.5,858.4 L847.0,858.0 L848.5,857.6 L850.0,857.1 L851.5,856.6 L853.0,856.2 L854.5,855.7 L856.0,855.2 L857.5,854.7 L859.0,854.2 L860.5,853.7 L862.0,853.1 L863.5,852.6 L865.0,852.1 L866.5,851.5 L868.0,851.0 L869.5,850.4 L871.0,849.8 L872.5,849.2 L874.0,848.6 L875.5,848.0 L877.0,847.4 L878.5,846.8 L880.0,846.2 L881.5,845.5 L883.0,844.9 L884.5,844.3 L886.0,843.6 L887.5,843.0 L889.0,842.3 L890.5,841.6 L892.0,841.0 L893.5,840.3 L895.0,839.6 L896.5,838.9 L898.0,838.2 L899.5,837.6 L901.0,836.9 L902.5,836.2 L904.0,835.5 L905.5,834.8 L907.0,834.1 L908.5,833.4 L910.0,832.7 L911.5,832.0 L913.0,831.3 L914.5,830.7 L916.0,830.0 L917.5,829.3 L919.0,828.6 L920.5,827.9 L922.0,827.3 L923.5,826.6 L925.0,825.9 L926.5,825.3 L928.0,824.7 L929.5,824.0 L931.0,823.4 L932.5,822.8 L934.0,822.2 L935.5,821.6 L937.0,821.0 L938.5,820.4 L940.0,819.8 L941.5,819.3 L943.0,818.7 L944.5,818.2 L946.0,817.7 L947.5,817.2 L949.0,816.7 L950.5,816.2 L952.0,815.7 L953.5,815.3 L955.0,814.9 L956.5,814.5 L958.0,814.1 L959.5,813.7 L961.0,813.3 L962.5,813.0 L964.0,812.7 L965.5,812.4 L967.0,812.1 L968.5,811.8 L970.0,811.6 L971.5,811.3 L973.0,811.1 L974.5,810.9 L976.0,810.8 L977.5,810.6 L979.0,810.5 L980.5,810.4 L982.0,810.3 L983.5,810.3 L985.0,810.2 L986.5,810.2 L988.0,810.2 L989.5,810.2 L991.0,810.3 L992.5,810.3 L994.0,810.4 L995.5,810.5 L997.0,810.7 L998.5,810.8 L1000.0,811.0 L1001.5,811.2 L1003.0,811.4 L1004.5,811.6 L1006.0,811.9 L1007.5,812.1 L1009.0,812.4 L1010.5,812.7 L1012.0,813.1 L1013.5,813.4 L1015.0,813.8 L1016.5,814.2 L1018.0,814.6 L1019.5,815.0 L1021.0,815.4 L1022.5,815.9 L1024.0,816.3 L1025.5,816.8 L1027.0,817.3 L1028.5,817.8 L1030.0,818.3 L1031.5,818.9 L1033.0,819.4 L1034.5,820.0 L1036.0,820.5 L1037.5,821.1 L1039.0,821.7 L1040.5,822.3 L1042.0,822.9 L1043.5,823.6 L1045.0,824.2 L1046.5,824.8 L1048.0,825.5 L1049.5,826.1 L1051.0,826.8 L1052.5,827.4 L1054.0,828.1 L1055.5,828.8 L1057.0,829.5 L1058.5,830.2 L1060.0,830.8 L1061.5,831.5 L1063.0,832.2 L1064.5,832.9 L1066.0,833.6 L1067.5,834.3 L1069.0,835.0 L1070.5,835.7 L1072.0,836.4 L1073.5,837.1 L1075.0,837.7 L1076.5,838.4 L1078.0,839.1 L1079.5,839.8 L1081.0,840.5 L1082.5,841.1 L1084.0,841.8 L1085.5,842.5 L1087.0,843.1 L1088.5,843.8 L1090.0,844.4 L1091.5,845.1 L1093.0,845.7 L1094.5,846.3 L1096.0,847.0 L1097.5,847.6 L1099.0,848.2 L1100.5,848.8 L1102.0,849.4 L1103.5,850.0 L1105.0,850.5 L1106.5,851.1 L1108.0,851.7 L1109.5,852.2 L1111.0,852.8 L1112.5,853.3 L1114.0,853.8 L1115.5,854.3 L1117.0,854.8 L1118.5,855.3 L1120.0,855.8 L1121.5,856.3 L1123.0,856.8 L1124.5,857.2 L1126.0,857.7 L1127.5,858.1 L1129.0,858.5 L1130.5,859.0 L1132.0,859.4 L1133.5,859.8 L1135.0,860.2 L1136.5,860.6 L1138.0,860.9 L1139.5,861.3 L1141.0,861.6 L1142.5,862.0 L1144.0,862.3 L1145.5,862.7 L1147.0,863.0 L1148.5,863.3 L1150.0,863.6 L1151.5,863.9 L1153.0,864.2 L1154.5,864.4 L1156.0,864.7 L1157.5,865.0 L1159.0,865.2 L1160.5,865.5 L1162.0,865.7 L1163.5,865.9 L1165.0,866.2 L1166.5,866.4 L1168.0,866.6 L1169.5,866.8 L1171.0,867.0 L1172.5,867.2 L1174.0,867.4 L1175.5,867.5 L1177.0,867.7 L1178.5,867.9 L1180.0,868.0 L1181.5,868.2 L1183.0,868.3 L1184.5,868.5 L1186.0,868.6 L1187.5,868.7 L1189.0,868.9 L1190.5,869.0 L1192.0,869.1 L1193.5,869.2 L1195.0,869.3 L1196.5,869.4 L1198.0,869.5 L1199.5,869.6 L1201.0,869.7 L1202.5,869.8 L1204.0,869.9 L1205.5,870.0 L1207.0,870.0 L1208.5,870.1 L1210.0,870.2 L1211.5,870.2 L1213.0,870.3 L1214.5,870.4 L1216.0,870.4 L1217.5,870.5 L1219.0,870.5 L1220.5,870.6 L1222.0,870.6 L1223.0,870.7" fill="none" stroke="#00ff00" stroke-width="4" stroke-linejoin="round"/>
</g>
<rect x="163.05" y="115.10" width="1060.00" height="787.70" fill="none" stroke="#000" stroke-width="3.9"/>
<line x1="148.0" y1="871.80" x2="163.05" y2="871.80" stroke="#000" stroke-width="3.9" stroke-linecap="round"/>
<text x="137.0" y="879.8" text-anchor="end" style="font-family:'Liberation Serif',serif;font-weight:bold;font-size:28px">0</text>
<line x1="155.6" y1="808.73" x2="163.05" y2="808.73" stroke="#000" stroke-width="3.9" stroke-linecap="round"/>
<line x1="148.0" y1="745.67" x2="163.05" y2="745.67" stroke="#000" stroke-width="3.9" stroke-linecap="round"/>
<text x="137.0" y="753.7" text-anchor="end" style="font-family:'Liberation Serif',serif;font-weight:bold;font-size:28px">1000</text>
<line x1="155.6" y1="682.61" x2="163.05" y2="682.61" stroke="#000" stroke-width="3.9" stroke-linecap="round"/>
<line x1="148.0" y1="619.54" x2="163.05" y2="619.54" stroke="#000" stroke-width="3.9" stroke-linecap="round"/>
<text x="137.0" y="627.5" text-anchor="end" style="font-family:'Liberation Serif',serif;font-weight:bold;font-size:28px">2000</text>
<line x1="155.6" y1="556.47" x2="163.05" y2="556.47" stroke="#000" stroke-width="3.9" stroke-linecap="round"/>
<line x1="148.0" y1="493.41" x2="163.05" y2="493.41" stroke="#000" stroke-width="3.9" stroke-linecap="round"/>
<text x="137.0" y="501.4" text-anchor="end" style="font-family:'Liberation Serif',serif;font-weight:bold;font-size:28px">3000</text>
<line x1="155.6" y1="430.34" x2="163.05" y2="430.34" stroke="#000" stroke-width="3.9" stroke-linecap="round"/>
<line x1="148.0" y1="367.28" x2="163.05" y2="367.28" stroke="#000" stroke-width="3.9" stroke-linecap="round"/>
<text x="137.0" y="375.3" text-anchor="end" style="font-family:'Liberation Serif',serif;font-weight:bold;font-size:28px">4000</text>
<line x1="155.6" y1="304.22" x2="163.05" y2="304.22" stroke="#000" stroke-width="3.9" stroke-linecap="round"/>
<line x1="148.0" y1="241.15" x2="163.05" y2="241.15" stroke="#000" stroke-width="3.9" stroke-linecap="round"/>
<text x="137.0" y="249.1" text-anchor="end" style="font-family:'Liberation Serif',serif;font-weight:bold;font-size:28px">5000</text>
<line x1="155.6" y1="178.09" x2="163.05" y2="178.09" stroke="#000" stroke-width="3.9" stroke-linecap="round"/>
<line x1="148.0" y1="115.02" x2="163.05" y2="115.02" stroke="#000" stroke-width="3.9" stroke-linecap="round"/>
<text x="137.0" y="123.0" text-anchor="end" style="font-family:'Liberation Serif',serif;font-weight:bold;font-size:28px">6000</text>
<line x1="163.05" y1="902.8" x2="163.05" y2="910.4" stroke="#000" stroke-width="3.9" stroke-linecap="round"/>
<line x1="229.30" y1="902.8" x2="229.30" y2="918.4" stroke="#000" stroke-width="3.9" stroke-linecap="round"/>
<text x="229.30" y="951.0" text-anchor="middle" style="font-family:'Liberation Serif',serif;font-weight:bold;font-size:28px">775</text>
<line x1="295.55" y1="902.8" x2="295.55" y2="910.4" stroke="#000" stroke-width="3.9" stroke-linecap="round"/>
<line x1="361.80" y1="902.8" x2="361.80" y2="918.4" stroke="#000" stroke-width="3.9" stroke-linecap="round"/>
<text x="361.80" y="951.0" text-anchor="middle" style="font-family:'Liberation Serif',serif;font-weight:bold;font-size:28px">780</text>
<line x1="428.05" y1="902.8" x2="428.05" y2="910.4" stroke="#000" stroke-width="3.9" stroke-linecap="round"/>
<line x1="494.30" y1="902.8" x2="494.30" y2="918.4" stroke="#000" stroke-width="3.9" stroke-linecap="round"/>
<text x="494.30" y="951.0" text-anchor="middle" style="font-family:'Liberation Serif',serif;font-weight:bold;font-size:28px">785</text>
<line x1="560.55" y1="902.8" x2="560.55" y2="910.4" stroke="#000" stroke-width="3.9" stroke-linecap="round"/>
<line x1="626.80" y1="902.8" x2="626.80" y2="918.4" stroke="#000" stroke-width="3.9" stroke-linecap="round"/>
<text x="626.80" y="951.0" text-anchor="middle" style="font-family:'Liberation Serif',serif;font-weight:bold;font-size:28px">790</text>
<line x1="693.05" y1="902.8" x2="693.05" y2="910.4" stroke="#000" stroke-width="3.9" stroke-linecap="round"/>
<line x1="759.30" y1="902.8" x2="759.30" y2="918.4" stroke="#000" stroke-width="3.9" stroke-linecap="round"/>
<text x="759.30" y="951.0" text-anchor="middle" style="font-family:'Liberation Serif',serif;font-weight:bold;font-size:28px">795</text>
<line x1="825.55" y1="902.8" x2="825.55" y2="910.4" stroke="#000" stroke-width="3.9" stroke-linecap="round"/>
<line x1="891.80" y1="902.8" x2="891.80" y2="918.4" stroke="#000" stroke-width="3.9" stroke-linecap="round"/>
<text x="891.80" y="951.0" text-anchor="middle" style="font-family:'Liberation Serif',serif;font-weight:bold;font-size:28px">800</text>
<line x1="958.05" y1="902.8" x2="958.05" y2="910.4" stroke="#000" stroke-width="3.9" stroke-linecap="round"/>
<line x1="1024.30" y1="902.8" x2="1024.30" y2="918.4" stroke="#000" stroke-width="3.9" stroke-linecap="round"/>
<text x="1024.30" y="951.0" text-anchor="middle" style="font-family:'Liberation Serif',serif;font-weight:bold;font-size:28px">805</text>
<line x1="1090.55" y1="902.8" x2="1090.55" y2="910.4" stroke="#000" stroke-width="3.9" stroke-linecap="round"/>
<line x1="1156.80" y1="902.8" x2="1156.80" y2="918.4" stroke="#000" stroke-width="3.9" stroke-linecap="round"/>
<text x="1156.80" y="951.0" text-anchor="middle" style="font-family:'Liberation Serif',serif;font-weight:bold;font-size:28px">810</text>
<line x1="1223.05" y1="902.8" x2="1223.05" y2="910.4" stroke="#000" stroke-width="3.9" stroke-linecap="round"/>
<text x="691.8" y="1020.6" text-anchor="middle" style="font-family:'Liberation Serif',serif;font-weight:bold;font-size:49px">Binding energy (eV)</text>
<text transform="translate(61.6,504.0) rotate(-90) scale(0.982,1)" text-anchor="middle" style="font-family:'Liberation Serif',serif;font-weight:bold;font-size:49px">Intensity (Arb. unit)</text>
<text transform="translate(546.2,76.8) scale(1,1.03)" style="font-family:'Liberation Serif',serif;font-weight:bold;font-size:86px">Co 2.7</text>
<text transform="translate(173.6,220.0) scale(1.04,1.005)" style="font-family:'Liberation Serif',serif;font-weight:bold;font-size:103px">(c)</text>
<line x1="986.7" y1="135.3" x2="1047.3" y2="135.3" stroke="#000" stroke-width="5.6" stroke-linecap="round"/>
<use href="#dot" x="1016.6" y="135.3"/>
<text x="1055.0" y="144.5" style="font-family:'Liberation Serif',serif;font-weight:bold;font-size:28px">Exp.</text>
<line x1="986.7" y1="170.0" x2="1047.3" y2="170.0" stroke="#ff0000" stroke-width="4" stroke-linecap="round"/>
<text x="1055.0" y="179.2" style="font-family:'Liberation Serif',serif;font-weight:bold;font-size:28px">Fit</text>
<line x1="986.7" y1="208.3" x2="1047.3" y2="208.3" stroke="#0000f5" stroke-width="4" stroke-linecap="round"/>
<text x="1055.0" y="217.5" style="font-family:'Liberation Serif',serif;font-weight:bold;font-size:28px">Co 2p<tspan dy="9.4" style="font-size:17px">3/2</tspan><tspan dy="-9.4"> Co</tspan><tspan dy="-13.5" style="font-size:17px">3+</tspan></text>
<line x1="986.7" y1="255.2" x2="1047.3" y2="255.2" stroke="#ff00ff" stroke-width="4" stroke-linecap="round"/>
<text x="1055.0" y="264.4" style="font-family:'Liberation Serif',serif;font-weight:bold;font-size:28px">Co 2p<tspan dy="9.4" style="font-size:17px">3/2</tspan><tspan dy="-9.4"> Co</tspan><tspan dy="-13.5" style="font-size:17px">2+</tspan></text>
<line x1="986.7" y1="298.6" x2="1047.3" y2="298.6" stroke="#00ffff" stroke-width="4" stroke-linecap="round"/>
<text x="1055.0" y="307.8" style="font-family:'Liberation Serif',serif;font-weight:bold;font-size:28px">Sat.</text>
<line x1="986.7" y1="337.9" x2="1047.3" y2="337.9" stroke="#007300" stroke-width="4" stroke-linecap="round"/>
<text x="1055.0" y="347.1" style="font-family:'Liberation Serif',serif;font-weight:bold;font-size:28px">Co 2p<tspan dy="9.4" style="font-size:17px">1/2</tspan><tspan dy="-9.4"> Co</tspan><tspan dy="-13.5" style="font-size:17px">3+</tspan></text>
<line x1="986.7" y1="384.4" x2="1047.3" y2="384.4" stroke="#ff8000" stroke-width="4" stroke-linecap="round"/>
<text x="1055.0" y="393.6" style="font-family:'Liberation Serif',serif;font-weight:bold;font-size:28px">Co 2p<tspan dy="9.4" style="font-size:17px">1/2</tspan><tspan dy="-9.4"> Co</tspan><tspan dy="-13.5" style="font-size:17px">2+</tspan></text>
<line x1="986.7" y1="428.8" x2="1047.3" y2="428.8" stroke="#00ff00" stroke-width="4" stroke-linecap="round"/>
<text x="1055.0" y="438.0" style="font-family:'Liberation Serif',serif;font-weight:bold;font-size:28px">Sat.</text>
</g>
</svg></body></html>
